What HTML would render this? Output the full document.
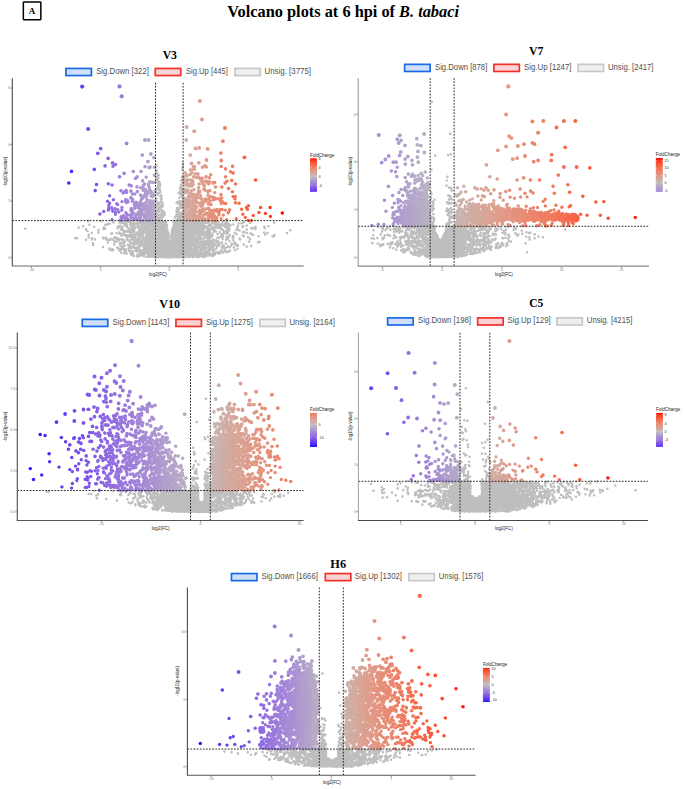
<!DOCTYPE html><html><head><meta charset="utf-8"><style>html,body{margin:0;padding:0;background:#fff;}svg{display:block}</style></head><body><svg width="685" height="789" viewBox="0 0 685 789"><rect width="685" height="789" fill="#fff"/><rect x="23.35" y="1.95" width="17.5" height="17.7" fill="none" stroke="#000" stroke-width="1.5" rx="0.6"/><text x="32" y="14" font-family="'Liberation Serif', serif" font-weight="bold" font-size="9.0" text-anchor="middle">A</text><text x="227.3" y="17.0" font-family="'Liberation Serif', serif" font-weight="bold" font-size="16.4" textLength="231.7" lengthAdjust="spacingAndGlyphs">Volcano plots at 6 hpi of <tspan font-style="italic">B. tabaci</tspan></text><g fill="none" stroke-linecap="round"><path stroke="#bebebe" stroke-width="2.6" d="M25.3 228.7h0M75.3 238.1h0M77.2 238.2h0M78.7 227.6h0M83 226.3h0M85.9 239.8h0M86 229.4h0M87.4 231h0M88.2 220.9h0M88.6 237.4h0M88.7 234.9h0M89.3 224.8h0M91.6 239.5h0M91.7 233h0M92.2 238.3h0M92.9 243.2h0M93.2 245h0M94.1 226.7h0M94.9 239.4h0M98.3 232.8h0M98.6 230.3h0M100.7 221h0M103 237.8h0M103 247.1h0M103.5 229h0M103.6 238.4h0M104 227.2h0M105.1 228.8h0M105.4 224.8h0M106 237.8h0M106.4 239.5h0M107.3 224.5h0M107.9 242.6h0M107.9 223.9h0M108.1 239.9h0M109.4 223.8h0M109.4 249.5h0M109.6 248.5h0M110.3 239.9h0M110.7 238.7h0M111.3 233.5h0M111.7 249.5h0M112 233.4h0M112.1 250.4h0M112.3 249.4h0M113 239.7h0M113.2 249.7h0M113.6 222.5h0M114.1 244.6h0M114.2 238h0M114.6 241.8h0M114.7 241.2h0M114.8 237.2h0M115.5 242h0M116.6 233.2h0M116.7 238.9h0M117 237.7h0M117.3 247.5h0M117.4 241.1h0M117.5 228.1h0M117.6 240.2h0M117.9 248.2h0M118.1 226.6h0M118.8 240.2h0M119.1 232.5h0M119.1 239.1h0M119.3 222.5h0M119.4 248.8h0M119.4 226.7h0M119.5 226.4h0M119.6 233.6h0M119.6 250.8h0M119.9 243.1h0M120.3 245.5h0M120.3 225.9h0M120.4 250.2h0M120.8 229.7h0M120.8 243.4h0M121.1 233.7h0M121.2 252.7h0M121.4 235.8h0M121.4 242.7h0M121.5 239.4h0M121.7 235.5h0M121.7 223.1h0M121.7 248.4h0M121.8 228.1h0M122.3 246.4h0M122.4 227h0M123 221h0M123.1 230h0M123.1 242.2h0M123.3 239.9h0M123.3 248.2h0M123.4 231.4h0M123.6 249.4h0M123.6 222.6h0M123.7 233.8h0M123.7 243.7h0M123.7 234.1h0M123.8 234.2h0M124.2 253.3h0M124.5 225.1h0M124.5 245.7h0M124.7 251.4h0M124.7 250.3h0M124.8 224.4h0M124.9 241.8h0M124.9 231.4h0M125.2 252.1h0M125.3 235.7h0M125.5 252.6h0M125.6 249.2h0M125.7 250.3h0M125.8 224.9h0M125.8 225.8h0M125.8 234.9h0M125.9 222.4h0M125.9 231.4h0M125.9 249.7h0M126 249.8h0M126.1 250.4h0M126.2 222.9h0M126.3 221.2h0M126.6 224.3h0M126.7 239.4h0M126.7 225.3h0M126.8 253.5h0M126.8 235.2h0M126.8 224.7h0M126.8 226.8h0M127.3 236.1h0M127.4 237.7h0M127.4 221h0M127.6 237.3h0M127.8 244.7h0M128 231.6h0M128.2 245.2h0M128.3 227.7h0M128.4 240.4h0M128.4 230.3h0M128.5 235.8h0M128.7 229.3h0M128.8 248.4h0M129.1 236.2h0M129.1 221.9h0M129.2 230.6h0M129.2 250.6h0M129.3 247h0M129.4 231.2h0M129.7 241.1h0M129.7 232h0M129.8 234.8h0M129.8 251.6h0M129.9 220.7h0M130 224.6h0M130.2 251.5h0M130.3 240.6h0M130.3 245.1h0M130.4 242.9h0M130.5 246.3h0M130.6 253.5h0M130.7 246.2h0M130.7 234.3h0M130.7 248.1h0M130.8 222.8h0M130.9 252h0M131 254.5h0M131 232.6h0M131 229.1h0M131.1 228.9h0M131.1 235.3h0M131.2 236.9h0M131.3 235.3h0M131.4 223h0M131.5 235.3h0M131.6 227.9h0M131.7 226.6h0M131.7 237.8h0M131.7 255.3h0M131.7 232.5h0M131.8 228.1h0M131.8 238.9h0M131.9 226.5h0M132 250.7h0M132.1 230.8h0M132.1 254.4h0M132.1 226.2h0M132.4 247.2h0M132.5 225.2h0M132.6 242.9h0M132.7 252.3h0M132.8 243.1h0M132.8 243.4h0M132.9 253.8h0M132.9 221.8h0M132.9 247.2h0M133 220.7h0M133.1 228.8h0M133.1 221.6h0M133.2 254.6h0M133.2 236.9h0M133.3 223.2h0M133.3 236.2h0M133.4 237.9h0M133.4 235h0M133.5 229.4h0M133.5 240.5h0M133.5 228.1h0M133.5 247.5h0M133.6 229h0M133.6 222.9h0M133.7 234.6h0M133.7 245.6h0M134 227.3h0M134 256h0M134.1 232h0M134.1 235.5h0M134.1 224.6h0M134.2 230.9h0M134.3 234.4h0M134.4 247.7h0M134.5 226.5h0M134.6 236.4h0M134.6 234.6h0M134.6 233.3h0M134.6 242.4h0M134.6 228.7h0M134.6 247.6h0M134.8 242.3h0M135 240.7h0M135 250.7h0M135.1 227.2h0M135.2 243.7h0M135.2 238h0M135.5 239.1h0M135.5 234.8h0M135.8 249.8h0M135.8 241.2h0M135.8 234.6h0M135.9 244.1h0M136 223.8h0M136.3 249.6h0M136.3 243.8h0M136.3 223.4h0M136.4 240.3h0M136.5 234.8h0M136.5 247.5h0M136.6 235.5h0M136.6 239.7h0M136.7 223.8h0M136.8 235.1h0M136.9 251h0M136.9 251.5h0M137 248.3h0M137 251h0M137 223.2h0M137.1 256.5h0M137.1 226.8h0M137.1 239.2h0M137.2 232.6h0M137.3 235h0M137.3 241.6h0M137.3 233h0M137.4 240.3h0M137.5 254.6h0M137.5 255.5h0M137.6 248.3h0M137.6 226.7h0M137.6 255.2h0M137.6 234.8h0M137.6 256h0M137.8 233.4h0M137.8 238.8h0M138.1 224.1h0M138.1 226.6h0M138.1 242.5h0M138.3 238h0M138.3 254.9h0M138.4 232.4h0M138.4 233h0M138.4 223.5h0M138.5 227.8h0M138.5 245.3h0M138.6 247.4h0M138.6 256.3h0M138.8 243.8h0M138.8 240.7h0M138.8 232.7h0M138.8 249.9h0M138.8 249.3h0M138.9 246h0M138.9 221.2h0M139 233.8h0M139.1 244.5h0M139.1 251.3h0M139.1 243.9h0M139.2 255.8h0M139.2 244.2h0M139.3 229.4h0M139.4 223.2h0M139.4 233.3h0M139.5 246.6h0M139.6 252.1h0M139.6 244.8h0M139.6 223h0M139.7 245.4h0M139.7 231.7h0M139.7 236.3h0M139.8 238.5h0M139.8 231.9h0M139.8 252.1h0M139.8 235.7h0M139.8 251.7h0M139.8 246.6h0M139.9 220.7h0M139.9 226.2h0M140 233.2h0M140 253.9h0M140 240.2h0M140 238.7h0M140 245.6h0M140.1 254.7h0M140.1 231.5h0M140.1 237.2h0M140.3 245.5h0M140.3 244.9h0M140.5 233.5h0M140.5 221.6h0M140.5 250.1h0M140.6 255h0M140.8 241.3h0M140.9 226h0M140.9 242.7h0M140.9 235.8h0M141 230.8h0M141 228.7h0M141.1 234.7h0M141.1 255.5h0M141.2 226.4h0M141.2 252h0M141.2 226.1h0M141.3 233.6h0M141.3 240.4h0M141.3 245.6h0M141.4 230.7h0M141.4 222.2h0M141.5 230.6h0M141.5 228.5h0M141.5 228.8h0M141.5 229.9h0M141.6 252h0M141.6 222.3h0M141.6 252.7h0M141.7 241.2h0M141.8 224.3h0M141.9 251.8h0M142 254.8h0M142 233.1h0M142.1 240.5h0M142.2 252.2h0M142.2 221.5h0M142.5 235.8h0M142.5 240.5h0M142.7 234.3h0M142.7 244.3h0M142.7 238.4h0M142.9 236.1h0M142.9 254.7h0M143 250.2h0M143 238.8h0M143 239.6h0M143.2 233.9h0M143.2 244h0M143.3 227.6h0M143.3 238h0M143.4 253.8h0M143.4 252h0M143.4 229.7h0M143.6 244.1h0M143.6 229.4h0M143.6 225.3h0M143.6 233.1h0M143.6 231.2h0M143.8 231.2h0M143.8 247.4h0M143.9 242.5h0M143.9 248.1h0M143.9 228.1h0M144 238.7h0M144 224.2h0M144 255.8h0M144.1 228.6h0M144.1 223.4h0M144.1 252.9h0M144.1 256.4h0M144.1 251.9h0M144.2 251.1h0M144.2 245.5h0M144.3 250.2h0M144.3 254h0M144.3 227h0M144.3 249.9h0M144.3 243.1h0M144.4 226.8h0M144.4 246.9h0M144.5 225.2h0M144.6 229.4h0M144.6 252.5h0M144.7 227.6h0M144.7 238.1h0M144.7 247.3h0M144.8 225.5h0M144.9 247.1h0M144.9 224.2h0M144.9 247.4h0M145 222.3h0M145 224.4h0M145.1 241.7h0M145.1 225.8h0M145.2 246.9h0M145.2 250.9h0M145.2 229.9h0M145.3 240.2h0M145.3 225.9h0M145.4 229.8h0M145.4 226.5h0M145.4 248.9h0M145.4 222.5h0M145.4 223.6h0M145.5 221h0M145.6 237.2h0M145.6 249.6h0M145.7 249h0M145.8 241h0M145.9 221.8h0M145.9 228.8h0M145.9 233h0M146 222.3h0M146 227.7h0M146.1 227.9h0M146.2 247.7h0M146.2 235.6h0M146.2 233.3h0M146.2 251.8h0M146.2 253.3h0M146.3 221.7h0M146.3 242.7h0M146.3 227.1h0M146.3 244.2h0M146.4 226.2h0M146.4 251.3h0M146.5 247.2h0M146.5 248.4h0M146.5 228h0M146.5 241.8h0M146.5 245h0M146.6 237.4h0M146.7 246.1h0M146.7 231.3h0M146.7 244.6h0M146.8 236.9h0M146.8 226.5h0M146.9 237.4h0M146.9 252.7h0M146.9 226.3h0M146.9 230.5h0M147 232.1h0M147 243.9h0M147 256.9h0M147.1 240.4h0M147.2 222.9h0M147.2 220.9h0M147.2 226.3h0M147.2 239.5h0M147.4 248.6h0M147.4 239.9h0M147.4 229.3h0M147.4 238.8h0M147.5 240.5h0M147.5 221.8h0M147.5 226.2h0M147.6 250h0M147.6 235.7h0M147.7 246.3h0M147.7 225.9h0M147.8 227.5h0M147.8 254.3h0M148 249.8h0M148 222.1h0M148 223.7h0M148.1 223.3h0M148.1 254.8h0M148.1 241.7h0M148.1 245.9h0M148.1 226.6h0M148.1 249.7h0M148.1 251.6h0M148.2 222.1h0M148.2 223.9h0M148.3 226.3h0M148.3 234h0M148.4 240.3h0M148.4 249.6h0M148.4 253.2h0M148.4 240.7h0M148.4 244.2h0M148.5 222.4h0M148.5 256.4h0M148.5 235.1h0M148.5 255.4h0M148.6 234h0M148.6 244.8h0M148.6 238.2h0M148.6 227.3h0M148.6 244.8h0M148.7 244.9h0M148.7 237.2h0M148.8 246.7h0M148.8 232.3h0M148.8 225h0M148.8 232.8h0M148.9 226h0M148.9 255.4h0M148.9 233.3h0M148.9 244.6h0M148.9 230.9h0M149 243.8h0M149 227.7h0M149.1 235h0M149.2 253.1h0M149.3 247.7h0M149.3 224.4h0M149.3 224.1h0M149.4 227.7h0M149.4 222.4h0M149.4 250.8h0M149.4 242.6h0M149.5 246.8h0M149.5 247.6h0M149.5 247.8h0M149.5 233h0M149.7 241.2h0M149.8 238.8h0M149.8 236.3h0M149.8 243.9h0M149.8 234.2h0M149.9 227.2h0M149.9 254.4h0M149.9 247.2h0M149.9 255.6h0M149.9 238.4h0M149.9 232.9h0M150 252h0M150 231.4h0M150 228h0M150.1 225.5h0M150.1 245.5h0M150.2 250.5h0M150.2 243.6h0M150.2 241h0M150.4 247.3h0M150.4 237.2h0M150.4 235.6h0M150.4 229.9h0M150.4 241.7h0M150.5 254.5h0M150.5 242.9h0M150.6 241h0M150.6 234.9h0M150.6 227h0M150.6 256.8h0M150.6 249h0M150.7 241.7h0M150.7 245.7h0M150.7 253.9h0M150.8 238.9h0M150.9 237.6h0M150.9 227.9h0M150.9 223h0M150.9 246.5h0M150.9 229.6h0M151 250.3h0M151 235.4h0M151 225.9h0M151 228.1h0M151 251.2h0M151 240.8h0M151.1 242.3h0M151.1 228.1h0M151.1 241.4h0M151.1 225.7h0M151.1 220.9h0M151.1 250.8h0M151.2 233.8h0M151.2 228.5h0M151.3 231.1h0M151.3 246.1h0M151.3 250.4h0M151.3 238h0M151.3 224.3h0M151.4 252.9h0M151.4 255.4h0M151.4 221.8h0M151.4 255.6h0M151.5 231.8h0M151.5 230.5h0M151.6 250.6h0M151.6 224.4h0M151.6 244.9h0M151.7 236.4h0M151.7 250.3h0M151.7 237.5h0M151.7 231.2h0M151.8 246.9h0M151.8 255.4h0M151.8 229.7h0M151.8 250.7h0M151.8 234.4h0M151.9 252.7h0M151.9 242h0M151.9 248.9h0M151.9 228.8h0M151.9 237.9h0M152 234.8h0M152 233.1h0M152 228h0M152.1 221h0M152.1 232.7h0M152.1 230.3h0M152.2 256.6h0M152.2 235.8h0M152.2 223.4h0M152.3 244.7h0M152.3 254.6h0M152.3 235.6h0M152.3 231.6h0M152.3 252.1h0M152.3 221.6h0M152.4 231.2h0M152.4 246.8h0M152.5 248.2h0M152.5 235.1h0M152.5 241.6h0M152.7 241.7h0M152.7 256.5h0M152.7 225.3h0M152.8 252.2h0M152.8 251.4h0M153 228.5h0M153 246.6h0M153 232.7h0M153 254.5h0M153.1 255.6h0M153.1 232.8h0M153.2 247.3h0M153.2 239.2h0M153.2 248.1h0M153.2 236.6h0M153.3 249.4h0M153.3 233.2h0M153.3 225.9h0M153.4 241.8h0M153.5 242.8h0M153.7 230.6h0M153.7 225.3h0M153.7 239h0M153.8 222.9h0M153.8 254.9h0M153.9 235.6h0M153.9 227.9h0M153.9 253.3h0M154 248h0M154 254.1h0M154.1 240.1h0M154.1 245.6h0M154.1 255.9h0M154.1 237h0M154.1 227.4h0M154.2 235.1h0M154.2 255.5h0M154.3 222.3h0M154.3 254.7h0M154.3 230.1h0M154.4 230h0M154.4 221.9h0M154.5 242.9h0M154.5 248.3h0M154.5 223.1h0M154.5 242h0M154.5 250.1h0M154.6 246h0M154.6 241.4h0M154.6 224.5h0M154.6 240.8h0M154.6 232.1h0M154.7 247.9h0M154.7 235.8h0M154.8 237.1h0M154.8 233.9h0M154.8 237h0M154.8 226.5h0M154.8 257.1h0M154.9 246.2h0M154.9 246.8h0M154.9 244.7h0M154.9 248.6h0M154.9 251.1h0M154.9 234.3h0M154.9 231.8h0M154.9 230.2h0M155 244.7h0M155 226.5h0M155 246h0M155 244.9h0M155 250.4h0M155.1 222.5h0M155.1 226h0M155.1 225.7h0M155.1 237.5h0M155.1 250.6h0M155.1 250.5h0M155.1 256.9h0M155.2 224.1h0M155.2 242.3h0M155.2 254.8h0M155.3 251.8h0M155.3 230.6h0M155.4 227.8h0M155.4 222.7h0M155.4 226.4h0M155.5 222.3h0M155.5 248.7h0M155.5 255.7h0M155.6 236.6h0M155.6 234.5h0M155.7 238.4h0M155.7 248.5h0M155.7 241.4h0M155.7 254.1h0M155.7 226.1h0M155.8 253.6h0M155.8 222.7h0M155.9 246.7h0M155.9 229h0M155.9 242.2h0M155.9 224.1h0M155.9 233.8h0M155.9 256.2h0M156 240.7h0M156.1 245.7h0M156.2 230.9h0M156.2 256.4h0M156.2 226.9h0M156.2 257h0M156.2 239.2h0M156.2 241.7h0M156.2 211.9h0M156.2 255.5h0M156.3 169.8h0M156.3 246.8h0M156.3 212.9h0M156.3 245.9h0M156.3 231h0M156.3 179.1h0M156.3 199.7h0M156.3 236.9h0M156.3 239.8h0M156.3 254.4h0M156.3 234.9h0M156.3 251.2h0M156.3 251.9h0M156.3 166.1h0M156.4 198.5h0M156.4 242.4h0M156.4 244.7h0M156.4 253.8h0M156.4 226.2h0M156.4 218.1h0M156.4 243.4h0M156.4 165.8h0M156.4 252.6h0M156.4 239.3h0M156.5 245.9h0M156.5 234.6h0M156.5 240.1h0M156.5 241.1h0M156.5 256.5h0M156.5 246h0M156.5 171.6h0M156.6 233.8h0M156.6 252.1h0M156.6 244.6h0M156.6 192.7h0M156.6 237.9h0M156.6 219h0M156.6 216.1h0M156.7 244.6h0M156.7 241.6h0M156.7 234.8h0M156.7 254h0M156.7 257.3h0M156.7 225.6h0M156.7 239.9h0M156.7 245h0M156.7 206.4h0M156.8 247.3h0M156.8 228.6h0M156.8 219.1h0M156.8 240.8h0M156.8 244.6h0M156.8 240.7h0M156.8 215.1h0M156.8 243.6h0M156.8 246h0M156.8 253.2h0M156.8 251.7h0M156.8 250.4h0M156.8 249.5h0M156.8 244.1h0M156.8 239.3h0M156.8 247.6h0M156.9 248h0M156.9 251.9h0M156.9 253.9h0M156.9 236.7h0M156.9 256.1h0M156.9 236.6h0M156.9 226.8h0M156.9 226.2h0M156.9 251.4h0M156.9 221.3h0M156.9 238.6h0M156.9 256.8h0M156.9 244.3h0M156.9 218.6h0M156.9 205.3h0M156.9 252.7h0M156.9 239.8h0M156.9 257.2h0M157 227h0M157 256.1h0M157 247h0M157 249.9h0M157 233.8h0M157 177.6h0M157 251.8h0M157 246.7h0M157 256.5h0M157.1 234.1h0M157.1 255.7h0M157.1 249.1h0M157.1 226.7h0M157.1 220.7h0M157.1 237.8h0M157.1 188.9h0M157.1 219.5h0M157.1 173.2h0M157.1 202.5h0M157.2 220.7h0M157.2 177.4h0M157.2 254.3h0M157.2 248.6h0M157.2 250.9h0M157.2 239.5h0M157.3 255.6h0M157.3 178.9h0M157.3 229.5h0M157.3 221.2h0M157.3 244.8h0M157.3 237.8h0M157.3 248.1h0M157.3 211.4h0M157.4 252.5h0M157.4 234h0M157.4 208.9h0M157.4 252.6h0M157.4 237.5h0M157.4 252.4h0M157.4 180.9h0M157.4 254.5h0M157.4 240.7h0M157.5 255.8h0M157.5 214.5h0M157.5 256.5h0M157.5 230.8h0M157.5 244h0M157.5 174.1h0M157.5 182h0M157.5 224.1h0M157.5 245.8h0M157.5 223.6h0M157.5 249.3h0M157.5 230.1h0M157.5 241.5h0M157.6 176.1h0M157.6 187.9h0M157.6 220.2h0M157.6 242.1h0M157.6 186.6h0M157.6 255.2h0M157.6 254.4h0M157.6 244.3h0M157.7 232.8h0M157.7 246.1h0M157.7 242.4h0M157.7 221h0M157.7 248.8h0M157.7 244.7h0M157.7 221.8h0M157.8 250.5h0M157.8 233.2h0M157.8 195h0M157.8 251.1h0M157.8 178.4h0M157.9 222h0M157.9 247.4h0M157.9 238.1h0M157.9 239.7h0M157.9 255.9h0M157.9 233.1h0M157.9 194.7h0M157.9 220.7h0M158 218.1h0M158 184.5h0M158 240h0M158 248.9h0M158.1 233.1h0M158.1 251.6h0M158.1 225.2h0M158.1 208.9h0M158.1 252.2h0M158.1 223.3h0M158.1 243.3h0M158.1 255.8h0M158.1 182.9h0M158.1 204.2h0M158.1 255.6h0M158.2 182.4h0M158.2 230h0M158.2 235.7h0M158.2 239.3h0M158.2 247.6h0M158.2 250.6h0M158.2 236.3h0M158.2 240.8h0M158.3 232.1h0M158.3 237.6h0M158.3 229.3h0M158.3 178.1h0M158.3 246.1h0M158.3 249.5h0M158.4 243.7h0M158.4 241h0M158.4 248.7h0M158.4 255.2h0M158.4 242.5h0M158.5 228.8h0M158.5 240.7h0M158.5 234.3h0M158.5 244.1h0M158.5 246.3h0M158.5 240.8h0M158.5 218h0M158.5 255.9h0M158.5 224.7h0M158.5 239.5h0M158.5 253.9h0M158.6 250.7h0M158.6 233.3h0M158.6 221.5h0M158.6 228.2h0M158.6 228.4h0M158.6 209.5h0M158.6 252.2h0M158.6 248.5h0M158.6 233.6h0M158.6 229h0M158.6 212h0M158.6 252.7h0M158.7 247.5h0M158.7 189.6h0M158.7 254.7h0M158.7 250.4h0M158.7 253.1h0M158.7 175.2h0M158.7 253h0M158.7 237.2h0M158.8 244.1h0M158.8 250h0M158.8 242.5h0M158.8 254.3h0M158.8 248.3h0M158.8 218.4h0M158.8 243.2h0M158.8 230.9h0M158.8 230.9h0M158.8 252.2h0M158.8 232.6h0M158.8 252.7h0M158.8 237.3h0M158.8 255.5h0M158.8 254.2h0M158.9 257.1h0M158.9 220.9h0M158.9 256.5h0M158.9 242.9h0M158.9 242h0M159 256.7h0M159 228.1h0M159 227.1h0M159 247h0M159 181.8h0M159 238h0M159 202.7h0M159 238.1h0M159 215h0M159 245.3h0M159.1 238.5h0M159.1 236.8h0M159.1 193h0M159.1 234.1h0M159.1 242.2h0M159.1 246.7h0M159.1 230.7h0M159.2 237.7h0M159.2 237.2h0M159.2 207.8h0M159.2 236.4h0M159.2 253.8h0M159.2 245.6h0M159.2 230h0M159.2 223.1h0M159.2 255.7h0M159.2 256.1h0M159.2 231.6h0M159.3 243h0M159.3 223.3h0M159.3 226.4h0M159.3 240.9h0M159.3 252.7h0M159.3 222.1h0M159.3 248.2h0M159.3 220.6h0M159.3 237.2h0M159.3 244.7h0M159.3 221.5h0M159.4 221.8h0M159.4 233h0M159.4 229.8h0M159.4 231.7h0M159.4 211h0M159.4 241.1h0M159.4 242.6h0M159.4 256h0M159.4 206.7h0M159.4 249.1h0M159.4 255.6h0M159.4 249.7h0M159.5 251.1h0M159.5 255h0M159.5 235.6h0M159.5 239h0M159.5 225.7h0M159.5 243.3h0M159.5 203.4h0M159.5 186.9h0M159.5 255.6h0M159.6 221.2h0M159.6 230.7h0M159.6 188.4h0M159.6 251.2h0M159.6 224.3h0M159.6 240.6h0M159.6 221.9h0M159.7 240.7h0M159.7 182.7h0M159.7 223.1h0M159.7 217.7h0M159.7 217.9h0M159.7 225.8h0M159.7 190.1h0M159.7 238.7h0M159.7 221.6h0M159.7 241.6h0M159.8 234.5h0M159.8 232.7h0M159.8 234.8h0M159.8 236.5h0M159.8 252.6h0M159.8 232.1h0M159.8 243.5h0M159.9 236.2h0M159.9 236.8h0M159.9 209.8h0M159.9 242.5h0M159.9 255.8h0M159.9 256h0M159.9 232h0M159.9 254h0M159.9 249.8h0M159.9 207.7h0M159.9 208.1h0M160 221.9h0M160 245.9h0M160 255h0M160 229.4h0M160.1 256.9h0M160.1 256.5h0M160.1 254.6h0M160.1 220.7h0M160.1 241.5h0M160.1 230.6h0M160.2 254.8h0M160.2 229.9h0M160.2 256h0M160.2 256.3h0M160.3 220.7h0M160.3 243.3h0M160.3 256.3h0M160.3 235.4h0M160.3 229.7h0M160.3 225h0M160.3 243.3h0M160.3 233.5h0M160.3 256.1h0M160.3 245.8h0M160.3 245h0M160.3 240.7h0M160.4 236h0M160.4 243.4h0M160.4 232.1h0M160.4 184.7h0M160.4 250.6h0M160.4 237.7h0M160.5 244.4h0M160.5 237.3h0M160.5 223.2h0M160.5 220.6h0M160.5 205.7h0M160.5 246.4h0M160.5 221.3h0M160.5 228.5h0M160.5 224h0M160.5 192.1h0M160.5 196.4h0M160.5 224.5h0M160.6 246.8h0M160.6 198.2h0M160.6 250.7h0M160.6 254.8h0M160.6 222.4h0M160.7 247.4h0M160.7 239.9h0M160.7 216.2h0M160.7 237h0M160.7 230.7h0M160.8 246.2h0M160.8 229h0M160.8 252.1h0M160.8 206.5h0M160.9 222h0M160.9 243.2h0M160.9 238.7h0M160.9 255.6h0M160.9 249.2h0M160.9 243.1h0M161 226.7h0M161 252.7h0M161 231.9h0M161 247.3h0M161 209.2h0M161 213.7h0M161 228.6h0M161 224.2h0M161.1 242h0M161.1 238.6h0M161.1 228.6h0M161.1 238.1h0M161.1 240.8h0M161.1 245.6h0M161.1 243.6h0M161.1 249.2h0M161.2 227.8h0M161.2 217.2h0M161.2 201.3h0M161.2 256.8h0M161.2 249.8h0M161.2 195.4h0M161.3 244.9h0M161.3 230.3h0M161.3 255.3h0M161.3 226.5h0M161.3 206.4h0M161.3 219.5h0M161.3 219h0M161.3 232.1h0M161.3 227.9h0M161.3 223.9h0M161.4 231.3h0M161.4 248.9h0M161.4 234.2h0M161.4 256.8h0M161.4 256.2h0M161.4 243.7h0M161.4 220.7h0M161.4 257h0M161.4 221.8h0M161.4 229.3h0M161.4 238.7h0M161.4 230.7h0M161.4 232.7h0M161.4 251.6h0M161.4 244.2h0M161.5 251.6h0M161.5 236.2h0M161.5 248.9h0M161.5 199.4h0M161.5 251.2h0M161.5 245.2h0M161.5 222.8h0M161.5 197.3h0M161.5 254.9h0M161.5 233.2h0M161.5 253.6h0M161.5 243.1h0M161.6 252.9h0M161.6 216.2h0M161.6 251.8h0M161.6 251.1h0M161.6 237.8h0M161.6 219.1h0M161.6 225.2h0M161.6 213.5h0M161.6 205.6h0M161.7 220.1h0M161.7 233h0M161.7 250.5h0M161.7 220.7h0M161.7 244.1h0M161.7 251.8h0M161.7 238.5h0M161.8 228.9h0M161.8 219.4h0M161.8 231.5h0M161.8 237.9h0M161.8 237.5h0M161.8 232.5h0M161.8 254h0M161.8 256.4h0M161.8 227.9h0M161.9 229.3h0M161.9 254.5h0M161.9 232.7h0M161.9 240.6h0M161.9 253h0M161.9 223.4h0M161.9 202.3h0M161.9 232.8h0M161.9 231.1h0M162 232.3h0M162 252.1h0M162 245.6h0M162 227.4h0M162 243.1h0M162 233.4h0M162 243.8h0M162 249.5h0M162 256.6h0M162.1 228.9h0M162.1 227.9h0M162.1 234.2h0M162.1 232.7h0M162.1 243.9h0M162.1 243.2h0M162.1 227.4h0M162.1 212.9h0M162.1 231.7h0M162.2 243.7h0M162.2 225.9h0M162.2 230.3h0M162.2 244.8h0M162.2 253.1h0M162.2 248.8h0M162.2 211.1h0M162.2 245.7h0M162.2 222.7h0M162.3 230.8h0M162.3 211.2h0M162.3 228h0M162.3 249.4h0M162.4 254.2h0M162.4 252.5h0M162.4 255.6h0M162.4 249.7h0M162.5 225h0M162.5 247.6h0M162.5 228.8h0M162.5 256.3h0M162.5 226.9h0M162.5 228.5h0M162.5 241.4h0M162.5 213.3h0M162.5 217h0M162.6 237.4h0M162.6 243h0M162.6 253.5h0M162.6 240.5h0M162.6 254.3h0M162.7 206.6h0M162.7 245.2h0M162.7 227.8h0M162.7 246.1h0M162.7 256.7h0M162.7 227.5h0M162.7 238.1h0M162.8 251.9h0M162.8 235.3h0M162.8 241.2h0M162.8 235.8h0M162.8 243.2h0M162.8 203.9h0M162.8 247.4h0M162.8 250.3h0M162.8 226.7h0M162.9 227.6h0M162.9 247.9h0M162.9 251.5h0M162.9 221.8h0M162.9 255.8h0M162.9 242h0M162.9 231.7h0M163 249.2h0M163 254.7h0M163 246.8h0M163 243.2h0M163 248.2h0M163 251h0M163 253.7h0M163 256.9h0M163 254.7h0M163.1 241.6h0M163.1 210.9h0M163.1 254h0M163.1 249.7h0M163.1 238.4h0M163.1 249.1h0M163.1 254.3h0M163.1 252.7h0M163.2 226h0M163.2 234h0M163.2 243.3h0M163.2 246.8h0M163.2 246.5h0M163.2 253.5h0M163.2 256.2h0M163.2 225.9h0M163.3 222.8h0M163.3 244h0M163.3 253.5h0M163.3 223.9h0M163.3 215.7h0M163.3 252.6h0M163.4 236.7h0M163.4 230.3h0M163.4 225.6h0M163.4 236.8h0M163.4 223.8h0M163.4 215.6h0M163.4 242.2h0M163.4 222.6h0M163.4 228.3h0M163.4 232.3h0M163.4 222.4h0M163.4 251.4h0M163.5 246.4h0M163.5 224.4h0M163.5 254.8h0M163.5 234.2h0M163.5 229.4h0M163.6 224.3h0M163.6 248.4h0M163.6 248.9h0M163.6 226.3h0M163.7 250.2h0M163.7 251.6h0M163.7 215.4h0M163.7 222.6h0M163.7 239.6h0M163.7 256.8h0M163.7 234.1h0M163.7 228.9h0M163.7 224h0M163.8 231.7h0M163.8 223.1h0M163.8 226.5h0M163.8 241.1h0M163.8 247.4h0M163.8 256.3h0M163.9 215.5h0M163.9 247.7h0M163.9 256.3h0M163.9 240.8h0M163.9 228.6h0M163.9 249.6h0M163.9 227h0M163.9 224.5h0M164 251.2h0M164 233.8h0M164 238.5h0M164 248.9h0M164 257.1h0M164 231.2h0M164.1 221.8h0M164.1 254.7h0M164.1 232.8h0M164.1 253h0M164.2 245.2h0M164.2 225.5h0M164.2 249.3h0M164.2 249.8h0M164.3 228.2h0M164.3 244.3h0M164.3 226.6h0M164.3 228.3h0M164.3 244.6h0M164.3 213.9h0M164.4 228.3h0M164.4 255.3h0M164.4 225.7h0M164.4 229.4h0M164.4 253.7h0M164.4 253.8h0M164.4 222.2h0M164.5 226.7h0M164.5 225.8h0M164.5 245.7h0M164.5 234.2h0M164.5 249.4h0M164.5 248.8h0M164.5 233.5h0M164.5 242.6h0M164.5 212.5h0M164.6 236.2h0M164.6 227.9h0M164.6 241.3h0M164.6 230.4h0M164.6 243.9h0M164.6 231.8h0M164.6 226.6h0M164.6 257h0M164.7 243.6h0M164.7 234.6h0M164.7 245.7h0M164.7 214.9h0M164.7 243.1h0M164.8 228.5h0M164.8 253h0M164.8 256.4h0M164.8 246.8h0M164.8 248.9h0M164.8 247.5h0M164.9 232.9h0M164.9 255.6h0M164.9 247.3h0M164.9 236.4h0M164.9 254.6h0M164.9 255.2h0M165 220.7h0M165 229.3h0M165 240.5h0M165 236.3h0M165 227.5h0M165.1 239.8h0M165.1 223.7h0M165.1 223.4h0M165.1 253.3h0M165.1 255.3h0M165.1 229.7h0M165.1 235.8h0M165.2 221.1h0M165.2 240h0M165.2 257.2h0M165.2 247.9h0M165.2 227.6h0M165.2 243.9h0M165.2 221.4h0M165.3 227.9h0M165.3 236.4h0M165.3 254.8h0M165.3 241.2h0M165.3 222.9h0M165.3 227.8h0M165.3 227.7h0M165.4 237.9h0M165.4 249.3h0M165.4 234.1h0M165.4 227.1h0M165.4 225.8h0M165.4 247.3h0M165.5 250.1h0M165.5 254.9h0M165.5 235.5h0M165.5 241.2h0M165.5 224h0M165.5 237.6h0M165.6 255.4h0M165.6 239.2h0M165.6 231.6h0M165.6 230.2h0M165.6 247.2h0M165.7 221.7h0M165.7 238h0M165.7 239.6h0M165.7 254.2h0M165.7 252.8h0M165.8 226.6h0M165.8 248.3h0M165.8 224.6h0M165.8 236.1h0M165.8 226.1h0M165.8 223.8h0M165.9 238.1h0M165.9 250.5h0M165.9 235.8h0M165.9 233.3h0M165.9 255.9h0M165.9 231.3h0M165.9 234.3h0M165.9 232.6h0M166 255.4h0M166 230.9h0M166 240.2h0M166.1 238.4h0M166.1 247.6h0M166.1 233.1h0M166.1 247.8h0M166.2 251.3h0M166.2 222.2h0M166.2 247.3h0M166.2 253.6h0M166.3 228.4h0M166.3 245.6h0M166.3 234.6h0M166.3 229h0M166.3 236h0M166.4 233.6h0M166.4 246h0M166.4 251h0M166.4 252.2h0M166.4 227h0M166.4 248h0M166.4 226.5h0M166.5 247.2h0M166.5 236h0M166.5 225.9h0M166.5 247.5h0M166.6 224.7h0M166.6 240h0M166.6 246.5h0M166.6 237.3h0M166.6 224.9h0M166.6 253.4h0M166.6 226h0M166.6 246.4h0M166.7 239.6h0M166.7 245.5h0M166.7 256.6h0M166.7 239.6h0M166.7 239.8h0M166.7 234.9h0M166.8 234.2h0M166.8 236.8h0M166.8 257.2h0M166.8 236h0M166.8 256.6h0M166.8 253.8h0M166.8 251.9h0M166.8 242.9h0M166.8 237.4h0M166.9 253.3h0M166.9 235.6h0M166.9 245.5h0M166.9 236h0M166.9 226.5h0M166.9 238.4h0M166.9 231.7h0M166.9 246h0M167 254.8h0M167 245.6h0M167 249.2h0M167 254.6h0M167 256.6h0M167 225.2h0M167.1 249.4h0M167.1 243h0M167.1 250.7h0M167.1 253h0M167.1 235.2h0M167.1 255.7h0M167.2 245.7h0M167.2 231.6h0M167.2 246.5h0M167.2 237.6h0M167.2 229.8h0M167.2 249.1h0M167.3 250.2h0M167.3 231.4h0M167.4 252.6h0M167.4 229.6h0M167.4 255.6h0M167.4 250.6h0M167.4 236.8h0M167.5 252.3h0M167.5 245h0M167.5 247.9h0M167.5 242.7h0M167.5 249.8h0M167.6 241h0M167.6 234.7h0M167.6 256.8h0M167.6 233.2h0M167.7 234.3h0M167.7 236.4h0M167.7 256.5h0M167.8 232.7h0M167.8 254.5h0M167.8 254.7h0M167.8 243.5h0M167.8 240.7h0M167.8 235h0M167.9 255h0M167.9 232.3h0M167.9 245h0M167.9 244h0M168 251.5h0M168 237.8h0M168 249.9h0M168 239.3h0M168.1 257.2h0M168.1 252.6h0M168.1 253.1h0M168.1 232.9h0M168.1 255.6h0M168.1 240.7h0M168.1 232.2h0M168.1 245.6h0M168.1 241.7h0M168.1 246.3h0M168.2 255.9h0M168.2 253.4h0M168.2 245.4h0M168.2 235.4h0M168.3 237.9h0M168.3 241.9h0M168.3 256.1h0M168.3 237.2h0M168.3 251.1h0M168.4 240.6h0M168.4 249.5h0M168.4 238h0M168.4 253.3h0M168.4 243h0M168.4 251.9h0M168.5 239.7h0M168.5 244.6h0M168.5 251.6h0M168.5 253.5h0M168.5 249.1h0M168.5 234.5h0M168.6 253.3h0M168.6 242h0M168.6 235.6h0M168.6 239.6h0M168.7 257h0M168.7 240.9h0M168.7 249.3h0M168.8 256.9h0M168.8 256.8h0M168.8 247.6h0M168.8 242.2h0M168.8 242.8h0M168.8 244.2h0M168.8 253.5h0M168.9 255.3h0M168.9 252.7h0M168.9 245.6h0M168.9 248.3h0M168.9 237.3h0M169 245.8h0M169 255.6h0M169 246.1h0M169 242.6h0M169.1 246h0M169.1 248.7h0M169.3 244.7h0M169.3 244.9h0M169.3 252.8h0M169.3 243.7h0M169.4 250.7h0M169.4 248.5h0M169.4 246.5h0M169.4 241.7h0M169.5 255h0M169.5 254h0M169.5 246.5h0M169.5 245.6h0M169.5 257.2h0M169.6 245.9h0M169.6 241.8h0M169.6 257h0M169.7 252.6h0M169.7 246.7h0M169.7 248.4h0M169.8 249.3h0M169.8 250.9h0M169.8 254.9h0M169.8 253.4h0M169.9 247h0M169.9 246.2h0M169.9 247.2h0M170 248.1h0M170.1 256.5h0M170.1 243.1h0M170.3 246.8h0M170.3 249.4h0M170.3 241.9h0M170.4 242.4h0M170.4 255h0M170.4 244h0M170.4 255h0M170.4 254.8h0M170.4 246.3h0M170.5 243.1h0M170.5 248.6h0M170.5 245.8h0M170.6 255.1h0M170.6 257h0M170.6 242.4h0M170.6 256h0M170.7 254.1h0M170.7 254.3h0M170.7 241.1h0M170.7 244h0M170.9 246.1h0M170.9 246.5h0M170.9 246.2h0M170.9 241.9h0M170.9 251.2h0M170.9 249h0M171 250.1h0M171 246.8h0M171.1 257.3h0M171.1 256.2h0M171.1 241.8h0M171.2 243h0M171.2 243.1h0M171.2 237.3h0M171.2 242.4h0M171.2 250.1h0M171.3 255.1h0M171.3 235.8h0M171.3 247.7h0M171.3 245.9h0M171.4 255.6h0M171.4 249.3h0M171.4 251.5h0M171.4 242.2h0M171.4 240.4h0M171.4 238.1h0M171.4 245.2h0M171.4 244.2h0M171.4 242.5h0M171.4 248.7h0M171.4 250.1h0M171.4 252.2h0M171.5 250.8h0M171.5 242.8h0M171.5 242.8h0M171.5 248.1h0M171.5 255.7h0M171.5 240.5h0M171.5 236.1h0M171.6 244.6h0M171.6 250.2h0M171.6 246.4h0M171.6 235.6h0M171.6 250.3h0M171.6 233.6h0M171.6 248.2h0M171.7 256.4h0M171.7 250.5h0M171.7 247.2h0M171.8 254.3h0M171.8 245.8h0M171.8 255.7h0M171.8 234.5h0M171.8 242h0M171.9 233.8h0M171.9 254.3h0M172 244.3h0M172 248.2h0M172 247h0M172 231.3h0M172 239.7h0M172.1 231.5h0M172.1 233.4h0M172.1 247.2h0M172.1 242h0M172.2 252.5h0M172.2 237.4h0M172.2 235.8h0M172.2 242.4h0M172.2 242.8h0M172.2 241.3h0M172.3 253.9h0M172.3 246h0M172.3 242.8h0M172.3 252.9h0M172.3 245.6h0M172.3 245.4h0M172.3 247.1h0M172.4 255.7h0M172.4 254.5h0M172.4 252.9h0M172.4 254.3h0M172.4 247.2h0M172.4 229.7h0M172.5 242.7h0M172.5 229.7h0M172.5 228.4h0M172.5 251.4h0M172.6 228.9h0M172.6 232.7h0M172.6 253.7h0M172.6 251h0M172.6 249.9h0M172.6 246.7h0M172.6 243.8h0M172.6 228.4h0M172.7 255.7h0M172.7 252.5h0M172.7 240.6h0M172.7 236.9h0M172.7 252h0M172.7 245.5h0M172.8 243.1h0M172.8 249.2h0M172.8 245.2h0M172.8 244.7h0M172.8 240.4h0M172.8 229.4h0M172.8 253.5h0M172.8 240.1h0M172.8 234.2h0M172.8 242.5h0M172.8 238.1h0M172.8 231.2h0M172.8 257.3h0M172.9 239.9h0M172.9 231.4h0M172.9 245.9h0M172.9 253.6h0M173 229h0M173 235.1h0M173 248.1h0M173 230.5h0M173 229.1h0M173 250.1h0M173 253.7h0M173.1 238.6h0M173.1 230.1h0M173.1 230.7h0M173.1 240.4h0M173.1 253.4h0M173.1 256.8h0M173.2 239.2h0M173.2 229.5h0M173.2 249.3h0M173.2 228.1h0M173.2 242.8h0M173.2 251.1h0M173.2 253.4h0M173.2 249.4h0M173.2 246.9h0M173.3 234.7h0M173.3 232.4h0M173.3 243.7h0M173.3 242.7h0M173.4 230.2h0M173.4 243.9h0M173.5 235h0M173.5 247.7h0M173.5 242h0M173.5 235.4h0M173.5 241.5h0M173.5 240.5h0M173.5 239.9h0M173.6 249.4h0M173.6 228.7h0M173.6 230.1h0M173.6 221h0M173.6 251.5h0M173.6 222h0M173.7 244.1h0M173.7 231.2h0M173.7 233.4h0M173.7 256.9h0M173.7 256.1h0M173.7 254.4h0M173.7 243.7h0M173.7 225.9h0M173.7 241.2h0M173.8 222.6h0M173.8 243.6h0M173.8 246.2h0M173.8 242.4h0M173.8 236h0M173.9 239.6h0M173.9 238.8h0M173.9 237.9h0M173.9 251.9h0M173.9 225.5h0M173.9 247h0M174 249.8h0M174 247h0M174 229.9h0M174 242.8h0M174.1 255.2h0M174.1 229.3h0M174.1 251.3h0M174.1 252.6h0M174.1 220.7h0M174.1 229.1h0M174.2 251.2h0M174.2 230.6h0M174.2 248h0M174.2 234.9h0M174.2 231.2h0M174.2 221.9h0M174.2 250.1h0M174.3 223.6h0M174.3 256.7h0M174.3 254.9h0M174.3 245.3h0M174.4 229.8h0M174.4 222.3h0M174.4 227.5h0M174.4 254.6h0M174.4 226.8h0M174.4 238.1h0M174.5 233.8h0M174.5 228.1h0M174.5 225.7h0M174.5 251.2h0M174.5 255.1h0M174.5 255.3h0M174.6 255.8h0M174.6 230.1h0M174.6 229.6h0M174.6 253.9h0M174.6 240.8h0M174.6 234h0M174.6 246.3h0M174.7 229.1h0M174.7 235.1h0M174.7 225.5h0M174.7 250.7h0M174.7 243.2h0M174.8 240.5h0M174.8 238.7h0M174.8 230.5h0M174.8 242.1h0M174.8 223.8h0M174.9 252.6h0M174.9 240.7h0M174.9 256.1h0M174.9 223.3h0M174.9 236h0M174.9 241.8h0M174.9 254.7h0M174.9 223.9h0M174.9 228.8h0M174.9 234.7h0M174.9 241.2h0M174.9 237.5h0M174.9 231.2h0M175 232.7h0M175 235.3h0M175 248.8h0M175 247.2h0M175 250.5h0M175 236.4h0M175 229.9h0M175 217.5h0M175 250.2h0M175.1 238.1h0M175.1 237.2h0M175.1 228.8h0M175.1 240.7h0M175.1 239.1h0M175.1 232.9h0M175.1 248.1h0M175.1 246h0M175.1 243.2h0M175.2 230h0M175.2 222.3h0M175.2 243.9h0M175.2 239.5h0M175.2 229.6h0M175.2 248.8h0M175.2 250.9h0M175.3 227.3h0M175.3 235.8h0M175.3 227.8h0M175.3 236h0M175.3 232.9h0M175.3 244.4h0M175.4 239.4h0M175.4 223.1h0M175.4 250.6h0M175.4 256.9h0M175.4 248.3h0M175.4 238.3h0M175.4 242.3h0M175.4 254.9h0M175.4 249.9h0M175.5 228.7h0M175.5 251.6h0M175.5 225.7h0M175.5 246.6h0M175.5 224.9h0M175.5 221.6h0M175.5 255.5h0M175.5 253.5h0M175.5 240.4h0M175.5 234.8h0M175.6 252.1h0M175.6 231.7h0M175.6 231.7h0M175.6 233.5h0M175.6 247.9h0M175.7 237.6h0M175.7 238.4h0M175.7 227.1h0M175.7 226.3h0M175.7 230.1h0M175.7 227.2h0M175.7 231.5h0M175.7 239.3h0M175.7 246.8h0M175.7 226.9h0M175.8 242.2h0M175.8 230.5h0M175.8 237.7h0M175.8 251.4h0M175.8 245.5h0M175.9 256.2h0M175.9 253h0M175.9 243.1h0M175.9 220.7h0M175.9 239h0M175.9 227.8h0M175.9 228.6h0M175.9 235.5h0M175.9 245.9h0M175.9 246.6h0M175.9 250.9h0M175.9 240.3h0M176 221.2h0M176 224.4h0M176 221.8h0M176 249.3h0M176 237.8h0M176 256.5h0M176 220.9h0M176 229.6h0M176 222.2h0M176 235.7h0M176 232.4h0M176 244.1h0M176.1 231.3h0M176.1 244.8h0M176.2 244.7h0M176.2 256.3h0M176.2 246.3h0M176.2 231.6h0M176.2 222.2h0M176.2 249.3h0M176.3 252.6h0M176.3 239.9h0M176.3 254h0M176.3 224.4h0M176.3 248.9h0M176.3 243.1h0M176.3 239.5h0M176.3 230.6h0M176.4 247.6h0M176.4 256.9h0M176.4 214.7h0M176.4 236.2h0M176.4 242.2h0M176.4 255.6h0M176.4 221.4h0M176.4 215.9h0M176.4 240.7h0M176.5 248h0M176.5 251h0M176.5 241.7h0M176.5 253.6h0M176.5 232.5h0M176.5 256.3h0M176.5 247.2h0M176.5 246.4h0M176.6 234.4h0M176.6 232.6h0M176.6 257.3h0M176.6 242.4h0M176.6 236.8h0M176.6 251.3h0M176.6 220.5h0M176.6 211.1h0M176.6 248.5h0M176.6 229.7h0M176.6 239.4h0M176.6 245.1h0M176.6 220.3h0M176.7 250.7h0M176.7 227.8h0M176.7 221.2h0M176.7 202.9h0M176.7 235.3h0M176.7 248.1h0M176.7 250.8h0M176.8 249.9h0M176.8 252.6h0M176.8 249.9h0M176.8 245h0M176.8 246.3h0M176.8 254.8h0M176.8 228.1h0M176.8 222.8h0M176.8 222h0M176.8 245.3h0M176.8 222.5h0M176.9 254.7h0M176.9 241.2h0M176.9 245.4h0M176.9 253.8h0M176.9 248.1h0M176.9 212.4h0M176.9 209.4h0M177 237h0M177 247.6h0M177 231.4h0M177 243.8h0M177 252.6h0M177 247h0M177 244.3h0M177 250.3h0M177 241.3h0M177 237.8h0M177.1 242.2h0M177.1 247.1h0M177.1 241.6h0M177.1 254.4h0M177.1 252.7h0M177.1 232.5h0M177.1 227.5h0M177.1 247.9h0M177.1 251.7h0M177.1 254.9h0M177.1 226h0M177.2 221.2h0M177.2 208.1h0M177.2 246.9h0M177.3 257h0M177.3 239.3h0M177.3 250.3h0M177.3 248.2h0M177.3 237.1h0M177.3 208.4h0M177.3 226.4h0M177.3 246.9h0M177.4 234.9h0M177.4 221.2h0M177.4 240.2h0M177.4 227h0M177.4 239.3h0M177.4 244.1h0M177.4 244h0M177.4 248.4h0M177.4 245.1h0M177.4 202.1h0M177.4 255.2h0M177.4 223.4h0M177.4 240.5h0M177.4 221.6h0M177.4 234.3h0M177.5 249.1h0M177.6 241.5h0M177.6 223.9h0M177.6 248.7h0M177.6 254.7h0M177.6 236.1h0M177.6 227.2h0M177.6 245.7h0M177.6 219.3h0M177.6 253.7h0M177.7 247.2h0M177.7 253.9h0M177.7 233.9h0M177.7 246.8h0M177.7 237.6h0M177.7 239.4h0M177.7 239.7h0M177.7 245.8h0M177.7 231.3h0M177.7 236.4h0M177.7 253.8h0M177.7 234.9h0M177.8 255.8h0M177.8 237.5h0M177.8 235.1h0M177.8 243.2h0M177.8 224.3h0M177.8 228.2h0M177.8 256.7h0M177.8 254.3h0M177.8 244.7h0M177.9 207.9h0M177.9 250.4h0M177.9 231h0M177.9 232.7h0M177.9 238.6h0M177.9 229.6h0M177.9 209.1h0M177.9 249.9h0M177.9 255.1h0M177.9 252.9h0M177.9 236.1h0M177.9 211.8h0M178 234.1h0M178 237.9h0M178 250.9h0M178 226.2h0M178 249.6h0M178 223.3h0M178 250.9h0M178 246.8h0M178.1 217.8h0M178.1 219h0M178.1 209.1h0M178.1 244.7h0M178.1 244.5h0M178.1 228.4h0M178.1 251.3h0M178.1 232.6h0M178.1 257.1h0M178.1 222.4h0M178.1 224.7h0M178.1 224.3h0M178.1 226.2h0M178.1 221.3h0M178.1 237h0M178.2 247.1h0M178.2 250.3h0M178.2 239h0M178.2 231.3h0M178.2 255.3h0M178.2 246.5h0M178.2 217.8h0M178.3 255.7h0M178.3 218.2h0M178.3 250.2h0M178.3 247.2h0M178.3 241.8h0M178.3 253.9h0M178.3 230.1h0M178.3 236.7h0M178.4 255.8h0M178.4 222h0M178.4 235.3h0M178.4 249.3h0M178.4 223h0M178.4 234.3h0M178.5 247.8h0M178.5 251.4h0M178.5 246.4h0M178.5 236.1h0M178.5 255.4h0M178.5 224.4h0M178.6 221.2h0M178.6 225.2h0M178.6 250.8h0M178.6 247.1h0M178.6 209.6h0M178.6 255.4h0M178.6 243.2h0M178.6 256.5h0M178.6 193.1h0M178.6 244.8h0M178.6 230.1h0M178.6 253.5h0M178.6 215.2h0M178.6 243.8h0M178.7 228.4h0M178.7 243.6h0M178.7 237h0M178.7 227.2h0M178.7 246.8h0M178.8 249.7h0M178.8 245h0M178.8 248.7h0M178.8 253.6h0M178.8 245h0M178.8 203.4h0M178.8 243.9h0M178.8 253.4h0M178.8 222.6h0M178.8 229h0M178.8 224h0M178.9 223.6h0M178.9 253.3h0M178.9 234.7h0M178.9 214.7h0M178.9 225.1h0M178.9 256.5h0M178.9 247.5h0M178.9 257.1h0M179 252.4h0M179 245.4h0M179 247.5h0M179 255.7h0M179 252.4h0M179 246.9h0M179 225h0M179 193.3h0M179 248.1h0M179 248.6h0M179 243h0M179 233h0M179.1 207.8h0M179.1 229.9h0M179.1 222.2h0M179.1 240.9h0M179.1 238.9h0M179.2 233.8h0M179.2 225.2h0M179.2 255h0M179.2 242.7h0M179.2 249.8h0M179.2 232.9h0M179.2 215.3h0M179.2 254.1h0M179.2 225.7h0M179.2 246h0M179.3 256.2h0M179.3 246.2h0M179.3 211.7h0M179.3 245.5h0M179.3 255.6h0M179.3 237.4h0M179.3 231.3h0M179.3 228.9h0M179.3 222.7h0M179.3 222h0M179.4 197.9h0M179.4 238.8h0M179.4 215.8h0M179.4 256.2h0M179.4 245.4h0M179.4 215.2h0M179.5 247.2h0M179.5 244.7h0M179.5 247.4h0M179.5 224.4h0M179.5 224.1h0M179.5 251.8h0M179.5 256.5h0M179.5 201.2h0M179.5 223h0M179.6 220.5h0M179.6 256.9h0M179.6 234.3h0M179.6 244.8h0M179.6 252.7h0M179.6 222.8h0M179.6 239.8h0M179.6 244.7h0M179.6 249.3h0M179.7 220.7h0M179.7 238.3h0M179.7 253h0M179.7 235.6h0M179.7 239.1h0M179.7 243h0M179.7 236.5h0M179.8 221.4h0M179.8 223.9h0M179.8 239.8h0M179.8 217h0M179.8 246.7h0M179.8 238.2h0M179.8 216.9h0M179.9 257.1h0M179.9 187.9h0M179.9 246.4h0M179.9 226.4h0M179.9 221.7h0M179.9 248h0M179.9 218.7h0M179.9 207.5h0M179.9 242.8h0M179.9 229.3h0M180 250.3h0M180 226.5h0M180 214.2h0M180 247.5h0M180 229.3h0M180 250.5h0M180 241.2h0M180 223.4h0M180 246.2h0M180 229.8h0M180 237.6h0M180 248.6h0M180.1 248.7h0M180.1 247.1h0M180.1 237.4h0M180.1 228.5h0M180.1 252.7h0M180.1 237.3h0M180.1 227.5h0M180.1 232.4h0M180.2 235h0M180.2 205.1h0M180.2 235.6h0M180.2 233.4h0M180.2 247.3h0M180.2 227.3h0M180.2 219.8h0M180.2 224.7h0M180.2 247.9h0M180.2 246.7h0M180.3 220.1h0M180.3 239.1h0M180.3 223.9h0M180.3 245.7h0M180.3 250.9h0M180.3 231.8h0M180.3 230.6h0M180.3 245.3h0M180.3 191.2h0M180.3 192.8h0M180.3 250.3h0M180.4 222.5h0M180.4 248.5h0M180.4 245.3h0M180.4 248.2h0M180.4 223.1h0M180.5 253.3h0M180.5 233.5h0M180.5 232.1h0M180.5 244.7h0M180.5 246.7h0M180.5 229.4h0M180.5 233.6h0M180.5 257h0M180.5 218.9h0M180.5 256.5h0M180.6 222.4h0M180.6 234.7h0M180.6 229.1h0M180.6 251.3h0M180.6 245.4h0M180.6 247.4h0M180.6 255.5h0M180.6 250.3h0M180.6 213.1h0M180.6 250.4h0M180.7 232.9h0M180.7 256.5h0M180.7 235.9h0M180.7 237.5h0M180.7 230.9h0M180.7 215.2h0M180.7 189.6h0M180.7 234.6h0M180.7 187.2h0M180.7 254.9h0M180.7 235.8h0M180.8 240.4h0M180.8 221.6h0M180.8 241.1h0M180.8 195.2h0M180.8 186.5h0M180.8 228h0M180.8 252.6h0M180.8 237.3h0M180.8 221.2h0M180.8 244.3h0M180.8 237.8h0M180.8 234.1h0M180.8 204.1h0M180.8 222.8h0M180.8 245.4h0M180.9 233.9h0M180.9 207.9h0M180.9 248.4h0M180.9 227.7h0M180.9 226.8h0M180.9 213.3h0M180.9 186.3h0M181 187.7h0M181 253.7h0M181 238.3h0M181 253.7h0M181 252.6h0M181 201.5h0M181 255.3h0M181 229.3h0M181.1 228.1h0M181.1 228.5h0M181.1 248h0M181.1 252.8h0M181.1 238.2h0M181.1 230.7h0M181.1 213.4h0M181.1 235h0M181.1 224h0M181.1 229.3h0M181.2 220.5h0M181.2 245h0M181.2 254.8h0M181.2 224.9h0M181.2 244.5h0M181.2 180.7h0M181.2 241h0M181.2 256.2h0M181.2 218.5h0M181.2 184.5h0M181.3 234.6h0M181.3 255.3h0M181.3 228.4h0M181.3 222.5h0M181.3 205.9h0M181.3 222.5h0M181.3 239.1h0M181.3 255.7h0M181.4 242.7h0M181.4 231.6h0M181.4 248.4h0M181.4 253.8h0M181.4 239.4h0M181.4 252.6h0M181.4 235.4h0M181.4 232.3h0M181.4 257.2h0M181.4 229.7h0M181.4 240.3h0M181.4 255.7h0M181.4 232.5h0M181.4 225.9h0M181.4 233.5h0M181.5 252.4h0M181.5 246.5h0M181.5 190.4h0M181.5 252.8h0M181.5 233.7h0M181.5 231.8h0M181.6 252.6h0M181.6 243.4h0M181.6 188.9h0M181.6 220.8h0M181.6 234.8h0M181.6 181.2h0M181.6 225.8h0M181.6 218.2h0M181.7 223.8h0M181.7 255.2h0M181.7 244.8h0M181.7 228.1h0M181.7 237.4h0M181.8 236.3h0M181.8 242.6h0M181.8 253.5h0M181.8 249.5h0M181.8 248.8h0M181.8 251.2h0M181.8 234.9h0M181.8 254.8h0M181.8 253.2h0M181.8 231.5h0M181.8 251.1h0M181.8 194.9h0M181.8 256.9h0M181.8 256.1h0M181.9 234.8h0M181.9 239.7h0M181.9 235h0M181.9 220.9h0M181.9 236.5h0M181.9 237.9h0M181.9 223.6h0M181.9 230h0M181.9 244.9h0M181.9 220.6h0M181.9 236.8h0M181.9 250.4h0M181.9 255.3h0M181.9 225.6h0M181.9 227.5h0M181.9 242.5h0M182 223.9h0M182 253.4h0M182 194.5h0M182 238.5h0M182 230.4h0M182 232h0M182 249.2h0M182 234.2h0M182 245.1h0M182 236.3h0M182.1 207.1h0M182.1 217.1h0M182.1 238.1h0M182.1 223.5h0M182.1 246.1h0M182.1 253.2h0M182.1 194.1h0M182.1 228.6h0M182.1 216.9h0M182.1 242.3h0M182.1 245.5h0M182.1 242.3h0M182.2 226.4h0M182.2 245.7h0M182.2 252.1h0M182.2 236.6h0M182.2 255.4h0M182.2 196.4h0M182.2 224.1h0M182.2 251.5h0M182.2 204.3h0M182.3 245.6h0M182.3 230.2h0M182.3 225.2h0M182.3 177.1h0M182.3 204.5h0M182.4 232.1h0M182.4 255.7h0M182.4 250.6h0M182.4 251.3h0M182.4 201.5h0M182.4 207.4h0M182.4 245.7h0M182.4 231.9h0M182.5 236.6h0M182.5 248.4h0M182.5 241h0M182.5 169.5h0M182.5 230.7h0M182.5 256.3h0M182.5 193.5h0M182.5 246.9h0M182.5 240.3h0M182.6 236.3h0M182.6 243.4h0M182.6 203.1h0M182.6 197.6h0M182.6 232.1h0M182.6 224.3h0M182.6 241.6h0M182.6 225.8h0M182.6 177.9h0M182.6 229.3h0M182.6 167.7h0M182.6 197.1h0M182.7 213h0M182.7 228.7h0M182.7 241.7h0M182.7 255h0M182.7 230.8h0M182.7 253.7h0M182.7 255.3h0M182.7 253.8h0M182.7 213.6h0M182.7 222.7h0M182.7 241.8h0M182.8 249.6h0M182.8 237.9h0M182.8 206.7h0M182.8 220.1h0M182.8 251.5h0M182.8 248h0M182.8 229h0M182.8 233.8h0M182.8 254h0M182.9 226h0M182.9 228.7h0M182.9 163.3h0M182.9 250.9h0M182.9 248.9h0M182.9 243.1h0M182.9 246.2h0M182.9 166h0M182.9 177.2h0M182.9 257.2h0M182.9 251.3h0M182.9 254.8h0M182.9 202.9h0M182.9 235.9h0M183 227.7h0M183 235.4h0M183 242.2h0M183 190.5h0M183.1 243h0M183.1 246.2h0M183.1 226.9h0M183.1 222.3h0M183.1 227.3h0M183.1 241.9h0M183.1 255.7h0M183.1 225.5h0M183.1 231.4h0M183.1 238.8h0M183.2 244.8h0M183.2 242.7h0M183.2 248.9h0M183.2 238.5h0M183.2 246.9h0M183.3 239.1h0M183.3 240.9h0M183.3 241.2h0M183.3 255.3h0M183.4 232.4h0M183.4 228.2h0M183.4 256.6h0M183.4 250.7h0M183.4 247.8h0M183.4 221.1h0M183.4 253.2h0M183.4 255.3h0M183.5 255.9h0M183.5 239.9h0M183.5 239.6h0M183.5 252.6h0M183.5 224.9h0M183.5 234.8h0M183.5 229.3h0M183.5 224.5h0M183.5 250.8h0M183.6 253.7h0M183.6 255.4h0M183.6 222.4h0M183.6 226.6h0M183.6 225.5h0M183.7 234.8h0M183.7 233.5h0M183.7 241.2h0M183.7 233.3h0M183.7 231.2h0M183.7 236.9h0M183.7 223.1h0M183.7 256h0M183.8 238.2h0M183.8 255.4h0M183.8 244.9h0M183.8 240h0M183.8 237.4h0M183.8 238.1h0M183.9 241.5h0M183.9 251.1h0M183.9 229.5h0M183.9 234.1h0M183.9 256h0M183.9 253.7h0M183.9 239.7h0M183.9 229.5h0M183.9 256.5h0M183.9 230.1h0M184 234.7h0M184 252.6h0M184 232.9h0M184.1 252.8h0M184.1 249h0M184.2 249.9h0M184.2 231.5h0M184.2 240.8h0M184.2 222.3h0M184.3 246.8h0M184.3 232.9h0M184.3 248.8h0M184.3 231.2h0M184.3 249.9h0M184.3 233.7h0M184.4 247.8h0M184.4 256.7h0M184.4 236.1h0M184.4 250.1h0M184.4 229.9h0M184.4 223.5h0M184.4 256.3h0M184.5 249.5h0M184.5 222.2h0M184.5 224.2h0M184.5 231.3h0M184.6 257.3h0M184.6 238.1h0M184.6 224.8h0M184.6 255.6h0M184.6 228h0M184.6 249.5h0M184.7 256.1h0M184.7 221.7h0M184.7 248.1h0M184.7 254.1h0M184.8 248.5h0M184.8 227.8h0M184.8 234h0M184.8 253.8h0M184.8 250.9h0M184.8 221.8h0M184.8 222.5h0M184.9 247.9h0M184.9 243.3h0M184.9 230.9h0M185 248.4h0M185 246.9h0M185.1 224.6h0M185.1 230.5h0M185.1 233.9h0M185.1 228.7h0M185.1 247.4h0M185.2 225.6h0M185.2 232h0M185.3 247.9h0M185.3 256.5h0M185.3 234.2h0M185.3 225.7h0M185.3 240.1h0M185.3 239.8h0M185.3 237.6h0M185.3 224.6h0M185.4 254.5h0M185.4 242.9h0M185.4 255.7h0M185.5 221.6h0M185.5 255.5h0M185.5 225.6h0M185.5 239.8h0M185.5 253.6h0M185.6 226h0M185.6 223h0M185.6 233.3h0M185.6 230.9h0M185.6 239.5h0M185.7 246.5h0M185.7 249.4h0M185.7 225.3h0M185.7 237.7h0M185.7 247.9h0M185.7 246.1h0M185.8 227.4h0M185.8 246.3h0M185.9 244.2h0M185.9 241.4h0M185.9 241.1h0M185.9 224h0M185.9 246.6h0M186 229.9h0M186 247.3h0M186 251.9h0M186 234.7h0M186 237.8h0M186 227.5h0M186 243.2h0M186.1 231.2h0M186.1 241.5h0M186.1 221.2h0M186.1 245.3h0M186.1 253.3h0M186.1 221.6h0M186.1 227.7h0M186.1 241.3h0M186.2 231.4h0M186.2 226.6h0M186.3 225.7h0M186.3 255.6h0M186.3 227.7h0M186.4 222.5h0M186.4 250.8h0M186.5 248.1h0M186.5 228.6h0M186.5 253.1h0M186.6 244.9h0M186.6 252.8h0M186.6 244.3h0M186.7 225.5h0M186.7 245.7h0M186.7 256.1h0M186.7 254.6h0M186.7 232.2h0M186.7 240.1h0M186.7 244.7h0M186.8 235.5h0M186.8 255.1h0M186.9 243.9h0M186.9 231.1h0M186.9 223h0M186.9 255.7h0M187 223.1h0M187 225h0M187.1 252.2h0M187.1 234.7h0M187.1 230h0M187.1 233.7h0M187.1 241h0M187.2 243.7h0M187.2 253.9h0M187.2 232.4h0M187.2 248.6h0M187.3 226.8h0M187.3 228.9h0M187.3 249.2h0M187.3 238.6h0M187.3 255.7h0M187.4 225h0M187.4 243.2h0M187.4 222.6h0M187.4 225.7h0M187.4 228.3h0M187.5 231.1h0M187.5 233.4h0M187.5 251h0M187.5 227.9h0M187.6 238.6h0M187.6 220.8h0M187.6 243.4h0M187.6 253.5h0M187.6 226.9h0M187.6 241.3h0M187.7 256.9h0M187.7 253.6h0M187.7 242.5h0M187.7 236.4h0M187.7 228h0M187.8 240.2h0M187.8 234.3h0M187.8 226.9h0M187.9 250.7h0M187.9 222h0M187.9 246.8h0M187.9 236.8h0M187.9 237.7h0M188 249.6h0M188 240.4h0M188 240.9h0M188 254.9h0M188 232.2h0M188 229.3h0M188 240.2h0M188.1 228.8h0M188.1 249.1h0M188.1 247.4h0M188.1 232h0M188.3 226h0M188.3 244.4h0M188.3 255.5h0M188.4 255.1h0M188.4 235.6h0M188.4 236.9h0M188.4 234.9h0M188.4 221.7h0M188.4 233.3h0M188.5 250.9h0M188.5 236.4h0M188.5 224.2h0M188.5 231.4h0M188.5 227.7h0M188.5 237.3h0M188.5 255.7h0M188.5 230h0M188.6 222.9h0M188.6 230.2h0M188.6 249h0M188.7 255.3h0M188.7 247.8h0M188.7 244.5h0M188.7 237h0M188.7 238.4h0M188.7 248.8h0M188.8 236.7h0M188.8 228.4h0M188.8 244.2h0M188.9 250h0M188.9 223.6h0M188.9 256.5h0M188.9 232.5h0M189 238h0M189.1 224.4h0M189.1 231.2h0M189.1 238.9h0M189.1 233h0M189.2 237.1h0M189.2 231.4h0M189.2 239.2h0M189.3 254.3h0M189.3 243.9h0M189.3 247.8h0M189.3 242.6h0M189.3 245.7h0M189.4 242.8h0M189.4 223.4h0M189.4 226.1h0M189.4 237h0M189.4 238.7h0M189.4 223.3h0M189.5 225.9h0M189.5 236.5h0M189.6 241.8h0M189.6 231.5h0M189.6 246.2h0M189.6 252.7h0M189.6 241.8h0M189.6 256.8h0M189.6 237.4h0M189.7 226.1h0M189.7 256.5h0M189.7 246.7h0M189.7 240.3h0M189.8 236.7h0M189.8 227h0M189.8 225.4h0M189.8 248.2h0M189.9 230.5h0M189.9 237.5h0M189.9 255.8h0M189.9 231.1h0M190 239.8h0M190 224.3h0M190.1 236.3h0M190.1 250.5h0M190.2 256.5h0M190.2 239.3h0M190.2 227.1h0M190.4 256.5h0M190.4 232.3h0M190.5 229.4h0M190.5 236.5h0M190.5 234.1h0M190.6 250.3h0M190.6 244.4h0M190.6 241.7h0M190.7 247.8h0M190.7 248.6h0M190.8 228.6h0M190.8 232.2h0M190.9 225h0M190.9 232.9h0M190.9 229.4h0M190.9 221.7h0M190.9 225.7h0M190.9 244.2h0M190.9 253.5h0M191 247.9h0M191 224.5h0M191.2 220.7h0M191.2 231.6h0M191.2 254.1h0M191.2 234.6h0M191.2 249.1h0M191.2 228h0M191.2 229.9h0M191.3 253.9h0M191.3 248.9h0M191.4 231.3h0M191.4 236.3h0M191.4 245.2h0M191.5 226.6h0M191.5 235.8h0M191.6 253.4h0M191.6 232h0M191.6 253.9h0M191.6 237.1h0M191.6 239.6h0M191.7 237.4h0M191.7 242.6h0M191.7 223.5h0M191.7 243.9h0M191.7 254.8h0M191.8 224.5h0M191.8 224.9h0M191.9 242.9h0M191.9 243.3h0M191.9 241h0M192 241.7h0M192.1 231.5h0M192.1 241.5h0M192.2 240.6h0M192.2 242.4h0M192.2 239.3h0M192.2 231.6h0M192.3 232.3h0M192.4 221.6h0M192.4 233.5h0M192.4 252.8h0M192.4 251.1h0M192.4 245.9h0M192.5 232.3h0M192.5 254h0M192.6 227h0M192.6 250.4h0M192.6 232.1h0M192.7 236.7h0M192.7 233.1h0M192.8 245.6h0M192.8 257.2h0M192.8 241.2h0M192.9 224.1h0M192.9 240h0M192.9 253.8h0M192.9 243.2h0M192.9 249.1h0M193 237.5h0M193 254.3h0M193 223.4h0M193.1 228.8h0M193.1 256.2h0M193.2 231.4h0M193.2 231.9h0M193.2 251.5h0M193.3 249.3h0M193.3 222.3h0M193.3 226.6h0M193.3 250.7h0M193.3 237.8h0M193.4 254.7h0M193.4 233h0M193.4 246.3h0M193.4 225.8h0M193.5 230.3h0M193.5 222.1h0M193.5 245.4h0M193.6 238.3h0M193.6 249.7h0M193.6 244.3h0M193.6 250.1h0M193.6 239.6h0M193.7 247.1h0M193.7 235.2h0M193.8 243.8h0M193.9 253.7h0M193.9 233.4h0M193.9 238.7h0M194 227.5h0M194.1 235.5h0M194.1 223.8h0M194.2 256.1h0M194.2 248.4h0M194.2 238.2h0M194.3 231.1h0M194.3 239.4h0M194.3 227.6h0M194.3 243.6h0M194.3 256.5h0M194.4 233.6h0M194.4 237.5h0M194.4 246.6h0M194.4 227.6h0M194.4 233.7h0M194.5 222.2h0M194.5 251.9h0M194.5 223.3h0M194.5 244.7h0M194.6 247.9h0M194.6 247.2h0M194.6 223.7h0M194.6 237.4h0M194.7 243.4h0M194.7 238.4h0M194.8 232.2h0M194.9 229.4h0M194.9 247.9h0M194.9 249.8h0M194.9 240.3h0M194.9 224.3h0M195 256h0M195.1 221.4h0M195.1 229h0M195.1 249.3h0M195.1 230.9h0M195.1 230.6h0M195.2 234.7h0M195.2 241.5h0M195.2 223.5h0M195.2 241.6h0M195.3 247.2h0M195.4 230.5h0M195.4 232.6h0M195.5 233h0M195.5 225.6h0M195.5 247h0M195.5 240.5h0M195.7 249.6h0M195.7 243.5h0M195.7 241.1h0M195.7 226.2h0M195.7 255.8h0M195.8 233.6h0M195.8 222.7h0M195.9 220.9h0M195.9 245h0M196 238.9h0M196 253.3h0M196.1 250.1h0M196.1 223.7h0M196.1 225.3h0M196.1 245.9h0M196.2 254.3h0M196.2 231.7h0M196.2 231.2h0M196.2 228.3h0M196.2 241.5h0M196.3 234.1h0M196.3 250.8h0M196.3 233.5h0M196.4 238.4h0M196.4 252.4h0M196.4 220.9h0M196.4 229.3h0M196.5 226.8h0M196.5 222.4h0M196.5 231.6h0M196.5 248h0M196.5 233.4h0M196.5 240.1h0M196.6 234.2h0M196.6 222.6h0M196.7 237.8h0M196.7 228.1h0M196.7 227.7h0M196.7 242.1h0M196.8 234.8h0M196.8 256.9h0M196.8 246.8h0M196.8 228.5h0M196.8 247.6h0M196.9 242.9h0M196.9 229.2h0M197 257h0M197 223.1h0M197.1 232h0M197.2 231.9h0M197.2 225.6h0M197.3 243h0M197.3 227.7h0M197.3 252.7h0M197.4 245.9h0M197.4 225.9h0M197.4 249.9h0M197.6 222.3h0M197.6 246.9h0M197.6 255.8h0M197.7 238.9h0M197.7 233.9h0M197.7 256.4h0M197.7 251.4h0M197.8 224h0M197.9 221.9h0M197.9 234.6h0M198 240.7h0M198 233.1h0M198 237.1h0M198 228.6h0M198 242.8h0M198.1 240.7h0M198.1 226h0M198.2 251.6h0M198.2 233h0M198.2 242.5h0M198.3 227.6h0M198.4 235.6h0M198.4 222.6h0M198.4 240.6h0M198.4 254.4h0M198.5 232.6h0M198.5 237.1h0M198.6 236.4h0M198.7 240.8h0M198.8 256.9h0M198.8 234.9h0M198.8 236.9h0M198.8 225.1h0M198.9 231.1h0M198.9 246.2h0M198.9 238.9h0M199 252.5h0M199.1 228h0M199.1 221.8h0M199.1 254.1h0M199.1 248.3h0M199.1 248.3h0M199.1 225.1h0M199.1 229.3h0M199.2 245.2h0M199.2 226.8h0M199.3 232.7h0M199.3 237.7h0M199.4 224.8h0M199.4 221.5h0M199.6 229.8h0M199.6 242.7h0M199.6 256.2h0M199.7 224.2h0M199.7 256.5h0M199.7 235.7h0M199.7 238.8h0M199.9 221.4h0M199.9 243.3h0M199.9 233.5h0M199.9 232h0M199.9 254.7h0M199.9 254.4h0M200 233.1h0M200 237.3h0M200 227.4h0M200.1 233h0M200.1 237.6h0M200.1 225.1h0M200.1 227.3h0M200.1 244.7h0M200.2 223.1h0M200.3 253.5h0M200.4 247.6h0M200.4 242.6h0M200.4 245.8h0M200.4 252.1h0M200.6 221.5h0M200.6 248.8h0M200.7 250.5h0M200.7 228.7h0M200.8 228.7h0M200.8 250.8h0M200.8 229h0M200.8 254h0M200.9 231.6h0M201 236.8h0M201 227.4h0M201.2 244.9h0M201.2 245.6h0M201.3 246.5h0M201.3 246.7h0M201.4 221.2h0M201.4 245.7h0M201.4 255.7h0M201.5 240.7h0M201.5 229h0M201.5 239.6h0M201.5 223.6h0M201.6 255.3h0M201.6 234.7h0M201.6 250.1h0M201.7 243.2h0M201.9 234.6h0M201.9 242.9h0M201.9 229.2h0M201.9 227.2h0M202 226.6h0M202 232h0M202.3 252.9h0M202.3 243.9h0M202.4 248h0M202.4 250h0M202.4 222.6h0M202.4 254.9h0M202.4 225.1h0M202.5 231.9h0M202.5 244.2h0M202.6 232h0M202.6 256.7h0M202.7 234.8h0M202.7 245.9h0M202.9 231.4h0M202.9 232.5h0M202.9 232.6h0M203.1 220.9h0M203.2 245.2h0M203.2 257.2h0M203.2 232.6h0M203.3 241.6h0M203.3 234.1h0M203.3 230.6h0M203.4 256.2h0M203.4 254.3h0M203.4 238.5h0M203.5 229.1h0M203.5 244.8h0M203.6 224.3h0M203.7 221.5h0M203.7 242.2h0M203.8 252.8h0M203.8 220.8h0M203.8 245.2h0M204 253h0M204.1 225.8h0M204.1 238h0M204.1 241.7h0M204.1 254.6h0M204.3 253.7h0M204.4 246.1h0M204.4 255.3h0M204.5 233h0M204.5 246.2h0M204.5 247.6h0M204.5 256.2h0M204.5 247.7h0M204.6 227.1h0M204.6 250.2h0M204.6 253.7h0M204.7 255.9h0M204.8 222h0M205 236.1h0M205 232.6h0M205 242.9h0M205 235.5h0M205.1 227.9h0M205.2 243.6h0M205.2 228.1h0M205.3 235.2h0M205.3 251.9h0M205.3 240.8h0M205.3 246h0M205.4 244.4h0M205.4 254h0M205.5 256.1h0M205.8 226.6h0M205.8 222.9h0M205.9 256h0M205.9 248.5h0M206 236.2h0M206 234.3h0M206 256.2h0M206.1 220.9h0M206.1 243.2h0M206.3 255.4h0M206.4 242.7h0M206.4 253h0M206.6 243.1h0M206.6 248h0M206.6 226.9h0M206.7 231.1h0M206.7 227.2h0M206.8 237.7h0M206.8 233h0M206.8 244.1h0M206.8 254.9h0M206.8 221.1h0M206.9 222.2h0M207.2 242.3h0M207.3 251h0M207.3 247.9h0M207.3 252.5h0M207.4 227.4h0M207.4 244.5h0M207.5 255.1h0M207.5 236.9h0M207.5 255.5h0M207.6 237.7h0M207.7 243.3h0M207.7 241.7h0M207.7 229.8h0M207.7 229.1h0M207.7 242.4h0M207.8 240.1h0M207.8 230h0M207.8 254.5h0M207.9 231h0M207.9 229.5h0M207.9 235.8h0M207.9 244h0M207.9 242.4h0M208 239.4h0M208.1 226h0M208.1 222.7h0M208.2 236.2h0M208.2 247.7h0M208.2 254h0M208.2 226.2h0M208.3 255.2h0M208.3 236h0M208.3 234.6h0M208.4 252.4h0M208.4 237.6h0M208.4 233.6h0M208.5 252.1h0M208.5 231.3h0M208.5 244.4h0M208.6 247.8h0M208.6 238.7h0M208.7 255.1h0M208.7 234.6h0M208.8 242.8h0M208.8 242h0M208.9 221.7h0M208.9 245.7h0M209 253.2h0M209 222.3h0M209.1 250.6h0M209.1 235.3h0M209.1 225h0M209.2 245.1h0M209.2 249.6h0M209.3 234.1h0M209.3 251.2h0M209.3 253.5h0M209.3 232.1h0M209.4 246.5h0M209.5 228.9h0M209.5 225.5h0M209.6 247.8h0M209.7 237.8h0M209.8 231h0M209.8 233.8h0M209.8 229.7h0M209.9 255.5h0M210 241.4h0M210 248.4h0M210 240.5h0M210.1 235.5h0M210.1 241.9h0M210.2 249.4h0M210.9 254h0M210.9 247.9h0M210.9 243.6h0M211 237.1h0M211 243h0M211 254.9h0M211.1 246.7h0M211.2 225.8h0M211.2 235.2h0M211.3 223.9h0M211.4 254.4h0M211.4 234.2h0M211.5 233.6h0M211.6 248h0M211.7 240.9h0M211.7 226.7h0M211.8 248.2h0M211.8 229.3h0M211.8 243.3h0M211.8 254.6h0M211.9 248h0M212 246.5h0M212.1 236.3h0M212.1 222.8h0M212.1 244.2h0M212.1 235.9h0M212.2 245.1h0M212.2 234.7h0M212.2 235.2h0M212.2 245.1h0M212.3 249h0M212.4 241.8h0M212.4 256h0M212.5 234.7h0M212.5 221.9h0M212.5 248.3h0M212.7 253.7h0M213 243.5h0M213 250.9h0M213.4 239.6h0M213.4 221.3h0M213.5 245h0M213.5 255.6h0M213.6 241.7h0M213.6 255.3h0M213.8 231.7h0M213.8 253.1h0M213.8 227.4h0M213.9 250.6h0M214 246.2h0M214 229.5h0M214 254.7h0M214.3 223.8h0M214.3 249.8h0M214.4 222.9h0M214.5 228.2h0M214.7 228.2h0M214.9 254.4h0M215 244.7h0M215.1 231.1h0M215.1 253.4h0M215.2 224.5h0M215.5 223.7h0M215.6 226.3h0M215.8 231.4h0M215.9 231.4h0M215.9 222.9h0M216 240.4h0M216.2 248.5h0M216.2 242.5h0M216.3 241.8h0M216.3 252.3h0M216.4 227.7h0M216.5 240.8h0M217 246.5h0M217 224.5h0M217.4 242.5h0M217.4 245.6h0M217.5 237.7h0M217.5 234.1h0M217.7 241.4h0M217.7 253.3h0M217.8 227.5h0M217.8 253.3h0M218.2 225.2h0M218.6 245.6h0M218.7 237.9h0M218.7 222.6h0M219.1 251.7h0M219.4 227.4h0M219.4 242.9h0M219.4 244.8h0M219.5 225h0M219.6 244.7h0M219.8 253.4h0M219.8 232.1h0M219.9 252.8h0M220.5 228.8h0M220.6 251.7h0M220.8 236.6h0M221 226.3h0M221.2 235.3h0M221.4 234.4h0M221.7 250.3h0M221.7 247.2h0M221.7 249.9h0M221.8 228.8h0M221.9 223.8h0M222 242.6h0M222.2 223.2h0M222.3 223.1h0M222.4 235.3h0M222.6 239.2h0M222.7 237h0M222.8 245.4h0M222.8 245.3h0M223 230.1h0M223 252.5h0M223 236.8h0M223.2 221h0M223.4 245.5h0M223.4 225.2h0M223.6 232.1h0M223.7 233.4h0M223.7 245.8h0M224.3 248.3h0M224.4 225h0M224.6 247.8h0M224.7 249.5h0M224.9 251.1h0M224.9 226.6h0M225.3 223.4h0M225.4 250.9h0M225.6 227.1h0M225.6 231.4h0M225.9 243.5h0M226.1 239.7h0M226.4 224.5h0M226.4 230.7h0M226.5 252.3h0M226.5 251.8h0M226.6 237h0M226.7 221.1h0M226.7 234h0M226.7 233.2h0M226.9 247.3h0M227.1 226h0M227.3 228.1h0M227.4 225.4h0M227.5 231.4h0M227.6 222.4h0M227.7 232.2h0M227.7 238.9h0M227.8 246.4h0M227.9 230.3h0M228.1 229.8h0M228.3 251.8h0M228.5 230.3h0M228.5 237.1h0M229.1 224.4h0M229.1 230.4h0M229.4 228.7h0M229.6 226.2h0M229.6 241.3h0M229.6 247.3h0M229.7 234.9h0M229.8 250.7h0M230.5 225.3h0M231.3 245.5h0M231.7 244.3h0M231.8 243.8h0M232.7 237.8h0M232.9 237.8h0M233 236h0M233.3 236.9h0M233.3 240h0M233.4 224.5h0M233.5 236.5h0M233.9 247.4h0M234.4 242.6h0M234.8 232.8h0M234.8 244.2h0M234.9 242.7h0M235 250.3h0M235.3 243.3h0M236.5 229.8h0M236.6 234.2h0M236.9 245.2h0M237.3 228.2h0M237.5 245h0M237.5 229.7h0M237.5 248.7h0M237.8 245.8h0M237.8 226h0M238.7 223.5h0M239.6 230.5h0M239.6 238.5h0M240.1 239.5h0M241.4 223.5h0M242.5 227.1h0M242.6 226.8h0M242.9 222.8h0M242.9 235.5h0M243 232.2h0M243.4 226.2h0M243.8 236.1h0M243.8 244.6h0M243.9 222.3h0M244.2 232.1h0M246.7 246.6h0M246.7 225.6h0M246.8 233h0M246.8 229.6h0M248.1 237h0M248.8 221h0M249.1 241.6h0M250 238.9h0M250.2 223h0M250.6 233.4h0M251.2 228.4h0M251.2 246.1h0M252.4 234.7h0M253 234.8h0M253 228.1h0M255 228.1h0M255.5 229.1h0M255.6 226.9h0M258 242.3h0M258.6 236.2h0M259.5 241.9h0M264.2 232.6h0M264.3 226.9h0M264.9 228.2h0M265.2 234.4h0M267.5 233h0M268.5 226.3h0M272.6 236.2h0M273.9 236.3h0M274.3 222.6h0M274.4 235h0M287.1 233.1h0M290.4 230.2h0"/><path stroke="#9571df" stroke-width="3.4" d="M115.2 208.7h0M115.4 214.2h0M115.5 211.9h0M116.8 203.7h0"/><path stroke="#ae9acf" stroke-width="3.4" d="M142.7 204.3h0M142.9 214.6h0M143.1 213.9h0M143.1 206.2h0M143.1 220.6h0M143.5 214.6h0M143.9 196.1h0M143.9 209.4h0M144.3 217.5h0M144.3 203.5h0M144.4 215.6h0M144.4 196.9h0M144.6 203.6h0M145 213.9h0M145 206.3h0M145.1 209.3h0M145.1 209.6h0M145.1 217h0"/><path stroke="#a386d7" stroke-width="3.4" d="M129.8 215.2h0M130.7 197.6h0M130.8 210.3h0M130.9 210.2h0M131.1 218.1h0"/><path stroke="#b4a6c9" stroke-width="3.4" d="M151 195.5h0M151.1 213.2h0M151.1 192.7h0M151.1 206.3h0M151.1 220.1h0M151.1 217.4h0M151.2 192.6h0M151.2 212.7h0M151.3 194.1h0M151.4 213.7h0M151.6 205.4h0M151.6 196.5h0M151.8 208.9h0M151.9 215.8h0M151.9 213.9h0M152 206.9h0M152.1 216.8h0M152.1 220.2h0M152.1 219.2h0M152.1 194.3h0M152.2 218.7h0M152.3 214.9h0M152.3 219.1h0M152.4 220.2h0M152.4 211.8h0M152.4 211.3h0M152.5 196.7h0M152.5 193.5h0M152.7 217.5h0M152.7 201.2h0M152.9 209.8h0M152.9 212.7h0M152.9 207.4h0M153 217.1h0M153.1 202.5h0M153.1 218.4h0M153.1 209.4h0M153.2 218.6h0M153.3 205h0M153.3 204.4h0M153.4 208.7h0M153.6 204.6h0M153.7 215.3h0"/><path stroke="#b2a2cb" stroke-width="3.6" d="M148.6 184h0M148.7 186.1h0M149 167.5h0M149.1 187.3h0M149.6 167.7h0M149.6 189.6h0M149.7 181.8h0M149.8 167.2h0M150 191h0M150.1 167.1h0M150.6 191.8h0M150.9 191h0M150.9 191.9h0"/><path stroke="#ac96d0" stroke-width="3.4" d="M140 216.1h0M140 203.7h0M140 215.5h0M140.2 209.2h0M140.3 202.4h0M140.3 214.5h0M140.3 219.5h0M140.4 195h0M140.5 217.6h0M140.5 203h0M140.6 206.3h0M140.9 200.6h0M141.4 213.9h0M141.5 198.6h0M141.5 209.4h0M141.5 204.8h0M141.7 195.8h0M141.8 220.5h0M142 211.2h0M142.1 214.7h0M142.2 198.8h0M142.2 198.1h0"/><path stroke="#a78ed4" stroke-width="3.4" d="M134 218.4h0M134.3 204.5h0M134.4 205.1h0M134.7 206.7h0M134.8 194h0M134.9 202.6h0M134.9 208.3h0M135 204.4h0M135 205.8h0M135.6 218.7h0M135.8 202.1h0M135.8 215.8h0M135.8 214.2h0M135.9 216.3h0M136.1 219.7h0M136.3 204.1h0"/><path stroke="#aa92d2" stroke-width="3.4" d="M137 202.7h0M137.2 205.2h0M137.8 207.4h0M137.8 214.4h0M138.3 218.2h0M138.4 212.3h0M138.6 219.5h0M138.7 218h0M138.8 208h0M138.9 207.9h0M139.1 205.3h0M139.1 218.6h0M139.4 208.1h0M139.4 212.1h0M139.5 219.7h0"/><path stroke="#a58ad5" stroke-width="3.4" d="M131.4 208.4h0M131.6 198.3h0M131.7 215.4h0M131.8 213.5h0M132.2 215.3h0M132.2 201.3h0M132.3 210.5h0M132.4 194h0M132.7 199.7h0M133 218.4h0M133.2 212.6h0M133.6 219.6h0M133.8 218.5h0"/><path stroke="#b09ecd" stroke-width="3.4" d="M145.3 193.9h0M145.5 213.6h0M145.5 204.4h0M145.5 203.1h0M145.5 209h0M145.5 209.6h0M145.6 213.8h0M145.7 217.4h0M145.8 217h0M145.8 218.6h0M145.9 210.7h0M145.9 196.3h0M146.1 218.4h0M146.3 218h0M146.4 202.3h0M146.6 211.4h0M146.7 209.9h0M146.7 216.9h0M146.7 215.1h0M146.8 196h0M146.9 199.8h0M146.9 211.9h0M147 199.4h0M147.1 205.7h0M147.3 217.7h0M147.3 215.8h0M147.3 211.8h0M147.5 193.6h0M147.5 207.4h0M147.7 212.1h0M147.9 220.4h0M147.9 211.5h0M147.9 216.7h0M148 211.3h0"/><path stroke="#b2a2cb" stroke-width="3.4" d="M148.3 207.5h0M148.4 215.5h0M148.5 218.8h0M148.5 212.5h0M148.5 217.3h0M148.6 192.6h0M148.7 219.6h0M148.9 220.5h0M148.9 215.1h0M149 200.8h0M149 208.9h0M149.2 217h0M149.3 211.2h0M149.6 203.5h0M149.6 205.9h0M149.8 207.4h0M150.1 206.3h0M150.1 218.3h0M150.2 202.6h0M150.3 200.6h0M150.3 204.3h0M150.4 210.4h0M150.6 219.1h0M150.7 214.4h0"/><path stroke="#b6aac7" stroke-width="3.6" d="M154.4 175.3h0M154.4 167.2h0M154.5 182.3h0M155.3 191.1h0"/><path stroke="#ae9acf" stroke-width="3.6" d="M142.6 180.9h0M142.9 187.5h0M143.1 190.3h0M143.3 185.4h0M144.6 184.1h0M144.9 191.2h0M145 166.6h0"/><path stroke="#aa92d2" stroke-width="3.6" d="M137 186.9h0M137.2 176.9h0M137.4 191.6h0"/><path stroke="#a082d9" stroke-width="3.4" d="M125.6 201.4h0M125.7 199.8h0M125.9 212.6h0M126.5 202.6h0M126.6 217.4h0M126.6 214.1h0M126.7 192.5h0M127.1 215.3h0M127.2 219.7h0M127.2 200.4h0M127.3 214.6h0M127.4 219.7h0M127.4 201.3h0M127.5 200.4h0M128 201.9h0M128.2 219.3h0"/><path stroke="#926de1" stroke-width="3.4" d="M111.8 207.7h0M112 219.8h0M112.2 209.4h0M112.8 211.2h0M113.4 199.7h0"/><path stroke="#b6aac7" stroke-width="3.4" d="M153.8 219.6h0M153.9 205.5h0M153.9 205.7h0M154.2 216h0M154.3 216.8h0M154.5 205.3h0M154.5 195.2h0M154.5 211.2h0M154.8 218.8h0M154.9 216.8h0M154.9 211.1h0M154.9 217.4h0M154.9 211.4h0M155.1 216.7h0M155.2 200.6h0M155.3 215.4h0"/><path stroke="#8f69e2" stroke-width="3.4" d="M108.7 205.6h0M108.9 208.3h0M109.4 203.9h0M109.6 195.8h0M109.7 203.1h0"/><path stroke="#b09ecd" stroke-width="3.6" d="M145.4 189.6h0M146.2 177.3h0M146.3 190.8h0M147.1 191.7h0"/><path stroke="#9b7adc" stroke-width="3.6" d="M121 190.8h0"/><path stroke="#8861e6" stroke-width="3.4" d="M103.7 211.4h0"/><path stroke="#9876de" stroke-width="3.4" d="M117.7 204.5h0M117.8 209.6h0M118.7 212h0"/><path stroke="#b09ecd" stroke-width="3.8" d="M147.9 161.6h0"/><path stroke="#9b7adc" stroke-width="3.4" d="M120.2 220.1h0M120.9 220.4h0M121.1 216.7h0M121.8 210.3h0M121.9 207.4h0M122 201.6h0M122.4 217.9h0"/><path stroke="#b4a6c9" stroke-width="3.6" d="M152.2 182.4h0"/><path stroke="#8159e9" stroke-width="3.4" d="M99.9 214h0"/><path stroke="#926de1" stroke-width="3.6" d="M112 185h0M113.1 166.2h0"/><path stroke="#9876de" stroke-width="3.6" d="M119.6 176.7h0"/><path stroke="#a58ad5" stroke-width="3.6" d="M131.2 185.9h0M133.3 171.5h0"/><path stroke="#a386d7" stroke-width="3.6" d="M129.2 185h0M130.9 191.1h0"/><path stroke="#8c65e4" stroke-width="3.4" d="M107.5 201.3h0M108.3 210.1h0"/><path stroke="#9e7eda" stroke-width="3.4" d="M123.2 193h0M123.5 215.7h0M124.9 218.5h0"/><path stroke="#9e7eda" stroke-width="3.6" d="M124.1 173.4h0M124.8 191.8h0"/><path stroke="#a082d9" stroke-width="3.6" d="M126.2 190.5h0"/><path stroke="#8159e9" stroke-width="3.8" d="M97.8 153.3h0"/><path stroke="#b2a2cb" stroke-width="3.8" d="M148.6 140h0M150.8 154h0"/><path stroke="#ac96d0" stroke-width="3.6" d="M140.8 187.8h0M141 171.5h0"/><path stroke="#b6aac7" stroke-width="3.8" d="M154 157.6h0"/><path stroke="#ac96d0" stroke-width="3.8" d="M142.3 155.1h0"/><path stroke="#a78ed4" stroke-width="3.6" d="M135.5 178.5h0"/><path stroke="#de9d8c" stroke-width="3.4" d="M199.1 211.8h0M199.1 193.7h0M199.5 210.3h0M199.6 203.1h0M199.7 214h0M199.8 216.4h0M200 211h0M200 205.6h0M200.1 218.8h0M200.2 216.9h0M200.3 204h0M200.6 195.6h0M200.7 213.7h0M201 198.7h0M201 204.6h0M201.1 206.2h0M201.2 205.5h0M201.4 218.7h0M201.4 210h0M201.4 211.3h0M201.4 198.5h0M201.4 203.3h0"/><path stroke="#d9a395" stroke-width="3.4" d="M193.4 209.8h0M193.4 206.3h0M193.6 210h0M193.7 213.2h0M193.7 220.2h0M193.7 206.6h0M193.8 208.1h0M193.8 197.9h0M193.8 194.2h0M193.9 195h0M194 210.8h0M194 200.1h0M194.1 216.6h0M194.2 200.5h0M194.3 198.8h0M194.4 205.1h0M194.5 218.4h0M194.5 202h0M194.6 205.9h0M194.6 198.5h0M194.8 213.6h0M194.9 214.1h0M195 209.1h0M195 198.7h0M195 213.6h0M195.1 195.7h0M195.2 219.1h0M195.3 215h0M195.3 205.6h0M195.3 210.2h0M195.4 218.7h0M195.5 196.6h0M195.5 219.4h0M195.5 211.6h0M195.7 207.3h0M195.7 219.4h0M195.7 219h0M195.8 195.3h0M195.9 218.1h0M196.1 219.8h0M196.1 200.4h0"/><path stroke="#d1aca2" stroke-width="3.4" d="M184.9 206.7h0M184.9 207h0M184.9 212.8h0M185 207.9h0M185 204.4h0M185.1 218h0M185.1 199.1h0M185.2 212.5h0M185.3 207.4h0M185.3 210.2h0M185.4 216.6h0M185.6 215.9h0M185.6 218.5h0M185.7 203.7h0M185.7 215.5h0M185.8 219.8h0M185.9 192.5h0M186 215.1h0M186 214.4h0M186.1 201.2h0M186.1 203.5h0M186.2 204.6h0M186.3 207.9h0M186.3 202h0M186.4 200.4h0M186.4 218.5h0M186.4 217.5h0M186.6 207.6h0M186.7 218.5h0M186.7 207.9h0M186.8 201.1h0M186.8 203.3h0M186.8 209h0M186.9 209.6h0M187.1 218.9h0M187.2 209.4h0M187.2 199.1h0M187.5 206.4h0"/><path stroke="#ef7b60" stroke-width="3.4" d="M228.2 212.7h0M228.7 212h0M229.7 209.6h0"/><path stroke="#d7a699" stroke-width="3.4" d="M190.5 208.1h0M190.7 217.5h0M190.7 206.6h0M190.7 220.3h0M190.7 214.9h0M190.8 200.6h0M190.9 218.3h0M190.9 196.5h0M190.9 193.2h0M191 213.5h0M191 219h0M191.3 193.9h0M191.3 206.2h0M191.4 211.8h0M191.4 218.1h0M191.6 218.8h0M191.8 211.6h0M191.9 217.4h0M192 201.3h0M192.2 215.8h0M192.3 194.8h0M192.3 216.7h0M192.4 209.1h0M192.4 196.9h0M192.5 220.2h0M192.5 220.4h0M192.6 214.9h0M192.7 204.5h0M192.7 201h0M192.7 216.2h0M192.8 200.7h0M192.8 208.2h0M193 203.8h0M193 197.2h0M193.1 216.3h0M193.1 214.4h0M193.1 213h0"/><path stroke="#ceafa7" stroke-width="3.6" d="M183.2 179h0M183.4 176.4h0M183.4 181.6h0M183.5 189.3h0M183.9 179.3h0M184.1 184.1h0M184.4 189.5h0M184.8 189h0"/><path stroke="#e78d76" stroke-width="3.6" d="M213.1 183.1h0M213.4 182.5h0M214.7 182.5h0M215.5 187h0"/><path stroke="#d4a99e" stroke-width="3.4" d="M187.7 206.7h0M187.8 213.9h0M187.9 215.2h0M188 212.5h0M188 214.9h0M188.1 216.9h0M188.1 196.5h0M188.3 202.8h0M188.3 212.1h0M188.5 220h0M188.5 211.8h0M188.7 200.6h0M188.7 217.9h0M188.9 214.3h0M188.9 205.9h0M189.1 199h0M189.2 194h0M189.3 217.6h0M189.3 214.9h0M189.4 217.1h0M189.4 204.7h0M189.5 197.2h0M189.6 196.2h0M189.7 203.3h0M189.8 214.9h0M189.8 220.6h0M189.9 207.8h0M190 219.8h0M190 213.3h0M190.1 216.3h0M190.1 199.9h0M190.2 211.3h0M190.2 199.6h0M190.3 206.9h0M190.5 220.1h0M190.5 208h0"/><path stroke="#ef7b60" stroke-width="3.6" d="M228.5 188.5h0"/><path stroke="#e78d76" stroke-width="3.4" d="M213.1 197.2h0M213.2 199.9h0M213.6 214.3h0M214.2 220.2h0M214.2 220.6h0M214.3 210h0M214.4 220.4h0M214.6 216.2h0M214.8 192.6h0M215 211h0M215.3 198.1h0M215.5 199h0"/><path stroke="#e29683" stroke-width="3.4" d="M204.9 218.7h0M205.1 198.9h0M205.6 213.8h0M206.1 201.3h0M206.6 212.9h0M206.7 199.6h0M206.9 208.6h0"/><path stroke="#e4937f" stroke-width="3.6" d="M207.8 191.4h0M208.7 183.8h0M209.4 177.7h0M209.6 181.9h0M209.9 190.7h0"/><path stroke="#d7a699" stroke-width="3.6" d="M190.9 183.7h0M191.1 190.9h0M191.2 180h0M191.2 191h0M191.3 183h0M191.7 186h0M191.8 172.9h0M192.8 182.9h0M192.9 181.1h0M193 184.7h0M193.3 166.7h0"/><path stroke="#dba090" stroke-width="3.4" d="M196.2 208.1h0M196.2 217.3h0M196.3 220.2h0M196.6 219.9h0M196.6 218.1h0M196.8 207.1h0M196.8 207h0M196.9 195.8h0M197.1 202.8h0M197.2 197.9h0M197.2 217.2h0M197.4 220.2h0M197.4 193.9h0M197.8 217.3h0M197.8 202.7h0M197.9 219.6h0M198.4 212.1h0M198.4 218.8h0M198.4 217.4h0M198.4 216h0M198.5 197.6h0M198.6 218.2h0M198.9 217.5h0"/><path stroke="#f46c4e" stroke-width="3.4" d="M239 203.2h0"/><path stroke="#e09a87" stroke-width="3.6" d="M202.1 181.6h0M202.4 178.3h0M202.5 167.3h0M202.9 184.1h0M203.9 188.9h0M204.4 185.4h0"/><path stroke="#f76041" stroke-width="3.4" d="M247.4 209.4h0M248.1 220.4h0M248.5 205.7h0"/><path stroke="#dba090" stroke-width="3.6" d="M196.7 177.6h0M197.9 173.9h0M198.1 176.9h0M198.5 191.2h0M198.6 187.8h0"/><path stroke="#e29683" stroke-width="3.6" d="M204.9 165.7h0M204.9 190h0M205.3 181.2h0M206.1 176.9h0M206.3 167h0M207.1 181.4h0M207.1 182.3h0"/><path stroke="#e09a87" stroke-width="3.4" d="M201.9 201.6h0M202.1 218.7h0M202.2 218.2h0M202.3 205.4h0M202.3 211.6h0M202.5 219.2h0M202.8 204.3h0M203.3 215.4h0M203.5 202.6h0M203.6 211h0M203.6 208.8h0M203.6 219.1h0M203.7 200.6h0M204 200.9h0M204 215.1h0M204.5 209.6h0"/><path stroke="#d9a395" stroke-width="3.6" d="M193.5 169.5h0M193.7 176.9h0M193.9 189.7h0M194 189.5h0M194.5 166.5h0M194.5 169.3h0M195.3 173.8h0"/><path stroke="#e4937f" stroke-width="3.4" d="M207.6 214.3h0M207.8 219.8h0M207.9 195.2h0M208 194.9h0M208 216h0M208.1 213.9h0M208.2 203.9h0M208.6 219.3h0M208.6 208.3h0M208.7 199.3h0M208.8 203h0M208.9 198.5h0M208.9 217.2h0M209 220.5h0M209.2 215.4h0M209.4 217.3h0M209.6 210.6h0M210.1 212.1h0M210.1 204.4h0M210.2 200.9h0"/><path stroke="#ed7f64" stroke-width="3.6" d="M225.1 183.1h0M225.6 176.8h0M225.6 168.9h0M227 181.3h0"/><path stroke="#e98971" stroke-width="3.4" d="M216.3 218.4h0M216.5 220.4h0M216.5 217.5h0M216.6 209.6h0M216.7 217.8h0M217 210.3h0M217.2 209.4h0M217.9 212.1h0M218 210.6h0M218.6 198.8h0M218.6 211.4h0"/><path stroke="#e5907a" stroke-width="3.4" d="M210.4 210.1h0M210.6 217.2h0M210.7 196.7h0M210.8 217.4h0M211.1 204.5h0M211.2 213.9h0M211.4 216.8h0M211.7 211h0M212.2 216.4h0M212.3 216.6h0M212.4 211.8h0M212.8 210.8h0M212.8 218.7h0M213.1 220h0"/><path stroke="#eb866d" stroke-width="3.4" d="M218.9 214.8h0M219.1 212h0M220.2 200.5h0M220.5 209.5h0M221 194.4h0M221 195h0M221.2 218.6h0M221.3 203.6h0M221.4 202.1h0"/><path stroke="#ceafa7" stroke-width="3.4" d="M183.4 200.3h0M183.5 212.8h0M183.5 217.9h0M183.6 217.7h0M183.7 206.4h0M183.7 215.5h0M183.9 216.4h0M183.9 201.6h0M183.9 208.3h0M183.9 219h0M184 216h0M184 198h0M184.3 210h0M184.3 218.3h0M184.3 216.9h0M184.4 192.5h0M184.6 201.2h0M184.6 208.5h0M184.6 219.9h0M184.6 193.1h0M184.6 218.7h0M184.8 218.1h0"/><path stroke="#d1aca2" stroke-width="3.6" d="M185.3 172.8h0M185.3 190.2h0M185.6 180.6h0M185.6 175.9h0M186.1 185.2h0M186.8 181.7h0M187.2 183.6h0M187.3 175.6h0M187.4 191.6h0M187.4 179.9h0"/><path stroke="#f5684a" stroke-width="3.4" d="M241.6 209.3h0M242.9 214.3h0"/><path stroke="#d4a99e" stroke-width="3.6" d="M187.7 190h0M188 184.6h0M188.3 180.1h0M189 186.3h0M190.1 174.6h0M190.4 169.9h0"/><path stroke="#ec8269" stroke-width="3.4" d="M221.7 198.1h0M222.2 209.6h0M222.4 201.7h0M223.3 215.1h0"/><path stroke="#ed7f64" stroke-width="3.4" d="M224.6 203.4h0M225.3 210.1h0M225.9 203.4h0M226.6 219.6h0"/><path stroke="#de9d8c" stroke-width="3.6" d="M199.2 184h0M199.5 178.1h0M199.7 191.4h0M201 179.8h0"/><path stroke="#e5907a" stroke-width="3.6" d="M210.7 174.8h0"/><path stroke="#f17457" stroke-width="3.4" d="M233.1 196.6h0M235 198.9h0M235.2 196.4h0M235.5 202.8h0"/><path stroke="#f0785b" stroke-width="3.6" d="M230.6 171.7h0M231.8 180.4h0M232.4 191.8h0M232.6 166.2h0"/><path stroke="#ec8269" stroke-width="3.6" d="M221.9 187.1h0"/><path stroke="#d7a699" stroke-width="3.8" d="M191.5 163.3h0"/><path stroke="#f37053" stroke-width="3.4" d="M236.3 218.8h0"/><path stroke="#673ef2" stroke-width="4.2" d="M82.2 86.6h0"/><path stroke="#9876de" stroke-width="4.2" d="M119.5 86.4h0"/><path stroke="#9b7adc" stroke-width="4.2" d="M121.7 96.3h0"/><path stroke="#7147ef" stroke-width="4.0" d="M88.1 128.9h0"/><path stroke="#a082d9" stroke-width="3.8" d="M126.6 143.4h0"/><path stroke="#ae9acf" stroke-width="3.8" d="M144.9 140h0"/><path stroke="#855de7" stroke-width="3.8" d="M100.7 148.6h0"/><path stroke="#8c65e4" stroke-width="3.8" d="M108.1 158.3h0"/><path stroke="#926de1" stroke-width="3.8" d="M112.5 163h0"/><path stroke="#9571df" stroke-width="3.6" d="M115.5 164.5h0"/><path stroke="#8861e6" stroke-width="3.6" d="M105.1 165.9h0"/><path stroke="#7950ec" stroke-width="3.6" d="M94.3 169.4h0"/><path stroke="#4e2af8" stroke-width="3.6" d="M71.5 171.4h0"/><path stroke="#4624f9" stroke-width="3.6" d="M68.8 183h0"/><path stroke="#7d54ea" stroke-width="3.6" d="M95.2 190.6h0M96.5 184.5h0"/><path stroke="#8c65e4" stroke-width="3.6" d="M108.3 183.7h0"/><path stroke="#de9d8c" stroke-width="4.2" d="M199.9 101h0"/><path stroke="#e09a87" stroke-width="4.0" d="M201.9 119.5h0"/><path stroke="#d1aca2" stroke-width="4.0" d="M186.6 127.1h0"/><path stroke="#d9a395" stroke-width="4.0" d="M194.2 131.3h0"/><path stroke="#ed7f64" stroke-width="4.0" d="M224.9 127.9h0"/><path stroke="#d1aca2" stroke-width="3.8" d="M186.3 140h0"/><path stroke="#ec8269" stroke-width="3.8" d="M222.9 141.2h0"/><path stroke="#d9a395" stroke-width="3.8" d="M195.5 148.4h0"/><path stroke="#de9d8c" stroke-width="3.8" d="M199.2 147.9h0"/><path stroke="#e4937f" stroke-width="3.8" d="M207.6 148.9h0"/><path stroke="#d4a99e" stroke-width="3.8" d="M190.3 155.1h0"/><path stroke="#eb866d" stroke-width="3.8" d="M220.9 153.1h0M221.2 160.5h0"/><path stroke="#f66446" stroke-width="3.8" d="M244.4 157.3h0"/><path stroke="#e29683" stroke-width="3.8" d="M206.6 160h0"/><path stroke="#dba090" stroke-width="3.8" d="M198.9 162.8h0"/><path stroke="#eb866d" stroke-width="3.6" d="M221.2 166.5h0"/><path stroke="#f17457" stroke-width="3.6" d="M233.1 173.1h0M235.5 184h0"/><path stroke="#f95234" stroke-width="3.6" d="M255.6 180h0"/><path stroke="#f66446" stroke-width="3.4" d="M245.2 217.4h0M246.4 207.5h0"/><path stroke="#fa4d2f" stroke-width="3.4" d="M259 212.4h0M260.5 207.5h0"/><path stroke="#fd351c" stroke-width="3.4" d="M270.1 207.5h0M270.4 216.4h0"/><path stroke="#fc4226" stroke-width="3.4" d="M265.4 213.4h0"/><path stroke="#ff0000" stroke-width="3.4" d="M282.3 213h0"/><path stroke="#f95738" stroke-width="3.4" d="M253.3 215.4h0"/><path stroke="#f85c3d" stroke-width="3.4" d="M251.4 220.4h0"/></g>
<g stroke="#262626" stroke-width="1.0" stroke-dasharray="1.7 1.4" fill="none">
<path d="M155.5 82.8V266"/>
<path d="M183.1 82.8V266"/>
<path d="M12.3 220.61H303.7"/>
</g>
<path d="M12.3 78.3V266.0" stroke="#4a4a4a" stroke-width="1.1" fill="none"/>
<path d="M11.8 266.0H303.7" stroke="#9a9a9a" stroke-width="1.6" fill="none"/>
<g font-family="'Liberation Sans', sans-serif" font-size="3.5" fill="#777"><path d="M31.5 266.6v1.3" stroke="#333" stroke-width="0.6"/><text x="31.5" y="270.6" text-anchor="middle">-10</text><path d="M100.4 266.6v1.3" stroke="#333" stroke-width="0.6"/><text x="100.4" y="270.6" text-anchor="middle">-5</text><path d="M169.3 266.6v1.3" stroke="#333" stroke-width="0.6"/><text x="169.3" y="270.6" text-anchor="middle">0</text><path d="M238.2 266.6v1.3" stroke="#333" stroke-width="0.6"/><text x="238.2" y="270.6" text-anchor="middle">5</text><path d="M11.8 257.3h-1.3" stroke="#333" stroke-width="0.6"/><text x="10.1" y="258.6" text-anchor="end">0</text><path d="M11.8 200.9h-1.3" stroke="#333" stroke-width="0.6"/><text x="10.1" y="202.2" text-anchor="end">2</text><path d="M11.8 144.5h-1.3" stroke="#333" stroke-width="0.6"/><text x="10.1" y="145.8" text-anchor="end">4</text><path d="M11.8 88.1h-1.3" stroke="#333" stroke-width="0.6"/><text x="10.1" y="89.4" text-anchor="end">6</text></g>
<text x="158.0" y="275.5" font-family="'Liberation Sans', sans-serif" font-size="4.6" fill="#222" text-anchor="middle" textLength="17.8" lengthAdjust="spacingAndGlyphs">log2(FC)</text>
<text transform="translate(4.9 171.7) rotate(-90)" font-family="'Liberation Sans', sans-serif" font-size="4.6" fill="#222" text-anchor="middle" x="0" y="1.6" textLength="29.7" lengthAdjust="spacingAndGlyphs">-log10(p-value)</text>
<text x="169.8" y="59.0" font-family="'Liberation Serif', serif" font-weight="bold" font-size="12.5" text-anchor="middle" textLength="14.3" lengthAdjust="spacingAndGlyphs">V3</text>
<rect x="65.95" y="68.45" width="25.5" height="7.1" fill="#cfe0f9" stroke="#1a6ae8" stroke-width="1.7"/>
<text x="96.2" y="73.8" font-family="'Liberation Sans', sans-serif" font-size="9" fill="#505050" textLength="52.7" lengthAdjust="spacingAndGlyphs">Sig.Down [322]</text>
<rect x="155.25" y="68.45" width="25.5" height="7.1" fill="#fcd3d4" stroke="#f0322a" stroke-width="1.7"/>
<text x="185.9" y="73.8" font-family="'Liberation Sans', sans-serif" font-size="9" fill="#505050" textLength="42.1" lengthAdjust="spacingAndGlyphs">Sig.Up [445]</text>
<rect x="234.85" y="68.45" width="25.5" height="7.1" fill="#efefef" stroke="#c8c8c8" stroke-width="1.7"/>
<text x="264.5" y="73.8" font-family="'Liberation Sans', sans-serif" font-size="9" fill="#505050" textLength="46.5" lengthAdjust="spacingAndGlyphs">Unsig. [3775]</text>
<defs><linearGradient id="gV3" x1="0" y1="0" x2="0" y2="1"><stop offset="0.000" stop-color="#ff0000"/><stop offset="0.050" stop-color="#fd331a"/><stop offset="0.100" stop-color="#fb4a2c"/><stop offset="0.150" stop-color="#f85c3d"/><stop offset="0.200" stop-color="#f46c4e"/><stop offset="0.250" stop-color="#ef7a5e"/><stop offset="0.300" stop-color="#ea876e"/><stop offset="0.350" stop-color="#e4937e"/><stop offset="0.400" stop-color="#dc9f8f"/><stop offset="0.450" stop-color="#d3aaa0"/><stop offset="0.500" stop-color="#c8b5b0"/><stop offset="0.550" stop-color="#bdbbc0"/><stop offset="0.600" stop-color="#b7acc6"/><stop offset="0.650" stop-color="#b09dcd"/><stop offset="0.700" stop-color="#a88ed4"/><stop offset="0.750" stop-color="#9f7fda"/><stop offset="0.800" stop-color="#9470e0"/><stop offset="0.850" stop-color="#8861e6"/><stop offset="0.900" stop-color="#7a51eb"/><stop offset="0.950" stop-color="#6a41f1"/><stop offset="1.000" stop-color="#542ff6"/></linearGradient></defs>
<rect x="310.0" y="158.3" width="7" height="33.5" fill="url(#gV3)"/>
<g font-family="'Liberation Sans', sans-serif" font-size="3.7" fill="#333"><path d="M310.0 158.74h1.3M315.7 158.74h1.3" stroke="#fff" stroke-width="0.4"/><text x="318.6" y="160.0">8</text><path d="M310.0 167.56h1.3M315.7 167.56h1.3" stroke="#fff" stroke-width="0.4"/><text x="318.6" y="168.9">4</text><path d="M310.0 176.37h1.3M315.7 176.37h1.3" stroke="#fff" stroke-width="0.4"/><text x="318.6" y="177.7">0</text><path d="M310.0 185.19h1.3M315.7 185.19h1.3" stroke="#fff" stroke-width="0.4"/><text x="318.6" y="186.5">-4</text></g>
<text x="310.0" y="156.5" font-family="'Liberation Sans', sans-serif" font-size="4.6" fill="#222" textLength="24.3" lengthAdjust="spacingAndGlyphs">FoldChange</text>
<g fill="none" stroke-linecap="round"><path stroke="#bebebe" stroke-width="2.6" d="M371.5 238.2h0M372.4 243.1h0M373.3 235.2h0M373.6 230.3h0M373.8 238.8h0M377.2 238.1h0M377.7 243.7h0M377.9 226.9h0M380.4 244.6h0M380.4 246.3h0M380.4 245.4h0M380.8 234.4h0M381.9 227.7h0M382.1 231.5h0M382.6 237.8h0M382.7 239.3h0M382.8 244.9h0M382.9 229.1h0M383.4 244.2h0M383.7 226.4h0M384.1 237.7h0M384.7 235.5h0M385.4 230.3h0M386.3 228.8h0M387.4 234.7h0M387.5 228.1h0M387.8 243.9h0M388.7 235.4h0M389.7 226.4h0M390 247.4h0M390.1 244.4h0M390.1 235.8h0M390.3 229.5h0M390.5 229.8h0M391 242.6h0M391.5 244.1h0M392.8 242.6h0M393.4 248.3h0M393.4 229.3h0M393.6 238.2h0M394 228.5h0M394 235.4h0M394.3 231.9h0M394.6 235.6h0M395.2 229.4h0M395.5 244.2h0M396.2 237.6h0M396.3 249.7h0M396.4 243.5h0M396.5 230.9h0M396.7 227.5h0M396.8 231.5h0M397 244.2h0M397.2 227.5h0M397.2 241.6h0M397.3 230.4h0M397.5 246.5h0M397.6 246.5h0M397.7 246.6h0M398.5 230h0M399 243.6h0M399 244.6h0M399.2 228.4h0M399.3 229.7h0M399.4 232.7h0M399.5 231.5h0M399.8 240.3h0M400 228.4h0M400.1 243.9h0M400.1 237.3h0M400.1 231.2h0M400.4 243.9h0M400.8 242.4h0M400.9 238.4h0M401 250.4h0M401.1 246.7h0M401.5 250.5h0M401.6 236.9h0M401.7 245.3h0M402.1 230.7h0M402.5 231.4h0M402.7 236.7h0M402.9 227.3h0M403.1 250.6h0M403.2 249.3h0M403.3 245.6h0M403.4 252.2h0M404.1 252.4h0M404.2 237.9h0M404.3 249.8h0M404.6 227.1h0M404.8 236.2h0M405.2 241.4h0M405.2 233.2h0M405.3 235.3h0M405.4 235h0M405.4 250.8h0M405.7 250.9h0M405.8 251h0M406 230.4h0M406.1 244.3h0M406.2 232.2h0M406.3 233.9h0M406.5 244.4h0M406.7 236h0M406.7 249.3h0M406.7 243.1h0M406.7 227h0M406.7 249.7h0M407 229.3h0M407.2 240.9h0M407.2 243.5h0M407.5 244.8h0M407.6 248.1h0M407.7 234.1h0M407.8 242.2h0M407.9 237h0M408 248h0M408.1 249.9h0M408.4 245.3h0M408.4 240.3h0M408.4 228.3h0M408.5 247.4h0M408.8 238.2h0M409.1 249h0M409.2 229.8h0M409.3 243.4h0M409.3 236.5h0M409.6 240.7h0M409.9 236.3h0M410 242.1h0M410.7 243h0M410.8 231.8h0M410.9 251.9h0M410.9 253h0M410.9 235.1h0M411 232.8h0M411.1 228h0M411.2 246.1h0M411.3 235.9h0M411.3 244.9h0M411.5 242.3h0M411.6 243.4h0M411.6 253.2h0M411.6 252.9h0M411.7 237.3h0M411.8 228h0M412 236.4h0M412 231h0M412.1 240.8h0M412.1 246h0M412.2 237.8h0M412.4 244.8h0M412.4 253.4h0M412.6 241.1h0M413 237h0M413.1 247.3h0M413.2 231.7h0M413.2 254.4h0M413.3 233.9h0M413.4 226.9h0M413.4 252.7h0M413.6 241.9h0M413.7 247.5h0M413.7 246.2h0M413.7 247.9h0M413.8 231.7h0M413.8 233h0M414 238.3h0M414 241h0M414.1 228.1h0M414.2 240.4h0M414.4 232.6h0M414.5 240.1h0M414.6 228.1h0M414.7 246.1h0M414.7 253h0M414.7 250.4h0M414.7 254.7h0M414.9 241.4h0M415.1 242.6h0M415.4 238.9h0M415.4 254.2h0M415.4 233.2h0M415.6 232.9h0M415.6 254.7h0M415.6 251.9h0M416 233.8h0M416.1 243.3h0M416.1 247.8h0M416.2 237.9h0M416.4 234.5h0M416.4 246.1h0M416.5 230.4h0M416.5 235.4h0M416.6 254.9h0M416.7 242h0M416.9 253h0M416.9 241.6h0M417.1 226.7h0M417.2 248.4h0M417.3 242.8h0M417.5 227.5h0M417.6 237.4h0M417.6 228.8h0M417.6 252h0M417.8 232h0M417.9 245.1h0M417.9 245.7h0M418 241.1h0M418 238.3h0M418.2 252.8h0M418.5 252.3h0M418.5 237h0M418.6 232h0M418.7 249.6h0M418.7 256h0M419.1 244h0M419.1 253.8h0M419.1 250.3h0M419.1 230.4h0M419.2 229.4h0M419.2 244.1h0M419.2 249.6h0M419.2 243.3h0M419.2 240.5h0M419.2 234.1h0M419.3 255.3h0M419.3 255.3h0M419.3 235.6h0M419.3 248.9h0M419.6 242.4h0M419.6 252.5h0M419.6 230.2h0M419.7 249.5h0M419.8 234.8h0M419.8 255.7h0M419.9 233h0M419.9 241h0M419.9 233.8h0M420 236.1h0M420.1 236.4h0M420.2 253.9h0M420.4 245.9h0M420.5 231.5h0M420.6 231.5h0M420.6 243.5h0M420.7 250.3h0M421 228.9h0M421 242.1h0M421 230.7h0M421 253.1h0M421.1 250.3h0M421.2 229.8h0M421.2 233.8h0M421.3 250.9h0M421.7 229.6h0M421.7 245.8h0M421.7 232.7h0M422 237.8h0M422.2 254.4h0M422.2 246.3h0M422.3 245.9h0M422.5 236.2h0M422.7 251.8h0M422.7 241h0M422.7 249h0M422.7 237.6h0M422.8 253.7h0M422.8 228.5h0M422.9 240.7h0M422.9 252.8h0M422.9 247.9h0M423 238.9h0M423 235.4h0M423 244.2h0M423 232.3h0M423.1 229.9h0M423.2 237.6h0M423.2 244.9h0M423.2 228.2h0M423.3 249.7h0M423.3 231.4h0M423.3 244.2h0M423.5 232.8h0M423.5 250.4h0M423.6 233.3h0M423.6 237.8h0M423.7 233.4h0M423.9 240.8h0M423.9 240h0M424 233.6h0M424.1 231.2h0M424.1 243.4h0M424.1 227h0M424.1 247.7h0M424.1 241.9h0M424.2 232.7h0M424.3 228h0M424.4 253.1h0M424.5 237.4h0M424.5 253.8h0M424.6 253.5h0M424.6 241.4h0M424.7 248.1h0M424.7 237.8h0M424.8 237.4h0M424.9 231.2h0M425 243.7h0M425 250.3h0M425 228.6h0M425 231.5h0M425 255.7h0M425.1 243.8h0M425.3 248.3h0M425.3 229.6h0M425.3 226.7h0M425.3 253.1h0M425.3 253.4h0M425.3 239.7h0M425.4 230.7h0M425.4 252.7h0M425.5 253.3h0M425.5 251.7h0M425.5 240.7h0M425.5 234.8h0M425.5 249.7h0M425.6 227h0M425.7 233.1h0M425.7 230.5h0M425.7 233.1h0M425.8 243.8h0M425.8 234.4h0M425.9 241.9h0M425.9 242.3h0M426 241.4h0M426 240.7h0M426 229.4h0M426 255h0M426.2 246.3h0M426.2 234h0M426.3 254.2h0M426.3 230h0M426.4 239.8h0M426.4 251.6h0M426.5 232.6h0M426.5 230.4h0M426.5 256.7h0M426.6 226.4h0M426.6 246.5h0M426.6 228.1h0M426.6 240.1h0M426.6 237.5h0M426.7 255.8h0M426.8 244.2h0M426.9 238.6h0M426.9 249.2h0M426.9 250.6h0M427 256.9h0M427 251.5h0M427 230.2h0M427 232.5h0M427 246.5h0M427 241.1h0M427 229.2h0M427.2 232.8h0M427.2 250.6h0M427.2 233.6h0M427.3 234.6h0M427.3 226.7h0M427.3 246.6h0M427.4 256.8h0M427.4 227.2h0M427.5 238.8h0M427.5 257.1h0M427.6 242.6h0M427.6 232.5h0M427.6 255.4h0M427.6 256.1h0M427.7 232.4h0M427.7 250.4h0M427.7 239.2h0M427.8 254.7h0M427.8 234.2h0M427.9 228.2h0M428 240.1h0M428 241.9h0M428.1 239.3h0M428.2 242.6h0M428.2 234.5h0M428.3 252.7h0M428.3 228.9h0M428.4 246.5h0M428.4 241.2h0M428.5 249.9h0M428.5 231.5h0M428.5 234.4h0M428.6 231.4h0M428.6 254.2h0M428.6 253.3h0M428.6 246.4h0M428.6 245.1h0M428.7 253.4h0M428.7 250.7h0M428.7 229.7h0M428.7 231.3h0M428.7 228.3h0M428.8 239h0M428.9 249.9h0M428.9 243h0M428.9 232.7h0M429 242.5h0M429 231.4h0M429 243.7h0M429 246.9h0M429 246.6h0M429 233.3h0M429 257h0M429 241.3h0M429.1 241.8h0M429.1 250.3h0M429.1 228.2h0M429.1 229.2h0M429.1 256.1h0M429.2 255.2h0M429.2 227.5h0M429.3 232.4h0M429.3 246h0M429.3 256.8h0M429.3 256.6h0M429.3 255.6h0M429.3 243.5h0M429.4 234.2h0M429.4 235.4h0M429.4 252.1h0M429.4 227.9h0M429.4 243.1h0M429.5 242.9h0M429.5 235.7h0M429.5 248.1h0M429.5 227.2h0M429.5 243.7h0M429.5 239.7h0M429.5 243.1h0M429.5 255.9h0M429.5 251.8h0M429.6 226.7h0M429.6 252.4h0M429.6 227.9h0M429.6 232.4h0M429.7 242.1h0M429.7 247.6h0M429.7 256.5h0M429.7 235h0M429.7 257h0M429.8 231.5h0M429.8 239.4h0M429.8 251.2h0M429.8 250.1h0M429.8 233.3h0M429.9 255.9h0M429.9 252.1h0M429.9 241.7h0M430 242.4h0M430 248.2h0M430 249.1h0M430 239.6h0M430 238.1h0M430 244.5h0M430 239.7h0M430.1 237.9h0M430.1 248.5h0M430.1 242.6h0M430.1 257h0M430.1 237.5h0M430.1 256.3h0M430.1 251.2h0M430.1 255.4h0M430.1 239.7h0M430.2 248.6h0M430.2 252.6h0M430.2 254.9h0M430.2 244.1h0M430.3 247.2h0M430.3 227.4h0M430.3 210.6h0M430.3 241h0M430.3 218.1h0M430.4 233.1h0M430.4 255.1h0M430.4 249h0M430.4 205.5h0M430.5 244.9h0M430.5 242.8h0M430.5 237.4h0M430.5 243.5h0M430.5 255.7h0M430.5 238.2h0M430.6 233.7h0M430.6 255.6h0M430.6 228.2h0M430.6 248.8h0M430.7 228.3h0M430.7 228h0M430.7 252.2h0M430.7 251.7h0M430.7 242.1h0M430.7 199h0M430.8 256.5h0M430.8 232.5h0M430.8 232.4h0M430.8 229.4h0M430.8 250h0M430.9 251.3h0M430.9 247.4h0M430.9 220.5h0M430.9 192h0M430.9 257h0M430.9 253h0M430.9 239.7h0M430.9 229.1h0M431 237h0M431 253.1h0M431 238.6h0M431 241.7h0M431 254.5h0M431.1 245.1h0M431.1 248.4h0M431.1 216.8h0M431.1 232.9h0M431.1 254h0M431.2 249.5h0M431.2 247.5h0M431.2 251.3h0M431.2 243h0M431.2 233.1h0M431.2 197.5h0M431.2 251.9h0M431.2 246.7h0M431.3 233.8h0M431.3 247.1h0M431.3 257.1h0M431.4 247.8h0M431.4 234.1h0M431.4 249.7h0M431.4 194.1h0M431.4 226.6h0M431.4 224.2h0M431.4 228.7h0M431.5 237.4h0M431.5 245h0M431.5 169.8h0M431.5 230.7h0M431.5 247.8h0M431.5 252.9h0M431.5 257.2h0M431.5 244.4h0M431.6 236.5h0M431.6 256.9h0M431.6 223.5h0M431.8 248h0M431.8 207.6h0M431.8 233.9h0M431.8 238.3h0M431.8 229.3h0M431.8 256.6h0M431.8 239.6h0M431.8 245.4h0M431.9 101.8h0M431.9 244.6h0M431.9 254.3h0M431.9 240.7h0M431.9 240.7h0M431.9 228h0M431.9 257.2h0M431.9 229.8h0M432 250.6h0M432 248.9h0M432 227.8h0M432 229.3h0M432 240.3h0M432 255.3h0M432 246.2h0M432 229.3h0M432.1 255.4h0M432.1 242.8h0M432.1 234.3h0M432.1 228.3h0M432.1 231.3h0M432.2 256.7h0M432.2 210.9h0M432.2 248.7h0M432.2 243h0M432.3 249.1h0M432.3 201.5h0M432.3 236.2h0M432.3 247.1h0M432.3 228.8h0M432.4 253.8h0M432.4 234.2h0M432.4 218.3h0M432.4 250h0M432.5 246h0M432.5 226.6h0M432.5 205.8h0M432.5 232h0M432.5 241.1h0M432.6 239.5h0M432.6 236.8h0M432.6 243.2h0M432.6 250.8h0M432.6 252h0M432.6 242.6h0M432.6 231.7h0M432.6 242.7h0M432.6 246.9h0M432.7 246.1h0M432.7 253.2h0M432.7 225.9h0M432.7 251.1h0M432.7 255.2h0M432.8 241.4h0M432.8 236.7h0M432.8 223.2h0M432.8 236.5h0M432.8 222.4h0M432.8 248.2h0M432.8 237.5h0M432.8 227.8h0M432.8 231.4h0M432.8 238.7h0M432.8 249.6h0M432.9 229.5h0M432.9 251h0M432.9 246.9h0M432.9 240.9h0M432.9 256.3h0M433 238.6h0M433 240h0M433 206.6h0M433 237h0M433 209.1h0M433 242.2h0M433 252.3h0M433 243.6h0M433 248.2h0M433 249.3h0M433 246.7h0M433.1 202.4h0M433.1 244.7h0M433.1 238.2h0M433.2 217.9h0M433.3 230.2h0M433.3 232.4h0M433.3 235.7h0M433.3 232.7h0M433.3 231.4h0M433.3 204h0M433.3 255.2h0M433.3 240.5h0M433.4 238.6h0M433.4 252.3h0M433.4 238.2h0M433.4 240.1h0M433.4 257.2h0M433.4 214.1h0M433.5 249.1h0M433.5 238.9h0M433.5 231.4h0M433.5 235.7h0M433.5 226.7h0M433.5 255.6h0M433.6 217.9h0M433.6 240.8h0M433.6 247h0M433.6 233.1h0M433.6 231h0M433.6 248h0M433.6 239.2h0M433.7 254.3h0M433.7 251.9h0M433.7 251.7h0M433.7 242h0M433.7 245.8h0M433.7 255.5h0M433.7 235.3h0M433.7 208.9h0M433.8 235.6h0M433.8 251.6h0M433.8 231.9h0M433.8 252.7h0M433.8 233.5h0M433.8 243.4h0M433.8 221.2h0M433.8 256.1h0M433.9 253.5h0M433.9 253.3h0M433.9 251.5h0M433.9 226.5h0M433.9 230.4h0M433.9 241h0M433.9 254.7h0M434 229.2h0M434 249.8h0M434 235.3h0M434 233.5h0M434 234.4h0M434 236.8h0M434.1 241.6h0M434.1 230h0M434.1 249.9h0M434.1 239.4h0M434.1 244.1h0M434.2 248.9h0M434.2 234.1h0M434.2 227.7h0M434.3 232h0M434.3 247.2h0M434.3 234.4h0M434.3 233.1h0M434.3 219.1h0M434.3 231.7h0M434.4 237.7h0M434.4 240.4h0M434.4 225.7h0M434.4 236.5h0M434.5 230.4h0M434.5 254.1h0M434.5 254.8h0M434.6 228.2h0M434.6 250.7h0M434.6 238.3h0M434.6 250h0M434.6 241.9h0M434.7 233.5h0M434.7 227.1h0M434.7 255.8h0M434.7 248.7h0M434.7 199.8h0M434.8 228.6h0M434.8 249h0M434.8 236.8h0M434.8 252.9h0M434.8 243.4h0M434.9 227.6h0M434.9 248.6h0M434.9 252.4h0M434.9 247.2h0M434.9 237.8h0M435 228.3h0M435 244.3h0M435 239.1h0M435.1 237.9h0M435.1 253.4h0M435.1 242.1h0M435.1 235.8h0M435.1 243.8h0M435.2 248.9h0M435.2 254.5h0M435.2 155.6h0M435.2 242.9h0M435.2 232.7h0M435.3 247.7h0M435.3 245.7h0M435.3 247.1h0M435.4 251.8h0M435.4 253h0M435.4 235.7h0M435.4 255.5h0M435.4 248.5h0M435.4 248.2h0M435.5 249.4h0M435.5 255.9h0M435.5 255.9h0M435.6 250.2h0M435.6 252.4h0M435.7 233.5h0M435.7 254.7h0M435.7 243.3h0M435.7 250.5h0M435.7 245.5h0M435.8 243.5h0M435.8 250h0M435.8 244.7h0M435.8 246.2h0M435.8 233.9h0M435.8 254.8h0M435.9 254h0M435.9 242.8h0M435.9 240.3h0M435.9 233.7h0M435.9 252.1h0M435.9 253.3h0M436 249.6h0M436 250.6h0M436 254.8h0M436 255.2h0M436.1 237.3h0M436.1 247h0M436.1 253.3h0M436.1 250.1h0M436.1 248.6h0M436.1 257.2h0M436.1 255.9h0M436.2 244.3h0M436.2 247.5h0M436.2 248.2h0M436.3 241.3h0M436.4 249.2h0M436.4 249.2h0M436.4 255h0M436.5 245.2h0M436.5 242.6h0M436.5 249h0M436.5 252.2h0M436.6 249h0M436.6 242.4h0M436.6 250.9h0M436.7 242.8h0M436.8 247h0M436.8 254.4h0M436.8 234.7h0M436.8 238h0M436.9 235.5h0M436.9 254.1h0M436.9 256.8h0M436.9 242.5h0M437 244.7h0M437 257h0M437 255.7h0M437 235.2h0M437.1 252.7h0M437.1 238.2h0M437.1 254h0M437.1 248.2h0M437.2 237.9h0M437.2 252.9h0M437.2 243.8h0M437.2 251.2h0M437.2 256.6h0M437.3 246.3h0M437.3 251h0M437.3 247.9h0M437.3 254.4h0M437.4 247.9h0M437.5 248.2h0M437.5 251.5h0M437.5 255.7h0M437.6 244.8h0M437.6 245.5h0M437.6 236.9h0M437.6 257.1h0M437.7 244.4h0M437.7 237.3h0M437.7 254.7h0M437.8 238.8h0M437.8 251.1h0M437.9 243h0M437.9 254.5h0M437.9 244.5h0M437.9 248.3h0M438 256h0M438 256h0M438 256.3h0M438 240.2h0M438 251.5h0M438.1 240.7h0M438.2 242.9h0M438.2 256.3h0M438.2 252.8h0M438.2 241.3h0M438.2 246.3h0M438.3 247.2h0M438.3 256.8h0M438.3 256.2h0M438.3 248.3h0M438.3 256.5h0M438.4 244.8h0M438.5 246.3h0M438.5 257h0M438.6 256.4h0M438.6 249.1h0M438.7 252.1h0M438.8 256.6h0M438.8 241.2h0M438.8 250.6h0M438.9 254.2h0M438.9 244.2h0M438.9 239.3h0M438.9 256.7h0M439 240.9h0M439 240.6h0M439 241.9h0M439 256.7h0M439 255.4h0M439 251.8h0M439.1 245.7h0M439.1 242.4h0M439.1 246.5h0M439.1 247.7h0M439.1 242h0M439.1 242.6h0M439.2 256.7h0M439.2 249.2h0M439.2 254.9h0M439.3 240h0M439.4 252h0M439.4 254h0M439.4 249.1h0M439.5 247.1h0M439.5 245.4h0M439.5 247.4h0M439.6 252.1h0M439.6 251.8h0M439.6 256.6h0M439.6 245.6h0M439.7 257.1h0M439.7 253.5h0M439.7 247.8h0M439.8 250.4h0M439.8 250.4h0M439.8 247.6h0M439.9 251.9h0M439.9 244.3h0M440 242.9h0M440 256.7h0M440.1 253.2h0M440.2 242.3h0M440.3 249.2h0M440.4 245.1h0M440.4 254h0M440.4 257h0M440.5 252.7h0M440.5 252.5h0M440.6 256.4h0M440.6 249.1h0M440.6 256.3h0M440.7 246.8h0M440.7 256.3h0M440.8 248.5h0M440.8 249.7h0M440.8 241.6h0M440.9 253.7h0M440.9 248.1h0M440.9 241.2h0M440.9 243.1h0M440.9 253.7h0M441 253.3h0M441 251.6h0M441 250.3h0M441 256.6h0M441 256.8h0M441.1 252.9h0M441.1 241.2h0M441.1 246.8h0M441.1 249.5h0M441.1 250.1h0M441.2 243.5h0M441.2 255.1h0M441.2 240.4h0M441.2 240.9h0M441.3 251.1h0M441.3 243.1h0M441.3 256.6h0M441.4 247.3h0M441.4 244.6h0M441.4 240.6h0M441.5 249h0M441.6 247.8h0M441.7 256.1h0M441.7 251.4h0M441.7 253.8h0M441.8 245.6h0M441.8 242.6h0M441.8 248.2h0M441.8 249.3h0M441.8 245.2h0M441.9 242.6h0M441.9 249.1h0M441.9 246.2h0M441.9 247.7h0M442 238.8h0M442 255.7h0M442 252.5h0M442.1 253.2h0M442.1 251h0M442.1 252.9h0M442.1 255.3h0M442.1 256.9h0M442.2 242.1h0M442.2 249.2h0M442.3 254.7h0M442.3 256h0M442.3 238.2h0M442.3 256.2h0M442.3 245.7h0M442.3 244.2h0M442.3 255.6h0M442.4 243.5h0M442.4 245.8h0M442.4 255.8h0M442.4 254.2h0M442.4 252.4h0M442.4 256.2h0M442.4 238.3h0M442.5 245.4h0M442.5 239.8h0M442.5 250.7h0M442.5 246.6h0M442.5 254.8h0M442.6 238.2h0M442.6 254.7h0M442.7 241.5h0M442.7 252h0M442.7 253.7h0M442.7 253.4h0M442.8 254.5h0M442.8 254.5h0M442.8 248.5h0M442.9 245.4h0M442.9 240.3h0M442.9 253.8h0M442.9 245.8h0M442.9 246.5h0M442.9 241.6h0M442.9 249.2h0M443 253.4h0M443 246.9h0M443.2 256.1h0M443.2 236.5h0M443.2 255.4h0M443.2 242h0M443.2 236.6h0M443.2 244.5h0M443.2 239.2h0M443.2 250.7h0M443.2 257h0M443.2 251.6h0M443.2 241.3h0M443.2 250.2h0M443.3 256.3h0M443.3 239.8h0M443.3 238.1h0M443.3 246.8h0M443.3 253.8h0M443.3 251.7h0M443.4 254.5h0M443.4 240.2h0M443.4 236.4h0M443.4 245.6h0M443.5 237.7h0M443.5 251.9h0M443.5 253.2h0M443.5 255.1h0M443.5 252.2h0M443.6 252.5h0M443.6 247.2h0M443.6 249.5h0M443.6 240h0M443.7 245.7h0M443.7 252.6h0M443.8 239.8h0M443.8 252h0M443.8 245.6h0M443.8 253.6h0M443.8 243.4h0M443.9 238.1h0M443.9 240.6h0M443.9 244.7h0M443.9 246.4h0M443.9 253.1h0M443.9 255.5h0M443.9 250.4h0M444 255.8h0M444 235.1h0M444 238.4h0M444 240.8h0M444 255.2h0M444.1 240.7h0M444.1 246.4h0M444.1 251.8h0M444.1 248.3h0M444.2 249.4h0M444.2 250.6h0M444.2 245.4h0M444.2 250.5h0M444.3 251.8h0M444.3 256.3h0M444.3 244.9h0M444.4 234.5h0M444.4 254.9h0M444.4 246.5h0M444.4 235.2h0M444.4 254.7h0M444.4 256.8h0M444.4 254.7h0M444.4 240.9h0M444.4 238.9h0M444.4 252.6h0M444.6 251.1h0M444.6 246.7h0M444.6 252.5h0M444.7 245.8h0M444.7 236.6h0M444.7 239.4h0M444.7 238.3h0M444.7 253.8h0M444.7 238.5h0M444.7 244.8h0M444.8 237.5h0M444.8 245.6h0M444.8 255.3h0M444.8 254.6h0M444.8 248.5h0M444.8 247.9h0M444.8 249.3h0M444.9 240.8h0M444.9 235h0M444.9 245.9h0M444.9 254.9h0M444.9 245.9h0M444.9 237h0M444.9 246.6h0M445 241.1h0M445 255.1h0M445 247.4h0M445 241.9h0M445.1 246.1h0M445.1 233.1h0M445.1 254.5h0M445.2 249.2h0M445.2 239.4h0M445.2 256.4h0M445.2 243h0M445.2 241.5h0M445.3 246.2h0M445.3 237.4h0M445.3 249.2h0M445.3 247.9h0M445.3 246.6h0M445.4 255.8h0M445.4 244.4h0M445.4 254.9h0M445.4 246.3h0M445.4 237.4h0M445.4 248.3h0M445.4 236.4h0M445.4 251h0M445.4 248.7h0M445.5 256.4h0M445.5 236h0M445.5 242h0M445.5 242.6h0M445.5 240.3h0M445.6 254.3h0M445.6 237.4h0M445.6 249.5h0M445.6 239.6h0M445.6 247.3h0M445.6 232.5h0M445.6 241h0M445.6 247.3h0M445.7 247.2h0M445.7 244.9h0M445.7 247h0M445.7 232.9h0M445.7 252h0M445.7 238.8h0M445.7 240.1h0M445.7 252.4h0M445.7 234h0M445.8 251.1h0M445.8 251.6h0M445.8 232.5h0M445.8 253h0M445.8 238.6h0M445.8 253.5h0M445.8 251.6h0M445.8 231.3h0M445.8 246.6h0M445.8 246h0M445.8 244h0M445.9 236.7h0M445.9 243.8h0M445.9 252.7h0M445.9 253.3h0M445.9 234.5h0M446 242.6h0M446 247.8h0M446 255.4h0M446 243.1h0M446 233.5h0M446 250.8h0M446 244.3h0M446.1 248.2h0M446.1 233.9h0M446.1 250.8h0M446.1 238.9h0M446.2 252.5h0M446.2 242.1h0M446.2 234h0M446.2 251.8h0M446.2 237.9h0M446.2 231.6h0M446.2 229.9h0M446.2 242.9h0M446.2 249.2h0M446.3 249.4h0M446.3 250.2h0M446.3 254.9h0M446.3 244.9h0M446.3 250.2h0M446.3 224.1h0M446.4 231h0M446.4 241.5h0M446.4 227.6h0M446.4 227.9h0M446.4 235.3h0M446.4 211h0M446.4 231.5h0M446.4 226.7h0M446.5 243.8h0M446.5 244.2h0M446.5 256.7h0M446.5 238.1h0M446.5 257.2h0M446.5 252.9h0M446.5 248.8h0M446.5 234.2h0M446.5 243.8h0M446.5 245.9h0M446.5 244.5h0M446.5 230.7h0M446.5 185.5h0M446.6 249h0M446.6 248.3h0M446.6 249.8h0M446.6 249.6h0M446.6 247.6h0M446.6 254.9h0M446.6 249.9h0M446.6 253h0M446.6 252.7h0M446.7 227.2h0M446.7 225.4h0M446.7 223.7h0M446.7 228.3h0M446.7 251.2h0M446.7 250.2h0M446.7 241.7h0M446.7 239.8h0M446.7 255.5h0M446.8 255.6h0M446.8 244.6h0M446.8 230.8h0M446.8 180.5h0M446.8 232.1h0M446.8 226.5h0M446.8 247.2h0M446.9 240.9h0M446.9 233.5h0M446.9 252.8h0M446.9 239h0M446.9 254.9h0M446.9 252.2h0M446.9 255.7h0M446.9 228h0M446.9 202.2h0M446.9 252.7h0M446.9 233h0M447 234.8h0M447 234.9h0M447 226.6h0M447 233.3h0M447 243.8h0M447.1 256.5h0M447.1 208.6h0M447.1 228.8h0M447.1 243.3h0M447.2 241.9h0M447.2 254.1h0M447.2 233.8h0M447.2 252.1h0M447.2 252.3h0M447.3 228.6h0M447.3 236.6h0M447.3 247.1h0M447.3 252.7h0M447.3 233.3h0M447.3 227.9h0M447.3 229.8h0M447.3 234.8h0M447.4 247h0M447.4 226.7h0M447.4 241h0M447.4 243.1h0M447.4 252.2h0M447.4 245.9h0M447.4 242.5h0M447.4 176.8h0M447.5 256.6h0M447.5 252.5h0M447.5 231.6h0M447.5 251h0M447.5 211.4h0M447.5 234.2h0M447.5 249.4h0M447.5 237.8h0M447.5 226.3h0M447.5 243.9h0M447.6 247.8h0M447.6 252.4h0M447.6 241.9h0M447.6 243h0M447.6 227.1h0M447.6 242.1h0M447.6 241.9h0M447.6 238.6h0M447.6 249.9h0M447.6 233.3h0M447.7 214.9h0M447.7 243.2h0M447.7 235.6h0M447.7 256.4h0M447.7 224.6h0M447.7 253.5h0M447.7 239.9h0M447.8 245.2h0M447.8 254.8h0M447.8 229.5h0M447.8 241.1h0M447.8 240.6h0M447.8 240.2h0M447.9 234.2h0M447.9 227h0M447.9 228h0M447.9 226.6h0M447.9 242.3h0M447.9 230.9h0M447.9 245.2h0M447.9 232.4h0M448 240.4h0M448 229.2h0M448 249.4h0M448 243.9h0M448 234h0M448 250.6h0M448 155.1h0M448 237.4h0M448 251.9h0M448 227.8h0M448.1 252.5h0M448.1 231.5h0M448.1 230.3h0M448.1 252.4h0M448.1 249.5h0M448.1 245.7h0M448.1 256.5h0M448.1 245.4h0M448.1 252.1h0M448.1 256.6h0M448.1 240.9h0M448.1 251.7h0M448.1 234.8h0M448.2 228.3h0M448.2 228.5h0M448.2 230.1h0M448.2 248.1h0M448.2 248.5h0M448.2 209.2h0M448.2 203.6h0M448.3 253.1h0M448.3 255.4h0M448.3 195.6h0M448.3 250.7h0M448.3 229.3h0M448.3 228.1h0M448.3 250h0M448.3 252.4h0M448.3 251.6h0M448.4 230h0M448.4 250.5h0M448.4 237.3h0M448.4 249.2h0M448.4 247.6h0M448.4 256.4h0M448.4 229.7h0M448.4 238.3h0M448.4 245.4h0M448.4 230.4h0M448.4 256.1h0M448.4 242h0M448.5 234.6h0M448.5 247.2h0M448.5 249.7h0M448.5 240.8h0M448.5 222.6h0M448.5 253.9h0M448.6 235.7h0M448.6 250h0M448.6 238.9h0M448.6 242.4h0M448.6 239.1h0M448.7 244.4h0M448.7 251.4h0M448.7 243.4h0M448.7 232.7h0M448.7 228.1h0M448.7 230.7h0M448.7 250.5h0M448.7 251h0M448.7 239.9h0M448.8 242.7h0M448.8 252.2h0M448.8 237.1h0M448.8 228.5h0M448.8 240.6h0M448.8 239.7h0M448.8 249.8h0M448.8 238.7h0M448.9 252.8h0M448.9 225.6h0M448.9 223.6h0M448.9 256.9h0M448.9 212.9h0M448.9 254.8h0M448.9 240.1h0M448.9 209.8h0M448.9 235.7h0M448.9 249.9h0M449 245h0M449 237.3h0M449 245h0M449 232.6h0M449 241.2h0M449 247.6h0M449 227.4h0M449 253.1h0M449 253.4h0M449 187.6h0M449.1 227.2h0M449.1 243.2h0M449.1 199.4h0M449.1 250.3h0M449.1 238.8h0M449.1 231h0M449.1 247.4h0M449.1 202.6h0M449.1 240.3h0M449.1 235.5h0M449.1 249.9h0M449.1 245.8h0M449.1 229.4h0M449.1 228.3h0M449.1 256.5h0M449.2 240.3h0M449.2 239.9h0M449.2 256.7h0M449.2 246.8h0M449.2 225.8h0M449.2 246.1h0M449.2 249.9h0M449.2 252.8h0M449.2 251.7h0M449.2 233h0M449.3 248.8h0M449.3 229.3h0M449.3 220.3h0M449.3 253.3h0M449.3 223.4h0M449.3 214.6h0M449.3 248h0M449.3 232.5h0M449.3 245.6h0M449.3 226.6h0M449.4 242.8h0M449.4 250.7h0M449.4 203.4h0M449.4 254.2h0M449.4 221h0M449.4 242h0M449.4 248.4h0M449.4 249.4h0M449.5 246.3h0M449.5 236.9h0M449.5 246.2h0M449.5 255.4h0M449.5 220.3h0M449.5 250.9h0M449.5 228.6h0M449.6 231.7h0M449.6 253.8h0M449.6 233.1h0M449.6 231.5h0M449.6 231.7h0M449.6 249.9h0M449.6 252.4h0M449.6 218.9h0M449.6 233.6h0M449.7 235.1h0M449.7 234.3h0M449.7 252.2h0M449.7 255.4h0M449.7 255.1h0M449.7 240.5h0M449.7 243.8h0M449.7 237.5h0M449.7 250.6h0M449.7 211.7h0M449.7 256.1h0M449.8 243.6h0M449.8 239.7h0M449.8 239.1h0M449.8 254.8h0M449.8 244.1h0M449.8 241.4h0M449.8 216.8h0M449.8 255.2h0M449.8 248.4h0M449.9 235.7h0M449.9 249.5h0M449.9 248.9h0M449.9 255.5h0M449.9 230.4h0M449.9 245.1h0M449.9 249.9h0M450 226.7h0M450 203.3h0M450 245.7h0M450 251.9h0M450 250.5h0M450 228.8h0M450 241.8h0M450 253.6h0M450 254.2h0M450 250.8h0M450.1 254.2h0M450.1 238.5h0M450.1 254.4h0M450.1 248.6h0M450.1 237.1h0M450.2 235.8h0M450.2 251.2h0M450.2 238.7h0M450.2 236.6h0M450.2 255.1h0M450.2 252.8h0M450.3 232.4h0M450.3 256.7h0M450.3 253.4h0M450.3 233.2h0M450.3 196.1h0M450.3 236.8h0M450.3 249.6h0M450.3 245.7h0M450.3 133.9h0M450.4 255.6h0M450.4 236h0M450.4 249.8h0M450.4 254.1h0M450.4 243.6h0M450.4 231.6h0M450.4 230.1h0M450.4 249.8h0M450.5 245.8h0M450.5 252.7h0M450.5 247.5h0M450.5 231.2h0M450.5 251.8h0M450.5 246.6h0M450.5 254.8h0M450.5 252.6h0M450.5 256h0M450.5 254.2h0M450.6 244.1h0M450.6 228.8h0M450.6 246.5h0M450.6 234.8h0M450.6 253h0M450.6 229.2h0M450.6 238.2h0M450.7 255.9h0M450.7 252.3h0M450.7 247.6h0M450.7 240.6h0M450.7 250.8h0M450.7 198.2h0M450.7 241.3h0M450.8 237.8h0M450.8 256.3h0M450.8 241.2h0M450.8 154.4h0M450.8 239h0M450.9 249.8h0M450.9 229.8h0M450.9 236.6h0M451 254.5h0M451 252.7h0M451 252.4h0M451 229.4h0M451 252.6h0M451 239.3h0M451 246h0M451 237.9h0M451.1 230.3h0M451.1 233.4h0M451.1 188h0M451.1 208.1h0M451.1 228.7h0M451.1 237.2h0M451.1 234h0M451.1 256.6h0M451.1 240.9h0M451.2 227.1h0M451.2 227.3h0M451.2 251.3h0M451.2 238.9h0M451.2 233.2h0M451.2 237h0M451.2 246.4h0M451.3 230.3h0M451.3 203.4h0M451.3 249.6h0M451.3 217.7h0M451.3 235.2h0M451.4 229.2h0M451.4 249.1h0M451.4 251.5h0M451.4 256.2h0M451.4 254.3h0M451.5 234.7h0M451.5 249.7h0M451.5 227.3h0M451.5 249.1h0M451.5 235.4h0M451.5 239.4h0M451.5 190h0M451.5 246.9h0M451.5 238.8h0M451.5 246.2h0M451.5 254.7h0M451.5 222.4h0M451.5 211.3h0M451.6 228.8h0M451.6 256.8h0M451.6 231.1h0M451.6 252.6h0M451.6 245h0M451.6 213h0M451.6 242.5h0M451.6 222.1h0M451.7 190.6h0M451.7 232.4h0M451.7 253.2h0M451.7 250h0M451.7 199.4h0M451.7 253.3h0M451.7 228.7h0M451.7 234.4h0M451.7 203.3h0M451.7 232.3h0M451.7 255h0M451.7 238.7h0M451.8 230.8h0M451.8 241.9h0M451.8 247.1h0M451.8 257h0M451.8 230h0M451.8 210.1h0M451.8 242.9h0M451.8 241.9h0M451.8 231.1h0M451.8 251.6h0M451.8 242.9h0M451.8 241.4h0M451.9 243.3h0M451.9 216.8h0M451.9 238.6h0M451.9 240.9h0M451.9 242h0M451.9 235.4h0M452 230.1h0M452 236.1h0M452 246.7h0M452 239.4h0M452 231.7h0M452 226.9h0M452 239.4h0M452.1 252.6h0M452.1 247.4h0M452.1 241.7h0M452.1 237.7h0M452.1 241.1h0M452.2 254.1h0M452.2 237.5h0M452.2 244.7h0M452.2 248.2h0M452.2 246.4h0M452.2 255.6h0M452.2 216.4h0M452.2 252.7h0M452.3 228h0M452.3 227.5h0M452.3 236.3h0M452.4 217.4h0M452.4 241.3h0M452.4 230.3h0M452.5 241.3h0M452.5 244.6h0M452.6 250.2h0M452.6 231.4h0M452.6 249.7h0M452.7 248h0M452.7 235.4h0M452.7 237.8h0M452.8 247.8h0M452.8 247.5h0M452.8 255.1h0M452.8 255.2h0M452.8 248.5h0M452.8 238.4h0M452.9 231.4h0M452.9 252.3h0M452.9 231.4h0M452.9 249h0M452.9 241h0M453 230h0M453 256h0M453.1 227.7h0M453.1 248h0M453.1 248.4h0M453.1 243.9h0M453.2 235.7h0M453.2 229.1h0M453.3 251.6h0M453.3 238.9h0M453.3 231.7h0M453.3 243.1h0M453.4 235.5h0M453.4 238.4h0M453.4 250.8h0M453.5 254.4h0M453.5 231h0M453.5 232.4h0M453.5 236.3h0M453.6 249.2h0M453.7 251.8h0M453.7 244.8h0M453.7 248.4h0M453.7 239.7h0M453.7 240.9h0M453.7 244.8h0M453.7 235.6h0M453.7 256.7h0M453.8 252.4h0M453.8 148.4h0M453.8 234.4h0M453.9 233.8h0M453.9 256h0M453.9 238h0M454 253.4h0M454 240.1h0M454.1 226.4h0M454.1 231.2h0M454.1 247h0M454.2 253.3h0M454.2 250.3h0M454.2 231.3h0M454.2 235.9h0M454.3 255.8h0M454.3 251.7h0M454.3 227.6h0M454.3 238h0M454.3 243.5h0M454.3 227.4h0M454.3 237.4h0M454.5 227.8h0M454.5 250.9h0M454.5 239.7h0M454.5 235.8h0M454.6 253.5h0M454.6 233.5h0M454.6 249.2h0M454.6 227.6h0M454.7 226.4h0M454.7 254.7h0M454.7 240.8h0M454.7 252.6h0M454.7 257h0M454.8 241h0M454.8 245.3h0M454.8 247.7h0M454.8 257.1h0M454.8 251.4h0M454.8 255.1h0M454.8 241.8h0M454.9 246.6h0M454.9 244.2h0M454.9 252.2h0M455 256.1h0M455 255.5h0M455 255.8h0M455 233.3h0M455.1 245.7h0M455.1 228.6h0M455.1 236.8h0M455.1 251.3h0M455.1 248.4h0M455.2 241.1h0M455.2 251h0M455.2 254.2h0M455.2 248.9h0M455.2 242.2h0M455.3 252.3h0M455.3 257h0M455.4 247.1h0M455.5 254.3h0M455.5 253.5h0M455.5 242.4h0M455.5 238h0M455.5 237.3h0M455.5 253.5h0M455.6 256.6h0M455.6 236.7h0M455.6 249.9h0M455.6 248.4h0M455.6 251.3h0M455.6 227.2h0M455.6 234.9h0M455.6 231.2h0M455.7 230.8h0M455.7 247.7h0M455.7 234.5h0M455.7 242.8h0M455.7 252.2h0M455.7 234.8h0M455.8 229.5h0M455.8 239.3h0M455.8 230.6h0M455.8 254.8h0M455.8 252.7h0M455.8 242.9h0M455.9 231.6h0M455.9 250.5h0M455.9 252.4h0M455.9 233h0M455.9 242.5h0M456 230.4h0M456 235.8h0M456 233.4h0M456.1 252.7h0M456.1 248.3h0M456.2 239.6h0M456.2 249.1h0M456.2 252.3h0M456.2 242.4h0M456.3 255.6h0M456.3 233.5h0M456.3 256.3h0M456.4 231.3h0M456.4 239.6h0M456.4 240.1h0M456.4 228.5h0M456.5 250.1h0M456.5 253.3h0M456.5 251.5h0M456.5 243.3h0M456.5 248.7h0M456.6 250.5h0M456.7 243.5h0M456.8 228.1h0M456.8 246.4h0M456.8 227.2h0M456.8 254.8h0M456.9 245.3h0M456.9 250h0M457 254.8h0M457 250.2h0M457.2 254.7h0M457.3 248.9h0M457.3 237.9h0M457.3 254h0M457.3 230.4h0M457.4 235.7h0M457.4 232h0M457.5 238.2h0M457.6 250h0M457.6 233h0M457.6 251.1h0M457.6 232.3h0M457.9 251.4h0M457.9 229.1h0M457.9 231.5h0M457.9 252h0M457.9 237.4h0M457.9 236.6h0M457.9 257.3h0M457.9 244.9h0M458 256.9h0M458 248h0M458 250.1h0M458.1 227h0M458.1 244h0M458.1 226.9h0M458.1 249.5h0M458.1 246.2h0M458.1 233.5h0M458.1 229.2h0M458.2 254.4h0M458.2 251.8h0M458.2 230.3h0M458.2 241.9h0M458.2 250.2h0M458.3 235.2h0M458.3 246.8h0M458.4 251.2h0M458.4 230.9h0M458.5 239.6h0M458.6 245.6h0M458.7 256.8h0M458.7 244.9h0M458.7 232.9h0M458.8 249.8h0M458.9 244.7h0M458.9 246.7h0M459 244.1h0M459 237.9h0M459 241h0M459 245h0M459.1 251.3h0M459.1 239.6h0M459.2 253.7h0M459.2 235.2h0M459.2 253.9h0M459.2 255h0M459.3 253.1h0M459.3 254.6h0M459.3 252.1h0M459.4 250.8h0M459.4 243.9h0M459.4 228.9h0M459.5 245.1h0M459.5 254.9h0M459.5 228.8h0M459.6 253.7h0M459.6 240.4h0M459.6 254.7h0M459.7 230.7h0M459.7 234.7h0M459.7 248.7h0M459.8 253.8h0M459.8 255.8h0M459.8 248.1h0M459.8 234h0M459.9 243.7h0M459.9 252.4h0M459.9 227.4h0M460 228.6h0M460 254.4h0M460 243.3h0M460 253h0M460.1 246.2h0M460.1 244.2h0M460.1 236.9h0M460.1 227h0M460.2 255.7h0M460.3 237h0M460.4 249.8h0M460.5 247h0M460.5 253.5h0M460.5 251.4h0M460.6 246.3h0M460.7 241.7h0M460.8 230.9h0M460.8 252.3h0M460.8 233.5h0M460.9 237.2h0M460.9 231.4h0M460.9 245.5h0M461 232.8h0M461 256.1h0M461 252.5h0M461 232.6h0M461.1 242.6h0M461.2 250.4h0M461.2 248.2h0M461.2 230.2h0M461.2 231.7h0M461.3 226.3h0M461.3 253.1h0M461.3 254.6h0M461.4 231.6h0M461.4 251.7h0M461.5 238.5h0M461.5 235.1h0M461.5 248.6h0M461.6 256.3h0M461.6 253.2h0M461.6 243.7h0M461.7 230.9h0M461.7 251.5h0M461.7 253.9h0M461.8 248h0M461.9 252.4h0M462 239.4h0M462 228.2h0M462 256.2h0M462 249.7h0M462 241.4h0M462.1 227.4h0M462.2 254.9h0M462.2 255.9h0M462.2 227.6h0M462.3 229.3h0M462.3 244.9h0M462.4 242.3h0M462.4 233h0M462.4 245.1h0M462.4 247h0M462.4 250.6h0M462.5 240.1h0M462.5 226.4h0M462.5 239.7h0M462.5 242.3h0M462.6 236.6h0M462.6 228.4h0M462.6 235h0M462.7 240.9h0M462.7 249.7h0M462.7 235.5h0M462.8 229.3h0M462.8 229.4h0M462.9 246.8h0M462.9 234.7h0M462.9 253.5h0M462.9 252h0M463.1 226.8h0M463.1 235.9h0M463.1 239.1h0M463.1 242.6h0M463.2 237.3h0M463.2 229.9h0M463.2 245h0M463.2 233.1h0M463.2 253.4h0M463.5 237.8h0M463.6 246.2h0M463.6 244.6h0M463.6 235.1h0M463.7 232h0M463.7 240.6h0M463.7 234.3h0M463.7 227.7h0M463.7 241.4h0M463.8 234.1h0M463.9 249.4h0M463.9 235.8h0M463.9 246.7h0M463.9 255.5h0M463.9 245.6h0M463.9 245.9h0M463.9 235.5h0M463.9 236.9h0M463.9 236.1h0M464 239.1h0M464 239.1h0M464.1 254.1h0M464.1 250.5h0M464.2 254.6h0M464.2 235.6h0M464.3 249.3h0M464.3 254.2h0M464.3 252.2h0M464.3 241h0M464.3 248.6h0M464.6 253.8h0M464.6 240.9h0M464.6 242.3h0M464.8 230.5h0M464.8 228h0M464.8 241h0M464.9 239.5h0M465 255.5h0M465.1 253h0M465.1 241.2h0M465.3 231.5h0M465.4 231.3h0M465.4 252.2h0M465.7 242.9h0M465.7 237.7h0M465.8 230.4h0M465.9 243.2h0M466 232h0M466.1 244h0M466.1 244.3h0M466.2 233.7h0M466.2 247h0M466.4 248.7h0M466.4 248.3h0M466.5 236.5h0M466.5 234.8h0M466.5 227.8h0M466.5 227.2h0M466.6 252.4h0M466.6 239.4h0M466.8 231.3h0M466.9 254.8h0M467 226.8h0M467 232.2h0M467.1 232.8h0M467.4 249.7h0M467.5 239.5h0M467.5 251.8h0M467.6 248.6h0M467.8 238.4h0M467.8 230.6h0M467.9 234.2h0M467.9 226.5h0M467.9 236.7h0M468.1 244.7h0M468.1 247.7h0M468.5 232.4h0M468.5 234.4h0M468.6 247h0M468.8 251.3h0M468.9 231.2h0M468.9 249.7h0M469.2 244.3h0M469.5 249.8h0M469.5 245.9h0M469.5 241h0M469.7 235.1h0M469.7 232.9h0M469.7 254h0M469.9 251.4h0M469.9 239.2h0M470 232.8h0M470.1 246.2h0M470.2 245.5h0M470.2 228.6h0M470.3 244.4h0M470.3 237.8h0M470.4 228.3h0M470.4 236.7h0M470.5 234h0M470.7 245.3h0M470.7 247.6h0M470.8 252.4h0M470.8 229.7h0M471 243.8h0M471 229.1h0M471.2 250.2h0M471.4 244.6h0M471.4 253.7h0M471.4 228.5h0M471.5 232.5h0M471.5 245.8h0M471.7 238.7h0M471.8 241.9h0M471.8 239.6h0M471.8 240.8h0M472 248.6h0M472.1 232.3h0M472.1 241.9h0M472.1 239.5h0M472.2 232.2h0M472.3 232.9h0M472.3 244.6h0M472.4 231.9h0M472.4 242.1h0M472.5 247.3h0M472.5 253.7h0M472.6 242.5h0M472.6 248.4h0M472.7 238.3h0M472.8 249.2h0M472.9 254h0M472.9 234.1h0M473 252.9h0M473.1 245.4h0M473.1 236.2h0M473.1 244.5h0M473.2 238h0M473.2 227.8h0M473.2 249.6h0M473.5 245h0M473.5 239.6h0M473.7 245h0M473.9 229.5h0M473.9 231.6h0M473.9 242.6h0M474 232.7h0M474 244.4h0M474.1 232.6h0M474.1 235.3h0M474.1 249.3h0M474.1 244.3h0M474.2 239.9h0M474.2 251.2h0M474.2 228.4h0M474.3 236.9h0M474.4 236.8h0M474.4 253.3h0M474.4 232.9h0M474.4 252.2h0M474.5 243.2h0M474.6 234.1h0M474.6 244.2h0M474.6 230.9h0M475 227.3h0M475.1 230.7h0M475.2 252.4h0M475.3 231h0M475.4 231.5h0M475.7 249.9h0M475.7 235.7h0M475.8 241.6h0M475.8 235.2h0M475.8 234.4h0M476.2 231.5h0M476.3 252.9h0M476.3 248.3h0M476.5 245.1h0M476.6 235.3h0M476.7 245.5h0M476.7 235.8h0M476.7 226.6h0M476.8 253.1h0M476.8 239.7h0M477 245.4h0M477.2 242.5h0M477.3 237.4h0M477.5 242.8h0M477.8 249.3h0M478.1 230.7h0M478.2 230.4h0M478.2 239.9h0M478.4 241.7h0M478.6 252h0M478.6 229.7h0M478.7 251.1h0M478.7 241h0M478.8 242.4h0M479 244.2h0M479.1 244.4h0M479.2 251.8h0M479.5 242.8h0M479.7 235h0M479.8 250.3h0M479.8 235.5h0M480 252.4h0M480 230.3h0M480 250.5h0M480.1 250.4h0M480.1 228.6h0M480.1 244.5h0M480.2 245.6h0M480.3 235.3h0M480.4 240.4h0M480.4 248.5h0M480.6 235.8h0M480.7 233h0M480.7 236.1h0M480.7 229.6h0M480.9 230h0M480.9 248.8h0M481.1 240.9h0M481.2 248.6h0M481.3 228.2h0M481.3 226.7h0M481.4 240.6h0M481.8 249.3h0M481.8 228.3h0M482.1 239.7h0M482.6 229.9h0M482.7 243.9h0M482.8 240.7h0M482.8 227.6h0M482.9 227.5h0M482.9 244.5h0M483.1 243.5h0M483.2 247.4h0M483.3 249.6h0M483.4 235.3h0M483.4 248.2h0M483.5 233.2h0M483.5 251.2h0M483.6 238.8h0M483.6 251h0M483.6 236h0M483.7 237.2h0M483.9 235.9h0M483.9 246.7h0M484.1 237.7h0M484.1 242.1h0M484.4 228.5h0M484.5 241.3h0M484.5 233.3h0M484.6 242.3h0M484.8 245.4h0M484.8 250.4h0M485.1 249.5h0M485.1 235.2h0M485.1 237.8h0M485.2 239.5h0M485.3 244.6h0M485.3 233.2h0M485.8 233.4h0M485.8 229.9h0M486 243h0M486.1 246.1h0M486.1 230.3h0M486.5 244.1h0M486.7 237.3h0M486.7 241.9h0M487 230.9h0M487.2 248.4h0M487.3 232.8h0M487.7 238.2h0M487.7 248.8h0M487.8 231.7h0M487.9 227.2h0M488.2 235.4h0M488.3 232.6h0M488.4 239.2h0M488.6 240.5h0M488.6 230.1h0M488.7 242.9h0M488.7 231.5h0M489.1 247.3h0M489.2 230h0M489.3 245.4h0M489.5 248h0M489.7 229.2h0M489.7 236.3h0M490.4 227.3h0M490.6 241.7h0M490.7 248.2h0M490.8 249.9h0M490.9 228.9h0M491.5 242.4h0M491.7 246.8h0M491.9 239.6h0M492.8 235.2h0M492.9 233.8h0M493.2 239.5h0M494.4 234.1h0M494.4 239.9h0M494.9 230.8h0M495.3 233.8h0M495.4 227.9h0M495.6 238.6h0M495.8 247.9h0M496 234.8h0M496.2 244.2h0M496.3 244.9h0M496.4 245.4h0M496.4 246h0M496.7 230.5h0M496.8 244h0M497.5 246.2h0M497.6 228.9h0M498.1 247.9h0M498.2 243h0M498.5 248h0M500.2 245.4h0M500.3 226.7h0M500.5 246.8h0M501.4 229.2h0M501.9 242.9h0M502.4 238.1h0M502.5 232.7h0M502.5 245.3h0M503 238.3h0M503.3 244.6h0M503.6 231.9h0M504 230.9h0M504.2 232.1h0M504.7 233.2h0M505.2 234.3h0M505.5 233.6h0M505.5 237.9h0M505.7 226.7h0M506.1 229.8h0M506.2 246.1h0M506.8 243.3h0M507.6 244.8h0M508.2 235.2h0M508.3 238.8h0M508.5 227h0M508.8 241.2h0M508.9 234.9h0M509.3 236.6h0M511.1 241.6h0M513.6 229.9h0M514.1 227.3h0M514.9 227.9h0M515.4 233.4h0M516.1 228.7h0M517.3 235.7h0M517.6 234.7h0M518.4 234.6h0M521.7 230.6h0M522.3 233.8h0M525.6 243.3h0M526.3 236.7h0M526.4 232.2h0M527.1 252.2h0M529 233.1h0M529.5 237.3h0M529.6 239.6h0M530.3 232.8h0M534.6 234.4h0M534.7 238.2h0M538.4 236.6h0M542.9 237.3h0M565.3 229.6h0"/><path stroke="#b9b2c4" stroke-width="3.4" d="M424.8 215h0M424.9 214.6h0M424.9 212.5h0M425 210.4h0M425 198h0M425 206.3h0M425 221.6h0M425.1 201.3h0M425.1 203.8h0M425.1 220.4h0M425.2 214h0M425.2 216.9h0M425.3 207.6h0M425.3 213.3h0M425.3 222h0M425.3 217.6h0M425.4 223.6h0M425.5 210.7h0M425.6 224.4h0M425.6 217.8h0M425.6 199.4h0M425.7 222.6h0M425.7 223.4h0M425.8 217.9h0M425.8 223.7h0M425.9 216.9h0M425.9 222.3h0M426 220.5h0M426 215.4h0M426 220.5h0M426 220.1h0M426.1 222.9h0M426.1 219.4h0M426.1 224h0M426.1 203.4h0M426.2 225.4h0M426.2 212.4h0M426.2 216.8h0M426.2 225.7h0M426.2 197.6h0M426.3 224.7h0M426.3 215.1h0M426.4 207.1h0M426.4 220.6h0M426.4 200.6h0M426.4 213.3h0M426.4 215.4h0M426.4 211.6h0M426.5 216.4h0M426.5 210.3h0M426.5 222.7h0M426.5 225h0M426.6 202.7h0M426.6 200.5h0M426.6 211.8h0M426.6 210.1h0M426.7 220.4h0M426.7 221.3h0M426.7 219.6h0M426.7 199.4h0M426.8 215.8h0M426.8 219.3h0M426.9 221.4h0M426.9 225.3h0M426.9 206.8h0M426.9 222.4h0M427 217.2h0M427.1 221.8h0M427.1 218.7h0M427.1 212.4h0M427.1 218.9h0M427.1 210.3h0M427.1 215.3h0M427.1 211.4h0M427.2 212.7h0M427.2 225.8h0M427.2 208.6h0M427.2 219.1h0M427.2 218.5h0M427.3 218.3h0M427.3 216.9h0M427.4 217.8h0M427.4 225.5h0M427.4 215.4h0M427.4 226h0M427.4 213.6h0M427.5 207.5h0M427.5 213h0M427.5 210.3h0M427.6 205.2h0M427.6 201.6h0M427.7 206.5h0M427.8 211.4h0M427.8 224.3h0M427.9 223.1h0M427.9 219.6h0M427.9 217h0M427.9 222.3h0M428 204.3h0M428 222.8h0M428 225h0M428.1 201.4h0M428.1 220.2h0M428.1 197h0M428.1 201.9h0M428.1 210.8h0M428.2 225h0M428.2 221.2h0M428.2 221.5h0M428.4 217.1h0M428.5 206.2h0M428.5 224.4h0M428.5 223.4h0M428.6 213.8h0M428.6 207.2h0M428.7 211h0M428.7 217.1h0M428.7 225.1h0M428.7 215.1h0M428.8 217.1h0M429 220.5h0M429.1 219.9h0M429.1 216.2h0M429.3 212.3h0M429.4 221.9h0M429.6 214.2h0M429.6 201.6h0"/><path stroke="#b7aec6" stroke-width="3.4" d="M419.8 220.5h0M419.9 198.9h0M419.9 224.7h0M419.9 223.7h0M419.9 213.7h0M420 208.8h0M420 205.5h0M420 222.4h0M420 206.4h0M420 210.9h0M420.1 205.5h0M420.1 222.5h0M420.1 214.1h0M420.1 222.3h0M420.1 221.9h0M420.1 207.2h0M420.1 216.8h0M420.2 213.6h0M420.3 203.6h0M420.3 203.2h0M420.3 201.4h0M420.3 221.1h0M420.3 207h0M420.4 221.3h0M420.5 217.2h0M420.5 205.3h0M420.5 218.2h0M420.5 219.2h0M420.6 208.5h0M420.6 219.2h0M420.6 211.4h0M420.7 207.7h0M420.7 212.1h0M420.7 214.7h0M420.8 201.5h0M420.8 199.8h0M420.8 215.7h0M420.9 217.7h0M421 214.8h0M421 204.4h0M421 224.1h0M421 206h0M421.1 216.8h0M421.1 209.7h0M421.1 209.6h0M421.2 225.4h0M421.2 223.2h0M421.2 212.6h0M421.3 219.5h0M421.4 220.7h0M421.5 222.9h0M421.5 201.9h0M421.5 225.4h0M421.5 225.6h0M421.6 225h0M421.6 206.2h0M421.6 225.1h0M421.7 211.3h0M421.7 221.1h0M421.7 219.5h0M421.7 225.6h0M421.7 203.1h0M421.7 203.9h0M421.8 211.3h0M421.8 208.7h0M421.8 222.7h0M421.8 203.9h0M421.8 224.5h0M421.8 210.3h0M421.9 226.1h0M421.9 209.4h0M421.9 220.4h0M421.9 216h0M421.9 211.9h0M421.9 224.5h0M421.9 221.3h0M422 217.7h0M422 202.5h0M422 214.7h0M422 211.8h0M422.1 220.4h0M422.1 215.7h0M422.1 225h0M422.2 218.9h0M422.2 218.2h0M422.2 218.5h0M422.2 214.6h0M422.2 225.9h0M422.3 215.5h0M422.3 217.2h0M422.3 220.3h0M422.3 216.2h0M422.4 223.9h0M422.5 209.7h0M422.5 222.3h0M422.5 203.2h0M422.5 220h0M422.7 221.9h0M422.7 199h0M422.7 219.8h0M422.7 224.8h0M422.7 215.7h0M422.8 207.7h0M422.8 224.8h0M422.8 217.4h0M422.9 212.4h0M422.9 220.8h0M422.9 223.5h0M422.9 220.2h0M423 209.9h0M423 202.3h0M423 216.9h0M423 216.3h0M423 215.4h0M423 223.5h0M423 225.6h0M423 224.8h0M423.1 216.9h0M423.1 208.4h0M423.1 204.7h0M423.2 198.9h0M423.2 220.1h0M423.2 214.4h0M423.2 220.2h0M423.3 219.8h0M423.3 225.4h0M423.3 209.2h0M423.3 222.4h0M423.3 215.9h0M423.4 218.6h0M423.4 217.5h0M423.4 221.3h0M423.4 221.4h0M423.4 202.9h0M423.4 218.3h0M423.4 218.6h0M423.4 221.7h0M423.4 207.9h0M423.5 205.7h0M423.5 205.5h0M423.5 219.2h0M423.5 225.3h0M423.5 212.1h0M423.6 208.2h0M423.6 222.1h0M423.6 215.3h0M423.6 223.4h0M423.6 217.1h0M423.7 217.5h0M423.7 222.7h0M423.7 201.6h0M423.7 221.6h0M423.7 214.3h0M423.8 221.2h0M423.8 218h0M423.9 211h0M423.9 222.2h0M424 197.5h0M424 213.8h0M424 200h0M424 222h0M424 214.9h0M424 224.1h0M424 219.7h0M424 221.5h0M424.1 222.8h0M424.1 208.3h0M424.1 216.2h0M424.2 225.4h0M424.2 210.7h0M424.2 205.4h0M424.2 205.3h0M424.2 223.8h0M424.2 224.6h0M424.3 215.8h0M424.3 221h0M424.3 214.9h0M424.4 201.1h0M424.4 222.2h0M424.4 202.8h0M424.4 217.6h0M424.4 215.5h0M424.4 218.6h0M424.4 222.3h0M424.5 218.3h0M424.5 220.7h0M424.5 201.1h0M424.5 210.8h0M424.5 218.1h0M424.6 222.9h0M424.6 216.6h0M424.6 220h0M424.6 207.4h0M424.7 209.4h0"/><path stroke="#b09ecd" stroke-width="3.4" d="M399.9 217.5h0M400.3 210h0M400.4 221.2h0M400.8 201.2h0M400.9 205.7h0M400.9 214.7h0M401 214.8h0M401.1 211.8h0M401.2 222.8h0M401.3 216.1h0M401.5 211.3h0M401.5 219.2h0M401.7 221h0M401.7 223.1h0M401.8 211.7h0M402 213.3h0M402.3 215h0M402.4 218.6h0M402.4 221.1h0M402.6 210.7h0M402.6 223.8h0M402.7 222h0M402.7 210.4h0M403.1 215.5h0M403.2 223.3h0M403.2 214.8h0M403.3 224.5h0M403.6 211.1h0M403.7 202.9h0M403.7 222.8h0M403.7 218h0M404.1 221.3h0M404.1 207.9h0M404.2 218.6h0M404.4 213.8h0M404.5 225.1h0M404.5 220.6h0M404.6 209.6h0M404.6 225.8h0M404.7 211.3h0M404.7 212.6h0"/><path stroke="#b7aec6" stroke-width="3.6" d="M419.8 178.5h0M419.8 195.4h0M419.9 188.4h0M420.6 192.2h0M421 196.3h0M421.1 173.4h0M421.1 194.2h0M421.2 193.5h0M421.3 179.3h0M421.3 194.1h0M421.3 192.2h0M421.5 184.5h0M421.5 192h0M421.6 187.6h0M421.6 180.4h0M422.2 195.8h0M422.3 192h0M422.4 192.4h0M422.5 195.7h0M422.6 175.6h0M422.7 182h0M422.9 188.1h0M423.6 194.8h0M423.7 185.5h0M424.1 192.3h0M424.4 188.8h0M424.5 193.2h0M424.6 193.5h0M424.7 194.7h0"/><path stroke="#b6aac7" stroke-width="3.4" d="M414.8 205h0M414.8 208.5h0M414.9 219.6h0M414.9 202h0M414.9 214.3h0M414.9 197.5h0M415 201.6h0M415 197.6h0M415.1 211.1h0M415.1 214.2h0M415.1 220.3h0M415.1 216.5h0M415.1 224.7h0M415.3 225.4h0M415.3 219.4h0M415.4 220.1h0M415.4 225.1h0M415.5 223.7h0M415.5 225h0M415.5 218.9h0M415.5 220.8h0M415.5 221h0M415.6 226h0M415.6 221.1h0M415.6 204h0M415.7 211.1h0M415.7 225.8h0M415.7 225.2h0M415.7 217h0M415.8 199.6h0M415.8 211.6h0M415.8 226h0M415.9 208.5h0M415.9 213.2h0M415.9 209.1h0M416 222.4h0M416 204.9h0M416.1 220.2h0M416.1 220.6h0M416.1 210h0M416.1 207.9h0M416.1 218.2h0M416.2 215.3h0M416.2 208.8h0M416.2 224h0M416.2 223h0M416.2 222.6h0M416.3 198.3h0M416.3 215h0M416.3 219.8h0M416.3 220.7h0M416.3 222.1h0M416.4 200.2h0M416.4 216.7h0M416.6 219.8h0M416.6 212.7h0M416.6 220.4h0M416.6 218.8h0M416.7 211.7h0M416.8 213h0M416.8 215.4h0M416.8 221.1h0M416.8 223.1h0M416.9 218.3h0M416.9 215.3h0M416.9 213h0M416.9 213.6h0M416.9 223.1h0M417 214.6h0M417 220.9h0M417 224.8h0M417 217.4h0M417.1 213.2h0M417.1 219.7h0M417.1 223.1h0M417.2 226h0M417.2 220.9h0M417.2 214.8h0M417.3 198.7h0M417.3 221.8h0M417.3 221.3h0M417.3 221.7h0M417.3 215h0M417.3 221.2h0M417.3 219.5h0M417.4 215h0M417.4 224.8h0M417.5 218.9h0M417.6 205.6h0M417.6 209.9h0M417.6 209.5h0M417.6 209h0M417.8 204.8h0M417.8 220.8h0M417.8 226h0M417.8 204.6h0M417.8 225.9h0M417.8 214.6h0M417.9 220.4h0M417.9 212.1h0M417.9 222.6h0M417.9 218.1h0M417.9 200.9h0M417.9 199.1h0M417.9 224.6h0M418 218.8h0M418 208.8h0M418.1 216.8h0M418.1 211.9h0M418.1 207.8h0M418.1 209.5h0M418.1 201.3h0M418.2 226h0M418.2 200.8h0M418.2 206.9h0M418.3 217h0M418.3 219.4h0M418.3 221.5h0M418.3 214.2h0M418.3 215.3h0M418.3 221.1h0M418.4 215.7h0M418.4 209.5h0M418.4 224.9h0M418.4 225.5h0M418.4 202h0M418.5 221.2h0M418.5 209.6h0M418.5 211.2h0M418.5 220.6h0M418.6 198.8h0M418.6 217.3h0M418.7 214.3h0M418.7 224.4h0M418.7 225.5h0M418.9 197.5h0M418.9 217h0M418.9 222.3h0M419 224.8h0M419.1 221.7h0M419.1 225.3h0M419.2 223.8h0M419.2 222.1h0M419.3 223.7h0M419.3 206.4h0M419.3 220.2h0M419.3 208.4h0M419.4 197.7h0M419.4 224.2h0M419.4 226h0M419.4 222.5h0M419.5 206.6h0M419.5 212.1h0M419.5 219.5h0M419.5 220.2h0M419.5 213.2h0M419.5 217.6h0M419.5 206.2h0M419.6 217.2h0M419.6 221.8h0M419.6 209.1h0M419.6 216.1h0M419.7 214.1h0M419.7 207.6h0M419.7 224.3h0M419.7 222h0M419.7 207h0M419.7 223.7h0M419.7 215.7h0M419.7 214.9h0"/><path stroke="#b6aac7" stroke-width="3.6" d="M415 179.8h0M415.2 179.8h0M415.2 188.3h0M415.5 191.3h0M415.7 190.9h0M415.9 194.6h0M416.6 179.4h0M416.9 190h0M416.9 181.3h0M417.2 194h0M418.1 175.5h0M418.6 195.1h0M418.8 180.3h0M418.9 195.4h0M419.3 193.7h0M419.4 192.3h0"/><path stroke="#b2a2cb" stroke-width="3.6" d="M405.2 177.6h0M405.3 187.6h0M406 190.3h0M406.5 191.4h0M406.6 181.8h0M407.5 192.3h0M407.5 195.1h0M408.2 184.3h0M408.3 174.1h0M408.5 196.3h0M408.6 187h0M409.5 195h0"/><path stroke="#ac96d0" stroke-width="3.4" d="M392.4 207.4h0M392.6 217.9h0M392.9 214.9h0M393.3 225.6h0M393.3 212.6h0M393.4 223.8h0M394.2 218.7h0M394.3 214.4h0M394.3 203.3h0M394.7 221.5h0"/><path stroke="#b4a6c9" stroke-width="3.4" d="M409.8 222.9h0M409.9 209.1h0M410 204.5h0M410.1 219.2h0M410.1 218.4h0M410.1 213.6h0M410.1 201.3h0M410.1 199.7h0M410.2 222.3h0M410.3 224.1h0M410.3 217.5h0M410.3 221.1h0M410.4 219.1h0M410.4 219.2h0M410.4 223.7h0M410.5 214.8h0M410.5 201.6h0M410.5 207.7h0M410.5 205h0M410.6 220.7h0M410.6 208.4h0M410.7 224.4h0M410.8 224.4h0M410.8 225.7h0M410.9 217.7h0M410.9 212.2h0M410.9 215.1h0M411 218.5h0M411 218.2h0M411.1 217.1h0M411.1 215.2h0M411.2 225.9h0M411.2 226h0M411.2 208.9h0M411.2 213.2h0M411.3 201.4h0M411.3 212.6h0M411.3 202.2h0M411.3 209.3h0M411.4 213.7h0M411.4 205.1h0M411.4 215.8h0M411.5 222h0M411.5 200.9h0M411.6 222.9h0M411.6 212.8h0M411.6 216.2h0M411.6 212.8h0M411.7 222.1h0M411.8 213.7h0M411.8 207.5h0M411.9 211.7h0M411.9 218.7h0M412 197.5h0M412 211.8h0M412 217.6h0M412.1 221.4h0M412.1 224.8h0M412.2 212.8h0M412.2 208.3h0M412.3 218.6h0M412.4 218.4h0M412.5 214.6h0M412.5 224.7h0M412.6 206.4h0M412.6 207.6h0M412.6 216.7h0M412.7 199.3h0M412.7 212.8h0M412.7 203.6h0M412.8 219.7h0M412.8 200.8h0M412.9 204.5h0M412.9 224.5h0M412.9 199.5h0M412.9 207.9h0M413 214.8h0M413 222.3h0M413 222.3h0M413 214.4h0M413.1 209.6h0M413.1 198.6h0M413.1 218.9h0M413.2 211.4h0M413.3 220.9h0M413.3 200h0M413.3 217.2h0M413.3 208.6h0M413.4 219.4h0M413.4 206h0M413.4 211.5h0M413.5 209.9h0M413.5 217.9h0M413.6 220.9h0M413.6 208.3h0M413.8 216.9h0M413.8 198.9h0M413.8 214.6h0M413.8 212.9h0M413.9 209.1h0M414 215.3h0M414.1 207.2h0M414.2 217.9h0M414.2 205.2h0M414.3 198.2h0M414.3 206.5h0M414.3 217h0M414.5 219h0M414.5 223.4h0M414.5 213.7h0M414.6 217.8h0M414.6 223.3h0M414.6 220.8h0M414.6 221.7h0M414.6 209h0M414.8 219.7h0"/><path stroke="#ae9acf" stroke-width="3.4" d="M395.3 218.5h0M396 211.5h0M396.3 221h0M396.5 219.9h0M397.3 217.5h0M397.5 217.3h0M397.6 221.1h0M397.9 199.5h0M398 219.7h0M398 202.8h0M398 223.5h0M398.2 211.6h0M398.6 207.5h0M398.7 220.2h0M399.3 209.8h0M399.5 200.3h0"/><path stroke="#b2a2cb" stroke-width="3.4" d="M404.9 217.7h0M405.1 206h0M405.1 206.9h0M405.2 207.2h0M405.2 210h0M405.2 214.9h0M405.3 206.4h0M405.5 209.2h0M405.7 201.1h0M405.8 217.4h0M405.8 218.3h0M405.9 220.3h0M406.1 219.4h0M406.3 225.3h0M406.3 215.3h0M406.5 208h0M406.7 218.5h0M406.7 221.5h0M406.8 218.8h0M406.9 214.2h0M406.9 223.3h0M407 219.4h0M407 217.6h0M407 202.8h0M407.1 213.5h0M407.2 208.6h0M407.2 201h0M407.4 211.7h0M407.5 203.3h0M407.6 221.6h0M407.6 220.6h0M407.7 214.6h0M407.8 225h0M407.8 226.1h0M407.9 222.9h0M407.9 203h0M408 224.6h0M408.1 214.1h0M408.1 224.5h0M408.2 220.5h0M408.2 220.9h0M408.2 197.2h0M408.3 223.7h0M408.3 211.3h0M408.4 225.2h0M408.4 211.7h0M408.4 220.1h0M408.5 206.8h0M408.5 209.5h0M408.6 216.7h0M408.7 224.2h0M408.7 219.1h0M408.7 222.3h0M408.8 222.4h0M409 221.2h0M409 207.6h0M409.1 205.8h0M409.3 217.2h0M409.3 209.5h0M409.4 212.6h0M409.4 197.6h0M409.5 225h0M409.5 221.8h0M409.6 203.7h0M409.7 206.8h0M409.8 217.9h0"/><path stroke="#b9b2c4" stroke-width="3.6" d="M425 196.4h0M425.2 172h0M425.3 188.2h0M425.4 189.6h0M425.5 192.4h0M425.6 193.5h0M425.6 184.7h0M425.9 193.7h0M425.9 187.5h0M426 195.1h0M426.1 191.7h0M426.2 184.7h0M426.2 192h0M426.4 193.7h0M426.5 193.1h0M426.7 185.5h0M426.8 194.9h0M427 195.6h0M427.2 183.7h0M427.3 178.1h0M427.8 182.7h0M428 186.7h0M428.1 189.4h0M428.5 184.7h0M429.4 184.3h0"/><path stroke="#b4a6c9" stroke-width="3.6" d="M409.9 183.7h0M410.3 191.3h0M410.6 196.4h0M411 195.6h0M411.5 176.4h0M412.5 174.2h0M413.1 195.7h0M413.2 190.9h0M413.9 193.6h0M414.2 191.4h0M414.3 189.5h0M414.5 176.1h0M414.5 192.7h0M414.5 188.6h0M414.7 183.1h0"/><path stroke="#b09ecd" stroke-width="3.6" d="M401.1 189.5h0M402.8 195.5h0M404.5 189.8h0"/><path stroke="#ae9acf" stroke-width="3.6" d="M395.6 171.8h0M396.8 176.6h0M397.2 167.2h0M399 192.6h0"/><path stroke="#ac96d0" stroke-width="3.6" d="M391.3 171h0M392.6 195.5h0"/><path stroke="#de9d8c" stroke-width="3.4" d="M494.6 217.2h0M494.7 218.4h0M494.9 209.8h0M494.9 207.4h0M495 215.1h0M495 218.7h0M495 214.7h0M495 210.1h0M495.3 208h0M495.3 219.5h0M495.4 208h0M495.6 207.4h0M495.6 220.7h0M495.6 219.6h0M495.7 216.3h0M495.7 211.1h0M495.8 210h0M495.8 211.2h0M495.9 209.6h0M495.9 207.4h0M496 207.3h0M496 220.6h0M496.1 212.4h0M496.3 213.6h0M496.3 210h0M496.4 210.9h0M496.6 217.3h0M496.8 213.2h0M496.8 216.2h0M496.8 212h0M496.9 210.4h0M497.1 213.7h0M497.1 213.9h0M497.2 224.5h0M497.2 212.3h0M497.3 221.8h0M497.4 209.7h0M497.4 222.8h0M497.6 212.5h0M497.6 221.6h0M497.6 209.3h0M497.7 208.8h0M498 216.7h0M498.1 221.3h0M498.1 220.4h0M498.1 219.8h0M498.3 206h0M498.3 219h0M498.3 210.2h0M498.3 216.3h0M498.4 218h0M498.4 219.6h0M498.4 213.4h0M498.5 212.4h0M498.5 213.5h0M498.5 213.8h0M498.6 216.8h0M498.7 208.5h0M498.8 217.3h0M498.9 220.3h0M499 217h0M499.1 214.4h0M499.3 213.6h0M499.3 217.4h0M499.4 214.1h0"/><path stroke="#ec8269" stroke-width="3.4" d="M534.5 220.5h0M534.5 221.3h0M534.8 220.2h0M534.8 212.9h0M534.9 219.9h0M535 217.5h0M535.4 219.1h0M535.4 212.2h0M535.6 218.5h0M535.9 216.3h0M535.9 218.1h0M536 212.8h0M536.1 216.9h0M536.2 216.7h0M536.3 217.8h0M536.4 217.6h0M536.5 214.5h0M536.8 225.8h0M536.9 217.4h0M536.9 219.9h0M537 216.6h0M537 219.1h0M537.2 219.4h0M537.3 215.5h0M537.5 213.9h0M537.5 207.4h0M537.6 214.7h0M537.6 212.8h0M537.7 214.7h0M537.9 216.1h0M538.2 215.6h0M538.3 215.4h0M538.4 214.8h0M538.6 216h0M538.6 214h0M538.7 213.4h0M538.9 214.9h0M539.2 214.3h0M539.3 219.7h0"/><path stroke="#e4937f" stroke-width="3.4" d="M509.6 214.4h0M509.7 212.8h0M509.7 214.2h0M509.8 215.8h0M509.9 225.5h0M510.1 197.3h0M510.5 210.8h0M510.5 218.5h0M510.8 219.6h0M510.9 213h0M511.3 213.5h0M511.3 215.8h0M511.5 216.3h0M511.6 214.9h0M511.8 219.9h0M512.1 211.9h0M512.2 213.8h0M512.2 212.3h0M512.4 216.6h0M512.4 211.3h0M512.4 213.4h0M512.6 218.6h0M512.6 214.3h0M512.6 216.1h0M512.6 220.5h0M512.7 211.1h0M512.7 215.9h0M513 209.7h0M513 209.1h0M513.1 221.8h0M513.2 217.5h0M513.3 219.4h0M513.3 214.5h0M513.3 217.9h0M513.4 212.5h0M513.6 213.1h0M513.9 213.5h0M513.9 215.1h0M514 219.1h0M514.3 211.9h0M514.5 216.5h0M514.5 198.3h0"/><path stroke="#d7a699" stroke-width="3.4" d="M479.7 213.7h0M479.8 214.8h0M479.9 217.6h0M479.9 213h0M480 218.2h0M480 225.6h0M480.1 214.9h0M480.1 215.6h0M480.1 221.7h0M480.1 212.7h0M480.1 217.1h0M480.2 206.6h0M480.3 221.3h0M480.3 218.1h0M480.6 223.4h0M480.7 225.9h0M480.8 221.3h0M481.2 213.7h0M481.3 200h0M481.4 222.1h0M481.4 219.9h0M481.5 223.4h0M481.6 211.9h0M481.7 225.3h0M481.8 210.7h0M481.9 220.4h0M482.1 209.6h0M482.2 213.3h0M482.3 210.2h0M482.4 217.1h0M482.4 212h0M482.4 209.7h0M482.4 211.2h0M482.5 220.3h0M482.6 205.7h0M482.6 206.7h0M482.6 219h0M482.6 210h0M482.6 220.1h0M482.8 218.4h0M482.8 216.5h0M482.9 205.1h0M483 205.4h0M483.1 208h0M483.2 219.1h0M483.2 220.7h0M483.3 215.4h0M483.4 211.3h0M483.5 209.3h0M483.5 214.4h0M483.6 211.4h0M483.6 214.6h0M483.6 222.3h0M483.7 208.9h0M483.8 214.7h0M483.9 210.8h0M484 213.1h0M484 209.4h0M484.2 206.7h0M484.2 214.5h0M484.4 216.7h0M484.4 216.6h0"/><path stroke="#eb866d" stroke-width="3.4" d="M529.6 215.8h0M529.8 215.9h0M529.8 215.4h0M530 219.5h0M530.1 211.1h0M530.2 212.4h0M530.4 208.6h0M530.5 217.6h0M530.8 217h0M531 219.4h0M531.1 216.8h0M531.1 216.6h0M531.3 213.4h0M531.4 215.7h0M531.5 218.2h0M531.6 217.6h0M531.8 218.6h0M532.3 214.9h0M532.6 215.3h0M532.6 216.6h0M532.6 214.5h0M532.7 216h0M532.7 213.3h0M532.9 220.5h0M533.1 215.6h0M533.1 213.9h0M533.2 211h0M533.4 220.7h0M533.4 214h0M533.4 212.9h0M533.5 207.6h0M533.5 215.9h0M533.6 214.4h0M533.6 219.6h0M533.7 214.6h0M533.7 211.1h0M533.7 212.3h0M533.8 217.3h0"/><path stroke="#e98971" stroke-width="3.4" d="M524.5 211.2h0M524.6 213.5h0M524.6 214.4h0M524.7 222.1h0M524.8 214.2h0M524.9 211.4h0M525 213.6h0M525 223.9h0M525.1 223.8h0M525.3 215.9h0M525.4 219h0M525.5 220.5h0M525.7 220.3h0M525.8 214.2h0M525.9 210.1h0M525.9 225.9h0M526.1 213.7h0M526.2 206.3h0M526.7 215.8h0M526.8 219.2h0M527 196.9h0M527 217.3h0M527.3 215.4h0M527.4 216.4h0M527.4 218.8h0M527.5 216.8h0M527.5 214.9h0M527.7 216.2h0M527.7 218.6h0M527.8 217.4h0M527.8 215.6h0M527.8 214.6h0M528 215.6h0M528.1 220.3h0M528.3 218.7h0M528.3 216.6h0M528.4 220.1h0M528.6 214.7h0M528.6 218.2h0M528.7 214.1h0M528.9 219.7h0M529.2 219.4h0M529.4 218h0M529.4 211.4h0M529.5 215.1h0"/><path stroke="#d1aca2" stroke-width="3.4" d="M469.8 214.1h0M469.8 209.4h0M469.9 213.5h0M470 216h0M470 203.6h0M470 219.5h0M470.1 219.8h0M470.1 215.5h0M470.2 225.5h0M470.4 218.4h0M470.5 214h0M470.7 214.8h0M470.9 214.7h0M470.9 214.3h0M470.9 214.4h0M471 211.3h0M471.1 211.7h0M471.1 210.5h0M471.2 207.7h0M471.3 211h0M471.4 210.5h0M471.4 206.7h0M471.4 220.5h0M471.4 221.4h0M471.5 207.9h0M471.5 211.9h0M471.6 222h0M471.6 205.4h0M471.6 210.1h0M471.6 206.4h0M471.6 224.7h0M471.7 213.8h0M471.7 224.3h0M471.8 215.6h0M471.8 214.1h0M472 224.5h0M472.1 209.9h0M472.1 215.9h0M472.1 224.6h0M472.1 214.7h0M472.3 198.9h0M472.3 213.9h0M472.4 213.9h0M472.6 216.9h0M472.6 220.1h0M472.8 213.7h0M472.8 218.7h0M472.8 226h0M472.8 209h0M472.8 212.4h0M472.8 205.3h0M472.9 218.9h0M473 207.9h0M473 206.4h0M473.1 212.4h0M473.2 203.6h0M473.3 213.4h0M473.3 218.1h0M473.4 218h0M473.5 215.5h0M473.6 215.4h0M473.6 214.7h0M473.8 214.3h0M473.8 209.9h0M473.9 214.6h0M473.9 211.6h0M474 215.2h0M474 212.8h0M474 221h0M474.1 222.3h0M474.1 215.5h0M474.2 211.3h0M474.2 212.4h0M474.3 217.9h0M474.4 214.6h0M474.4 205.7h0M474.5 221h0M474.5 216.4h0M474.6 208.9h0M474.6 205h0"/><path stroke="#f46c4e" stroke-width="3.4" d="M565 217h0M565.1 217.5h0M565.1 216.5h0M565.3 219.4h0M565.4 215.6h0M565.7 218.5h0M565.8 216.9h0M565.9 220h0M566.1 219.6h0M566.1 217.4h0M566.2 214h0M566.3 216.6h0M566.3 216.3h0M566.3 215.2h0M566.4 214.2h0M566.5 219.2h0M566.6 216.5h0M566.7 216.8h0M566.7 217.8h0M566.7 217.1h0M566.9 218.6h0M567 218.2h0M567 216.2h0M567.1 214.9h0M567.2 220h0M567.2 218.6h0M567.4 218.5h0M567.5 215h0M567.7 216.1h0M567.7 216.4h0M567.7 214.6h0M567.7 221.2h0M567.8 219.6h0M567.8 218.1h0M567.9 215.1h0M568 219h0M568.1 217.1h0M568.2 216.9h0M568.2 221h0M568.3 214.9h0M568.4 217.6h0M568.4 219.5h0M568.4 223.5h0M568.6 225.6h0M568.6 217h0M568.6 220.1h0M568.6 217.4h0M568.9 217.8h0M569 217.4h0M569.1 214.6h0M569.1 219.6h0M569.1 206.7h0M569.2 217.8h0M569.2 218.2h0M569.3 218.4h0"/><path stroke="#e29683" stroke-width="3.4" d="M504.7 214.7h0M504.9 220h0M504.9 212.6h0M505.1 218.3h0M505.1 219.8h0M505.3 218.6h0M505.4 210.5h0M505.5 219h0M505.6 211.1h0M506.1 214.1h0M506.2 216.3h0M506.4 214.9h0M506.5 212.3h0M506.5 214.3h0M506.6 216.2h0M506.6 214.1h0M506.7 205.6h0M506.9 212.9h0M506.9 211.6h0M507.1 211.8h0M507.2 216.2h0M507.2 204.3h0M507.3 215h0M507.3 214.6h0M507.4 211.5h0M507.6 208.5h0M507.8 216.8h0M507.8 218.8h0M507.8 219.3h0M507.9 215.1h0M507.9 217.7h0M508.2 213.8h0M508.2 224.4h0M508.3 216.9h0M508.4 215.8h0M508.7 210.8h0M508.8 213.5h0M508.8 215.3h0M508.9 209.9h0M509 219.4h0M509 211.2h0M509 215.7h0M509.5 212.6h0M509.5 217.5h0M509.5 208.2h0"/><path stroke="#ceafa7" stroke-width="3.4" d="M465.1 206h0M465.2 208.1h0M465.3 215.2h0M465.3 217.1h0M465.4 208.8h0M465.4 214.6h0M465.6 221h0M465.6 223.6h0M465.8 209.1h0M466.1 217.2h0M466.2 214.3h0M466.2 224.7h0M466.4 226.2h0M466.5 201.9h0M466.6 218.7h0M466.8 209.1h0M467.9 223.4h0M468.1 216.4h0M468.3 224.8h0M468.5 225.9h0M468.5 215.1h0M468.6 209.5h0M468.6 216.3h0M468.6 212.8h0M468.7 206.1h0M468.7 215h0M468.8 220.3h0M468.9 212.9h0M468.9 213h0M469 221.4h0M469 204.2h0M469 216.1h0M469.1 210.6h0M469.1 212.7h0M469.2 210.4h0M469.2 207.6h0M469.3 216.3h0M469.4 209.7h0M469.4 212.4h0M469.4 207.4h0M469.5 217.5h0M469.6 207.1h0M469.6 200.1h0"/><path stroke="#ed7f64" stroke-width="3.4" d="M539.5 213.7h0M539.6 215.3h0M539.7 214.4h0M539.8 224.6h0M539.8 218.2h0M540 215.6h0M540.1 214.2h0M540.1 212.5h0M540.1 219h0M540.2 218.3h0M540.4 217.9h0M540.5 215h0M540.6 213.9h0M540.6 213.1h0M540.7 217.2h0M540.8 219h0M540.8 213.8h0M540.9 216.1h0M540.9 215.1h0M540.9 216.6h0M541.1 214.4h0M541.2 214.5h0M541.3 221.6h0M541.4 213.7h0M541.5 212.4h0M541.9 216.4h0M542 217.5h0M542 215.6h0M542.1 220.9h0M542.4 218.7h0M542.7 218.8h0M542.8 217.5h0M542.8 215.5h0M542.8 213.5h0M542.9 217.4h0M543.2 201.4h0M543.2 215.1h0M543.6 219.5h0M543.7 214.7h0M543.9 214.2h0M544.1 217.7h0M544.2 223.5h0M544.4 217.3h0"/><path stroke="#d9a395" stroke-width="3.4" d="M484.7 219.8h0M484.7 223.8h0M484.8 215.8h0M484.9 216.2h0M485 217.1h0M485 219.8h0M485 217.9h0M485 213.8h0M485.2 208.4h0M485.3 205.3h0M485.3 215.6h0M485.3 221.7h0M485.6 215.8h0M485.6 226.1h0M485.8 211h0M485.8 221h0M485.8 221.4h0M485.9 213.7h0M485.9 217.8h0M486 218.3h0M486.1 209.4h0M486.1 210.8h0M486.2 217.1h0M486.3 213.4h0M486.4 208.5h0M486.6 220.1h0M486.6 213.1h0M486.7 225.8h0M486.7 209.5h0M486.9 221.4h0M487 212.3h0M487.2 211.2h0M487.3 217.4h0M487.3 219.5h0M487.4 219.6h0M487.4 211.5h0M487.4 215h0M487.4 213.6h0M487.6 216.2h0M487.7 222.9h0M487.8 210.1h0M488 211.4h0M488.1 212h0M488.2 213h0M488.3 217.7h0M488.4 212.9h0M488.5 211.4h0M488.6 217.9h0M488.6 207.4h0M488.7 212h0M488.8 216.5h0M488.9 204.8h0M489 207.5h0M489.1 213.6h0M489.1 222.7h0M489.2 218.8h0M489.3 209.8h0M489.3 218.5h0M489.5 213.1h0"/><path stroke="#dba090" stroke-width="3.4" d="M489.7 221.9h0M489.7 216.9h0M489.7 212.3h0M489.9 212.5h0M490 218.3h0M490.1 217.6h0M490.6 221.2h0M490.9 222.8h0M490.9 223h0M491.4 213h0M491.5 213h0M491.7 214h0M491.7 204.1h0M491.8 214.7h0M491.8 214.1h0M492.1 223.3h0M492.2 212.6h0M492.3 220.6h0M492.5 206h0M492.5 211.7h0M492.6 221.7h0M492.6 220.2h0M492.6 216.4h0M492.7 216.1h0M492.7 225.4h0M492.8 206h0M493 216.7h0M493.3 225.2h0M493.3 218.2h0M493.5 207.8h0M493.6 207.5h0M493.6 215.8h0M493.6 215.9h0M493.8 203.6h0M493.8 215.7h0M493.8 208.3h0M493.8 200.6h0M493.9 214.6h0M493.9 217.4h0M494.1 217.6h0M494.1 216.4h0M494.2 206.7h0M494.2 214.7h0"/><path stroke="#f17457" stroke-width="3.4" d="M554.5 217.8h0M554.6 215.7h0M554.6 214.1h0M555 217.1h0M555.1 218.1h0M555.3 213.4h0M555.3 217.1h0M555.4 217.7h0M555.5 219.3h0M555.6 220h0M555.7 216.4h0M555.7 218.8h0M555.8 214.9h0M555.9 205.2h0M556.1 214.7h0M556.3 214.7h0M556.4 219.4h0M556.5 216.2h0M556.7 218.6h0M556.8 218.7h0M557.4 217.1h0M557.6 218.7h0M557.9 215h0M557.9 218h0M558 213h0M558 211.9h0M558 216.4h0M558.1 216.6h0M558.1 216.5h0M558.2 218.4h0M558.4 217.2h0M558.4 215.5h0M558.4 213.9h0M558.8 215.1h0M558.9 213.3h0M558.9 211.2h0M558.9 218.5h0M559 216.7h0M559.2 217.7h0M559.4 217.8h0"/><path stroke="#e78d76" stroke-width="3.4" d="M519.6 217.2h0M519.6 220.2h0M519.6 213.2h0M519.7 209h0M519.7 210.4h0M519.9 212.2h0M519.9 217.4h0M520.1 211.9h0M520.1 221.5h0M520.1 217.8h0M520.1 214.4h0M520.3 212.8h0M520.4 219.8h0M520.5 211.7h0M520.6 197h0M520.7 214.3h0M520.7 215.4h0M520.8 218h0M520.9 218.2h0M521 219h0M521.1 214.2h0M521.2 214.8h0M521.2 214.9h0M521.3 209.5h0M521.3 210.4h0M521.4 212.9h0M521.5 217.6h0M521.7 214.4h0M521.9 214.1h0M522 212.1h0M522 211.3h0M522.2 225.9h0M522.3 217.8h0M522.3 215.2h0M522.4 219.4h0M522.4 220.9h0M522.5 218.6h0M522.6 217.3h0M522.7 216.9h0M522.9 214.2h0M523 215.9h0M523 215.1h0M523.1 210.7h0M523.5 217.5h0M523.7 217.2h0M524 218.3h0M524.1 216.3h0"/><path stroke="#f5684a" stroke-width="3.4" d="M569.6 217.5h0M569.6 219.8h0M569.7 218h0M569.8 218.1h0M569.9 218.4h0M569.9 219h0M570 218.4h0M570.2 218.2h0M570.2 217.5h0M570.5 217.6h0M570.6 205.7h0M571.1 215.2h0M571.2 216.5h0M571.3 219.3h0M571.4 218.8h0M571.5 221.1h0M571.6 217.4h0M571.9 217.8h0M571.9 218.3h0M571.9 215.5h0M572.1 216.2h0M572.1 219.4h0M572.2 215.9h0M572.3 215.9h0M572.4 214.3h0M572.4 222.8h0M572.4 218.1h0M572.4 216.7h0M572.7 218.7h0M572.9 215.9h0M572.9 217.4h0M573 214.9h0M573.1 215.6h0M573.2 223.7h0M573.5 217.6h0M573.7 218.3h0M573.7 215.1h0M573.7 217.8h0M573.8 216.8h0M573.8 218.3h0M574 219.5h0M574.1 216.6h0M574.2 218h0"/><path stroke="#f37053" stroke-width="3.4" d="M559.6 215h0M559.6 220h0M559.8 216.7h0M559.9 214.6h0M560 219h0M560.1 214.4h0M560.1 218.3h0M560.6 216.6h0M560.6 219.8h0M560.7 215.4h0M560.7 214.7h0M560.7 215.3h0M560.8 218.2h0M560.9 216.5h0M560.9 217.9h0M560.9 216.4h0M561 217.3h0M561.1 217.1h0M561.2 216.9h0M561.3 218.4h0M561.6 220.5h0M561.6 217.6h0M561.6 217.4h0M561.6 215.3h0M561.7 217.1h0M561.9 207.2h0M561.9 216.6h0M562 219.7h0M562 215.3h0M562.1 219.9h0M562.3 216.4h0M562.4 215.4h0M562.4 213.4h0M562.5 220.7h0M562.6 221.9h0M562.6 215.2h0M562.9 217.9h0M563 218.8h0M563.1 215.8h0M563.2 217.3h0M563.3 225.4h0M563.4 217.9h0M563.5 218.2h0M563.5 216.6h0M563.8 215h0M564 219h0M564 223.9h0M564.2 221.5h0M564.4 217.7h0"/><path stroke="#f0785b" stroke-width="3.4" d="M549.5 216.3h0M550 215.1h0M550 218.9h0M550 215.7h0M550.5 216.5h0M550.6 216.4h0M550.8 210.6h0M551 216.8h0M551 214.6h0M551.3 214.7h0M551.4 225.3h0M551.4 217.7h0M551.4 216.7h0M551.5 218.7h0M551.7 214.8h0M551.8 219.4h0M552 215.2h0M552.1 222.9h0M552.1 218h0M552.2 216.9h0M552.4 214.6h0M552.5 216.3h0M552.5 215.2h0M552.6 218h0M552.8 218.5h0M552.9 215.2h0M553 216.8h0M553.1 215.4h0M553.3 216.3h0M553.4 218.6h0M553.6 218.4h0M553.6 214h0M553.8 219.9h0M554 216.9h0M554.1 210h0"/><path stroke="#e09a87" stroke-width="3.4" d="M499.8 218.5h0M500 208.9h0M500 197.2h0M500.1 220.2h0M500.4 213.9h0M500.6 218.4h0M500.7 215.3h0M500.7 214.5h0M500.8 213.4h0M500.8 214.1h0M500.8 213.3h0M501.1 209h0M501.1 216.8h0M501.1 208.2h0M501.4 212h0M501.5 219.6h0M501.6 211.4h0M501.7 223.6h0M501.7 212.7h0M501.7 211.7h0M501.8 212.8h0M501.8 215.1h0M502.3 210.8h0M502.7 221.3h0M502.8 223.8h0M502.8 218.6h0M502.9 217.2h0M502.9 215.4h0M503.2 219.3h0M503.2 200.2h0M503.7 212.7h0M503.8 215.6h0M504 212.1h0M504 208.9h0M504.1 215.2h0M504.2 212.5h0M504.2 213.4h0M504.2 210.8h0M504.4 219.5h0M504.4 210.9h0M504.4 216.9h0"/><path stroke="#f66446" stroke-width="3.4" d="M574.5 218.3h0M574.7 218.4h0M574.7 217.1h0M575.1 214.5h0M575.1 220.7h0M575.6 217.1h0M575.7 218.2h0M575.7 216h0M576 216.3h0M576.1 220.9h0M576.1 215.2h0M576.1 219.1h0M576.2 220.4h0M576.3 218.6h0M576.4 218.2h0M576.7 218.9h0M576.8 218.4h0M576.9 219.2h0M576.9 218.7h0M577.5 216.5h0M577.5 217.8h0M577.6 218.9h0M577.8 219.1h0M577.8 220h0M577.8 219.5h0M577.8 217.4h0M577.9 219h0M578.2 217.4h0"/><path stroke="#ef7b60" stroke-width="3.4" d="M544.6 220h0M544.6 220h0M544.6 217.2h0M544.7 215.9h0M545 223.4h0M545.1 218.5h0M545.2 199.3h0M545.3 205.9h0M545.3 221.3h0M545.3 216.5h0M545.4 217.2h0M545.4 219.9h0M545.5 212.7h0M545.6 213h0M545.7 226.1h0M545.8 216.4h0M545.9 215.7h0M546 216.6h0M546.2 214.3h0M546.5 214.1h0M546.6 214.8h0M546.7 216.7h0M546.7 216.2h0M546.7 216.1h0M546.8 216.7h0M546.9 216.1h0M547 225.9h0M547.8 220h0M547.8 214.9h0M548 214.2h0M548.1 216.8h0M548.1 217.2h0M548.3 212h0M548.5 212.7h0M548.7 214.3h0M548.7 215.6h0M548.8 217.6h0M548.9 217.2h0"/><path stroke="#e5907a" stroke-width="3.4" d="M514.5 208.9h0M514.5 215.7h0M514.7 217.4h0M514.7 209.5h0M514.9 212.8h0M515.3 210.1h0M515.5 213.7h0M515.6 218.2h0M515.6 215.7h0M515.6 214.2h0M515.7 215.2h0M516 219.3h0M516.1 216.8h0M516.1 220.1h0M516.2 216.3h0M516.2 215h0M516.3 220.5h0M516.4 215.7h0M516.5 211.9h0M516.5 219.6h0M516.5 212.9h0M516.6 218.3h0M516.6 209.2h0M517 215.6h0M517.1 215.6h0M517.1 219.3h0M517.3 215h0M517.6 216.9h0M517.7 219.1h0M518.1 215.4h0M518.2 209.5h0M518.2 205.9h0M518.4 209.8h0M518.4 211.4h0M518.5 212.7h0M518.6 210.4h0M518.7 217.3h0M518.7 215.6h0M518.7 219.4h0M518.8 215.4h0M518.9 213h0M518.9 211h0M519 219.4h0M519 218.3h0M519.1 221.4h0M519.1 213.1h0M519.3 216.9h0M519.5 222.4h0M519.5 213h0"/><path stroke="#d4a99e" stroke-width="3.4" d="M474.7 212.8h0M474.8 215.7h0M474.8 213h0M475 213h0M475.1 216.4h0M475.2 205.4h0M475.3 213.6h0M475.3 220.1h0M475.4 223.3h0M475.5 212.4h0M475.7 220.1h0M475.8 207.7h0M475.8 208.9h0M475.8 216.3h0M475.8 219.2h0M475.8 211.7h0M475.9 215.1h0M475.9 213.9h0M476 217.5h0M476.3 224.8h0M476.3 216h0M476.3 219.5h0M476.4 214.1h0M476.5 223.3h0M476.5 219.9h0M476.6 211.9h0M476.7 219.6h0M476.8 215.5h0M476.8 204.6h0M476.8 221.9h0M476.8 216.5h0M476.9 212.7h0M476.9 221.6h0M477.3 213.2h0M477.3 217.5h0M477.3 225.2h0M477.4 206.7h0M477.4 212.6h0M477.4 217.7h0M477.4 204.9h0M477.5 208.1h0M477.5 224.1h0M477.8 205.4h0M478 213.6h0M478.1 218.4h0M478.1 207.8h0M478.1 224.8h0M478.4 209h0M478.4 219h0M478.4 217.7h0M478.4 226.2h0M478.8 221.6h0M478.8 211.1h0M478.8 204.1h0M478.9 213h0M479.1 214.1h0M479.1 218.1h0M479.2 217h0M479.4 224.4h0M479.4 219h0M479.5 215.9h0M479.6 215h0"/><path stroke="#ccb2ac" stroke-width="3.4" d="M459.8 222.2h0M459.8 209.7h0M459.8 222.5h0M460.1 204.9h0M460.3 221.8h0M460.4 212.1h0M460.4 225.3h0M460.4 219.4h0M460.5 224.8h0M460.6 200.4h0M460.6 221.5h0M460.8 221.7h0M461 220.1h0M461 219.7h0M461.3 223.4h0M461.4 217.5h0M461.4 223.5h0M461.5 202.8h0M461.6 223.4h0M461.7 215.6h0M461.8 219.4h0M461.9 221.5h0M462 200.6h0M462 209.2h0M462 223.9h0M462.1 221.7h0M462.2 220.8h0M462.3 221.1h0M462.3 218.3h0M462.4 220.6h0M462.5 226.2h0M462.5 214.7h0M462.6 226.1h0M462.7 222.1h0M462.8 222.1h0M462.9 225.3h0M463 223.8h0M463.2 221.4h0M463.3 199.5h0M463.3 220.5h0M463.4 212.6h0M463.6 211.4h0M463.7 220.3h0M464.3 217.8h0M464.6 212.4h0"/><path stroke="#c8b5b0" stroke-width="3.4" d="M455.1 202.9h0M456.1 223.9h0M456.2 215h0M456.3 217.8h0M456.3 205.2h0M456.3 225.6h0M456.3 222.5h0M456.6 222.3h0M456.8 222.8h0M456.9 212h0M456.9 225.7h0M456.9 223.6h0M457.1 217.5h0M457.3 222.5h0M457.5 223.5h0M457.5 220.1h0M457.6 222.5h0M457.7 212h0M457.7 225.9h0M457.8 210.6h0M457.9 217h0M457.9 215.2h0M458 224.8h0M458.6 222h0M458.6 200.9h0M458.8 225.7h0M458.8 225.5h0M458.9 213.4h0M458.9 218.9h0M459 222h0M459 207.7h0M459.2 222.2h0M459.2 217.1h0M459.2 225.5h0M459.3 215.2h0M459.4 216.6h0M459.5 226.1h0M459.5 221.2h0"/><path stroke="#c8b5b0" stroke-width="3.6" d="M455.7 195h0M457.2 195.9h0M457.4 187.7h0M459.3 194.2h0"/><path stroke="#ccb2ac" stroke-width="3.6" d="M461 192.3h0M463.8 186.2h0"/><path stroke="#d7a699" stroke-width="3.6" d="M481.3 188.8h0M482.5 195.9h0M484 190.3h0M484.4 196.6h0"/><path stroke="#e29683" stroke-width="3.6" d="M505.8 191.5h0"/><path stroke="#dba090" stroke-width="3.6" d="M489.8 176.8h0M490.7 193.8h0M494 189.9h0"/><path stroke="#c5b8b5" stroke-width="3.4" d="M454.3 216.6h0"/><path stroke="#d4a99e" stroke-width="3.6" d="M474.9 187.9h0M477.3 189h0M477.9 196.1h0"/><path stroke="#ceafa7" stroke-width="3.6" d="M465.7 191.7h0"/><path stroke="#eb866d" stroke-width="3.6" d="M530.4 180.1h0M530.6 191.1h0M533.1 193h0"/><path stroke="#f17457" stroke-width="3.6" d="M558.3 175.1h0"/><path stroke="#f46c4e" stroke-width="3.6" d="M567.9 184.7h0"/><path stroke="#e09a87" stroke-width="3.6" d="M500.2 193.5h0"/><path stroke="#de9d8c" stroke-width="3.6" d="M497.2 179h0"/><path stroke="#ed7f64" stroke-width="3.6" d="M539.6 180h0"/><path stroke="#f0785b" stroke-width="3.6" d="M553.1 186.3h0M554.3 193.3h0"/><path stroke="#f5684a" stroke-width="3.6" d="M569.6 192.3h0"/><path stroke="#e78d76" stroke-width="3.6" d="M520.1 189h0M523.6 177.9h0"/><path stroke="#d9a395" stroke-width="3.6" d="M486 187.9h0M488.3 190.2h0"/><path stroke="#e29683" stroke-width="4.2" d="M508.3 86.4h0"/><path stroke="#e29683" stroke-width="4.0" d="M506.1 114.4h0M509.2 136.3h0"/><path stroke="#eb866d" stroke-width="4.0" d="M532.4 121.4h0"/><path stroke="#ed7f64" stroke-width="4.0" d="M543.3 121h0"/><path stroke="#f37053" stroke-width="4.0" d="M563.9 121h0"/><path stroke="#f66446" stroke-width="4.0" d="M575.3 121h0"/><path stroke="#e4937f" stroke-width="3.8" d="M511.4 138.1h0M512.7 159.1h0"/><path stroke="#ec8269" stroke-width="4.0" d="M538.1 132.8h0"/><path stroke="#f17457" stroke-width="4.0" d="M556.5 127.6h0"/><path stroke="#e5907a" stroke-width="3.8" d="M517.1 158.2h0M517.9 146h0"/><path stroke="#e78d76" stroke-width="3.8" d="M524.1 144.2h0"/><path stroke="#eb866d" stroke-width="3.8" d="M532.4 142.9h0M533.7 161.7h0"/><path stroke="#ec8269" stroke-width="3.8" d="M534.6 144.2h0M538.1 160.4h0"/><path stroke="#f46c4e" stroke-width="3.8" d="M565.2 147.3h0"/><path stroke="#de9d8c" stroke-width="3.8" d="M497.8 150.3h0"/><path stroke="#e29683" stroke-width="3.8" d="M506.1 146.4h0"/><path stroke="#e98971" stroke-width="3.8" d="M525 156h0"/><path stroke="#f0785b" stroke-width="3.8" d="M551.2 160.4h0M551.7 154.7h0"/><path stroke="#d9a395" stroke-width="3.8" d="M486.4 164.8h0"/><path stroke="#f37053" stroke-width="3.8" d="M563.9 167h0"/><path stroke="#f66446" stroke-width="3.8" d="M576.6 167h0"/><path stroke="#f95738" stroke-width="3.6" d="M589.8 167.9h0"/><path stroke="#e5907a" stroke-width="3.6" d="M517.1 180.1h0"/><path stroke="#e4937f" stroke-width="3.6" d="M509.6 190.2h0"/><path stroke="#e98971" stroke-width="3.6" d="M525 193.3h0"/><path stroke="#f76041" stroke-width="3.6" d="M582.8 196.3h0"/><path stroke="#f95234" stroke-width="3.4" d="M595.9 202h0"/><path stroke="#fa4d2f" stroke-width="3.4" d="M600.3 215.2h0M603.8 201.6h0"/><path stroke="#ff1708" stroke-width="3.4" d="M635.3 217.4h0"/><path stroke="#fb482b" stroke-width="3.4" d="M608.2 218.2h0"/><path stroke="#f85c3d" stroke-width="3.4" d="M587.1 215.2h0"/><path stroke="#f76041" stroke-width="3.4" d="M580.6 214.3h0"/><path stroke="#a58ad5" stroke-width="4.0" d="M378.8 134.9h0"/><path stroke="#b09ecd" stroke-width="4.0" d="M399.8 135.3h0"/><path stroke="#ae9acf" stroke-width="3.8" d="M396.1 162.2h0M397.2 139.2h0M398.7 143h0M399.6 155.4h0"/><path stroke="#b09ecd" stroke-width="3.8" d="M400.7 151.9h0M401 140.4h0"/><path stroke="#b7aec6" stroke-width="4.0" d="M424.1 134.1h0"/><path stroke="#b6aac7" stroke-width="3.8" d="M416.8 138.7h0M417.4 144.8h0M417.4 157.2h0M418 151.4h0M418.3 162.2h0"/><path stroke="#b7aec6" stroke-width="3.8" d="M420.9 145.6h0M424.3 152.5h0"/><path stroke="#b2a2cb" stroke-width="3.8" d="M405 145.3h0M405.1 159.1h0M405.3 164.1h0M407.9 156.5h0"/><path stroke="#aa92d2" stroke-width="3.8" d="M385.3 159.5h0M388.7 156h0"/><path stroke="#a78ed4" stroke-width="3.8" d="M381.7 162.6h0"/><path stroke="#b4a6c9" stroke-width="3.8" d="M411.9 160.3h0M412.5 164.8h0"/><path stroke="#ac96d0" stroke-width="3.8" d="M393.3 162.2h0"/><path stroke="#aa92d2" stroke-width="3.6" d="M388.4 186.4h0"/><path stroke="#a78ed4" stroke-width="3.4" d="M384 224.5h0M384.4 200.2h0"/><path stroke="#aa92d2" stroke-width="3.4" d="M386 211.2h0"/><path stroke="#a386d7" stroke-width="3.4" d="M371.9 225.5h0"/><path stroke="#a58ad5" stroke-width="3.4" d="M378.3 224.2h0"/></g>
<g stroke="#262626" stroke-width="1.0" stroke-dasharray="1.7 1.4" fill="none">
<path d="M430.2 78.2V266.2"/>
<path d="M454.1 78.2V266.2"/>
<path d="M358.2 226.27H649"/>
</g>
<path d="M358.2 78.2V266.2" stroke="#9a9a9a" stroke-width="1.1" fill="none"/>
<path d="M357.7 266.2H649.0" stroke="#8a8a8a" stroke-width="1.3" fill="none"/>
<g font-family="'Liberation Sans', sans-serif" font-size="3.5" fill="#777"><path d="M382.4 266.8v1.3" stroke="#333" stroke-width="0.6"/><text x="382.4" y="270.8" text-anchor="middle">-5</text><path d="M442.2 266.8v1.3" stroke="#333" stroke-width="0.6"/><text x="442.2" y="270.8" text-anchor="middle">0</text><path d="M501.9 266.8v1.3" stroke="#333" stroke-width="0.6"/><text x="501.9" y="270.8" text-anchor="middle">5</text><path d="M561.7 266.8v1.3" stroke="#333" stroke-width="0.6"/><text x="561.7" y="270.8" text-anchor="middle">10</text><path d="M621.5 266.8v1.3" stroke="#333" stroke-width="0.6"/><text x="621.5" y="270.8" text-anchor="middle">15</text><path d="M357.7 257.3h-1.3" stroke="#333" stroke-width="0.6"/><text x="356.0" y="258.6" text-anchor="end">0</text><path d="M357.7 209.6h-1.3" stroke="#333" stroke-width="0.6"/><text x="356.0" y="210.9" text-anchor="end">2</text><path d="M357.7 161.9h-1.3" stroke="#333" stroke-width="0.6"/><text x="356.0" y="163.2" text-anchor="end">4</text><path d="M357.7 114.2h-1.3" stroke="#333" stroke-width="0.6"/><text x="356.0" y="115.5" text-anchor="end">6</text></g>
<text x="504.0" y="275.5" font-family="'Liberation Sans', sans-serif" font-size="4.6" fill="#222" text-anchor="middle" textLength="17.8" lengthAdjust="spacingAndGlyphs">log2(FC)</text>
<text transform="translate(350.5 171.7) rotate(-90)" font-family="'Liberation Sans', sans-serif" font-size="4.6" fill="#222" text-anchor="middle" x="0" y="1.6" textLength="29.7" lengthAdjust="spacingAndGlyphs">-log10(p-value)</text>
<text x="536.2" y="55.2" font-family="'Liberation Serif', serif" font-weight="bold" font-size="12.5" text-anchor="middle" textLength="14.5" lengthAdjust="spacingAndGlyphs">V7</text>
<rect x="404.65" y="64.35" width="25.5" height="7.1" fill="#cfe0f9" stroke="#1a6ae8" stroke-width="1.7"/>
<text x="435.0" y="69.7" font-family="'Liberation Sans', sans-serif" font-size="9" fill="#505050" textLength="52.3" lengthAdjust="spacingAndGlyphs">Sig.Down [878]</text>
<rect x="493.85" y="64.35" width="25.5" height="7.1" fill="#fcd3d4" stroke="#f0322a" stroke-width="1.7"/>
<text x="524.0" y="69.7" font-family="'Liberation Sans', sans-serif" font-size="9" fill="#505050" textLength="47.5" lengthAdjust="spacingAndGlyphs">Sig.Up [1247]</text>
<rect x="578.05" y="64.35" width="25.5" height="7.1" fill="#efefef" stroke="#c8c8c8" stroke-width="1.7"/>
<text x="608.0" y="69.7" font-family="'Liberation Sans', sans-serif" font-size="9" fill="#505050" textLength="45.5" lengthAdjust="spacingAndGlyphs">Unsig. [2417]</text>
<defs><linearGradient id="gV7" x1="0" y1="0" x2="0" y2="1"><stop offset="0.000" stop-color="#ff0000"/><stop offset="0.050" stop-color="#fe2b14"/><stop offset="0.100" stop-color="#fc3f23"/><stop offset="0.150" stop-color="#fa4e30"/><stop offset="0.200" stop-color="#f85b3c"/><stop offset="0.250" stop-color="#f56748"/><stop offset="0.300" stop-color="#f27154"/><stop offset="0.350" stop-color="#ef7b60"/><stop offset="0.400" stop-color="#eb856b"/><stop offset="0.450" stop-color="#e78e77"/><stop offset="0.500" stop-color="#e29783"/><stop offset="0.550" stop-color="#dc9f8f"/><stop offset="0.600" stop-color="#d5a89c"/><stop offset="0.650" stop-color="#ceb0a8"/><stop offset="0.700" stop-color="#c5b8b4"/><stop offset="0.750" stop-color="#bdbcbf"/><stop offset="0.800" stop-color="#b9b1c4"/><stop offset="0.850" stop-color="#b4a6c9"/><stop offset="0.900" stop-color="#af9bce"/><stop offset="0.950" stop-color="#a990d3"/><stop offset="1.000" stop-color="#a285d7"/></linearGradient></defs>
<rect x="655.8" y="158.0" width="7" height="33.9" fill="url(#gV7)"/>
<g font-family="'Liberation Sans', sans-serif" font-size="3.7" fill="#333"><path d="M655.8 160.55h1.3M661.5 160.55h1.3" stroke="#fff" stroke-width="0.4"/><text x="664.4" y="161.9">15</text><path d="M655.8 168.05h1.3M661.5 168.05h1.3" stroke="#fff" stroke-width="0.4"/><text x="664.4" y="169.4">10</text><path d="M655.8 175.55h1.3M661.5 175.55h1.3" stroke="#fff" stroke-width="0.4"/><text x="664.4" y="176.9">5</text><path d="M655.8 183.05h1.3M661.5 183.05h1.3" stroke="#fff" stroke-width="0.4"/><text x="664.4" y="184.4">0</text><path d="M655.8 190.55h1.3M661.5 190.55h1.3" stroke="#fff" stroke-width="0.4"/><text x="664.4" y="191.9">-5</text></g>
<text x="655.8" y="156.2" font-family="'Liberation Sans', sans-serif" font-size="4.6" fill="#222" textLength="24.3" lengthAdjust="spacingAndGlyphs">FoldChange</text>
<g fill="none" stroke-linecap="round"><path stroke="#bebebe" stroke-width="2.6" d="M46.9 491.6h0M48.7 491.5h0M88.7 494h0M91.3 493.9h0M94.1 490.7h0M96.2 495.6h0M97 498.2h0M98 494.4h0M106.3 499h0M112.9 490.9h0M116.9 500.5h0M118.1 490.7h0M119.9 494.7h0M120.8 492.9h0M121.2 495.3h0M125.9 492.3h0M127.4 499.3h0M128.4 495h0M128.7 502.6h0M129.1 494.3h0M130.4 493h0M130.9 503.2h0M131.7 503h0M132.5 501.9h0M133.4 498.4h0M133.6 493.7h0M133.8 493.8h0M134 498.5h0M134.8 494.1h0M135.1 494.4h0M135.4 505.2h0M135.4 496.9h0M135.5 504.3h0M137.5 499.4h0M137.8 501.3h0M138.3 493.3h0M138.4 502.7h0M138.9 504.2h0M139 505.1h0M139.2 495h0M139.5 492.3h0M139.6 497.6h0M139.7 505.7h0M140.2 503.8h0M140.2 503.1h0M140.8 495.5h0M140.8 496.2h0M140.8 496.9h0M141.4 493h0M141.6 490.9h0M141.7 496.8h0M141.8 506.5h0M142.8 500.6h0M142.9 502.8h0M143.4 496.3h0M143.7 506.3h0M143.8 502.2h0M144.2 501.5h0M144.7 505.5h0M144.9 507.5h0M146.2 492.9h0M146.2 491.1h0M146.3 492h0M146.3 502.8h0M146.4 506.5h0M146.7 497.2h0M147 498.2h0M147.3 494.8h0M147.7 492.4h0M147.9 499.9h0M148.7 493.6h0M148.9 493.2h0M149.2 501.9h0M149.5 491.1h0M149.6 502.3h0M149.7 502.4h0M150.2 497.5h0M150.3 498.2h0M150.4 492.1h0M150.4 494.2h0M150.7 494.8h0M150.7 494h0M150.9 497h0M151.2 498.1h0M151.8 496.4h0M151.9 498.1h0M152 499.7h0M152.3 496.1h0M152.5 502.7h0M152.6 507.9h0M152.8 499.2h0M152.8 500h0M152.8 495.5h0M152.8 495.6h0M152.8 509.3h0M152.9 501.7h0M153.3 493h0M153.5 491.4h0M153.6 492.3h0M153.7 502.1h0M153.8 505h0M153.9 491.5h0M154 496.4h0M154.1 498.1h0M154.2 494.2h0M154.5 508h0M154.6 492.4h0M154.6 509.1h0M154.9 497.8h0M155 509h0M155 504.1h0M155 502.9h0M155.2 502.1h0M155.2 498.3h0M155.4 501.8h0M155.5 493.3h0M155.7 501.9h0M155.8 505.9h0M155.8 501.9h0M155.9 507.7h0M156.1 501.4h0M156.4 497.1h0M156.5 506.4h0M156.6 502.5h0M156.7 508.1h0M156.8 492.7h0M156.9 495.2h0M157 496.2h0M157 499.6h0M157 504.9h0M157.1 492.4h0M157.2 495.7h0M157.2 510h0M157.3 490.6h0M157.4 503.3h0M157.7 509.8h0M157.7 506.8h0M157.8 499.3h0M157.8 506.3h0M157.8 493.9h0M157.9 502.9h0M158.1 493.9h0M158.4 490.7h0M158.4 506.9h0M158.5 498h0M158.5 501.6h0M158.5 497.8h0M158.6 499.5h0M158.7 508.7h0M159 500.9h0M159.2 500.1h0M159.3 504.6h0M159.4 499.7h0M159.5 496.2h0M159.5 498.7h0M160.2 502.9h0M160.4 495.2h0M160.7 503h0M160.7 507.3h0M160.8 494.2h0M160.8 504.4h0M160.8 500.6h0M160.9 499.4h0M161.1 497.9h0M161.2 496.7h0M161.2 501.5h0M161.5 506h0M161.5 500.5h0M161.5 493h0M161.6 496h0M161.6 506.1h0M161.6 496.9h0M161.6 498.8h0M161.7 498.3h0M161.7 492.5h0M162 510.4h0M162.2 493.3h0M162.2 502.4h0M162.4 500.1h0M162.5 497.8h0M162.6 494.2h0M163 494.3h0M163.1 503.9h0M163.4 504.1h0M163.5 496.6h0M163.5 501.4h0M163.6 491.1h0M163.7 493.7h0M164 492.6h0M164.1 492.7h0M164.2 498.2h0M164.2 495.1h0M164.3 510.3h0M164.5 495.4h0M164.6 497.4h0M164.7 501.8h0M164.7 505.3h0M164.7 490.8h0M164.8 491.6h0M165 504h0M165 494.7h0M165 494.6h0M165 500.2h0M165.1 507h0M165.2 508.9h0M165.2 492.5h0M165.3 498.2h0M165.4 501.6h0M165.5 507.2h0M165.5 503.8h0M165.7 506.2h0M165.7 494.5h0M165.7 506.5h0M165.8 493.3h0M165.9 497.8h0M166 497.5h0M166.1 510.5h0M166.1 497.5h0M166.1 505.8h0M166.2 492.9h0M166.2 507.9h0M166.3 506.4h0M166.4 496.7h0M166.4 509h0M166.6 505h0M166.7 495.4h0M166.7 510.4h0M166.7 498.7h0M166.7 496.6h0M166.8 503h0M167 492h0M167.1 490.7h0M167.2 510.2h0M167.2 500.2h0M167.3 501.3h0M167.4 505.3h0M167.6 504.3h0M167.6 503.7h0M167.7 508h0M167.7 495.4h0M167.8 502.5h0M167.9 490.8h0M168.2 502.3h0M168.2 506.8h0M168.4 510.7h0M168.6 509.7h0M168.7 509.8h0M168.7 506.4h0M168.7 500.7h0M168.9 497.5h0M168.9 494.1h0M168.9 504.4h0M168.9 506.4h0M168.9 509.2h0M169 500h0M169 500.5h0M169 505.3h0M169 493.8h0M169.1 510.8h0M169.2 491.5h0M169.2 505.6h0M169.2 493.5h0M169.3 507.5h0M169.4 493.5h0M169.4 510.1h0M169.6 506.4h0M169.6 493.8h0M169.6 497.5h0M169.7 495.8h0M169.7 501.4h0M169.8 497.5h0M169.8 495.5h0M169.9 507.1h0M169.9 492.1h0M170 510.8h0M170 506.2h0M170.2 494.1h0M170.2 501.9h0M170.3 494.6h0M170.3 507.5h0M170.3 497.4h0M170.4 500.9h0M170.5 498.8h0M170.6 496.3h0M170.6 505.1h0M170.7 490.7h0M170.9 510.9h0M170.9 500.8h0M170.9 508.4h0M171 495.2h0M171.1 508.5h0M171.3 507.5h0M171.5 498.5h0M171.5 491.6h0M171.5 497.3h0M171.5 504.2h0M171.7 492h0M171.8 506.5h0M171.9 499.7h0M171.9 502.2h0M171.9 493.3h0M172 490.7h0M172 511h0M172.2 503.9h0M172.2 491.6h0M172.2 500h0M172.2 505.3h0M172.3 497.2h0M172.3 490.9h0M172.3 511.7h0M172.3 494.9h0M172.5 506.1h0M172.5 504.3h0M172.6 499.1h0M172.7 492.1h0M172.7 503.8h0M172.8 492.6h0M172.9 507h0M173 511.3h0M173 505.9h0M173 494.7h0M173.1 495.5h0M173.1 502.4h0M173.2 505.5h0M173.2 491.4h0M173.3 494.2h0M173.4 491.9h0M173.5 495.3h0M173.5 506.5h0M173.6 501.7h0M173.6 508.7h0M173.6 503.7h0M173.7 505.1h0M173.7 500.4h0M173.8 507.1h0M173.9 510.1h0M174 500.8h0M174 505.9h0M174.1 501.9h0M174.1 504.1h0M174.1 500.4h0M174.2 493.9h0M174.2 491.3h0M174.2 502.1h0M174.2 502.1h0M174.2 495.8h0M174.3 499.7h0M174.3 493.8h0M174.3 498.5h0M174.6 494.4h0M174.6 497.9h0M174.6 509.6h0M174.7 501.6h0M174.7 506h0M174.7 494.1h0M174.9 492.9h0M175 507.8h0M175 494.3h0M175 500.9h0M175 505h0M175.1 493.4h0M175.1 507.2h0M175.2 501.9h0M175.2 511.3h0M175.2 496.1h0M175.2 494.8h0M175.2 500.9h0M175.3 500.2h0M175.3 509.5h0M175.3 505.4h0M175.5 491.8h0M175.5 510.8h0M175.5 508.8h0M175.5 498.6h0M175.6 508.5h0M175.7 503h0M175.8 491.3h0M175.8 504.1h0M175.8 493.3h0M175.9 508.7h0M176 493.5h0M176.1 508.9h0M176.1 494.9h0M176.1 508.8h0M176.1 491.2h0M176.1 495.3h0M176.2 506.2h0M176.3 511.5h0M176.3 500.3h0M176.3 504.8h0M176.4 503.9h0M176.4 494.8h0M176.4 496.5h0M176.5 491.5h0M176.6 490.6h0M176.7 504h0M176.7 510.1h0M176.8 494.1h0M176.9 500.1h0M176.9 493.7h0M176.9 499.5h0M177 510.7h0M177 500h0M177 506.9h0M177 495.9h0M177.1 493.1h0M177.1 511.4h0M177.1 493.3h0M177.2 506.9h0M177.2 505h0M177.3 493.9h0M177.3 504.2h0M177.4 496.8h0M177.4 510.6h0M177.5 503.4h0M177.5 508.4h0M177.5 494.1h0M177.6 502.8h0M177.6 491.5h0M177.8 497.9h0M177.8 506.7h0M177.8 492h0M177.8 495.8h0M177.8 497h0M177.9 497.8h0M177.9 505.8h0M177.9 492.6h0M178.1 504.4h0M178.1 499.9h0M178.1 492.1h0M178.1 499.6h0M178.2 499.3h0M178.2 499.8h0M178.2 509.3h0M178.3 504h0M178.4 496.5h0M178.4 507.7h0M178.4 496.6h0M178.4 508.3h0M178.5 493h0M178.5 501.2h0M178.5 497.2h0M178.6 506.1h0M178.6 502.1h0M178.6 493.1h0M178.6 504h0M178.7 499.3h0M178.8 491.2h0M178.8 497.6h0M178.9 502.3h0M178.9 491.5h0M179 510.2h0M179 503.1h0M179.1 509.2h0M179.1 510.9h0M179.1 511.8h0M179.1 501.9h0M179.2 507.5h0M179.3 505.7h0M179.3 505h0M179.3 510.1h0M179.4 495.4h0M179.4 494.5h0M179.5 491.5h0M179.5 500.7h0M179.5 502.1h0M179.5 498.4h0M179.5 501.2h0M179.6 502.9h0M179.6 499h0M179.6 501.3h0M179.6 505.6h0M179.6 510.5h0M179.6 499h0M179.8 492.8h0M179.9 506.8h0M179.9 503.4h0M179.9 503.4h0M180 490.7h0M180 498h0M180.1 500.7h0M180.1 508h0M180.1 509.2h0M180.1 492.8h0M180.2 491.8h0M180.3 503.9h0M180.4 509.2h0M180.4 511.2h0M180.6 496h0M180.6 506.3h0M180.6 492.6h0M180.7 496.6h0M180.7 505.4h0M180.8 491.9h0M180.9 495h0M180.9 494.9h0M180.9 502.9h0M180.9 496.5h0M181 508.3h0M181 499.8h0M181.1 507.2h0M181.1 507.5h0M181.1 511.6h0M181.1 505.8h0M181.2 501.7h0M181.2 506.5h0M181.2 510.8h0M181.2 511.8h0M181.3 506.9h0M181.3 510.2h0M181.3 493.2h0M181.3 499.2h0M181.3 505.1h0M181.4 494.8h0M181.5 505.2h0M181.5 506.3h0M181.5 509.5h0M181.6 490.6h0M181.7 507h0M181.7 498.1h0M181.7 503.5h0M181.8 500.1h0M181.8 511.2h0M181.8 491h0M181.9 494.3h0M181.9 498.3h0M181.9 508.5h0M182 497.5h0M182 490.9h0M182 510.3h0M182.1 491.7h0M182.2 495.5h0M182.3 509.4h0M182.4 507.4h0M182.4 502.3h0M182.4 509.2h0M182.4 494.4h0M182.5 505h0M182.5 506.2h0M182.5 504.4h0M182.5 502.6h0M182.5 506.5h0M182.6 496.2h0M182.6 495.6h0M182.6 504.8h0M182.6 510.1h0M182.6 503.2h0M182.6 506.9h0M182.7 505.1h0M182.7 508.6h0M182.8 493h0M182.8 498.1h0M182.8 494.1h0M182.8 490.6h0M182.9 507.5h0M183 493.3h0M183 499.5h0M183 492.9h0M183 507.3h0M183.1 497.5h0M183.2 502.4h0M183.2 495.1h0M183.2 501.4h0M183.2 496.6h0M183.3 497.5h0M183.3 503.8h0M183.3 495.1h0M183.3 503.1h0M183.3 507.7h0M183.4 491h0M183.5 508.1h0M183.5 503.5h0M183.5 498.4h0M183.5 495.5h0M183.5 498.1h0M183.5 508.6h0M183.6 504.1h0M183.6 502.4h0M183.6 499h0M183.6 499h0M183.7 509.2h0M183.7 503.4h0M183.7 501.4h0M183.7 506h0M183.8 505.8h0M183.8 504.1h0M183.9 497.5h0M183.9 501.9h0M183.9 491.3h0M183.9 499.4h0M184 511.7h0M184 505.7h0M184 507.6h0M184.1 511.5h0M184.1 504.9h0M184.1 496.4h0M184.1 491.5h0M184.1 492.2h0M184.2 507.7h0M184.2 492.3h0M184.2 490.8h0M184.2 511.3h0M184.2 498h0M184.3 503.4h0M184.3 511.8h0M184.4 494.7h0M184.4 508.5h0M184.5 499.8h0M184.5 506.4h0M184.5 509.5h0M184.5 498.8h0M184.6 505.1h0M184.7 496h0M184.7 506.5h0M184.7 496.7h0M184.7 505.9h0M184.7 500.7h0M184.9 510.8h0M184.9 498.1h0M185 505.5h0M185 493.8h0M185 504.9h0M185 510.9h0M185 501.3h0M185.1 493.1h0M185.1 497.6h0M185.1 508.5h0M185.1 508.5h0M185.1 501.8h0M185.1 493.7h0M185.2 507.5h0M185.2 500h0M185.2 500.2h0M185.2 499.8h0M185.3 503.4h0M185.3 509.4h0M185.3 492.6h0M185.4 505.8h0M185.4 492.2h0M185.4 495.6h0M185.5 510.4h0M185.5 499h0M185.5 494.3h0M185.5 510.1h0M185.5 499.1h0M185.5 507.7h0M185.5 502.4h0M185.5 500.3h0M185.6 508.8h0M185.6 506.8h0M185.7 506.3h0M185.7 500.2h0M185.7 502.5h0M185.7 505.5h0M185.8 510.1h0M185.8 503.1h0M185.8 510.3h0M185.9 511.3h0M185.9 510.4h0M185.9 490.7h0M185.9 501h0M185.9 502.5h0M186 508.7h0M186 496.8h0M186.1 496.9h0M186.1 510.5h0M186.1 508.2h0M186.1 497.2h0M186.1 499.8h0M186.2 495.7h0M186.2 509.7h0M186.2 495.1h0M186.3 499.6h0M186.3 505.2h0M186.3 491.6h0M186.4 511.5h0M186.4 496.5h0M186.4 493.2h0M186.4 505.7h0M186.4 491.6h0M186.4 491.7h0M186.5 499h0M186.5 504.1h0M186.5 501.9h0M186.6 509.4h0M186.6 509.2h0M186.6 500.6h0M186.7 510.9h0M186.7 511.5h0M186.7 493.3h0M186.8 493.3h0M186.8 500.1h0M186.8 496.2h0M186.8 508.8h0M186.8 495.3h0M186.8 507.2h0M186.9 494.1h0M186.9 499.9h0M186.9 510.4h0M186.9 497.8h0M187 505.8h0M187 491.9h0M187 501.3h0M187 509.1h0M187 492.7h0M187 509.9h0M187.1 500.6h0M187.1 504h0M187.1 498.4h0M187.2 509.7h0M187.2 506.7h0M187.2 493.9h0M187.2 509.7h0M187.3 509h0M187.5 501.6h0M187.5 494.9h0M187.5 498.7h0M187.5 494.9h0M187.5 499.8h0M187.6 507.5h0M187.6 496.4h0M187.6 501.5h0M187.6 505.8h0M187.6 493h0M187.7 497.3h0M187.7 510.5h0M187.7 500.4h0M187.7 510.3h0M187.8 494.4h0M187.8 507.9h0M187.8 510.7h0M187.9 494.6h0M187.9 499.5h0M187.9 506.4h0M187.9 508.6h0M187.9 508.7h0M187.9 508.5h0M187.9 506.9h0M188 502h0M188 501.6h0M188 506.9h0M188 503.2h0M188 508.4h0M188.1 495.4h0M188.1 506.8h0M188.1 504.4h0M188.1 492.3h0M188.1 499.2h0M188.2 494.6h0M188.2 505.9h0M188.2 493.9h0M188.2 499.6h0M188.2 491h0M188.3 492.1h0M188.3 502h0M188.3 491.4h0M188.3 493.4h0M188.3 491.8h0M188.4 495.4h0M188.4 510.5h0M188.4 494.4h0M188.4 499.7h0M188.4 498.3h0M188.5 500.5h0M188.5 501.9h0M188.6 495.9h0M188.6 494.9h0M188.6 506h0M188.6 501.1h0M188.6 511.9h0M188.6 502.2h0M188.6 500.9h0M188.6 494.3h0M188.7 506.3h0M188.7 497.6h0M188.7 504.1h0M188.7 503.2h0M188.7 500.7h0M188.8 507.8h0M188.8 509h0M188.8 511.9h0M188.8 508h0M188.8 505h0M188.9 511.4h0M189 495.3h0M189 493.6h0M189 504.2h0M189 491.5h0M189.1 511h0M189.1 500.8h0M189.1 491.1h0M189.1 500.2h0M189.1 511.7h0M189.3 496.4h0M189.3 508.5h0M189.3 501.9h0M189.4 497.1h0M189.4 492.6h0M189.4 508.2h0M189.4 502.3h0M189.4 490.8h0M189.5 506.9h0M189.5 508h0M189.5 501.4h0M189.5 494.4h0M189.5 501.7h0M189.5 510.7h0M189.5 504.7h0M189.7 501.3h0M189.7 495.9h0M189.7 506.3h0M189.7 499.6h0M189.7 493.5h0M189.7 506.1h0M189.8 508.8h0M189.8 502.1h0M189.8 499.5h0M189.8 507.4h0M189.8 498.2h0M189.8 495.1h0M189.8 499.9h0M189.8 500h0M189.8 500h0M189.8 502.6h0M189.9 507h0M189.9 502.8h0M189.9 497.2h0M189.9 503h0M189.9 511.8h0M190 510.7h0M190 503.4h0M190.1 501.4h0M190.1 501.9h0M190.1 511h0M190.1 498.3h0M190.1 503.7h0M190.1 496.4h0M190.1 500.8h0M190.2 495h0M190.3 494.7h0M190.3 497.2h0M190.3 490.8h0M190.3 498.5h0M190.4 499.3h0M190.4 504.3h0M190.5 511.1h0M190.5 502h0M190.5 504.3h0M190.5 490.7h0M190.5 494.2h0M190.6 510.4h0M190.6 505h0M190.7 511.6h0M190.7 502.2h0M190.7 495.9h0M190.7 509.5h0M190.7 491.1h0M190.8 497.4h0M190.8 497.3h0M190.9 509h0M190.9 505.6h0M190.9 495.8h0M190.9 511.9h0M190.9 504.7h0M191 498.7h0M191 502.4h0M191 498.6h0M191 498.8h0M191 493.3h0M191 501.7h0M191 496.2h0M191 510.8h0M191 508.4h0M191.1 497h0M191.1 507.8h0M191.1 507.2h0M191.1 492.5h0M191.1 499.1h0M191.1 496h0M191.1 507.5h0M191.1 508.4h0M191.2 502.8h0M191.2 506.9h0M191.2 501h0M191.2 498.6h0M191.2 492.8h0M191.2 497h0M191.3 500.2h0M191.3 492.4h0M191.3 508.6h0M191.3 499.3h0M191.3 491.4h0M191.4 502.8h0M191.4 510.2h0M191.5 498.3h0M191.5 502.4h0M191.5 508.7h0M191.5 487h0M191.5 503.4h0M191.5 483.3h0M191.5 494.6h0M191.5 511.3h0M191.5 501.5h0M191.6 479.1h0M191.6 505.5h0M191.6 510.3h0M191.6 511.1h0M191.6 492.4h0M191.6 492.4h0M191.6 491.8h0M191.7 502.5h0M191.7 501.6h0M191.7 489.5h0M191.7 508.5h0M191.7 506.7h0M191.7 502.4h0M191.8 492.5h0M191.8 498.8h0M191.8 506.2h0M191.8 495.1h0M191.8 506.5h0M191.8 498.2h0M191.8 501.5h0M191.9 500.3h0M191.9 493.1h0M191.9 509h0M191.9 492.8h0M191.9 511.8h0M192 496.1h0M192 505.3h0M192 495.9h0M192 505.7h0M192 500.5h0M192 499.7h0M192 493.8h0M192.1 486.3h0M192.1 500h0M192.1 499h0M192.1 493.4h0M192.1 489.7h0M192.1 477.6h0M192.2 510.8h0M192.2 506.5h0M192.2 494.4h0M192.2 509.9h0M192.2 509.2h0M192.2 505.2h0M192.3 509.7h0M192.3 501.8h0M192.3 503.9h0M192.3 507.1h0M192.3 507.8h0M192.4 508.9h0M192.4 499.5h0M192.4 501.4h0M192.4 504h0M192.4 496.6h0M192.4 511.5h0M192.4 507h0M192.4 492.5h0M192.4 508.2h0M192.4 502.2h0M192.4 510.5h0M192.4 499.4h0M192.4 496.7h0M192.4 495.4h0M192.4 507.9h0M192.5 500.4h0M192.5 494.7h0M192.5 493h0M192.5 490.7h0M192.5 506h0M192.5 504h0M192.5 506.6h0M192.5 497.9h0M192.5 494.4h0M192.6 486.4h0M192.6 509.9h0M192.6 493.3h0M192.6 505.8h0M192.6 510.6h0M192.6 495.3h0M192.6 502.7h0M192.6 496.9h0M192.6 486.7h0M192.6 506.6h0M192.6 493.2h0M192.6 509.1h0M192.7 511.5h0M192.7 506.1h0M192.7 486h0M192.7 501.6h0M192.7 492.8h0M192.7 492.9h0M192.7 496.5h0M192.7 506.8h0M192.7 503.4h0M192.7 510.2h0M192.7 493.8h0M192.7 492.3h0M192.7 502.9h0M192.8 505.9h0M192.8 499.2h0M192.8 492.9h0M192.8 497.3h0M192.8 510.4h0M192.8 504.8h0M192.8 504.2h0M192.8 503.9h0M192.8 501.6h0M192.8 510.7h0M192.9 507.4h0M192.9 497.9h0M192.9 496.7h0M192.9 508.4h0M192.9 509.1h0M192.9 491h0M192.9 506.6h0M192.9 468.5h0M193 498.8h0M193 507.2h0M193 502.6h0M193 506.7h0M193 501.3h0M193.1 508.7h0M193.1 500.9h0M193.1 496.4h0M193.1 467.7h0M193.1 497.7h0M193.1 494.2h0M193.1 494.7h0M193.2 500.2h0M193.2 507.2h0M193.2 498.4h0M193.2 447.8h0M193.2 508.3h0M193.2 495.7h0M193.2 492.9h0M193.3 504.9h0M193.3 501h0M193.3 506.7h0M193.3 489.9h0M193.3 503.4h0M193.3 510.1h0M193.3 480.5h0M193.3 496.9h0M193.3 506.6h0M193.3 510.5h0M193.4 508.1h0M193.4 507.7h0M193.4 493.2h0M193.4 491h0M193.4 510.9h0M193.4 506.1h0M193.4 492.2h0M193.5 500.1h0M193.5 509.1h0M193.5 496.9h0M193.5 510.2h0M193.5 491h0M193.5 498.8h0M193.6 497h0M193.6 507.3h0M193.6 494.1h0M193.6 510.8h0M193.7 498.1h0M193.7 485.6h0M193.7 496.6h0M193.7 508.1h0M193.7 498.8h0M193.7 499.8h0M193.8 493h0M193.8 496.3h0M193.8 497.6h0M193.8 495.9h0M193.8 507.7h0M193.8 507.5h0M193.8 505.5h0M193.9 490.9h0M193.9 496.8h0M193.9 492.7h0M193.9 490.6h0M193.9 465.4h0M194 510.1h0M194 501.2h0M194 511h0M194 490.7h0M194 500.1h0M194 505.1h0M194 454.4h0M194 478.4h0M194.1 496.6h0M194.1 507.5h0M194.1 491.4h0M194.1 504.7h0M194.1 505h0M194.1 507.9h0M194.1 509.2h0M194.1 503h0M194.1 487.1h0M194.1 492.8h0M194.1 489h0M194.1 451.9h0M194.1 493.5h0M194.2 496.6h0M194.2 499.7h0M194.2 493.6h0M194.2 490.7h0M194.2 493.8h0M194.2 489.3h0M194.2 504.2h0M194.2 508h0M194.2 506.3h0M194.3 494.7h0M194.3 509.7h0M194.3 509.2h0M194.3 502.5h0M194.3 510.4h0M194.3 500.5h0M194.3 507h0M194.3 511.8h0M194.3 497.8h0M194.4 491.5h0M194.4 495.3h0M194.4 501.4h0M194.4 501.5h0M194.4 496.6h0M194.4 507.1h0M194.5 510.9h0M194.5 503.1h0M194.5 506h0M194.5 511.5h0M194.5 498.6h0M194.5 500.8h0M194.5 494.3h0M194.5 508.2h0M194.5 507.2h0M194.6 477.9h0M194.6 508.1h0M194.6 509.4h0M194.6 497.5h0M194.6 495.8h0M194.6 510.7h0M194.7 509.4h0M194.7 510.1h0M194.7 473.2h0M194.7 490.3h0M194.7 491.4h0M194.7 498.1h0M194.8 511.1h0M194.8 504.1h0M194.8 494.7h0M194.8 453.7h0M194.8 506.6h0M194.8 495.3h0M194.8 507.2h0M194.9 504.5h0M194.9 492.3h0M194.9 496h0M194.9 493.7h0M194.9 501.3h0M194.9 495.1h0M195 491.6h0M195 507.7h0M195 508.3h0M195 504.3h0M195 500.4h0M195 511.5h0M195 511.2h0M195 499.5h0M195.1 471.3h0M195.1 490.6h0M195.1 508.4h0M195.1 492.4h0M195.1 510.3h0M195.2 496.7h0M195.2 507.7h0M195.2 497.5h0M195.2 505.8h0M195.2 508.3h0M195.2 508.4h0M195.2 488.9h0M195.2 509h0M195.2 472.4h0M195.3 495.8h0M195.3 505.8h0M195.3 492.6h0M195.3 497.3h0M195.3 495.8h0M195.3 502.4h0M195.3 479.1h0M195.4 505.4h0M195.4 507.3h0M195.4 504.6h0M195.4 493.7h0M195.4 510.4h0M195.4 499.3h0M195.4 497.7h0M195.5 491.7h0M195.5 491h0M195.5 506.5h0M195.5 511.1h0M195.5 494.7h0M195.5 502h0M195.5 507.4h0M195.5 493.7h0M195.6 482.7h0M195.6 498.9h0M195.6 508.4h0M195.6 502.1h0M195.6 508.9h0M195.6 506.6h0M195.6 492.3h0M195.7 461.3h0M195.7 506.3h0M195.7 506.3h0M195.7 502.5h0M195.8 496.3h0M195.8 498.3h0M195.8 488h0M195.8 489.6h0M195.8 502.7h0M195.9 486.6h0M195.9 491.4h0M195.9 508.9h0M195.9 510.2h0M195.9 505.5h0M196 492.7h0M196 506.4h0M196 498.4h0M196 503.9h0M196 508.6h0M196.1 504.3h0M196.1 509.6h0M196.1 493.3h0M196.1 499.8h0M196.1 508.9h0M196.1 511.5h0M196.2 500.7h0M196.2 510.8h0M196.2 496.4h0M196.2 498.5h0M196.2 501.7h0M196.2 502h0M196.2 507.6h0M196.2 492.8h0M196.2 501.9h0M196.3 504.9h0M196.3 511.1h0M196.3 502.3h0M196.3 496.4h0M196.3 510.1h0M196.3 499.1h0M196.3 503.5h0M196.4 493.1h0M196.4 469.4h0M196.5 496.2h0M196.5 500.3h0M196.5 494h0M196.5 511.7h0M196.6 472.1h0M196.6 474h0M196.6 508.3h0M196.6 509h0M196.6 501.7h0M196.6 491.6h0M196.6 498.8h0M196.6 506.2h0M196.6 509.8h0M196.6 495.3h0M196.7 422.1h0M196.7 511.5h0M196.7 507.2h0M196.7 500.5h0M196.8 497.2h0M196.8 492.9h0M196.8 495.1h0M196.8 511.6h0M196.8 496.5h0M196.8 478.1h0M196.8 492.5h0M196.8 507.5h0M196.9 485.8h0M196.9 511h0M196.9 486.3h0M196.9 495.2h0M196.9 494.6h0M196.9 484.9h0M196.9 503.7h0M196.9 510.7h0M196.9 490.6h0M197 499.5h0M197 504.6h0M197 489.5h0M197 492.2h0M197 510.3h0M197 498.6h0M197 505.5h0M197 500.6h0M197 502h0M197.1 502.2h0M197.1 497.1h0M197.1 500.2h0M197.1 506.3h0M197.1 493.8h0M197.1 500.7h0M197.1 508.7h0M197.2 494.1h0M197.2 501.4h0M197.3 504h0M197.3 510.9h0M197.3 492.4h0M197.3 502.5h0M197.3 502.2h0M197.3 505.3h0M197.3 511.1h0M197.4 477.9h0M197.4 496.5h0M197.4 492.6h0M197.4 490.2h0M197.4 505.7h0M197.4 506.3h0M197.4 492.8h0M197.4 491.6h0M197.4 503.3h0M197.4 500.2h0M197.4 510.3h0M197.4 506.5h0M197.5 506.8h0M197.5 506.1h0M197.5 501.4h0M197.5 494.2h0M197.5 495.5h0M197.5 503.4h0M197.6 504.4h0M197.6 511.2h0M197.6 503.1h0M197.6 508.6h0M197.6 499.2h0M197.7 478.4h0M197.7 496.7h0M197.7 494.9h0M197.7 491.8h0M197.7 511.9h0M197.7 496.4h0M197.7 502.7h0M197.7 499.6h0M197.7 498.4h0M197.8 504h0M197.8 506.5h0M197.8 504.6h0M197.8 509.2h0M197.8 494.6h0M197.9 494.3h0M197.9 501.6h0M197.9 510.5h0M197.9 496h0M197.9 510h0M198 508.2h0M198 498.1h0M198 502.6h0M198 511.2h0M198.1 504.2h0M198.1 504.9h0M198.1 494.3h0M198.1 507.7h0M198.1 511.4h0M198.1 490.3h0M198.1 497.2h0M198.1 493.2h0M198.1 492.8h0M198.1 505h0M198.1 500.2h0M198.1 498.1h0M198.2 495.7h0M198.2 500h0M198.2 487.8h0M198.2 498h0M198.3 507h0M198.3 501h0M198.3 506.7h0M198.4 510.3h0M198.4 500.4h0M198.4 491.8h0M198.4 506.5h0M198.4 509.6h0M198.4 464.4h0M198.4 508.8h0M198.5 500.9h0M198.5 509.2h0M198.6 506.4h0M198.7 511.3h0M198.8 504.1h0M198.8 500.8h0M198.8 510.4h0M198.8 502.6h0M199 504.2h0M199.1 503.2h0M199.1 510.3h0M199.1 501.4h0M199.1 505.3h0M199.1 510.7h0M199.2 508.1h0M199.3 503.9h0M199.3 509.3h0M199.3 505.3h0M199.3 511.9h0M199.4 507.4h0M199.4 501.9h0M199.4 505.8h0M199.4 509.5h0M199.5 508.3h0M199.5 503.6h0M199.6 511.6h0M199.6 507.5h0M199.7 510.1h0M199.7 508.1h0M199.7 504.3h0M199.7 507h0M199.8 509.2h0M199.8 509.5h0M199.9 509h0M199.9 501.9h0M200 505.3h0M200 511.3h0M200 507.8h0M200.1 509.2h0M200.1 502.2h0M200.2 506.2h0M200.2 505h0M200.2 511.3h0M200.2 508.7h0M200.2 509.7h0M200.2 510.2h0M200.3 508.2h0M200.3 510.8h0M200.3 508.7h0M200.4 510.2h0M200.5 511.4h0M200.6 505.9h0M200.6 510.5h0M200.6 504.7h0M200.7 508.7h0M200.7 505.1h0M200.7 505.6h0M200.8 505.5h0M200.8 506.5h0M200.8 505.6h0M200.8 511.4h0M200.9 509h0M201 510.5h0M201.1 508.5h0M201.2 504.2h0M201.2 510.9h0M201.3 511h0M201.3 507h0M201.3 508.5h0M201.3 503.5h0M201.4 507.3h0M201.5 503.2h0M201.5 503.6h0M201.5 510.9h0M201.6 507.9h0M201.6 511.4h0M201.7 505.1h0M201.7 504.8h0M201.7 510.3h0M201.7 503.8h0M201.8 508.7h0M201.8 502.6h0M201.8 508.9h0M201.9 503.7h0M202 511.8h0M202 510.6h0M202 507.4h0M202.1 510.5h0M202.1 510.7h0M202.2 511.8h0M202.2 511.6h0M202.2 511.9h0M202.2 511.3h0M202.3 506.2h0M202.4 510.8h0M202.4 506.7h0M202.4 505.3h0M202.5 502.2h0M202.6 503.1h0M202.7 508.1h0M202.8 511.1h0M202.9 505.9h0M202.9 510.5h0M202.9 504.8h0M203 502.2h0M203.1 508h0M203.1 506.5h0M203.1 501.6h0M203.2 506h0M203.2 509.6h0M203.3 511.7h0M203.3 504.3h0M203.4 507.7h0M203.4 507.8h0M203.4 511.1h0M203.5 503.9h0M203.5 501.7h0M203.5 511.8h0M203.6 507.7h0M203.7 501.9h0M203.7 510.3h0M203.7 502.2h0M203.7 504.1h0M203.8 510h0M203.9 504.8h0M203.9 501h0M203.9 502.2h0M204 510.3h0M204.1 502.9h0M204.1 503.8h0M204.2 509.3h0M204.2 508.3h0M204.2 504.4h0M204.4 505.4h0M204.4 498.2h0M204.4 508.5h0M204.4 494.2h0M204.4 490.4h0M204.5 504.7h0M204.5 510.6h0M204.5 510h0M204.5 498.7h0M204.5 500.8h0M204.5 494h0M204.6 509.9h0M204.6 497.4h0M204.6 479.1h0M204.6 501h0M204.6 437.5h0M204.7 484.3h0M204.7 483.9h0M204.7 459.6h0M204.7 510.7h0M204.7 492.6h0M204.8 493.1h0M204.8 509.3h0M204.8 495.2h0M204.8 492.9h0M204.9 497.5h0M204.9 476.8h0M204.9 495.7h0M205 506.9h0M205 496.8h0M205 496.2h0M205 491.9h0M205.1 509.3h0M205.1 490.7h0M205.1 508.7h0M205.1 497.5h0M205.1 509.1h0M205.1 495.1h0M205.1 491.9h0M205.1 486h0M205.2 496.5h0M205.2 439.3h0M205.2 507h0M205.2 471.9h0M205.2 503.5h0M205.2 511.2h0M205.3 495h0M205.3 491.2h0M205.3 495.8h0M205.3 506.5h0M205.3 500.3h0M205.4 491.7h0M205.4 506.9h0M205.4 497.6h0M205.4 495h0M205.4 510.8h0M205.4 511.9h0M205.5 498.6h0M205.5 511.5h0M205.5 503.7h0M205.5 492.3h0M205.5 506.4h0M205.5 499h0M205.5 500.8h0M205.5 509.6h0M205.5 508.8h0M205.5 497.1h0M205.5 508.3h0M205.5 493.4h0M205.5 475.2h0M205.6 494.1h0M205.6 502.7h0M205.6 497.1h0M205.6 510.9h0M205.6 501.5h0M205.7 491.7h0M205.7 510h0M205.7 500.5h0M205.7 497.1h0M205.7 495.8h0M205.7 497.9h0M205.7 478.2h0M205.8 501.1h0M205.8 507.6h0M205.8 511.1h0M205.8 500.7h0M205.8 494.3h0M205.9 493h0M205.9 499.1h0M205.9 510.7h0M205.9 488.1h0M205.9 501.4h0M206 494.2h0M206 398.7h0M206.1 500.9h0M206.1 493.9h0M206.1 510.7h0M206.1 497.5h0M206.1 503.2h0M206.1 498.3h0M206.2 496.4h0M206.2 500.2h0M206.3 498.8h0M206.3 485.8h0M206.3 481.4h0M206.3 509.4h0M206.4 510h0M206.4 491.7h0M206.4 510.6h0M206.5 501.4h0M206.5 496.7h0M206.5 493.4h0M206.5 505.3h0M206.5 511.5h0M206.5 497.2h0M206.5 511.8h0M206.5 498.9h0M206.6 501.5h0M206.6 498.5h0M206.6 496.7h0M206.6 497.9h0M206.6 507h0M206.6 505.8h0M206.6 510.8h0M206.7 508.7h0M206.7 502.5h0M206.8 510.8h0M206.8 507.8h0M206.8 506.5h0M206.8 511.8h0M206.8 494.2h0M206.8 501.5h0M206.8 473h0M206.8 505.5h0M206.9 499.6h0M206.9 508.2h0M206.9 498.9h0M206.9 508h0M206.9 492.4h0M206.9 478.1h0M207 495.1h0M207 495.4h0M207 495.9h0M207 485.7h0M207 499.7h0M207 511.4h0M207 505.9h0M207 506.2h0M207.1 503.5h0M207.1 509.5h0M207.1 489.6h0M207.2 495.6h0M207.2 501.1h0M207.2 497.4h0M207.2 511.8h0M207.2 506.1h0M207.3 503h0M207.3 496h0M207.3 484.2h0M207.3 510.1h0M207.3 496.8h0M207.3 506h0M207.3 499.9h0M207.4 496h0M207.4 493.7h0M207.4 509.3h0M207.4 502.5h0M207.5 495.6h0M207.5 508.6h0M207.5 511.7h0M207.5 485.6h0M207.5 507.1h0M207.5 501.2h0M207.5 475.7h0M207.6 469.1h0M207.6 480.2h0M207.6 503.9h0M207.6 501.9h0M207.6 503.2h0M207.7 492.6h0M207.7 500.1h0M207.7 506.7h0M207.8 510.8h0M207.8 488.2h0M207.8 496.7h0M207.8 495h0M207.8 500.7h0M207.8 494.1h0M207.8 501.3h0M207.8 478.2h0M207.8 499.9h0M207.9 487.4h0M207.9 499.4h0M207.9 492.9h0M208 483.8h0M208 473.3h0M208 489h0M208 436.7h0M208 500.8h0M208 504.4h0M208 491.9h0M208 494.6h0M208 476.7h0M208 502.7h0M208.1 494.6h0M208.1 498.9h0M208.1 510.8h0M208.1 498.5h0M208.2 490.7h0M208.2 501.2h0M208.2 510.7h0M208.2 498.2h0M208.3 509.6h0M208.3 491h0M208.3 497.7h0M208.3 497.8h0M208.3 495h0M208.3 500.6h0M208.4 508.1h0M208.4 496.6h0M208.4 511h0M208.4 503.4h0M208.4 504.1h0M208.5 511.9h0M208.5 495.2h0M208.5 453.3h0M208.6 476.7h0M208.6 511.4h0M208.6 498.3h0M208.7 510.7h0M208.7 511.6h0M208.7 509.7h0M208.7 507.2h0M208.8 503.2h0M208.8 499.5h0M208.8 499h0M208.9 506.2h0M209 505.3h0M209 509.7h0M209 504.9h0M209 491.4h0M209 511.4h0M209 504.4h0M209 511.6h0M209.1 498.5h0M209.1 505.3h0M209.1 500.8h0M209.1 511.4h0M209.2 419.7h0M209.2 504h0M209.4 501.4h0M209.4 507.1h0M209.5 507.5h0M209.5 499.3h0M209.5 495.4h0M209.5 499.3h0M209.5 495.9h0M209.5 492.3h0M209.5 501.9h0M209.6 494.7h0M209.6 510.1h0M209.6 492.7h0M209.6 506.4h0M209.6 504.6h0M209.6 505.3h0M209.7 510.1h0M209.7 508.2h0M209.7 511.8h0M209.7 497h0M209.7 491.8h0M209.7 498.9h0M209.7 495.8h0M209.7 493.3h0M209.7 500.6h0M209.7 496.3h0M209.7 440.7h0M209.8 509.5h0M209.8 500.6h0M209.8 499.3h0M209.8 499.6h0M209.8 494.1h0M209.8 510.5h0M209.8 505.1h0M209.8 508.4h0M209.8 503h0M209.9 510.5h0M209.9 504h0M209.9 486.6h0M209.9 482.4h0M209.9 497.7h0M210 510.1h0M210 494.8h0M210 506.6h0M210 497h0M210 498.8h0M210.1 504.3h0M210.1 492.3h0M210.1 500.1h0M210.1 510h0M210.2 509.1h0M210.2 502.4h0M210.2 509h0M210.2 484.1h0M210.4 498.6h0M210.4 498.2h0M210.4 511.5h0M210.4 500h0M210.4 498.7h0M210.4 496.1h0M210.4 495h0M210.4 497h0M210.5 511.3h0M210.5 504.2h0M210.7 497.6h0M210.7 491.9h0M210.7 505.8h0M210.8 500h0M210.8 498.9h0M210.8 510.9h0M210.8 493.5h0M210.9 502h0M210.9 490.7h0M210.9 501.9h0M210.9 500.4h0M210.9 506.6h0M211 503.8h0M211.1 510.7h0M211.1 506.1h0M211.1 511.3h0M211.1 507.5h0M211.1 496.7h0M211.2 504.4h0M211.2 503.7h0M211.2 494.2h0M211.2 498h0M211.4 491.7h0M211.6 506.9h0M211.8 494.6h0M211.9 503h0M212.1 506.3h0M212.2 511.2h0M212.3 508.6h0M212.3 510.1h0M212.3 501.7h0M212.4 502.9h0M212.4 503.3h0M212.5 491.3h0M212.6 511.7h0M212.6 503.8h0M212.7 503.9h0M212.7 509.5h0M212.8 505.4h0M212.8 502.7h0M212.9 503h0M212.9 510.2h0M212.9 502.6h0M213.2 491.5h0M213.2 509.5h0M213.2 503.1h0M213.3 493.5h0M213.3 494.6h0M213.4 497.2h0M213.4 503.3h0M213.6 509.8h0M213.6 505.6h0M213.7 494h0M213.7 497.5h0M213.7 505.7h0M213.8 510.4h0M213.8 502.4h0M214.2 506.3h0M214.3 501.4h0M214.4 492.2h0M214.4 492.4h0M214.5 505.6h0M214.8 506h0M215.1 506.5h0M215.2 495.8h0M215.2 500.2h0M215.3 501.7h0M215.3 491.6h0M215.3 496h0M215.4 506.1h0M215.5 509.2h0M215.5 506.3h0M215.5 506.3h0M215.5 507.4h0M215.7 500.7h0M215.8 505h0M215.8 507.9h0M215.9 511.7h0M215.9 493.7h0M216.1 495.7h0M216.1 508.7h0M216.1 506.1h0M216.2 510.2h0M216.2 502.7h0M216.2 494h0M216.3 492.1h0M216.6 499.3h0M216.7 503.1h0M216.7 510.6h0M216.7 491.5h0M216.7 505.1h0M217 491.7h0M217.1 505.9h0M217.2 502.4h0M217.2 503.5h0M217.3 511.2h0M217.4 499.2h0M217.4 495.4h0M217.5 498.1h0M217.5 507h0M217.5 500.9h0M217.7 498.8h0M217.7 506h0M217.8 498.2h0M217.9 493.5h0M217.9 492.3h0M217.9 497.9h0M217.9 496.9h0M218.1 492.4h0M218.2 502.7h0M218.3 496.9h0M218.4 496.3h0M218.4 491.9h0M218.4 509h0M218.5 508.5h0M218.6 503.4h0M218.6 503.5h0M218.7 497.5h0M218.8 496.7h0M218.9 495.6h0M219 509.7h0M219 502.8h0M219 502h0M219.2 496.3h0M219.3 507.6h0M219.5 509.3h0M219.5 497.3h0M219.7 500.2h0M219.7 499.6h0M219.8 508.7h0M219.8 507.2h0M219.9 508.1h0M219.9 490.8h0M220.1 498.8h0M220.2 501h0M220.2 492.9h0M220.3 501.9h0M220.4 492.8h0M220.4 504.6h0M220.4 498.8h0M220.4 496.1h0M220.5 500.9h0M220.7 505.2h0M220.8 508.4h0M220.9 510.7h0M221 495.9h0M221.1 498.4h0M221.1 493.8h0M221.3 495.6h0M221.3 510.5h0M221.4 493.8h0M221.4 493.7h0M221.5 492.1h0M221.5 497.8h0M221.5 495.7h0M221.6 505.8h0M221.6 504h0M221.9 502.1h0M222 501.8h0M222.4 504h0M222.4 503.5h0M222.5 506.8h0M222.5 508.3h0M222.5 507h0M222.7 492.4h0M223.1 491.1h0M223.2 508.9h0M223.3 509.6h0M223.5 509.6h0M223.8 503.1h0M223.8 502.6h0M223.8 492.9h0M223.9 490.9h0M223.9 494.4h0M224 493.2h0M224.1 497.1h0M224.3 507.5h0M224.3 502.1h0M224.5 495.6h0M224.9 500h0M224.9 504.7h0M225.1 494.7h0M225.2 494.8h0M225.3 497.7h0M225.6 501h0M225.8 496.6h0M225.8 507.9h0M225.8 501.4h0M225.9 494.7h0M225.9 504.6h0M226 497.2h0M226 503.9h0M226.1 497.6h0M226.1 502h0M226.2 493.3h0M226.3 505h0M226.4 508.9h0M226.6 502.5h0M226.6 499.3h0M226.8 490.9h0M227.1 493.5h0M227.2 494.1h0M228 500.9h0M228.2 505.9h0M228.4 498.3h0M228.4 501.4h0M228.5 491h0M228.7 508.3h0M228.7 499.3h0M228.9 494.9h0M229.1 505.3h0M229.1 498.7h0M229.1 503.5h0M229.2 500.2h0M229.4 495.8h0M229.6 503.6h0M229.7 492.6h0M229.7 493h0M230.2 501.8h0M230.2 497.8h0M230.3 493.2h0M230.3 508.3h0M230.4 493.8h0M230.5 501.8h0M230.8 498.8h0M230.8 495.9h0M230.8 507.4h0M230.9 497.1h0M231 494.7h0M231 505.6h0M231.1 499.8h0M231.8 491.3h0M232 496.4h0M232.1 494.8h0M232.1 503.9h0M232.3 492.9h0M232.5 508h0M232.6 497.5h0M232.7 504.7h0M232.9 507.3h0M232.9 492.5h0M233 492.8h0M233.8 497.2h0M234 499.4h0M234.2 495.2h0M234.3 498.2h0M234.3 494.1h0M234.8 502.1h0M234.9 503.5h0M235 495h0M235.1 499h0M235.4 505.8h0M235.5 497.1h0M235.7 496h0M235.8 494.4h0M235.9 503h0M236.1 491h0M236.2 500.3h0M236.3 503.5h0M236.5 502h0M236.7 501.8h0M236.8 492.8h0M237.1 504.9h0M237.3 498.5h0M237.5 491.6h0M238.2 504h0M238.4 494.8h0M238.7 503.5h0M239.2 504.9h0M239.7 498.3h0M239.9 495.4h0M240 500.8h0M240.5 500.9h0M240.5 493.5h0M240.7 497.1h0M240.8 502.8h0M241 498.1h0M241.1 495.6h0M241.2 500.8h0M241.4 505.1h0M241.6 498.1h0M242 502.4h0M242.3 504h0M242.4 497h0M242.7 498.9h0M243.1 494.4h0M243.2 490.8h0M243.8 492.3h0M244 497.1h0M244.6 492.2h0M244.7 503.1h0M245.2 492.2h0M245.2 492.3h0M245.5 490.9h0M245.8 492.2h0M245.8 501.2h0M245.9 500h0M246.8 494.3h0M247.7 497.1h0M248.6 494.1h0M248.6 499.1h0M249.2 493.4h0M250.2 495.7h0M250.5 491.6h0M251 501h0M251.2 502.4h0M251.7 495.6h0M252.5 501.3h0M253.2 498.5h0M253.9 503h0M254 490.9h0M254.1 492.3h0M254.2 502.6h0M261.6 496.9h0M261.6 501.5h0M262.8 496.9h0M263.1 493.8h0M263.9 494.5h0M265.7 498.2h0M269.9 500.6h0M271.2 498.3h0M272 494h0M274.4 496.5h0M274.9 492.1h0M278.1 496.2h0M279.6 496.6h0M280 497.1h0M280.2 494.6h0M283.8 495.8h0M288.3 492.7h0"/><path stroke="#a082d9" stroke-width="3.6" d="M132.6 458.7h0M133.2 454.5h0M133.6 448.5h0M133.7 447.4h0M134 436.1h0M134.2 456.3h0M134.2 446.4h0M134.2 454.3h0M134.8 436.3h0M135 457.8h0M135 454.4h0M135.3 442.7h0M135.4 432.1h0M135.4 458.7h0M135.5 448.5h0M135.9 434.7h0M136 437.5h0M136 430.4h0M136 441.6h0M136.4 457.8h0"/><path stroke="#8159e9" stroke-width="3.6" d="M89.7 432.6h0M90 441.4h0M91.6 441.4h0M92.7 432.6h0"/><path stroke="#ae9acf" stroke-width="3.4" d="M158.8 465.8h0M158.8 468.9h0M158.8 473.2h0M158.9 470.7h0M158.9 474.2h0M158.9 479.9h0M159 472.4h0M159 485.9h0M159.1 459.5h0M159.1 482.4h0M159.4 468.9h0M159.5 464.5h0M159.5 469.1h0M159.8 461.3h0M159.9 488.8h0M160.2 460.6h0M160.2 472.9h0M160.3 465.5h0M160.4 476.8h0M160.4 490.2h0M160.5 466.3h0M160.5 484.1h0M160.6 484.3h0M160.7 463.9h0M160.8 483.4h0M160.8 470.3h0M160.9 480.6h0M160.9 489.5h0M161 470h0M161.1 484h0M161.2 466.2h0M161.2 466h0M161.3 479.7h0M161.5 481.9h0M161.6 480.7h0M161.7 462.5h0M161.7 464h0M161.8 461.4h0M161.8 487.6h0M162 488.9h0M162.1 490.1h0M162.1 486.3h0M162.1 464.8h0M162.2 484.1h0M162.3 488.2h0M162.5 480.4h0M162.6 479.4h0M162.7 465.1h0M162.8 488.5h0M162.8 489.6h0M162.8 477.2h0M163 465.4h0"/><path stroke="#9b7adc" stroke-width="3.4" d="M124.4 468.2h0M124.5 477.9h0M124.6 460h0M124.7 488.2h0M125.6 482.2h0M125.7 490.4h0M126 459.2h0M126.2 470.9h0M126.2 462.9h0M126.3 466.8h0M126.3 468.4h0M126.4 465.1h0M126.4 469.9h0M126.4 468.4h0M127 473.1h0M127 475.1h0M127.2 484.9h0M127.2 464.1h0M127.5 468.9h0M127.6 490h0"/><path stroke="#b09ecd" stroke-width="3.4" d="M163.3 460.8h0M163.4 471.8h0M163.4 483.5h0M163.4 486.3h0M163.4 471.4h0M163.5 477.2h0M163.6 469.5h0M163.6 481.8h0M163.7 461.1h0M163.9 481.7h0M164 479.4h0M164.2 467.1h0M164.2 479.1h0M164.3 473.9h0M164.5 463h0M164.5 462.2h0M164.6 471.4h0M164.7 465.9h0M164.8 485.2h0M165 473.2h0M165.1 472.7h0M165.3 463.8h0M165.4 483.4h0M165.4 468.3h0M165.8 488.7h0M165.8 474.5h0M165.9 482.6h0M166 489.3h0M166.1 479.5h0M166.2 479.6h0M166.2 476.8h0M166.3 463.9h0M166.3 483.6h0M166.3 461.7h0M166.6 482.6h0M166.7 478.7h0M166.7 489.8h0M166.9 482.6h0M166.9 479.8h0M166.9 485.5h0M166.9 490.5h0M167.1 486.4h0M167.1 480h0M167.1 461.2h0M167.2 484h0M167.3 478.9h0"/><path stroke="#a78ed4" stroke-width="3.4" d="M145.9 471.5h0M145.9 463.9h0M145.9 469.1h0M146 471.5h0M146 461.4h0M146.1 479.9h0M146.1 467.7h0M146.2 486.8h0M146.7 468h0M146.7 478.8h0M146.7 470.1h0M146.8 466.6h0M146.9 485.7h0M147 465.4h0M147 489.4h0M147.1 467.8h0M147.4 469.4h0M147.7 468.2h0M147.8 483.2h0M147.9 462.6h0M148 484.8h0M148.2 488.4h0M148.3 483.3h0M148.3 481.5h0M148.3 487.7h0M148.4 489h0M148.5 463.5h0M148.8 487.9h0M149.3 467.7h0M149.3 486.7h0M149.3 490.5h0M149.6 460.5h0M149.7 467.1h0M149.7 475.7h0M149.8 480.1h0M149.8 490.3h0"/><path stroke="#8f69e2" stroke-width="3.4" d="M106.5 486.3h0M106.7 482.9h0M106.8 475.6h0M107 466h0M107.3 482.8h0M107.8 484.9h0M108.2 477.3h0M108.3 479.2h0M108.6 461.7h0M108.8 462.1h0M109.4 479.7h0M109.5 473.9h0M109.6 479.9h0M109.7 464.5h0M109.8 482h0M109.9 485.5h0"/><path stroke="#aa92d2" stroke-width="3.6" d="M150.1 438h0M150.3 449.6h0M150.4 457.1h0M150.5 456.8h0M150.6 443.6h0M151.1 450.1h0M151.1 450.2h0M151.2 452.5h0M151.2 442.5h0M151.3 450.5h0M151.4 449.5h0M151.4 435.9h0M151.4 447.5h0M151.6 452.2h0M151.7 450.1h0M151.7 435.6h0M152.1 433.1h0M152.4 440h0M152.7 451.7h0M152.8 433.8h0M153 453.8h0M153 457h0M153.1 445.3h0M153.1 447.8h0M153.2 455.8h0M153.8 452.7h0M154.1 455.7h0M154.4 431.6h0"/><path stroke="#ac96d0" stroke-width="3.4" d="M154.6 469.6h0M154.6 477.1h0M154.7 484h0M154.7 487.8h0M154.8 462.8h0M154.8 488.2h0M155 472.9h0M155.1 479.6h0M155.1 473.2h0M155.1 473.8h0M155.2 459.9h0M155.2 462.6h0M155.3 467.7h0M155.4 461.3h0M155.4 467.9h0M155.4 462.5h0M155.5 472.1h0M155.9 468.6h0M156.1 488h0M156.1 483h0M156.1 485.3h0M156.3 467.5h0M156.3 471.4h0M156.6 487.1h0M156.6 466.6h0M156.6 459.1h0M156.7 481.5h0M156.8 482.3h0M156.8 465.5h0M156.9 488.7h0M156.9 477h0M156.9 477.1h0M156.9 472.2h0M157.1 461.8h0M157.1 485h0M157.2 485.8h0M157.2 468.3h0M157.3 462.9h0M157.5 488.2h0M157.5 479.1h0M157.6 480.6h0M157.7 467.1h0M157.8 479.5h0M158 461.1h0M158 480.7h0M158.3 480.9h0M158.4 481.2h0M158.4 489.3h0M158.5 486.9h0M158.6 486.5h0M158.7 475.2h0M158.7 468.9h0M158.8 477.1h0"/><path stroke="#ac96d0" stroke-width="3.8" d="M154.9 405.3h0"/><path stroke="#8c65e4" stroke-width="3.4" d="M102.8 460.6h0M103 482.9h0M103.2 468.1h0M103.5 472.5h0M103.5 471.6h0M104.6 485.4h0M104.6 473.1h0M104.9 485.2h0M105.4 467.8h0M105.5 478.6h0M105.5 467.7h0M105.5 485.6h0M105.8 459.6h0M106.1 468.4h0"/><path stroke="#926de1" stroke-width="3.6" d="M111.4 447.2h0M112.1 435.9h0M112.2 452.5h0M112.7 449.9h0M112.8 439.1h0M112.9 458.4h0M113.3 455.4h0M113.6 443.7h0M113.9 457.8h0M114.3 444.2h0M114.7 427.7h0"/><path stroke="#9e7eda" stroke-width="3.6" d="M128.5 442.2h0M128.7 449.3h0M129 452.9h0M129 443.5h0M129.1 458.1h0M129.4 448.8h0M129.7 456.2h0M129.8 449h0M129.9 434.1h0M130.4 445.1h0M130.7 455.4h0M130.9 445.5h0M130.9 442.6h0M131.4 429.2h0M132.1 449.8h0M132.3 448.2h0M132.3 435.3h0"/><path stroke="#b4a6c9" stroke-width="3.4" d="M172 459.4h0M172.1 487.9h0M172.1 468h0M172.2 479h0M172.2 479.9h0M172.2 480.9h0M172.2 470.2h0M172.3 486h0M172.3 477.9h0M172.7 482.5h0M173 468.6h0M173 474.5h0M173.1 481.7h0M173.2 478.6h0M173.4 482.3h0M173.4 477h0M173.5 477.8h0M173.6 464.7h0M173.6 488.6h0M173.6 469.1h0M173.6 472.7h0M173.8 489.8h0M173.8 466.3h0M173.9 489.7h0M173.9 490.5h0M174 479.6h0M174.1 472.1h0M174.1 482.6h0M174.1 487.8h0M174.2 476.4h0M174.2 485.6h0M174.2 475.1h0M174.3 470.6h0M174.3 482h0M174.4 476.1h0M174.4 478h0M174.5 461.8h0M174.6 482.2h0M174.6 483.1h0M174.6 489.7h0M174.8 461.5h0M175 480.2h0M175 485h0M175.1 466.6h0M175.3 482h0M175.3 471.9h0M175.3 488.4h0M175.4 466.2h0M175.4 480.8h0M175.5 477.4h0M175.6 489.7h0M175.6 479h0M175.7 478.1h0M175.7 478.2h0M175.7 463.4h0M175.7 480.3h0M175.8 463.4h0M175.9 476.2h0M176 464.2h0M176.2 474.6h0"/><path stroke="#9e7eda" stroke-width="3.4" d="M128.1 461.9h0M129.1 469.7h0M129.2 465.8h0M129.3 461.1h0M129.4 482.1h0M129.9 460.5h0M130 469.7h0M130.2 483.2h0M130.4 490.1h0M130.5 488.3h0M130.5 464.3h0M130.5 474.3h0M130.8 486.8h0M130.9 460.2h0M130.9 480.6h0M131.1 463.2h0M131.4 487.7h0M131.5 480.5h0M131.8 489.7h0M131.9 467.9h0M132.2 465.5h0M132.2 482.4h0M132.5 465.6h0"/><path stroke="#a386d7" stroke-width="3.6" d="M137 449.2h0M137 451.5h0M137 451.1h0M137.3 448.6h0M137.6 451.9h0M137.6 457.4h0M137.9 450.5h0M137.9 458.6h0M138.5 449.7h0M138.5 458h0M138.7 433h0M138.8 453.8h0M138.8 441.2h0M139.2 432.8h0M139.3 454.9h0M139.4 449.7h0M139.5 448.3h0M139.5 444h0M139.7 444.3h0M140 438.6h0M140.2 430.9h0M140.4 440.1h0M140.8 454.6h0"/><path stroke="#8159e9" stroke-width="3.4" d="M88.9 486.5h0M89.4 483.2h0M89.9 470.8h0M90.8 476.5h0M91.5 471.3h0"/><path stroke="#b09ecd" stroke-width="3.6" d="M163.3 459h0M163.7 452.6h0M164 456.7h0M164.1 440.9h0M164.2 440.7h0M165.5 439.4h0M165.6 450.1h0M165.7 451.4h0M165.7 437.8h0M165.7 452.5h0M165.9 433.2h0M166 452.8h0M166.3 440.1h0M167 442.8h0M167.2 437.7h0M167.2 438.2h0M167.3 438.4h0"/><path stroke="#8c65e4" stroke-width="4.0" d="M103.9 390h0M106.1 391.4h0"/><path stroke="#9e7eda" stroke-width="3.8" d="M128.8 421.9h0M129.3 407.4h0M130 414.5h0M132 420.8h0M132.2 423.3h0M132.2 416.4h0M132.2 412.6h0M132.3 415.1h0M132.5 423.5h0"/><path stroke="#9876de" stroke-width="3.6" d="M119.5 450h0M120.6 446.4h0M120.9 452.4h0M120.9 440.4h0M122.2 431.6h0M122.9 445.5h0M123.2 430.1h0M123.2 429.7h0M123.4 430.4h0M123.5 455.7h0"/><path stroke="#ac96d0" stroke-width="3.6" d="M154.4 454.9h0M154.6 458.4h0M154.7 434.1h0M154.7 442.5h0M154.8 434.4h0M154.9 441.3h0M155.1 455.3h0M155.3 428.6h0M155.5 451.7h0M155.7 449.1h0M155.9 435.7h0M156 445.2h0M156 443h0M156.2 428.8h0M156.3 452.1h0M157 443.3h0M157 447.7h0M157.1 444.8h0M157.1 439.6h0M157.5 443.9h0M157.7 448.6h0M157.8 449.6h0M158 457.4h0M158.1 440.8h0M158.1 451.7h0M158.4 429.5h0M158.5 446.6h0M158.5 453.2h0"/><path stroke="#b9b2c4" stroke-width="3.4" d="M185.3 487h0M185.6 478.4h0M186.3 477.9h0"/><path stroke="#a78ed4" stroke-width="3.6" d="M145.9 447.6h0M146 449.5h0M146 444h0M146.1 447.5h0M146.1 432.6h0M146.2 448.4h0M146.3 443.7h0M146.5 450.7h0M146.5 443.9h0M147.7 441.7h0M148.3 437.7h0M148.3 454.8h0M148.4 450.7h0M148.6 448.9h0M148.6 448.4h0M148.9 458.8h0M149 446.8h0M149.2 454h0M149.2 442.2h0M149.3 457.3h0M149.5 438.6h0M149.6 440.9h0M149.7 455.6h0M149.8 458.9h0M150 454.4h0"/><path stroke="#a58ad5" stroke-width="3.4" d="M141.3 470.1h0M141.3 490.5h0M141.4 490.5h0M141.7 460.4h0M142.2 475h0M142.5 489.6h0M142.5 486.4h0M142.5 469.8h0M142.6 475.4h0M142.9 488h0M142.9 467.8h0M143.1 486.6h0M143.2 477.6h0M143.2 475.5h0M143.3 464h0M143.3 483.3h0M143.3 476.6h0M143.4 484.4h0M143.5 463.3h0M143.5 484.6h0M143.7 477.5h0M143.7 485.7h0M143.8 477.9h0M143.8 480.9h0M144.1 485.7h0M144.2 481.7h0M144.3 473.6h0M144.4 461.2h0M144.4 478h0M144.7 474.1h0M145 476.5h0M145.2 484.7h0M145.3 474.3h0M145.3 482.3h0M145.3 490.2h0M145.4 481.6h0M145.6 468.7h0M145.6 477.2h0"/><path stroke="#aa92d2" stroke-width="3.4" d="M150.2 460.2h0M150.4 489.7h0M150.5 467.8h0M150.6 483.5h0M150.6 462.1h0M150.7 489h0M150.8 488h0M150.9 478.1h0M150.9 466.6h0M151.1 474.2h0M151.4 489.1h0M151.4 470.1h0M151.6 469.8h0M151.6 469.4h0M151.8 470.3h0M151.9 480.2h0M151.9 473.5h0M151.9 464h0M151.9 478.9h0M152 473.4h0M152 489.8h0M152 480.5h0M152.1 483.3h0M152.3 480.4h0M152.3 479.5h0M152.7 463.6h0M153.2 474.5h0M153.3 474h0M153.6 478.6h0M153.7 467.9h0M153.7 461.1h0M153.7 485.3h0M153.7 481.7h0M153.8 484.4h0M153.8 459.8h0M153.8 461.2h0M153.9 483.1h0M154 477.5h0M154.2 467.5h0M154.3 482.5h0M154.3 489h0"/><path stroke="#a082d9" stroke-width="3.4" d="M132.7 460.6h0M133 474h0M133.1 459.9h0M133.4 481.4h0M133.6 468h0M133.7 481h0M134.1 476.5h0M134.4 465.5h0M134.8 484.3h0M135.3 482.1h0M135.3 489.4h0M135.4 481.1h0M135.4 475.7h0M135.5 490.3h0M135.9 467.6h0M135.9 486.8h0M136.1 464.8h0M136.2 461.7h0M136.3 474.6h0M136.4 484.9h0M136.7 481h0M136.8 473.9h0M136.8 489.4h0M136.8 485.1h0"/><path stroke="#9571df" stroke-width="3.8" d="M116 415.2h0M116.4 420h0M116.5 422.2h0M116.7 422.4h0M116.9 426.5h0M117 413.8h0M117.6 423.5h0M118.4 408.9h0M118.7 403.3h0"/><path stroke="#926de1" stroke-width="3.4" d="M110.6 459.2h0M110.8 487.5h0M110.8 462.6h0M110.9 462.6h0M111.1 473h0M111.2 470h0M111.4 467.2h0M111.8 485.5h0M112.7 463.8h0M112.9 470.9h0M113.1 459.6h0M113.1 486.7h0M113.3 486.6h0M113.3 486.5h0M113.3 462h0M113.8 485.3h0M114 487.3h0"/><path stroke="#7d54ea" stroke-width="3.4" d="M85.1 479.2h0M85.3 487.4h0M85.7 472h0M86 460.6h0M86.8 487.4h0M86.9 465h0M87.2 476.6h0M87.3 472.3h0M87.6 480h0M88.1 478.2h0M88.4 462.2h0"/><path stroke="#9571df" stroke-width="3.4" d="M115.1 477.1h0M115.2 463.9h0M115.8 474.6h0M115.9 485.6h0M116.5 487.6h0M116.7 472.1h0M116.8 466h0M116.9 465.5h0M117.3 469.3h0M117.5 485.9h0M117.5 479h0M117.9 479.3h0M117.9 487.6h0M118.1 461.2h0M118.1 462.3h0M118.4 482.1h0M118.4 476.7h0M118.5 469.4h0M118.5 475.7h0M118.6 469.7h0M118.8 482.8h0M118.8 479.8h0M119.1 472.7h0M119.3 490.1h0"/><path stroke="#9876de" stroke-width="3.8" d="M119.8 417.5h0M120.3 424.7h0M120.6 421.3h0M121.2 420.1h0M121.3 422.3h0M121.5 427.4h0M122.8 417.2h0M123.2 410.2h0"/><path stroke="#b2a2cb" stroke-width="3.4" d="M167.6 482.8h0M167.6 475.6h0M167.6 478.6h0M167.6 473.1h0M167.6 490.2h0M167.7 474.2h0M167.8 479.4h0M167.8 470.4h0M167.9 481h0M168 476.1h0M168.1 485.9h0M168.2 490h0M168.3 489.7h0M168.3 485.4h0M168.3 487.8h0M168.3 485h0M168.4 473.3h0M168.5 479.1h0M168.6 474.8h0M168.7 476.2h0M168.8 483.2h0M168.8 480.1h0M168.9 489.3h0M168.9 468.2h0M168.9 486.9h0M168.9 478.2h0M169 477.2h0M169.1 461.6h0M169.3 490.3h0M169.3 461.7h0M169.4 468.3h0M169.4 490.3h0M169.5 482.2h0M169.7 461.6h0M169.7 484h0M169.8 485.7h0M170 481.6h0M170.2 479.5h0M170.4 466.4h0M170.5 490.5h0M170.6 466.9h0M170.8 470.7h0M171 486.3h0M171 479.8h0M171.1 488.4h0M171.3 469.6h0M171.4 470.8h0M171.4 480.6h0M171.6 477.8h0M171.6 490.5h0M171.7 485.4h0M171.7 465.8h0M171.8 475.1h0"/><path stroke="#8f69e2" stroke-width="3.8" d="M106.3 402.1h0M107.2 406.6h0M107.5 416.9h0M108 425.1h0M109.2 419.5h0"/><path stroke="#855de7" stroke-width="3.4" d="M95.2 470.7h0M95.5 483.7h0M96.5 483.7h0M96.5 467.6h0M97.4 473.8h0"/><path stroke="#855de7" stroke-width="4.0" d="M94.5 376.4h0M94.8 389.6h0M95.8 390h0"/><path stroke="#9b7adc" stroke-width="3.6" d="M124.1 439.9h0M124.4 456.6h0M124.5 445.8h0M125.2 455.8h0M125.5 441.9h0M126.4 436h0M126.6 452.1h0M127 433.5h0M127.1 453.6h0M127.2 445.2h0M127.5 453.4h0M128 457.5h0"/><path stroke="#8159e9" stroke-width="3.8" d="M90.9 419.1h0M92.5 426.4h0"/><path stroke="#aa92d2" stroke-width="3.8" d="M150.7 426h0M151.9 417.3h0M152 406.5h0M153.5 418.9h0"/><path stroke="#8c65e4" stroke-width="3.8" d="M102 422.7h0M102 425.9h0M102.8 418.8h0M103.4 414.6h0M103.8 401.6h0M104.7 420.3h0M105 418h0M105.4 396.2h0M105.7 425h0M106 398.4h0"/><path stroke="#855de7" stroke-width="3.6" d="M93.1 449.2h0M95 456.4h0M95.7 434h0M96.6 427.5h0M96.9 451.1h0"/><path stroke="#b4a6c9" stroke-width="3.6" d="M173.1 459h0M173.7 458.9h0M175.3 455.8h0M175.7 446.3h0"/><path stroke="#ae9acf" stroke-width="3.6" d="M158.8 434.1h0M159.3 434.4h0M159.4 458.8h0M159.5 445.7h0M159.6 444.7h0M160.1 458.5h0M160.2 439.9h0M160.3 448.4h0M160.3 454.6h0M160.5 428.3h0M160.5 454h0M160.6 457.3h0M160.8 453.3h0M161 457h0M161.2 443h0M161.8 452.1h0M162 439h0M162.1 444.2h0M162.1 440.3h0M162.2 443.2h0M162.5 436.8h0M162.8 453.2h0M162.8 447.6h0M162.9 443.1h0M162.9 458.6h0"/><path stroke="#926de1" stroke-width="3.8" d="M110.7 401.4h0M111.4 422h0M112.9 427.3h0M113.6 415.8h0M114.4 418.6h0M114.4 421h0"/><path stroke="#9876de" stroke-width="3.4" d="M119.5 485.5h0M120.1 483.3h0M120.1 468.5h0M120.8 485.4h0M120.9 471.5h0M121.1 481.6h0M121.1 470.7h0M121.6 483.1h0M121.8 466.4h0M122.2 487.7h0M122.3 485h0M122.4 490.2h0M122.6 477.8h0M122.7 461.1h0M122.8 462h0M123.1 478.4h0M123.1 466.7h0M123.7 483.9h0"/><path stroke="#8861e6" stroke-width="4.0" d="M99.3 383.3h0M99.5 395.5h0M101.5 377.7h0"/><path stroke="#8861e6" stroke-width="3.6" d="M97.9 435.9h0M98.5 447.7h0M98.6 432.7h0M99.7 436.2h0M100 435.1h0M100.5 445.6h0M100.5 456.4h0M100.8 457.5h0M100.8 440.1h0M100.9 457.3h0M101.7 441.5h0"/><path stroke="#b7aec6" stroke-width="3.4" d="M180.7 473h0M180.8 465.2h0M181.1 490.3h0M181.2 466.8h0M181.4 483.9h0M181.5 478.9h0M181.6 473.9h0M181.7 482.6h0M181.8 475.7h0M182.1 474.9h0M182.4 470h0M182.5 474.9h0M182.5 473.5h0M182.6 483.5h0M183 475.7h0M183.1 480.6h0M183.2 485.1h0M183.7 486h0M183.9 482.3h0M184.1 485.9h0M184.4 484.6h0M185 489.9h0"/><path stroke="#b6aac7" stroke-width="3.4" d="M176.6 479.9h0M176.6 471.9h0M176.7 488h0M176.8 485.1h0M176.8 479.7h0M176.8 480.1h0M176.9 471.3h0M177.3 475.2h0M177.4 485.7h0M177.5 484.4h0M177.6 479.4h0M177.9 489h0M178.1 489.2h0M178.1 466.8h0M178.2 486.5h0M178.2 484.8h0M178.8 475h0M179 476.7h0M179.5 480.1h0M179.6 475.1h0M179.8 488.4h0M180.2 467.8h0M180.4 490.5h0M180.6 481.3h0M180.7 487.1h0"/><path stroke="#754ced" stroke-width="3.6" d="M76 450.9h0M78.5 452.8h0M78.5 442h0M79.5 438.6h0"/><path stroke="#a58ad5" stroke-width="3.6" d="M141.5 457.1h0M141.8 447.5h0M141.9 456.2h0M142.2 438.7h0M142.2 438.7h0M142.3 437.5h0M142.3 456.1h0M142.4 436.6h0M142.6 453.4h0M142.6 441.5h0M142.7 452h0M142.7 438.3h0M143 442.3h0M143.1 432h0M143.2 451.7h0M143.2 450.6h0M143.2 456.4h0M143.4 439.8h0M143.4 451.7h0M143.8 445.8h0M144.1 446.9h0M144.2 449.7h0M144.2 438.8h0M144.4 455.3h0M144.7 455.6h0M144.9 450.6h0M145.2 435.3h0M145.3 436.2h0M145.4 438.1h0M145.6 439.8h0"/><path stroke="#7147ef" stroke-width="3.4" d="M71.6 488.1h0M72.4 471.6h0M72.4 483.5h0M75.5 466.1h0"/><path stroke="#7950ec" stroke-width="3.6" d="M80.6 443.1h0M80.6 449.2h0M81 443.4h0M82.4 435.7h0M83.3 437.7h0M83.7 450.5h0"/><path stroke="#a082d9" stroke-width="3.8" d="M133.1 403.7h0M133.2 422.2h0M135 417.3h0"/><path stroke="#b2a2cb" stroke-width="3.6" d="M167.8 451.1h0M168 455.2h0M168.1 454h0M168.5 450.2h0M168.5 455.6h0M168.6 457.2h0M169 455.4h0M169.1 449.7h0M169.2 456.1h0M169.4 442.1h0M170.1 458.6h0M170.2 458.4h0M170.6 456.6h0M170.8 456.9h0M171.6 452.4h0"/><path stroke="#a58ad5" stroke-width="3.8" d="M141.3 409.6h0M141.5 415h0M141.6 413.5h0M142.2 425.5h0M142.2 406.9h0M142.7 422.9h0M144.7 409h0"/><path stroke="#754ced" stroke-width="3.4" d="M76.9 480.6h0M77.3 478.7h0M77.5 469.9h0M77.6 469.1h0M78.8 463.8h0"/><path stroke="#8f69e2" stroke-width="3.6" d="M106.3 450.2h0M106.6 454.1h0M107.3 441.3h0M107.3 443h0M107.4 456.9h0M107.6 442.7h0M108.3 449.4h0M108.4 433.4h0M109.5 453.1h0M109.5 446.4h0M109.5 435.4h0M109.7 447.2h0M109.7 447.2h0M109.9 429.7h0M110.2 456.2h0M110.3 449.9h0M110.4 456.7h0M110.4 432.8h0M110.5 445.9h0"/><path stroke="#a386d7" stroke-width="3.4" d="M136.9 459.7h0M137 464.1h0M137.5 481.2h0M137.8 474h0M138 480.3h0M138.1 488.7h0M138.6 462.7h0M138.6 484.1h0M138.7 488.1h0M138.8 481h0M139.2 476.7h0M139.2 483.4h0M139.2 462.1h0M139.7 472.2h0M139.8 489.8h0M140.1 471.4h0M140.3 472.3h0M140.5 489.4h0M140.6 485.3h0"/><path stroke="#a386d7" stroke-width="3.8" d="M137.3 421.6h0M137.4 423.6h0M137.6 420.7h0M137.7 420.2h0M137.9 415.1h0M138.1 427.2h0M138.1 423.1h0M138.4 414.6h0M138.5 409.1h0M139 417.7h0M139.2 423.5h0M140 419.1h0M140.2 414.5h0M140.4 421.6h0M140.6 397h0"/><path stroke="#8c65e4" stroke-width="3.6" d="M101.9 427.5h0M102.3 429.6h0M102.4 458.3h0M103.6 447.1h0M104.8 433.1h0M105.1 438.9h0M105.2 451.5h0M105.8 454.9h0M105.9 458.2h0"/><path stroke="#8861e6" stroke-width="3.4" d="M97.7 479.2h0M97.7 461.3h0M97.9 470.4h0M98.2 460.4h0M98.5 477.7h0M98.9 466.5h0M99.2 477.6h0M99.3 490.3h0M101 482.3h0"/><path stroke="#7147ef" stroke-width="3.6" d="M71.8 457.5h0M73.7 438.4h0M74.4 437.8h0"/><path stroke="#8861e6" stroke-width="3.8" d="M97.6 408.5h0M100.3 416.4h0"/><path stroke="#7d54ea" stroke-width="3.6" d="M86.2 455.9h0M88.5 436.4h0"/><path stroke="#a78ed4" stroke-width="3.8" d="M146.2 408.4h0M147.2 408.4h0M147.2 424.2h0M147.3 410.1h0M147.3 405.1h0M147.4 411.5h0M149.2 403.5h0M149.6 405.7h0M149.8 420.6h0"/><path stroke="#b6aac7" stroke-width="3.6" d="M178.2 456.1h0"/><path stroke="#9571df" stroke-width="3.6" d="M115 445h0M115 441h0M116 436.5h0M116.1 441.6h0M116.2 457.1h0M116.5 456.4h0M116.7 441.1h0M116.9 446.7h0M116.9 433.8h0M117.3 450.6h0M117.4 443.1h0M117.9 434.4h0M118.4 429h0M118.4 440.6h0M118.5 437.3h0M118.7 439.1h0"/><path stroke="#9876de" stroke-width="4.0" d="M119.8 395.7h0M120 376.2h0M120.5 386.9h0M122.8 390.5h0M123.7 380.9h0"/><path stroke="#7950ec" stroke-width="3.8" d="M83.5 409.5h0M83.5 422.9h0"/><path stroke="#7950ec" stroke-width="3.4" d="M81.3 459.8h0"/><path stroke="#926de1" stroke-width="4.0" d="M111 395.1h0M114.6 381.3h0M114.7 394h0"/><path stroke="#7d54ea" stroke-width="4.0" d="M87.7 394.5h0"/><path stroke="#9b7adc" stroke-width="3.8" d="M123.9 422.3h0M124.2 409.8h0M124.5 422.7h0M125.1 405.2h0M125.2 416.2h0M125.4 419.3h0M126 411h0M127.1 426.6h0M127.5 424.9h0M127.7 400.6h0"/><path stroke="#855de7" stroke-width="3.8" d="M94 407.1h0M94.5 416.7h0M96.9 411.6h0"/><path stroke="#ae9acf" stroke-width="3.8" d="M161.4 426.8h0"/><path stroke="#7d54ea" stroke-width="3.8" d="M88.4 409.3h0"/><path stroke="#7147ef" stroke-width="3.8" d="M74.3 421h0M74.5 410.8h0"/><path stroke="#b7aec6" stroke-width="3.6" d="M182.6 458.2h0"/><path stroke="#d1aca2" stroke-width="3.6" d="M224.7 455.8h0M224.7 454.9h0M224.7 457.6h0M224.7 453h0M224.7 458.5h0M224.7 442h0M224.8 447.6h0M224.8 448.9h0M224.9 443.7h0M224.9 439.4h0M224.9 454.7h0M224.9 441.4h0M225 457h0M225.1 446.9h0M225.1 439.8h0M225.3 448.1h0M225.4 450.9h0M225.4 455.7h0M225.5 453.7h0M225.5 459h0M225.6 452.6h0M225.7 443.6h0M225.8 435h0M225.8 434.4h0M225.8 455.7h0M225.9 445.4h0M225.9 445h0M226.3 449.2h0M226.5 439.9h0M226.5 427.9h0M226.6 457.1h0M226.7 449h0M226.7 444h0M226.8 430.1h0M226.9 452.1h0M226.9 437.8h0M227.2 445.2h0M227.4 455.9h0M227.5 450.6h0M227.7 454.2h0M227.9 452.6h0M227.9 431.5h0M227.9 455h0M228.1 432.9h0M228.1 435.3h0M228.1 458.1h0M228.2 456h0M228.2 456.2h0M228.4 442.6h0M228.4 444.4h0M228.6 450.5h0M228.6 438.6h0M228.6 442.5h0M228.6 457.7h0M228.7 449.1h0M228.8 448.8h0M228.8 446.5h0M228.9 437.7h0"/><path stroke="#ceafa7" stroke-width="3.4" d="M220.1 481h0M220.2 480.4h0M220.2 478.1h0M220.2 475.2h0M220.2 474.3h0M220.2 479.3h0M220.3 471.7h0M220.4 477.5h0M220.4 488.4h0M220.4 473.1h0M220.4 486.8h0M220.5 480.1h0M220.5 490h0M220.5 473.5h0M220.6 459.4h0M220.6 487.4h0M220.7 469.1h0M220.7 490.4h0M220.7 467.1h0M220.7 465.2h0M220.7 476.9h0M220.8 479.5h0M220.8 464h0M220.8 466.4h0M220.8 488.9h0M220.9 462.1h0M220.9 477.5h0M220.9 473.1h0M221 480.7h0M221 469.6h0M221.2 482h0M221.2 477h0M221.2 465.7h0M221.3 474.2h0M221.3 479.5h0M221.4 486.8h0M221.4 459.2h0M221.4 477.1h0M221.5 465.8h0M221.5 466.9h0M221.5 466.6h0M221.6 484.3h0M221.6 463.4h0M221.6 462.4h0M221.7 488.4h0M221.7 489h0M221.7 468.6h0M221.8 480.7h0M221.8 477.8h0M221.9 477.4h0M221.9 473.2h0M221.9 466.5h0M222 473.3h0M222 459.2h0M222.1 468.1h0M222.1 469.5h0M222.1 481.6h0M222.2 486.3h0M222.2 485.1h0M222.2 479.2h0M222.2 488.4h0M222.2 471.8h0M222.3 481.4h0M222.3 459.9h0M222.4 474.4h0M222.4 478.6h0M222.5 488.7h0M222.5 488.4h0M222.5 480.7h0M222.6 489.3h0M222.6 489.1h0M222.7 477.9h0M222.8 487.9h0M222.8 480.9h0M222.9 483.8h0M223 480.7h0M223 476h0M223 465.4h0M223 459.9h0M223 467.6h0M223 461.8h0M223.1 483.8h0M223.2 469.7h0M223.2 467.4h0M223.4 473h0M223.4 460.5h0M223.4 459.4h0M223.5 467.1h0M223.7 469.2h0M223.8 480.6h0M223.8 459.4h0M223.9 474h0M223.9 490.3h0M223.9 472h0M224 465.4h0M224 464.1h0M224 487.2h0M224 468.3h0M224.1 482.9h0M224.2 488.6h0M224.2 462.3h0M224.2 485.2h0M224.3 480.4h0M224.3 466.9h0M224.3 483.6h0M224.3 488.7h0M224.3 480.9h0M224.5 486.3h0M224.5 478.2h0"/><path stroke="#e09a87" stroke-width="3.4" d="M251.1 487h0M251.2 464.3h0M251.2 474.8h0M251.4 464h0M251.6 488.5h0M251.9 463.5h0M252.2 486.9h0M252.4 464.3h0M252.5 479.3h0M252.6 473.6h0M252.9 488h0M252.9 463.9h0M253.1 488.9h0M253.2 489.1h0M253.4 461.9h0M253.6 464.6h0M254.2 477.5h0M254.5 486h0M254.7 482.8h0M255 483.3h0M255.1 477.3h0"/><path stroke="#de9d8c" stroke-width="3.8" d="M247 419.6h0M248.7 404.6h0M249.6 421.3h0M249.6 400.5h0M250.7 404.6h0"/><path stroke="#c8b5b0" stroke-width="3.4" d="M211.7 490h0M211.7 464.1h0M211.7 489.6h0M212 473.9h0M212 469.3h0M212 483.8h0M212 472.2h0M212.1 471.1h0M212.2 463.8h0M212.2 488h0M212.3 459.9h0M212.4 467.4h0M212.4 460.2h0M212.5 460.3h0M212.6 481.7h0M212.7 470.3h0M212.7 478h0M212.8 489.3h0M213 482h0M213 486.9h0M213.2 481h0M213.2 460.5h0M213.3 464.3h0M213.4 473.9h0M213.4 466.8h0M213.5 485.9h0M213.5 470.8h0M213.6 481.8h0M213.6 462.1h0M213.6 460.4h0M213.6 469.2h0M213.7 468.2h0M213.9 470.3h0M214 466.3h0M214 463h0M214.1 482.8h0M214.1 482.5h0M214.1 476.1h0M214.1 459.6h0M214.2 470.1h0M214.2 481.1h0M214.3 478.9h0M214.3 464.9h0M214.3 468.8h0M214.3 470.5h0M214.4 488.9h0M214.4 472.1h0M214.4 462.7h0M214.4 472.6h0M214.4 477.7h0M214.5 481.5h0M214.6 471.2h0M214.7 463.5h0M214.8 469.1h0M214.8 488.4h0M214.8 489.6h0M214.8 490.2h0M214.9 463.2h0M214.9 467.6h0M215 461.5h0M215 477.6h0M215.1 465.2h0M215.1 474.9h0M215.2 490.5h0M215.2 489.2h0M215.2 489.2h0M215.3 476.5h0M215.3 471h0M215.4 474.6h0M215.4 485.1h0M215.6 469.8h0M215.6 461.5h0M215.6 478.2h0M215.7 488.5h0"/><path stroke="#d4a99e" stroke-width="3.6" d="M228.9 449.8h0M229 430h0M229.1 436.6h0M229.2 429h0M229.3 457h0M229.4 447.1h0M229.4 437.8h0M229.6 458.3h0M229.7 451.9h0M229.7 450.6h0M229.8 438.9h0M229.9 436.8h0M230 450.9h0M230 456.5h0M230.1 449.3h0M230.1 428.5h0M230.2 447.2h0M230.2 438.7h0M230.3 440.3h0M230.4 457.2h0M230.6 453.5h0M230.7 435.2h0M230.8 457.3h0M230.8 456.7h0M230.8 442.5h0M230.9 457.5h0M231 432.5h0M231 438.9h0M231 453.3h0M231 444.2h0M231.1 446.9h0M231.1 444.5h0M231.1 451.5h0M231.1 442.6h0M231.1 440.9h0M231.2 448.1h0M231.3 431.9h0M231.3 455.4h0M231.3 451.6h0M231.4 451.5h0M231.4 431.9h0M231.4 457.9h0M231.4 449.6h0M231.4 455.9h0M231.5 437.6h0M231.6 442.6h0M231.6 458.4h0M231.9 453.8h0M232.3 431h0M232.3 450.6h0M232.4 449.9h0M232.4 456.4h0M232.4 439.9h0M232.5 445.6h0M232.5 443h0M232.6 455.5h0M232.6 440.7h0M232.7 439.4h0M232.7 451.9h0M232.8 436.1h0M232.8 453.3h0M232.9 443.4h0M233 453.2h0M233 452.4h0M233.1 441.4h0M233.2 447.2h0M233.3 447.9h0"/><path stroke="#d1aca2" stroke-width="3.4" d="M224.5 470.2h0M224.5 472.2h0M224.5 468.6h0M224.5 464.3h0M224.6 472.6h0M224.6 474.7h0M224.7 477.1h0M224.8 468.3h0M224.8 478.3h0M224.8 489.3h0M224.9 460.4h0M224.9 481.9h0M224.9 472.2h0M224.9 480.3h0M225 466h0M225 489.8h0M225 464.7h0M225.2 474.6h0M225.3 480.5h0M225.3 473.5h0M225.3 489.7h0M225.3 468h0M225.4 484.6h0M225.5 483.6h0M225.5 473.1h0M225.6 472.6h0M225.6 478.3h0M225.6 486.7h0M225.7 472h0M225.8 465.9h0M225.9 488.9h0M226 479.9h0M226 487h0M226 464.5h0M226.2 489.8h0M226.2 478.4h0M226.3 470.6h0M226.3 463.4h0M226.3 481.6h0M226.4 462.9h0M226.4 467.1h0M226.4 483.7h0M226.5 479.6h0M226.5 479.3h0M226.5 482.7h0M226.5 461.7h0M226.5 472.5h0M226.7 470.8h0M226.8 474.6h0M226.9 464.4h0M227 478.8h0M227 479.9h0M227 462.8h0M227.1 484.9h0M227.2 463.2h0M227.2 473.9h0M227.3 469.3h0M227.3 465.4h0M227.3 461.1h0M227.3 471h0M227.4 464.9h0M227.4 481.3h0M227.5 470.5h0M227.5 467.6h0M227.5 480.5h0M227.6 462.8h0M227.7 465.3h0M227.8 467.2h0M227.8 460.6h0M227.9 470.5h0M227.9 484h0M227.9 475.7h0M228 485h0M228.1 461.9h0M228.2 490h0M228.4 468.8h0M228.5 484.4h0M228.5 474.4h0M228.5 467.7h0M228.6 465.5h0M228.6 481.5h0M228.6 488.1h0M228.6 488.7h0M228.6 472.3h0M228.7 474.2h0M228.7 477.4h0M228.7 479h0M228.7 473.6h0"/><path stroke="#ceafa7" stroke-width="3.6" d="M220.2 452.5h0M220.2 448h0M220.3 456.1h0M220.3 438.5h0M220.3 436.5h0M220.4 429.1h0M220.4 440.9h0M220.4 458.7h0M220.4 444.3h0M220.5 451h0M220.5 434.7h0M220.5 451.2h0M220.7 439.8h0M220.7 442.1h0M220.7 441.9h0M220.9 444.6h0M221.1 444.5h0M221.3 454.6h0M221.3 450.3h0M221.4 443.4h0M221.5 453.2h0M221.5 449.1h0M221.7 442h0M221.7 458.4h0M221.8 442.4h0M221.9 451.1h0M221.9 446.7h0M222 447h0M222.1 436.6h0M222.1 442.7h0M222.3 445.7h0M222.5 452.3h0M222.5 444.3h0M222.5 440.7h0M222.6 447.7h0M222.6 456.2h0M222.6 441.5h0M222.6 435.2h0M222.7 456.2h0M222.7 451.4h0M222.7 439.7h0M222.8 458.3h0M222.8 447.6h0M222.9 457.5h0M222.9 456.7h0M222.9 451.1h0M223.1 457.5h0M223.2 455.8h0M223.2 453.7h0M223.2 450.7h0M223.3 427.8h0M223.4 445.6h0M223.4 456.9h0M223.4 458.2h0M223.5 433.4h0M223.5 457.4h0M223.6 430.7h0M223.7 455.1h0M223.8 445.7h0M223.8 439.2h0M223.9 440.3h0M223.9 444.5h0M223.9 458h0M223.9 448.3h0M224 458.6h0M224.1 443.8h0M224.1 453.7h0M224.1 434.1h0M224.1 456.3h0M224.1 458.6h0M224.2 450.4h0M224.2 457.9h0M224.2 437.2h0M224.3 444.9h0M224.4 444.3h0M224.4 438.8h0"/><path stroke="#d7a699" stroke-width="3.4" d="M233.3 467.2h0M233.3 465.2h0M233.3 484.1h0M233.3 464.6h0M233.4 465.7h0M233.4 474.7h0M233.5 487.8h0M233.6 459h0M233.6 490.6h0M233.7 474.4h0M233.7 483.5h0M233.7 469h0M233.7 469.9h0M233.8 480.8h0M233.9 490.2h0M233.9 466.5h0M233.9 475.6h0M234 490.2h0M234 470.7h0M234 479.4h0M234 462.1h0M234.2 484.7h0M234.2 463.6h0M234.2 484.8h0M234.3 464.3h0M234.4 489.9h0M234.4 479h0M234.4 488.7h0M234.5 490h0M234.6 463.3h0M234.6 485.2h0M234.6 473.5h0M234.8 460.2h0M234.8 471.4h0M234.8 489.5h0M234.8 461.4h0M235 462.4h0M235 460.7h0M235 480.8h0M235 476.1h0M235.5 464.6h0M235.5 490h0M235.6 469.2h0M235.6 488.4h0M235.6 469.1h0M235.6 473.1h0M235.6 478.3h0M235.9 462.4h0M235.9 477.6h0M236.1 473.2h0M236.1 489.5h0M236.3 486.2h0M236.3 462.2h0M236.4 471.3h0M236.5 484.3h0M236.6 463.7h0M236.7 471.1h0M236.8 484.1h0M236.8 461h0M236.8 468.5h0M237 483.7h0M237 471.1h0M237.1 488h0M237.2 489.1h0M237.2 484.5h0M237.4 480.8h0M237.5 478.1h0M237.5 484.1h0"/><path stroke="#d7a699" stroke-width="3.6" d="M233.3 430.7h0M233.4 448.6h0M233.4 458.5h0M233.5 448h0M233.5 451.1h0M233.6 446h0M233.6 434.3h0M233.8 453.3h0M233.9 438.3h0M233.9 436.2h0M233.9 430.4h0M234 450.8h0M234.1 455.3h0M234.2 429.1h0M234.2 442.2h0M234.3 457.8h0M234.4 438h0M234.6 437.6h0M234.8 442h0M234.8 448.3h0M234.8 449.2h0M234.9 438.3h0M234.9 442.1h0M235.3 451.6h0M235.4 435.1h0M235.6 441.2h0M235.6 445.6h0M235.7 434.9h0M235.9 451.1h0M236 452.7h0M236 455.1h0M236.1 456.4h0M236.4 438.8h0M236.5 438.1h0M236.5 449h0M236.6 436.5h0M236.9 454.4h0M237.1 454.6h0M237.2 456.3h0M237.2 442.2h0M237.2 439.6h0M237.3 456.7h0M237.4 436.6h0"/><path stroke="#d1aca2" stroke-width="3.8" d="M225.1 426.8h0M225.2 418.4h0M225.5 418.9h0M226.1 424h0M226.3 415.3h0M226.7 421.4h0M226.8 423.3h0M226.8 420h0M226.9 418.7h0M226.9 422.7h0M227 427.1h0M227.2 407.3h0M227.3 425.4h0M227.7 409.5h0M228.4 415.4h0M228.7 408.8h0"/><path stroke="#e29683" stroke-width="3.6" d="M255.3 442.6h0M255.3 445.8h0M255.4 438.5h0M255.8 457.4h0M255.9 432.1h0M256.6 429.4h0M256.8 439.8h0M257 445.5h0M257.6 449.7h0M257.8 439h0M258 458.6h0M258.3 456.4h0M258.4 429.5h0M259.2 444h0"/><path stroke="#ccb2ac" stroke-width="3.6" d="M215.8 445.4h0M215.9 448.7h0M216 432.8h0M216.1 441.8h0M216.1 457.4h0M216.2 446.5h0M216.2 440.5h0M216.3 454h0M216.3 451.3h0M216.4 454.9h0M216.6 455h0M216.7 430.6h0M216.7 439.4h0M216.7 445.6h0M217 458.7h0M217 447.5h0M217 452.5h0M217.1 446.7h0M217.1 442.9h0M217.1 458.3h0M217.2 449.9h0M217.2 456.8h0M217.2 453.6h0M217.4 448.1h0M217.5 437.7h0M217.6 438.2h0M217.7 431h0M217.8 438.3h0M217.9 452.4h0M218.1 447.8h0M218.1 438.7h0M218.2 441.1h0M218.3 440.1h0M218.3 450.9h0M218.4 451.2h0M218.5 434h0M218.5 429.2h0M218.5 445.2h0M218.7 445.4h0M218.8 432.9h0M218.8 456.1h0M219 428.4h0M219.1 447h0M219.1 449.2h0M219.2 441h0M219.3 454.2h0M219.3 450.2h0M219.6 442.7h0M219.7 443.2h0M219.9 428.3h0M219.9 442.3h0M220 445.3h0M220 437.6h0M220.1 440.5h0M220.1 453.1h0"/><path stroke="#d4a99e" stroke-width="3.4" d="M228.9 483.3h0M228.9 486.9h0M228.9 486.4h0M229.1 462.1h0M229.1 478.5h0M229.2 479.3h0M229.3 472.7h0M229.3 477h0M229.4 463.7h0M229.4 473.8h0M229.4 475.7h0M229.4 467.2h0M229.5 489.1h0M229.6 461.8h0M229.7 478.7h0M229.8 479.4h0M229.8 463.4h0M229.9 488.5h0M229.9 472.4h0M230 481.2h0M230.1 487.6h0M230.1 461.5h0M230.2 466.4h0M230.5 490.4h0M230.5 485.7h0M230.6 488.3h0M230.6 490.5h0M230.6 475.4h0M230.7 477.4h0M230.8 460.2h0M230.8 480.3h0M230.9 474.7h0M231 489h0M231 459h0M231 464.4h0M231 484h0M231.3 487.1h0M231.4 476.7h0M231.5 471.7h0M231.5 461.8h0M231.6 479.1h0M231.8 464.1h0M231.9 469.4h0M231.9 478.3h0M231.9 463.3h0M232 480.2h0M232 489.6h0M232.1 466.6h0M232.1 481.1h0M232.1 465.6h0M232.1 482.8h0M232.1 482.4h0M232.2 480.9h0M232.2 481.4h0M232.3 474.2h0M232.3 477h0M232.4 468.9h0M232.5 484.6h0M232.5 460.1h0M232.6 465.4h0M232.6 485.1h0M232.7 485.7h0M232.7 483.3h0M232.7 468.1h0M232.7 475h0M232.8 473.2h0M232.8 481h0M232.9 486.8h0M233 471.7h0M233 464.8h0M233.2 464.8h0M233.2 470.8h0"/><path stroke="#d9a395" stroke-width="3.6" d="M237.8 427.9h0M237.9 430.2h0M238 436h0M238 442.4h0M238.1 449.7h0M238.1 446.2h0M238.1 451.3h0M238.2 432h0M238.3 457.8h0M238.3 446.5h0M238.4 456.4h0M238.4 432.7h0M238.5 455.7h0M238.8 438.5h0M238.9 446.4h0M239 450.9h0M239 453.5h0M239.2 439.9h0M239.2 435h0M239.4 429.4h0M239.5 449h0M239.5 438.1h0M239.7 439.5h0M240.3 434.8h0M240.3 452.7h0M240.5 433.5h0M240.8 449.6h0M240.8 440.2h0M240.9 453.4h0M240.9 436.2h0M241.2 441.4h0M241.5 443.8h0M241.5 442.9h0M241.5 440.7h0M241.6 443.1h0M241.6 456h0M241.8 452.8h0M242 450.7h0"/><path stroke="#dba090" stroke-width="3.6" d="M242.2 443.5h0M242.4 449.2h0M242.6 458.1h0M243 439.1h0M243.1 433.7h0M243.2 448h0M243.3 451.6h0M243.4 441.7h0M243.8 446.6h0M244.3 456.6h0M244.3 435.2h0M244.6 444.5h0M244.7 441.9h0M244.8 454.5h0M244.8 456h0M245.1 443.5h0M245.2 452.1h0M245.3 455h0M245.6 428.5h0M245.7 450h0M246 451h0M246 430.7h0M246.1 433.2h0M246.1 430.8h0"/><path stroke="#dba090" stroke-width="3.4" d="M242.1 463.5h0M242.2 472.4h0M242.2 483.8h0M242.3 472.9h0M242.5 485.7h0M242.6 459.6h0M242.7 471.9h0M242.7 479h0M242.7 480.9h0M242.8 460.4h0M242.8 479.3h0M242.8 487.8h0M242.9 490h0M242.9 485.6h0M243 463h0M243.2 465.7h0M243.2 476.2h0M243.3 475.4h0M243.4 464.8h0M243.6 483.4h0M243.6 476.5h0M243.8 481.1h0M244 490.1h0M244 476.5h0M244 484.8h0M244.2 465.9h0M244.5 478.9h0M244.5 478.6h0M244.6 461.1h0M244.8 490.6h0M245.1 486.3h0M245.3 467.4h0M245.4 461.1h0M245.6 483h0M245.7 466h0M245.8 467.4h0M246 478.9h0M246.1 484.6h0M246.2 479.7h0M246.3 465.8h0M246.3 480.9h0"/><path stroke="#c8b5b0" stroke-width="3.6" d="M211.9 458.4h0M211.9 453.2h0M212.1 449.5h0M212.2 452.7h0M212.2 455.8h0M212.3 441.4h0M212.3 444.6h0M212.3 452.1h0M212.3 455.7h0M212.4 451.6h0M212.6 438h0M212.9 438h0M213 454.7h0M213.4 450.3h0M213.7 451.5h0M214.2 443.4h0M214.4 455.8h0M214.4 439h0M214.5 444.1h0M214.5 444.8h0M214.6 456.3h0M214.7 438h0M214.9 437.1h0M215 457.1h0M215.2 448.5h0M215.3 432.8h0M215.3 455.8h0M215.5 444.3h0M215.5 451.9h0"/><path stroke="#de9d8c" stroke-width="3.4" d="M246.5 484.4h0M246.7 464.9h0M246.9 468.6h0M247 488.9h0M247.3 463.1h0M247.4 474.9h0M247.5 461.1h0M247.5 463.2h0M247.6 464.9h0M247.9 465.8h0M248.4 490.5h0M248.4 484.1h0M248.4 478.5h0M248.4 474.1h0M248.5 460.4h0M248.6 490h0M248.9 480.7h0M249.6 466.8h0M249.9 479.2h0M250 478.6h0M250.1 482.2h0M250.2 474.7h0M250.2 477.1h0M250.2 462.2h0"/><path stroke="#ccb2ac" stroke-width="3.4" d="M215.8 475.7h0M215.8 471.6h0M215.9 489.4h0M215.9 485.2h0M215.9 471.4h0M216 466.3h0M216 481.9h0M216.1 459.8h0M216.1 475.2h0M216.1 484.7h0M216.1 469.7h0M216.1 487.6h0M216.1 470.2h0M216.2 473.9h0M216.2 490.2h0M216.2 480.5h0M216.2 479.7h0M216.3 488.6h0M216.3 484.6h0M216.4 490.4h0M216.4 462h0M216.4 471.3h0M216.4 470.2h0M216.4 482.6h0M216.5 460.9h0M216.5 461h0M216.5 481.2h0M216.5 471.9h0M216.5 464.1h0M216.5 490.3h0M216.6 477.3h0M216.6 485.4h0M216.7 460.5h0M216.8 470.9h0M216.8 488.4h0M216.9 459.2h0M216.9 486.7h0M216.9 471h0M216.9 463.4h0M217.1 471.5h0M217.1 481h0M217.1 476.9h0M217.2 467.2h0M217.2 462.8h0M217.2 475.9h0M217.2 486.9h0M217.2 476.3h0M217.2 479.1h0M217.2 466h0M217.2 471.6h0M217.3 472.4h0M217.3 461.6h0M217.4 463.9h0M217.5 483h0M217.5 463.9h0M217.5 490.1h0M217.6 470.9h0M217.6 486.1h0M217.7 475.6h0M217.7 467.3h0M217.7 464.9h0M217.7 486.4h0M217.8 483.9h0M217.8 461.8h0M217.8 477.3h0M217.9 470.1h0M217.9 467.1h0M218 472.9h0M218 490.4h0M218.3 466.1h0M218.3 462.4h0M218.3 489.2h0M218.4 467h0M218.4 480.1h0M218.4 460.7h0M218.4 465h0M218.4 484.4h0M218.5 479.3h0M218.5 483.6h0M218.5 463.8h0M218.5 476.1h0M218.6 476.9h0M218.6 473.9h0M218.6 476.3h0M218.7 461.5h0M218.7 487.4h0M218.7 472.8h0M218.7 489.6h0M218.8 477.5h0M218.8 474.6h0M218.9 463h0M218.9 460.2h0M218.9 459.2h0M218.9 486.5h0M219.1 490.1h0M219.2 490.1h0M219.2 463.7h0M219.3 470.6h0M219.3 482.3h0M219.4 474.3h0M219.4 461.2h0M219.4 488.6h0M219.5 476.1h0M219.5 467.2h0M219.5 489h0M219.6 487.3h0M219.6 483.3h0M219.8 488.7h0M219.8 469.5h0M219.8 484.7h0M219.8 461.5h0M219.8 459.2h0M219.9 483.9h0M220 461.2h0M220 474.2h0M220 488.6h0M220.1 467h0M220.1 481.5h0M220.1 480.8h0M220.1 478.8h0"/><path stroke="#de9d8c" stroke-width="3.6" d="M246.4 438.3h0M246.5 446h0M246.6 442.3h0M246.7 458.2h0M246.9 451.5h0M247.5 443.7h0M247.6 448h0M247.8 445.8h0M248.2 449.6h0M248.2 441.1h0M248.3 457.3h0M248.3 450.7h0M248.4 455h0M248.5 435.9h0M248.9 450.4h0M249.7 446.5h0M250.1 439.1h0M250.1 447.8h0M250.5 450.1h0M250.7 444.4h0M250.7 456.3h0"/><path stroke="#ceafa7" stroke-width="3.8" d="M220.3 424.7h0M220.7 424.7h0M220.9 419.1h0M220.9 417.1h0M220.9 417.8h0M221.5 408.6h0M222 409.3h0M222 424h0M222.3 423h0M223.1 426h0M223.2 427.2h0M223.4 413.7h0M224.1 425.4h0M224.1 421.2h0"/><path stroke="#d9a395" stroke-width="3.8" d="M238.2 409.4h0M238.8 426.7h0M240.5 426.1h0M240.8 426.3h0M241.6 419.1h0M241.8 424.2h0"/><path stroke="#e4937f" stroke-width="3.6" d="M259.6 440.1h0M259.8 448h0M259.9 452.4h0M260.2 458h0M260.4 447.1h0M260.9 429.4h0M261.1 434.9h0M261.6 431.6h0M262.2 458.8h0M262.8 437h0"/><path stroke="#e98971" stroke-width="3.4" d="M274.3 490.4h0M274.9 460.1h0M275.1 472.5h0M275.2 466.1h0M275.8 459.7h0"/><path stroke="#e4937f" stroke-width="3.4" d="M259.7 467.1h0M259.8 471h0M260.2 468.8h0M260.4 475.2h0M260.4 474.9h0M260.5 478.9h0M260.6 462.8h0M260.7 469.1h0M260.8 487.6h0M260.8 475.7h0M261 480h0M261.1 487.2h0M261.1 489.6h0M261.5 473h0M261.6 468.7h0M261.8 485.5h0M262.2 486.5h0M262.5 479.7h0M263.4 470.3h0"/><path stroke="#d4a99e" stroke-width="3.8" d="M228.9 404.9h0M229.1 412.6h0M229.7 403.3h0M230.2 422.2h0M230.4 426.9h0M230.7 423.4h0M230.9 418.1h0M231.2 424.7h0M231.4 416.9h0M231.5 408.3h0M231.6 420.1h0M231.8 409.4h0M232.2 424.7h0M232.9 411.6h0M233.2 409.7h0"/><path stroke="#d9a395" stroke-width="3.4" d="M237.7 464.2h0M237.8 460.8h0M237.9 483.4h0M238 475.1h0M238 476h0M238.1 471h0M238.2 476.8h0M238.3 487.6h0M238.5 459.5h0M238.6 483.6h0M238.7 469.7h0M238.9 469.4h0M239 463.1h0M239 486.5h0M239.1 461.6h0M239.3 472.5h0M239.4 471.6h0M239.5 469.6h0M239.6 477.6h0M239.8 481.1h0M239.8 467.8h0M239.9 486h0M240 488.2h0M240.1 480.7h0M240.1 488.9h0M240.4 475.7h0M240.4 465.1h0M240.4 486h0M240.6 473.2h0M240.7 486.5h0M240.8 459.6h0M240.8 460.2h0M240.9 468.3h0M240.9 470.6h0M240.9 471.8h0M241.1 483h0M241.2 483.2h0M241.3 484.1h0M241.5 479.9h0M241.5 486.5h0M241.8 486.1h0"/><path stroke="#c5b8b5" stroke-width="3.4" d="M210.4 466.9h0M210.7 489.1h0M210.9 486h0M210.9 470.2h0M211.3 466.6h0M211.3 473h0"/><path stroke="#e29683" stroke-width="3.4" d="M255.4 478.5h0M255.4 485h0M255.8 483h0M256 461h0M256 462.9h0M256.6 464.9h0M256.8 462.2h0M258.1 485.8h0M258.2 472.6h0M258.3 478.5h0M258.8 478.2h0M258.9 481h0M259.1 470.2h0M259.5 481.6h0"/><path stroke="#e09a87" stroke-width="3.6" d="M252.2 448.2h0M252.7 434.8h0M253.2 438.4h0M253.7 452.6h0M253.8 447.8h0M254.4 434.3h0"/><path stroke="#d7a699" stroke-width="3.8" d="M233.9 416.7h0M233.9 408.6h0M234 426.9h0M234.4 404.5h0M234.7 418.2h0M234.8 427.2h0M236.3 424.5h0M236.6 417.6h0M236.7 424.7h0M237.4 423.9h0"/><path stroke="#dba090" stroke-width="3.8" d="M242.5 409.5h0M242.6 410.3h0M244.4 420.9h0M245.3 417.8h0M245.3 420.7h0"/><path stroke="#e5907a" stroke-width="3.4" d="M264.5 481.7h0M264.7 461.6h0M266.4 465.3h0M267.9 484.2h0M268 472.6h0M268 472.8h0"/><path stroke="#e78d76" stroke-width="3.6" d="M268.6 453.7h0M269 456.9h0M269.8 456.1h0M270.2 454.6h0M270.5 456.9h0M270.6 451.4h0M271.9 446.6h0"/><path stroke="#e98971" stroke-width="3.6" d="M272.8 429.9h0M274 439.3h0M274.5 457h0"/><path stroke="#e09a87" stroke-width="3.8" d="M251.5 422.3h0M254 404.6h0M254.2 412.8h0"/><path stroke="#e5907a" stroke-width="3.6" d="M264.1 447h0M264.8 438.2h0M267.4 452.4h0M267.5 429.3h0M267.6 443.1h0M267.8 450.5h0"/><path stroke="#e4937f" stroke-width="3.8" d="M259.8 404.4h0M261.1 414.6h0M262 408.1h0M263.8 420h0"/><path stroke="#ccb2ac" stroke-width="3.8" d="M216.3 424.2h0M217.8 423.5h0M218.3 409.6h0M220 424.6h0"/><path stroke="#eb866d" stroke-width="3.6" d="M277.4 456.4h0M277.4 446h0M279.1 458.7h0"/><path stroke="#c8b5b0" stroke-width="3.8" d="M213.9 411.8h0M214.5 423.8h0M215.1 426.8h0M215.6 399h0"/><path stroke="#eb866d" stroke-width="3.4" d="M278.9 490h0M280.1 467.4h0M281.3 479.5h0"/><path stroke="#e5907a" stroke-width="3.8" d="M265.1 408.7h0"/><path stroke="#e29683" stroke-width="3.8" d="M256.5 411.7h0M257.9 417.7h0"/><path stroke="#e78d76" stroke-width="3.4" d="M269.4 465.4h0M270.4 477.6h0M271.1 470.5h0"/><path stroke="#e78d76" stroke-width="3.8" d="M268.5 418.4h0M268.8 416.4h0M269.3 425.9h0"/><path stroke="#9e7eda" stroke-width="4.2" d="M131.6 341.1h0"/><path stroke="#a386d7" stroke-width="4.0" d="M138.5 365.8h0"/><path stroke="#9571df" stroke-width="4.0" d="M115 365.3h0M116.3 383.1h0"/><path stroke="#8f69e2" stroke-width="4.0" d="M106.9 373.2h0M106.9 386.8h0M110.1 370.8h0"/><path stroke="#8159e9" stroke-width="4.0" d="M89.1 395h0"/><path stroke="#9e7eda" stroke-width="4.0" d="M128.6 395.5h0M129.9 391.8h0"/><path stroke="#673ef2" stroke-width="3.8" d="M65.1 414h0"/><path stroke="#5b34f5" stroke-width="3.8" d="M56.5 422.1h0"/><path stroke="#3c1efb" stroke-width="3.6" d="M40.2 434.5h0"/><path stroke="#4e2af8" stroke-width="3.6" d="M45.1 435.5h0M49.1 453.8h0"/><path stroke="#6139f3" stroke-width="3.6" d="M61.4 437.5h0"/><path stroke="#673ef2" stroke-width="3.6" d="M65.6 441.7h0"/><path stroke="#6c43f0" stroke-width="3.6" d="M68.4 449.3h0M69.8 444.9h0"/><path stroke="#552ff6" stroke-width="3.4" d="M49.6 461.7h0"/><path stroke="#210dfe" stroke-width="3.4" d="M30.3 468.6h0"/><path stroke="#3116fc" stroke-width="3.4" d="M33.5 479.5h0"/><path stroke="#4624f9" stroke-width="3.4" d="M41.7 475h0"/><path stroke="#6139f3" stroke-width="3.4" d="M59 467.1h0M61.9 486.9h0"/><path stroke="#6c43f0" stroke-width="3.4" d="M69.8 469.6h0"/><path stroke="#d9a395" stroke-width="4.0" d="M238.1 375h0M240.5 383.6h0"/><path stroke="#ccb2ac" stroke-width="4.0" d="M218.8 385.3h0"/><path stroke="#e29683" stroke-width="4.0" d="M256.1 391.8h0"/><path stroke="#e78d76" stroke-width="4.0" d="M271.9 394.7h0"/><path stroke="#dba090" stroke-width="4.0" d="M245.7 393.7h0"/><path stroke="#eb866d" stroke-width="3.8" d="M277.8 408.1h0"/><path stroke="#ef7b60" stroke-width="3.4" d="M290.7 481.4h0"/><path stroke="#ec8269" stroke-width="3.4" d="M285.8 480.2h0"/><path stroke="#b7aec6" stroke-width="3.8" d="M184.7 414.2h0"/></g>
<g stroke="#262626" stroke-width="1.0" stroke-dasharray="1.7 1.4" fill="none">
<path d="M190.5 332.6V520.5"/>
<path d="M210.3 332.6V520.5"/>
<path d="M17.3 490.56H303.6"/>
</g>
<path d="M17.3 332.6V520.5" stroke="#4a4a4a" stroke-width="1.1" fill="none"/>
<path d="M16.8 520.5H303.6" stroke="#555555" stroke-width="1.15" fill="none"/>
<g font-family="'Liberation Sans', sans-serif" font-size="3.5" fill="#777"><path d="M101.4 521.1v1.3" stroke="#333" stroke-width="0.6"/><text x="101.4" y="525.1" text-anchor="middle">-10</text><path d="M200.4 521.1v1.3" stroke="#333" stroke-width="0.6"/><text x="200.4" y="525.1" text-anchor="middle">0</text><path d="M299.4 521.1v1.3" stroke="#333" stroke-width="0.6"/><text x="299.4" y="525.1" text-anchor="middle">10</text><path d="M16.8 511.9h-1.3" stroke="#333" stroke-width="0.6"/><text x="15.1" y="513.2" text-anchor="end">0.0</text><path d="M16.8 470.9h-1.3" stroke="#333" stroke-width="0.6"/><text x="15.1" y="472.2" text-anchor="end">2.5</text><path d="M16.8 429.9h-1.3" stroke="#333" stroke-width="0.6"/><text x="15.1" y="431.2" text-anchor="end">5.0</text><path d="M16.8 388.9h-1.3" stroke="#333" stroke-width="0.6"/><text x="15.1" y="390.2" text-anchor="end">7.5</text><path d="M16.8 347.9h-1.3" stroke="#333" stroke-width="0.6"/><text x="15.1" y="349.2" text-anchor="end">10.0</text></g>
<text x="160.7" y="530.1" font-family="'Liberation Sans', sans-serif" font-size="4.6" fill="#222" text-anchor="middle" textLength="17.8" lengthAdjust="spacingAndGlyphs">log2(FC)</text>
<text transform="translate(5.1 426.6) rotate(-90)" font-family="'Liberation Sans', sans-serif" font-size="4.6" fill="#222" text-anchor="middle" x="0" y="1.6" textLength="29.7" lengthAdjust="spacingAndGlyphs">-log10(p-value)</text>
<text x="169.6" y="308.3" font-family="'Liberation Serif', serif" font-weight="bold" font-size="12.5" text-anchor="middle" textLength="20.8" lengthAdjust="spacingAndGlyphs">V10</text>
<rect x="82.25" y="319.35" width="25.5" height="7.1" fill="#cfe0f9" stroke="#1a6ae8" stroke-width="1.7"/>
<text x="112.5" y="324.7" font-family="'Liberation Sans', sans-serif" font-size="9" fill="#505050" textLength="56.9" lengthAdjust="spacingAndGlyphs">Sig.Down [1143]</text>
<rect x="175.95" y="319.35" width="25.5" height="7.1" fill="#fcd3d4" stroke="#f0322a" stroke-width="1.7"/>
<text x="205.9" y="324.7" font-family="'Liberation Sans', sans-serif" font-size="9" fill="#505050" textLength="47.0" lengthAdjust="spacingAndGlyphs">Sig.Up [1275]</text>
<rect x="259.85" y="319.35" width="25.5" height="7.1" fill="#efefef" stroke="#c8c8c8" stroke-width="1.7"/>
<text x="289.4" y="324.7" font-family="'Liberation Sans', sans-serif" font-size="9" fill="#505050" textLength="45.5" lengthAdjust="spacingAndGlyphs">Unsig. [2164]</text>
<defs><linearGradient id="gV10" x1="0" y1="0" x2="0" y2="1"><stop offset="0.000" stop-color="#ef7b60"/><stop offset="0.050" stop-color="#ea866d"/><stop offset="0.100" stop-color="#e5907a"/><stop offset="0.150" stop-color="#df9a88"/><stop offset="0.200" stop-color="#d9a496"/><stop offset="0.250" stop-color="#d1ada4"/><stop offset="0.300" stop-color="#c7b6b1"/><stop offset="0.350" stop-color="#bdbdbf"/><stop offset="0.400" stop-color="#b9b0c4"/><stop offset="0.450" stop-color="#b3a4ca"/><stop offset="0.500" stop-color="#ad98cf"/><stop offset="0.550" stop-color="#a68cd5"/><stop offset="0.600" stop-color="#9f7fda"/><stop offset="0.650" stop-color="#9673df"/><stop offset="0.700" stop-color="#8d66e4"/><stop offset="0.750" stop-color="#825ae8"/><stop offset="0.800" stop-color="#764ded"/><stop offset="0.850" stop-color="#683ff2"/><stop offset="0.900" stop-color="#5630f6"/><stop offset="0.950" stop-color="#3d1efb"/><stop offset="1.000" stop-color="#0000ff"/></linearGradient></defs>
<rect x="310.0" y="412.9" width="7" height="34.0" fill="url(#gV10)"/>
<g font-family="'Liberation Sans', sans-serif" font-size="3.7" fill="#333"><path d="M310.0 424.61h1.3M315.7 424.61h1.3" stroke="#fff" stroke-width="0.4"/><text x="318.6" y="425.9">0</text><path d="M310.0 437.20h1.3M315.7 437.20h1.3" stroke="#fff" stroke-width="0.4"/><text x="318.6" y="438.5">-10</text></g>
<text x="310.0" y="411.1" font-family="'Liberation Sans', sans-serif" font-size="4.6" fill="#222" textLength="24.3" lengthAdjust="spacingAndGlyphs">FoldChange</text>
<g fill="none" stroke-linecap="round"><path stroke="#bebebe" stroke-width="2.6" d="M371 483.7h0M373.5 490.8h0M381.7 487.2h0M381.9 490.3h0M382.4 492.9h0M382.6 497.5h0M383.8 489h0M384.2 492.8h0M387.1 497.2h0M392 492.4h0M395.7 495.2h0M397.6 484.5h0M397.7 500.7h0M397.7 488.4h0M400.5 483.1h0M402.5 496.4h0M403.2 490.1h0M405.8 486.2h0M407.2 481.3h0M407.4 489.5h0M407.6 492.2h0M407.9 487.8h0M408.3 493.9h0M411.6 482.3h0M411.8 501.2h0M414.9 495.2h0M415.2 492.8h0M415.5 481.4h0M416.1 492.4h0M416.3 501.5h0M416.5 494.2h0M416.6 501h0M416.6 482.8h0M417.8 482.8h0M418.1 490.7h0M418.1 502h0M418.4 495.7h0M418.7 497.3h0M419.3 490.9h0M419.7 491.1h0M419.9 496.7h0M420.1 494.4h0M420.6 490h0M420.7 492.4h0M420.7 491.4h0M421 485.3h0M421.6 496.3h0M421.6 495.4h0M422.1 491.5h0M422.4 504.6h0M422.7 491.2h0M423.4 501h0M423.5 496h0M424.2 501.4h0M424.8 485.6h0M424.8 490h0M425.3 494.1h0M425.5 501.4h0M425.9 495.4h0M426.4 490.3h0M427.6 483.8h0M427.8 494.5h0M427.9 486.6h0M428 486.1h0M428 491h0M428.3 481.9h0M428.9 504.3h0M429.2 495.9h0M429.5 494.7h0M429.7 486.5h0M430 489.6h0M430.5 503.6h0M430.6 493.7h0M430.8 496.3h0M431 506.4h0M431.3 498.2h0M431.6 494.5h0M431.8 482.7h0M432.2 493.7h0M432.6 482.3h0M433 505.9h0M433 491h0M433.2 482.5h0M433.5 488.1h0M433.6 497.1h0M433.9 496.2h0M434 489.6h0M434 483.7h0M434.5 489.5h0M434.6 494h0M434.7 486.3h0M434.7 505.4h0M435 484.3h0M435.7 493.8h0M435.8 502.8h0M436 498.3h0M436 494.9h0M436.1 499.1h0M436.7 488.6h0M436.9 489h0M436.9 484.9h0M437.1 488h0M437.3 487.1h0M437.5 496.1h0M437.6 506.8h0M437.8 500.7h0M438.2 504.1h0M438.2 504.8h0M438.4 484.5h0M438.5 488.4h0M438.5 487.7h0M438.5 503.3h0M438.9 487.5h0M438.9 505.9h0M439 490h0M439.1 498.7h0M439.3 496.1h0M439.5 485.8h0M439.6 502h0M439.8 501.5h0M439.9 500.7h0M440 506.1h0M440 497.3h0M440.2 490.3h0M440.5 501.2h0M440.6 491.3h0M440.7 504.1h0M440.8 492.1h0M440.8 483.6h0M441 501h0M441.1 500.6h0M441.3 500.6h0M441.4 508.1h0M441.5 487.5h0M441.6 502.1h0M442.4 483.2h0M442.4 505.7h0M442.5 503h0M442.5 500.3h0M442.7 482.6h0M442.9 486h0M442.9 503.4h0M443.1 497.4h0M443.1 494.3h0M443.1 500.1h0M443.1 496.4h0M443.6 483.2h0M443.6 509h0M443.6 491.1h0M443.7 483.1h0M443.7 485h0M443.9 499.8h0M443.9 502.9h0M444 486.9h0M444 492.9h0M444.1 495.4h0M444.1 495h0M444.2 487.1h0M444.2 501.2h0M444.3 493.8h0M444.3 493.8h0M444.4 485.3h0M444.6 482.8h0M444.8 504.2h0M444.8 486h0M444.8 497.5h0M444.9 485.3h0M444.9 481.7h0M444.9 491.2h0M445 482.7h0M445.1 497.8h0M445.3 496.3h0M445.3 507.3h0M445.5 483.5h0M445.6 508.3h0M445.6 506.8h0M445.6 493.5h0M445.7 504.5h0M445.7 500h0M445.7 500.6h0M445.9 506.4h0M445.9 495.7h0M445.9 492h0M445.9 500.5h0M446.2 491.4h0M446.3 504.7h0M446.3 501.1h0M446.4 504.8h0M446.5 500.8h0M446.6 486.5h0M446.7 494.6h0M446.8 483.3h0M446.8 484.5h0M446.9 487.4h0M446.9 498.9h0M447 504h0M447.1 506.9h0M447.2 508.6h0M447.3 502.1h0M447.3 504h0M447.7 501.1h0M447.8 504.3h0M447.8 506h0M448 503.5h0M448.1 484.3h0M448.2 494.5h0M448.2 491.9h0M448.3 508.8h0M448.4 496.3h0M448.4 490.5h0M448.5 502.1h0M448.8 482h0M448.9 508.5h0M449.1 501.5h0M449.1 493h0M449.2 497.3h0M449.5 499.5h0M449.6 481.4h0M449.6 492.6h0M449.7 482.7h0M449.9 488.4h0M449.9 482.8h0M450 490.6h0M450 498h0M450.2 486.5h0M450.2 489.9h0M450.4 495.6h0M450.4 497.1h0M450.5 491h0M450.5 482h0M450.6 495.9h0M450.7 496.8h0M450.8 481.8h0M450.8 488.6h0M450.8 497.5h0M450.9 493.2h0M450.9 501.6h0M451 502.8h0M451 491h0M451 501.4h0M451.1 487.2h0M451.1 486.6h0M451.1 494.2h0M451.2 502h0M451.2 490.2h0M451.3 500.3h0M451.4 498.1h0M451.4 507h0M451.4 488.7h0M451.4 500h0M451.5 482h0M451.5 501.8h0M451.6 497.3h0M451.7 489.5h0M451.8 508.7h0M451.8 501.2h0M451.8 510.4h0M451.9 501.9h0M451.9 507.7h0M452 491.9h0M452.4 501.4h0M452.5 494.5h0M452.5 492h0M452.6 486h0M452.6 482.6h0M452.7 506h0M452.8 483.2h0M452.8 502.9h0M452.8 490.1h0M452.9 510.2h0M452.9 503h0M453 495.2h0M453 486.4h0M453 510.5h0M453.1 503.1h0M453.1 499.7h0M453.1 487.9h0M453.2 497.7h0M453.3 505.8h0M453.4 503.8h0M453.5 496.5h0M453.5 497.4h0M453.5 487.4h0M453.6 506.2h0M453.6 510.5h0M453.6 497.9h0M453.6 504.1h0M453.7 492.4h0M453.7 490h0M453.8 485.3h0M453.8 484.5h0M453.8 484.4h0M453.9 495.6h0M454 508.3h0M454 508.7h0M454.1 489h0M454.1 500.6h0M454.1 493.8h0M454.2 489.3h0M454.2 497.8h0M454.3 494.2h0M454.4 494.5h0M454.4 484.8h0M454.4 493.1h0M454.4 483.3h0M454.7 487.6h0M454.8 484.7h0M454.8 487h0M454.8 484.7h0M454.8 488.3h0M454.8 496h0M455 511.1h0M455 484.2h0M455 483.2h0M455.1 506.2h0M455.2 507.9h0M455.2 500.2h0M455.3 507.8h0M455.4 500.1h0M455.5 497.3h0M455.6 491.1h0M455.7 504h0M455.7 506.7h0M455.7 502.2h0M455.8 507.9h0M455.8 507.1h0M455.8 495.1h0M455.9 500.4h0M455.9 492.3h0M455.9 508h0M455.9 505.4h0M456 492.7h0M456.1 501h0M456.1 482.4h0M456.3 487.5h0M456.3 509.1h0M456.3 496.9h0M456.4 484.2h0M456.4 485h0M456.5 488.4h0M456.7 507.8h0M456.8 498.5h0M456.8 506.3h0M456.8 490.5h0M456.8 492.9h0M456.9 482.1h0M457 507.7h0M457 506.6h0M457.2 493.1h0M457.2 503h0M457.2 495.2h0M457.3 502.8h0M457.3 510.6h0M457.3 483.6h0M457.4 496.2h0M457.4 500h0M457.4 482.7h0M457.4 509.9h0M457.4 499.5h0M457.5 491.8h0M457.6 487.7h0M457.6 483.1h0M457.8 502.4h0M457.8 503.4h0M457.9 502.1h0M457.9 507.3h0M457.9 489.3h0M458 482.6h0M458.1 502h0M458.1 487.1h0M458.2 508.2h0M458.2 488.8h0M458.2 505.2h0M458.3 489.6h0M458.3 495.9h0M458.3 500.3h0M458.3 507.2h0M458.3 493h0M458.5 492.7h0M458.6 494.4h0M458.7 505.7h0M458.7 485.5h0M458.9 488.5h0M458.9 491.6h0M459 481.8h0M459 488.8h0M459.1 504.6h0M459.1 511.2h0M459.2 505.5h0M459.3 497.4h0M459.3 500.6h0M459.3 486.9h0M459.3 492.7h0M459.3 485.1h0M459.4 486.5h0M459.4 489.8h0M459.5 492.6h0M459.5 506.5h0M459.6 498.4h0M459.6 496.3h0M459.6 490.1h0M459.7 498.8h0M459.7 505.5h0M459.8 510.2h0M459.8 481.9h0M459.8 507.2h0M459.8 495.6h0M459.9 500.1h0M459.9 508.9h0M460 499.8h0M460 497.7h0M460 484.7h0M460 487.5h0M460.1 486.4h0M460.1 504.9h0M460.1 493.5h0M460.2 491.9h0M460.2 495.6h0M460.2 496.1h0M460.3 502.4h0M460.4 505h0M460.4 501.8h0M460.5 505h0M460.5 497.2h0M460.6 484.8h0M460.6 507.1h0M460.7 507.7h0M460.8 488.7h0M460.8 481.5h0M460.8 409h0M460.8 495.9h0M460.9 486.8h0M460.9 493h0M460.9 506.1h0M461 497.9h0M461 496.7h0M461 507.4h0M461.1 501.2h0M461.1 491h0M461.1 485.1h0M461.1 498.3h0M461.1 491.1h0M461.1 490.2h0M461.2 493.1h0M461.2 509.4h0M461.2 507.7h0M461.2 493.1h0M461.2 511.2h0M461.2 502.3h0M461.3 505.9h0M461.3 499.3h0M461.3 497.1h0M461.4 484.3h0M461.4 462h0M461.4 506h0M461.4 502.4h0M461.5 485.8h0M461.5 494.9h0M461.5 508.2h0M461.5 468.3h0M461.5 506h0M461.5 498.8h0M461.5 496.5h0M461.6 498.6h0M461.6 471h0M461.6 509h0M461.6 485.4h0M461.6 496.9h0M461.6 486.8h0M461.6 496.9h0M461.6 507.3h0M461.6 494.2h0M461.7 485.8h0M461.7 511.1h0M461.7 432.2h0M461.7 496.7h0M461.7 505.4h0M461.7 501.4h0M461.8 488.5h0M461.8 487.6h0M461.8 495.8h0M461.8 482.8h0M461.9 489.9h0M461.9 483.1h0M461.9 487.7h0M461.9 426.8h0M461.9 492.2h0M462 504.9h0M462 483.4h0M462.1 505.9h0M462.2 511h0M462.2 496.8h0M462.2 492.4h0M462.2 507.1h0M462.2 494.3h0M462.3 497.4h0M462.4 470.8h0M462.4 492h0M462.4 489.5h0M462.4 501.9h0M462.4 489.1h0M462.4 504.6h0M462.4 500.1h0M462.4 509h0M462.5 498.7h0M462.5 471h0M462.5 469.3h0M462.5 507.7h0M462.5 485.3h0M462.5 503.2h0M462.6 500.2h0M462.6 499.4h0M462.6 510.6h0M462.6 440h0M462.6 496.3h0M462.6 497.5h0M462.6 495.7h0M462.7 499.9h0M462.7 483.3h0M462.7 506.8h0M462.7 493.9h0M462.7 500.8h0M462.7 472.2h0M462.7 503.8h0M462.7 482.2h0M462.7 511h0M462.7 509.9h0M462.7 485h0M462.7 433.1h0M462.7 510.3h0M462.8 496.9h0M462.8 493.3h0M462.8 500.5h0M462.8 501.2h0M462.8 506.1h0M463 483.4h0M463 490.5h0M463 482.6h0M463 490h0M463.1 501.9h0M463.1 507.3h0M463.1 508.9h0M463.1 510.8h0M463.1 493.3h0M463.1 504h0M463.1 502.4h0M463.2 484.7h0M463.2 487.3h0M463.2 496.3h0M463.2 481.4h0M463.2 496.2h0M463.2 504.4h0M463.2 506.1h0M463.3 496.3h0M463.3 484.3h0M463.3 483h0M463.4 502.4h0M463.4 493.8h0M463.5 491.7h0M463.5 504.7h0M463.5 510.4h0M463.5 486h0M463.5 438.8h0M463.6 472.3h0M463.6 505.6h0M463.6 510.6h0M463.7 499.2h0M463.7 508.3h0M463.7 503.9h0M463.7 487.5h0M463.7 485.6h0M463.8 505.7h0M463.8 511.4h0M463.8 510.6h0M463.8 496.8h0M463.8 496.2h0M463.8 499.1h0M463.8 510.1h0M463.8 493.9h0M463.8 485.3h0M463.9 495.5h0M463.9 506.1h0M463.9 503.1h0M463.9 453.5h0M463.9 474.6h0M463.9 510.2h0M464 487h0M464 509.7h0M464 493.5h0M464 476h0M464 498h0M464 501.2h0M464 507.8h0M464 511.3h0M464 468.4h0M464 507.9h0M464.1 500.6h0M464.1 488.8h0M464.1 483.1h0M464.1 488.3h0M464.1 506.7h0M464.1 487.3h0M464.1 488.2h0M464.1 485h0M464.1 510h0M464.2 502.7h0M464.2 509.7h0M464.2 506h0M464.2 485.7h0M464.3 502h0M464.3 420.2h0M464.3 495.1h0M464.3 484h0M464.3 509.9h0M464.3 485.4h0M464.3 470.2h0M464.3 467.4h0M464.4 503.2h0M464.4 507.4h0M464.5 504.8h0M464.5 479.7h0M464.5 508.6h0M464.5 483.6h0M464.5 507.1h0M464.5 495.2h0M464.6 487.3h0M464.6 501.8h0M464.6 488.1h0M464.6 487h0M464.7 483.4h0M464.7 500.7h0M464.7 466.5h0M464.7 505.9h0M464.7 491.7h0M464.7 489.7h0M464.7 486.9h0M464.8 509.1h0M464.8 474.7h0M464.8 510.4h0M464.8 504.6h0M464.9 505.1h0M464.9 489.1h0M464.9 475.7h0M465 511.6h0M465 485.1h0M465 495.8h0M465.1 488.5h0M465.1 499.1h0M465.1 489.2h0M465.1 488.9h0M465.1 503.2h0M465.1 488.8h0M465.1 508.6h0M465.1 506.7h0M465.1 481.4h0M465.1 503.9h0M465.1 509.8h0M465.1 482.7h0M465.2 490.2h0M465.2 494.2h0M465.2 498.7h0M465.2 501.4h0M465.2 491.1h0M465.2 490.9h0M465.2 499.3h0M465.2 496.6h0M465.2 484.2h0M465.3 499.2h0M465.3 489.8h0M465.3 506.5h0M465.3 429.4h0M465.4 483.5h0M465.4 455.4h0M465.4 488.5h0M465.4 484h0M465.4 487.6h0M465.4 501.5h0M465.5 502.4h0M465.5 507.8h0M465.5 465.1h0M465.6 501.4h0M465.6 508.4h0M465.6 468.2h0M465.6 504.7h0M465.6 492.2h0M465.6 505.6h0M465.6 487.8h0M465.6 492.4h0M465.6 501.9h0M465.6 491.3h0M465.7 495.4h0M465.7 507.1h0M465.7 488.6h0M465.7 500.3h0M465.8 500.9h0M465.8 503.7h0M465.8 479.3h0M465.8 500.8h0M465.8 493.1h0M465.9 502.2h0M465.9 388.3h0M466 504.1h0M466 509.6h0M466 503.4h0M466 484.7h0M466 500.6h0M466 491.7h0M466 431.2h0M466 488.2h0M466.1 488.4h0M466.2 484.2h0M466.2 490.5h0M466.2 493.4h0M466.2 479.2h0M466.2 505.4h0M466.3 510.6h0M466.3 455h0M466.3 487.3h0M466.3 505.7h0M466.3 510.1h0M466.4 509.7h0M466.4 508h0M466.4 492.8h0M466.4 488.6h0M466.5 506h0M466.5 500.4h0M466.5 490.2h0M466.5 482h0M466.6 506h0M466.7 503.7h0M466.7 502.6h0M466.7 482.4h0M466.8 498.4h0M466.8 440.2h0M466.8 494.3h0M466.8 500h0M466.8 510.4h0M466.8 481.7h0M466.9 510.7h0M466.9 484.4h0M466.9 486.4h0M466.9 507.8h0M466.9 476.2h0M466.9 504.2h0M467 475.9h0M467 500.7h0M467 500.8h0M467 497.6h0M467 484h0M467 499.6h0M467.1 492.1h0M467.1 500.8h0M467.1 510.8h0M467.1 493.8h0M467.1 501.5h0M467.1 491.9h0M467.1 487h0M467.2 504h0M467.2 497.6h0M467.2 482.6h0M467.3 487.7h0M467.3 510.7h0M467.4 420.9h0M467.5 508.7h0M467.5 482.1h0M467.6 508.4h0M467.6 488.5h0M467.6 483.7h0M467.6 479.5h0M467.6 498.6h0M467.7 505.6h0M467.7 485.4h0M467.7 495.3h0M467.7 486.4h0M467.7 489.1h0M467.8 486.2h0M467.8 483.9h0M467.9 489.7h0M467.9 498.2h0M467.9 508.8h0M467.9 504.6h0M467.9 493.1h0M467.9 495.4h0M467.9 483.9h0M467.9 511.5h0M468 474h0M468 497h0M468 478.6h0M468 447.1h0M468 444.5h0M468.1 504.2h0M468.1 471.7h0M468.1 509.6h0M468.1 500.1h0M468.1 501.2h0M468.1 493.3h0M468.1 511.3h0M468.1 485.9h0M468.2 509.2h0M468.2 507.8h0M468.2 494.7h0M468.2 506.1h0M468.3 476.8h0M468.3 493.4h0M468.3 507.4h0M468.3 501.7h0M468.3 482h0M468.3 507.5h0M468.4 489.4h0M468.4 481.8h0M468.5 510.6h0M468.5 491.3h0M468.6 488.5h0M468.6 505.5h0M468.6 497.7h0M468.7 499.1h0M468.7 482.5h0M468.7 494.6h0M468.7 496.5h0M468.7 508.6h0M468.7 484.3h0M468.8 481.8h0M468.8 497.2h0M468.8 489.9h0M468.9 465.3h0M468.9 504.8h0M468.9 511.5h0M468.9 503.8h0M468.9 489.3h0M469 488.7h0M469 506.7h0M469.1 481.4h0M469.1 505.1h0M469.1 498.6h0M469.1 510.7h0M469.1 484.4h0M469.2 484.4h0M469.2 488.9h0M469.2 486.1h0M469.2 507.4h0M469.2 465.8h0M469.2 509.3h0M469.2 501.3h0M469.2 481.9h0M469.2 491.9h0M469.3 504.4h0M469.3 508.8h0M469.3 502.5h0M469.3 511h0M469.3 508.7h0M469.3 461.8h0M469.3 501.6h0M469.3 491h0M469.4 509.8h0M469.4 506.4h0M469.4 499.3h0M469.4 510.1h0M469.4 502.9h0M469.4 481.9h0M469.5 497.9h0M469.5 482.6h0M469.5 492.6h0M469.5 491.3h0M469.5 483.5h0M469.5 500.1h0M469.6 466.1h0M469.6 456.8h0M469.6 509.8h0M469.6 482.5h0M469.6 501.2h0M469.6 499.6h0M469.6 509.5h0M469.7 489.7h0M469.7 481.7h0M469.7 486.9h0M469.7 510.8h0M469.7 488.1h0M469.7 500.8h0M469.7 501.8h0M469.8 499.7h0M469.8 500.3h0M469.8 508.3h0M469.8 497.1h0M469.8 483.4h0M469.8 482.9h0M469.8 508.5h0M469.9 494.8h0M469.9 482h0M469.9 509.7h0M469.9 511.4h0M469.9 506h0M469.9 488.7h0M470 484.9h0M470 507.7h0M470 476.5h0M470.1 503.4h0M470.1 493.7h0M470.1 487.3h0M470.1 498.2h0M470.2 481.6h0M470.2 483.1h0M470.2 509.5h0M470.2 501.2h0M470.2 492.4h0M470.2 499.7h0M470.3 509.2h0M470.3 491.3h0M470.4 507.1h0M470.5 495.3h0M470.5 488.5h0M470.5 508.2h0M470.5 497.9h0M470.6 486.4h0M470.6 510.2h0M470.7 503.3h0M470.7 496.6h0M470.7 511.1h0M470.7 511.5h0M470.7 508.8h0M470.8 506.9h0M470.9 506.8h0M470.9 509h0M470.9 501h0M471 504.2h0M471 497.9h0M471 503.1h0M471 497.1h0M471.2 504h0M471.2 505.9h0M471.3 507.7h0M471.5 505.4h0M471.5 509.8h0M471.5 509.2h0M471.5 500.5h0M471.5 497.5h0M471.5 505.9h0M471.6 505.6h0M471.6 502.2h0M471.7 501.8h0M471.7 508.6h0M471.7 503.8h0M471.8 501.2h0M471.9 510.7h0M471.9 508.7h0M471.9 502.4h0M472 496.6h0M472 500.2h0M472 497.3h0M472 510.3h0M472.2 511h0M472.2 506.7h0M472.3 511.3h0M472.3 502.3h0M472.4 511h0M472.4 508.7h0M472.5 509.8h0M472.5 509.4h0M472.5 510.3h0M472.6 497.8h0M472.6 505.5h0M472.7 509.6h0M472.7 506.7h0M472.7 503.3h0M472.8 499.4h0M472.9 510.6h0M472.9 510.4h0M472.9 501.2h0M473 499h0M473 508.6h0M473 503.4h0M473 505.7h0M473.1 499.8h0M473.1 498.4h0M473.2 497h0M473.2 503.5h0M473.2 497.5h0M473.2 496.9h0M473.3 502.5h0M473.3 496.7h0M473.3 509.7h0M473.4 508h0M473.4 504.7h0M473.4 508h0M473.4 502.3h0M473.4 499.3h0M473.5 509.6h0M473.5 503.4h0M473.5 507.3h0M473.7 499.2h0M473.8 510.4h0M473.8 511.5h0M473.9 506.4h0M473.9 499.7h0M474 505.9h0M474 503.3h0M474 508.4h0M474.1 502.9h0M474.1 509.2h0M474.1 510.6h0M474.1 504.1h0M474.2 508.7h0M474.2 499.4h0M474.2 504.5h0M474.3 510.1h0M474.3 505.7h0M474.3 505h0M474.3 511.4h0M474.5 507.1h0M474.5 499.5h0M474.6 502.2h0M474.6 510.3h0M474.7 500h0M474.8 504.4h0M474.8 507.4h0M474.8 510.5h0M474.9 507.3h0M474.9 504.6h0M474.9 508.2h0M474.9 511h0M474.9 511.5h0M475 508.5h0M475 506.7h0M475 506.8h0M475.2 506.1h0M475.3 505.3h0M475.3 499.3h0M475.4 506.2h0M475.6 506.1h0M475.7 499.2h0M475.8 505.4h0M475.8 498.1h0M475.9 501.9h0M476 506.9h0M476.1 499.1h0M476.1 500.8h0M476.1 500.2h0M476.2 508.9h0M476.2 505.8h0M476.3 500.5h0M476.4 511.3h0M476.5 507h0M476.6 499.9h0M476.6 510.9h0M476.6 507.2h0M476.8 510.8h0M476.8 503.9h0M476.8 502.4h0M476.8 509.4h0M476.8 505.7h0M476.9 504.9h0M477 504.4h0M477 499.8h0M477 505.4h0M477 505.9h0M477.2 508.6h0M477.2 502.3h0M477.3 508.4h0M477.3 506h0M477.4 498.9h0M477.4 510.6h0M477.6 504.5h0M477.6 500.9h0M477.6 499.7h0M477.6 500.9h0M477.7 505.2h0M477.7 505.8h0M477.7 505.3h0M477.7 500.6h0M477.7 502h0M477.7 501.4h0M477.9 510h0M477.9 511.4h0M478 501.3h0M478.1 503.4h0M478.1 506h0M478.1 510h0M478.2 499h0M478.2 506.1h0M478.3 509.3h0M478.3 500.8h0M478.4 499.8h0M478.4 501.7h0M478.4 506.6h0M478.4 505.9h0M478.4 501.2h0M478.4 504.3h0M478.5 511.4h0M478.6 504.7h0M478.6 501.5h0M478.6 506.6h0M478.7 497.8h0M478.7 511.2h0M478.7 501.9h0M478.7 508.5h0M478.7 509.7h0M478.8 508.3h0M478.8 509.5h0M478.9 504.9h0M478.9 504.1h0M478.9 507.9h0M478.9 500.8h0M479 497.1h0M479 508h0M479.1 511h0M479.1 502.1h0M479.1 497.7h0M479.2 507.6h0M479.2 507.2h0M479.2 510.2h0M479.2 504.5h0M479.3 504.6h0M479.3 501.2h0M479.3 501.4h0M479.5 499.6h0M479.6 503.9h0M479.6 498.8h0M479.6 503h0M479.6 496.3h0M479.7 498.4h0M479.7 506.6h0M479.8 507.1h0M479.8 509.6h0M479.8 507.5h0M479.9 507.2h0M479.9 507.5h0M479.9 505.8h0M480 502.6h0M480 503.8h0M480 505.6h0M480.1 511.3h0M480.1 502.8h0M480.2 503.3h0M480.2 508.7h0M480.3 509.9h0M480.3 511h0M480.4 500.6h0M480.4 511.1h0M480.4 498.2h0M480.4 497.6h0M480.5 510.7h0M480.5 502h0M480.6 496.2h0M480.6 503.7h0M480.7 496.6h0M480.7 505.4h0M480.8 511.4h0M480.8 511.3h0M480.8 506.5h0M480.9 505.7h0M480.9 511.6h0M480.9 510.7h0M481 498.4h0M481 496h0M481 501.9h0M481 506.4h0M481 497.4h0M481.1 506.5h0M481.2 506h0M481.2 510.9h0M481.2 500.9h0M481.2 505.2h0M481.2 504.9h0M481.2 508.7h0M481.3 511.5h0M481.3 499.3h0M481.3 504.4h0M481.4 510.5h0M481.4 497.2h0M481.4 501.2h0M481.5 500h0M481.5 501.2h0M481.5 483.8h0M481.5 497.9h0M481.5 508.1h0M481.5 507.1h0M481.5 510.3h0M481.5 498.3h0M481.5 496h0M481.5 506.7h0M481.6 509.3h0M481.6 484.4h0M481.6 510.8h0M481.7 510.1h0M481.7 486.4h0M481.7 504.7h0M481.7 499.7h0M481.7 508.1h0M481.8 511.3h0M481.8 510.4h0M481.8 484.8h0M481.8 482h0M481.8 453.6h0M481.8 488.8h0M481.8 501.2h0M481.8 500h0M481.9 496.8h0M481.9 505.9h0M481.9 500.9h0M481.9 499.6h0M481.9 482.2h0M481.9 485.2h0M481.9 486.3h0M481.9 487.2h0M481.9 492.9h0M481.9 498.5h0M481.9 489.5h0M482 508.1h0M482 443.1h0M482 510h0M482 481.4h0M482 492.8h0M482.1 493.3h0M482.1 485.1h0M482.1 509.7h0M482.1 484.3h0M482.2 482.2h0M482.2 503.8h0M482.2 490.6h0M482.2 492.3h0M482.2 501.7h0M482.3 487h0M482.3 481.6h0M482.3 495h0M482.3 509.4h0M482.3 479.2h0M482.3 485.3h0M482.3 498.3h0M482.3 503.6h0M482.4 501.6h0M482.4 493.5h0M482.4 511h0M482.4 482.3h0M482.5 486.3h0M482.5 490.5h0M482.5 504.6h0M482.5 494.1h0M482.6 507.8h0M482.6 489h0M482.6 486.4h0M482.7 485.4h0M482.7 482.2h0M482.7 496.8h0M482.7 498.7h0M482.7 483.9h0M482.7 490h0M482.8 503.5h0M482.8 489.4h0M482.8 506.5h0M482.8 510.3h0M482.8 496.8h0M482.8 494.6h0M482.8 508.6h0M482.9 485.5h0M482.9 506.5h0M482.9 491.6h0M482.9 493.7h0M482.9 497.4h0M482.9 485.7h0M483 482.7h0M483 504.8h0M483 505h0M483 488.2h0M483.1 489.7h0M483.1 510.6h0M483.1 495.1h0M483.1 488.7h0M483.1 502.4h0M483.1 511h0M483.1 459.6h0M483.1 490.9h0M483.2 510.6h0M483.2 483.7h0M483.2 498.4h0M483.2 509.5h0M483.3 508.8h0M483.3 506.3h0M483.3 505.5h0M483.3 498.3h0M483.3 488.2h0M483.4 488h0M483.4 485.6h0M483.4 505.2h0M483.5 504.3h0M483.5 485.7h0M483.5 509.8h0M483.6 482.8h0M483.6 504.7h0M483.6 497.6h0M483.6 510.8h0M483.6 496h0M483.6 493.5h0M483.6 507.8h0M483.6 493.1h0M483.6 500.9h0M483.7 495.4h0M483.7 484.6h0M483.7 482.4h0M483.7 490.7h0M483.7 508.2h0M483.7 447.7h0M483.7 496.4h0M483.7 501.5h0M483.8 491h0M483.8 508.6h0M483.8 494.9h0M483.8 499.1h0M483.8 505.8h0M483.9 507.1h0M483.9 492.6h0M483.9 487.5h0M483.9 508h0M484 494.8h0M484 493.2h0M484 492.8h0M484 501.8h0M484 505h0M484 502.2h0M484 491h0M484 501.7h0M484 501.2h0M484 498.7h0M484 501.2h0M484 506.6h0M484 496.4h0M484.1 510.4h0M484.1 497.5h0M484.1 505.4h0M484.1 487.6h0M484.2 505.4h0M484.2 466.4h0M484.2 491.6h0M484.2 503.4h0M484.2 491.3h0M484.2 509.4h0M484.3 510.3h0M484.3 466.5h0M484.4 487.5h0M484.4 507.7h0M484.4 505.4h0M484.5 503.9h0M484.5 490.6h0M484.5 500.8h0M484.5 502.3h0M484.6 506.4h0M484.6 485.6h0M484.6 494.5h0M484.6 501h0M484.6 501.9h0M484.6 506.7h0M484.6 494.1h0M484.6 506.8h0M484.6 494.7h0M484.6 504.3h0M484.7 505.5h0M484.7 502.8h0M484.7 497.4h0M484.7 496h0M484.7 486.3h0M484.8 489.6h0M484.8 495.3h0M484.8 500.8h0M484.8 510.2h0M484.8 492.7h0M484.9 488.7h0M484.9 487.1h0M484.9 499.2h0M484.9 500.2h0M484.9 423.8h0M484.9 490.4h0M484.9 511.5h0M485 484.3h0M485 504.2h0M485 499.5h0M485 510h0M485 509.6h0M485 490.1h0M485 482.2h0M485 482.3h0M485.1 492.1h0M485.1 497.5h0M485.1 499.2h0M485.1 487.3h0M485.1 495.8h0M485.1 501.8h0M485.1 471.3h0M485.2 494.1h0M485.2 499.6h0M485.2 507.5h0M485.2 481.6h0M485.2 491.6h0M485.3 492.3h0M485.3 511.3h0M485.3 500.9h0M485.3 492.5h0M485.3 442.2h0M485.3 483.3h0M485.3 484h0M485.4 506h0M485.4 481.6h0M485.4 506.1h0M485.4 507.2h0M485.4 493.9h0M485.4 453.7h0M485.4 491.8h0M485.4 481.6h0M485.5 487.3h0M485.5 490.4h0M485.5 504.1h0M485.5 510.7h0M485.6 494.7h0M485.6 508.1h0M485.6 500.8h0M485.6 497.7h0M485.7 485h0M485.7 465.8h0M485.7 506.2h0M485.7 506.9h0M485.7 502.7h0M485.8 503.8h0M485.8 462.2h0M485.8 490.2h0M485.8 510.1h0M485.8 498.7h0M485.9 506.5h0M485.9 499.9h0M485.9 484.1h0M485.9 497.2h0M485.9 481.3h0M485.9 492h0M485.9 506.6h0M485.9 510.3h0M485.9 506.4h0M485.9 482.3h0M485.9 506.3h0M486 504.7h0M486 496.8h0M486 507.8h0M486.1 508.1h0M486.1 495.9h0M486.1 478.8h0M486.1 489.2h0M486.1 502.8h0M486.1 511.2h0M486.2 506.9h0M486.2 488.1h0M486.2 502.1h0M486.2 485h0M486.2 486.2h0M486.2 505.4h0M486.2 491.1h0M486.2 499.1h0M486.2 502.2h0M486.2 489.8h0M486.3 459.9h0M486.3 507h0M486.3 511.3h0M486.3 485.6h0M486.3 476h0M486.3 489.4h0M486.4 505.4h0M486.4 483h0M486.4 506.7h0M486.4 487h0M486.4 501h0M486.4 506.2h0M486.4 507.9h0M486.5 507.3h0M486.5 502.5h0M486.5 488.7h0M486.5 503.8h0M486.5 510.7h0M486.5 503.6h0M486.6 502.5h0M486.6 501.6h0M486.6 497.7h0M486.6 483.6h0M486.6 482.7h0M486.6 507.9h0M486.6 494.8h0M486.6 505.5h0M486.7 487.6h0M486.7 509.8h0M486.7 509.4h0M486.7 506.9h0M486.7 507.1h0M486.7 485.4h0M486.8 489.5h0M486.8 481.6h0M486.8 489.7h0M486.8 507.3h0M486.8 506.7h0M486.8 484.4h0M486.8 483.6h0M486.9 503.5h0M486.9 472.9h0M486.9 509.3h0M486.9 497.3h0M486.9 510.3h0M486.9 502h0M486.9 497.9h0M486.9 511.2h0M487 509.7h0M487 490.4h0M487 491.6h0M487 486.6h0M487 489.4h0M487 474.7h0M487 509.1h0M487 502.3h0M487.1 509.1h0M487.1 485.8h0M487.2 494.4h0M487.2 511h0M487.2 486.4h0M487.2 489.3h0M487.2 502.1h0M487.3 507.8h0M487.3 508.2h0M487.3 490.7h0M487.3 500.2h0M487.3 506.2h0M487.3 495.2h0M487.4 484.1h0M487.4 500.6h0M487.4 499.5h0M487.5 501.1h0M487.5 439.7h0M487.5 498.3h0M487.6 492.2h0M487.6 493h0M487.6 503.6h0M487.6 497.3h0M487.7 504.7h0M487.7 493.2h0M487.7 501.6h0M487.7 495.6h0M487.7 482.1h0M487.8 495.9h0M487.8 498.5h0M487.8 511h0M487.9 401.9h0M487.9 492.7h0M487.9 493.2h0M488 507.9h0M488 502.5h0M488 502.5h0M488 487.1h0M488 502.4h0M488.1 456.8h0M488.1 510h0M488.1 507.2h0M488.1 492.3h0M488.1 508.7h0M488.1 493.8h0M488.1 493.3h0M488.1 472.9h0M488.1 498.4h0M488.1 498.8h0M488.1 487.2h0M488.1 492.5h0M488.1 510.7h0M488.2 484h0M488.2 487.8h0M488.2 475.3h0M488.2 493.6h0M488.2 504.8h0M488.2 484.9h0M488.2 492.9h0M488.2 492.1h0M488.3 482.7h0M488.3 482h0M488.3 487.3h0M488.3 485.5h0M488.3 510.9h0M488.3 504.2h0M488.4 509.9h0M488.4 504.3h0M488.4 494.2h0M488.4 500.1h0M488.4 492.5h0M488.4 510.9h0M488.4 506h0M488.5 477.2h0M488.5 481.7h0M488.5 482.3h0M488.5 489.3h0M488.5 483.3h0M488.5 499h0M488.5 504h0M488.5 506.3h0M488.5 473.1h0M488.5 499.9h0M488.5 484.2h0M488.5 508.3h0M488.6 492.6h0M488.6 487.5h0M488.6 499.4h0M488.6 498h0M488.6 483.3h0M488.6 498.1h0M488.6 496.8h0M488.6 477.1h0M488.6 502.1h0M488.6 489.4h0M488.7 493.2h0M488.7 483.9h0M488.7 509h0M488.8 509.8h0M488.8 505.7h0M488.8 488h0M488.8 510.5h0M488.8 493.1h0M488.8 486.3h0M488.9 506.4h0M488.9 501.8h0M488.9 506.1h0M488.9 478.1h0M489 501.9h0M489 511.2h0M489 499.3h0M489 484h0M489 481.8h0M489 499.1h0M489 511.2h0M489.1 468.8h0M489.1 485h0M489.1 499.7h0M489.1 500.4h0M489.1 458.8h0M489.1 497.6h0M489.1 494.6h0M489.1 502h0M489.2 499.5h0M489.2 489.7h0M489.2 486.8h0M489.2 499.6h0M489.3 490.2h0M489.3 506.4h0M489.3 508.1h0M489.3 491.6h0M489.3 484.6h0M489.3 496.8h0M489.3 496.4h0M489.3 510.5h0M489.3 498.6h0M489.4 499.4h0M489.4 507.5h0M489.4 486.2h0M489.4 511h0M489.4 499.7h0M489.4 511h0M489.5 485.9h0M489.5 496.4h0M489.5 489.2h0M489.5 508.3h0M489.6 505.1h0M489.6 473.3h0M489.6 499.9h0M489.6 483.1h0M489.6 484.9h0M489.6 504.4h0M489.6 510.5h0M489.6 508.6h0M489.7 487.1h0M489.7 501.6h0M489.7 504.8h0M489.7 504.8h0M489.7 490.6h0M489.7 496h0M489.7 485.6h0M489.8 509h0M489.9 509.6h0M489.9 489.7h0M489.9 510h0M489.9 506.2h0M489.9 506.9h0M489.9 501.5h0M490 495.8h0M490 509.8h0M490 504.2h0M490 488h0M490.1 504.1h0M490.1 505.2h0M490.1 500.3h0M490.1 504.3h0M490.1 504.8h0M490.1 496.2h0M490.2 506.2h0M490.2 500.9h0M490.2 497.4h0M490.2 493.6h0M490.2 506.5h0M490.3 510.3h0M490.3 498.4h0M490.3 496.9h0M490.3 497.1h0M490.3 508.7h0M490.3 507.9h0M490.3 504.2h0M490.3 497.4h0M490.3 508.4h0M490.3 501.2h0M490.4 499.8h0M490.4 508.2h0M490.4 509.2h0M490.4 510.3h0M490.4 509.7h0M490.4 489.8h0M490.4 493.7h0M490.4 485.5h0M490.4 492.6h0M490.4 503h0M490.4 484.7h0M490.4 495.7h0M490.5 503.5h0M490.5 507.1h0M490.5 503.7h0M490.5 484.7h0M490.5 497.6h0M490.6 497.1h0M490.6 491.6h0M490.6 484.1h0M490.6 501.3h0M490.6 483h0M490.6 503.6h0M490.6 501.8h0M490.7 482.7h0M490.7 490h0M490.8 491.5h0M490.9 504.7h0M490.9 484.5h0M490.9 509.4h0M490.9 488.8h0M491 490.9h0M491 492.1h0M491 505.8h0M491 487.1h0M491.1 482.2h0M491.1 492.2h0M491.1 504.2h0M491.1 495.4h0M491.2 499h0M491.2 511.4h0M491.2 492.8h0M491.3 505.4h0M491.3 488.7h0M491.3 503.9h0M491.3 484.1h0M491.3 490.7h0M491.3 508.7h0M491.3 497.9h0M491.4 508.3h0M491.5 490.1h0M491.5 497.1h0M491.6 484.7h0M491.6 502.8h0M491.6 497.4h0M491.6 502.8h0M491.7 500.2h0M491.8 490h0M491.8 506.1h0M491.8 507.9h0M491.9 482h0M491.9 497.7h0M491.9 496.9h0M491.9 505.4h0M491.9 509.5h0M492 490.9h0M492 500.8h0M492.1 481.6h0M492.1 485.6h0M492.1 494.3h0M492.2 490.6h0M492.2 497.6h0M492.3 502.9h0M492.3 485.3h0M492.3 501.2h0M492.3 488.6h0M492.4 483.1h0M492.4 487.3h0M492.5 502.9h0M492.5 486.2h0M492.6 485.3h0M492.6 482h0M492.6 490.5h0M492.6 486.3h0M492.6 491.3h0M492.6 487.5h0M492.7 497.7h0M492.7 504.9h0M492.8 496h0M492.8 510.8h0M492.8 494.1h0M492.8 509.7h0M492.8 488.1h0M492.9 484.1h0M492.9 502.5h0M492.9 494.4h0M492.9 506.8h0M492.9 481.7h0M492.9 481.7h0M492.9 489h0M492.9 498.2h0M493 501.3h0M493 507.3h0M493 508.8h0M493.1 491.1h0M493.1 496.2h0M493.1 485.7h0M493.1 498.9h0M493.1 509.5h0M493.1 503.9h0M493.2 500.3h0M493.2 507.1h0M493.2 485h0M493.3 509.4h0M493.3 494.2h0M493.4 509.6h0M493.4 509.2h0M493.4 502.6h0M493.5 483.5h0M493.5 494.8h0M493.5 481.4h0M493.5 505.6h0M493.5 490.8h0M493.5 482.7h0M493.6 509.5h0M493.7 490.7h0M493.7 487.6h0M493.7 497.9h0M493.7 504.9h0M493.8 498.4h0M493.8 507h0M493.8 500.6h0M493.8 488.9h0M494 507.8h0M494 494.9h0M494 490.2h0M494 492.4h0M494 484.5h0M494 488.7h0M494 483.4h0M494.1 511.2h0M494.1 486.3h0M494.1 507.1h0M494.2 505h0M494.2 496.2h0M494.2 488.6h0M494.2 482.8h0M494.3 507.6h0M494.3 511h0M494.3 485.1h0M494.3 488.4h0M494.3 510.3h0M494.4 506.5h0M494.4 493.2h0M494.5 490.8h0M494.5 509.1h0M494.5 483.5h0M494.5 501h0M494.6 486.5h0M494.6 497.5h0M494.7 511.5h0M494.7 482h0M494.7 489.1h0M494.7 499.8h0M494.7 492.7h0M494.7 494.9h0M494.7 481.8h0M494.8 502.8h0M494.8 498.1h0M494.8 485h0M494.8 490.3h0M494.9 486.1h0M494.9 494.6h0M494.9 496.2h0M495 496.6h0M495 482.5h0M495 495h0M495 490.6h0M495.1 504h0M495.1 497.2h0M495.1 498h0M495.1 509.6h0M495.1 510.6h0M495.2 482.1h0M495.3 505.6h0M495.3 482.1h0M495.3 493.5h0M495.3 492.3h0M495.3 487.5h0M495.3 501.2h0M495.4 502.2h0M495.4 507.6h0M495.4 510.9h0M495.5 504.2h0M495.5 483.2h0M495.5 483.4h0M495.5 498.9h0M495.5 499.3h0M495.6 503h0M495.6 485.9h0M495.6 511.6h0M495.6 494.6h0M495.6 494.2h0M495.6 510.5h0M495.7 505.7h0M495.7 492.8h0M495.7 491.8h0M495.8 510.8h0M495.8 506.5h0M495.8 508.8h0M495.8 496h0M495.9 487.3h0M495.9 507h0M495.9 482.6h0M495.9 491.3h0M495.9 510.2h0M496 500.3h0M496 496.6h0M496.1 499.1h0M496.1 496.4h0M496.1 489.4h0M496.1 507.8h0M496.2 491.7h0M496.2 489h0M496.2 501.9h0M496.3 489.2h0M496.3 490.9h0M496.3 493.7h0M496.3 510.5h0M496.4 482.4h0M496.4 504.9h0M496.4 502.6h0M496.5 485.4h0M496.5 504.2h0M496.5 503.6h0M496.6 504.1h0M496.6 506.5h0M496.6 506.6h0M496.6 484h0M496.6 494.3h0M496.6 488.6h0M496.7 501.7h0M496.7 488.5h0M496.7 501.4h0M496.8 492.3h0M496.9 484h0M496.9 485.6h0M497 496.1h0M497 503.4h0M497 500.4h0M497 504.9h0M497.1 487.9h0M497.1 502.2h0M497.1 481.7h0M497.2 505.1h0M497.2 482.7h0M497.2 510.7h0M497.2 482.3h0M497.3 500.1h0M497.3 490.9h0M497.3 490.5h0M497.3 486.7h0M497.4 495.2h0M497.4 496.2h0M497.4 508h0M497.4 489.9h0M497.4 503.8h0M497.5 500.7h0M497.5 510.4h0M497.5 498.7h0M497.5 482.1h0M497.5 491.1h0M497.6 508.1h0M497.6 501.4h0M497.6 481.5h0M497.6 499.1h0M497.6 500.7h0M497.6 508.1h0M497.7 499.9h0M497.7 499.6h0M497.7 499.2h0M497.7 482.8h0M497.7 492.6h0M497.8 509.6h0M497.8 502.2h0M497.9 485.7h0M497.9 482.3h0M497.9 507h0M498 502.6h0M498 484.2h0M498 504.5h0M498 508h0M498 503.8h0M498.1 497.5h0M498.1 482.2h0M498.2 511.1h0M498.2 504.5h0M498.2 507.9h0M498.2 502.2h0M498.3 502.7h0M498.3 504.5h0M498.3 486.6h0M498.4 492.1h0M498.4 501.5h0M498.4 504.3h0M498.4 494.9h0M498.4 502.4h0M498.4 488.8h0M498.4 506.7h0M498.4 506.6h0M498.4 493.5h0M498.5 496.5h0M498.5 497.1h0M498.5 507.8h0M498.5 501h0M498.6 503.8h0M498.6 507.6h0M498.7 504h0M498.7 501.3h0M498.8 489.1h0M498.8 495h0M498.8 481.5h0M498.8 498.6h0M498.8 505.8h0M498.9 490.8h0M498.9 484.7h0M498.9 506.3h0M498.9 501.4h0M499 505.5h0M499 507.7h0M499 504.2h0M499 489.2h0M499 509.7h0M499 490h0M499 506h0M499.1 501h0M499.1 500.5h0M499.1 500.2h0M499.1 508h0M499.1 491h0M499.1 508.8h0M499.1 508.5h0M499.2 501.9h0M499.2 511h0M499.2 490.1h0M499.2 506.5h0M499.3 506.8h0M499.3 485.7h0M499.3 500.8h0M499.4 508.8h0M499.4 489.3h0M499.4 506.3h0M499.4 508.1h0M499.5 495.1h0M499.5 509.3h0M499.5 493.2h0M499.5 486.4h0M499.6 491.8h0M499.7 487.2h0M499.8 487h0M499.8 496.7h0M499.8 484.5h0M499.9 508.4h0M499.9 506.4h0M499.9 488.4h0M499.9 488.8h0M500 501.3h0M500 491.6h0M500 490.8h0M500 502.6h0M500 498.1h0M500 494.7h0M500 486.9h0M500 484.4h0M500.1 507.2h0M500.1 493.4h0M500.2 500.9h0M500.2 484.9h0M500.2 503.7h0M500.2 483.5h0M500.3 481.6h0M500.3 485.5h0M500.3 484.4h0M500.3 485.1h0M500.4 501.6h0M500.4 487.5h0M500.4 505.5h0M500.5 492.2h0M500.5 496.6h0M500.6 496.7h0M500.6 490h0M500.7 487.8h0M500.7 484.6h0M500.7 506.6h0M500.8 503.3h0M500.8 505.4h0M500.8 502.9h0M500.8 485.2h0M500.9 493.6h0M500.9 484.2h0M500.9 503.2h0M500.9 482.9h0M501 494.3h0M501 498.1h0M501 494h0M501.1 483.7h0M501.1 481.6h0M501.1 502.7h0M501.1 506.3h0M501.2 494.6h0M501.2 491.6h0M501.2 500.5h0M501.3 492h0M501.3 488.5h0M501.3 502.3h0M501.3 489.6h0M501.3 483.6h0M501.4 498.2h0M501.4 506.5h0M501.5 498.4h0M501.5 504.9h0M501.5 485.8h0M501.6 489.4h0M501.6 499.9h0M501.6 502.5h0M501.7 496h0M501.7 507.8h0M501.7 504.1h0M501.7 487.7h0M501.8 506.6h0M501.8 494.5h0M501.8 510.9h0M501.9 484h0M501.9 507.3h0M501.9 487.4h0M501.9 488.3h0M502 508.3h0M502 502.1h0M502 502.1h0M502 496.3h0M502.1 494.5h0M502.1 486.3h0M502.1 487.3h0M502.1 494h0M502.2 509.3h0M502.2 492.5h0M502.2 498.5h0M502.4 492.9h0M502.4 489.9h0M502.5 482.8h0M502.5 494.3h0M502.5 504h0M502.5 497.8h0M502.6 490.3h0M502.6 496h0M502.6 505.4h0M502.6 486.6h0M502.7 504h0M502.7 490.2h0M502.7 501.1h0M502.7 492.9h0M502.7 504.1h0M502.7 491.3h0M502.7 499.5h0M502.8 490.3h0M502.8 481.6h0M502.9 491.3h0M502.9 482h0M502.9 507.6h0M502.9 503.2h0M502.9 498.5h0M502.9 495.8h0M502.9 504.2h0M503 493.6h0M503 490.9h0M503 510.2h0M503.1 504.9h0M503.1 510.3h0M503.1 510.1h0M503.1 483.3h0M503.2 483.7h0M503.2 507.9h0M503.3 484.4h0M503.3 484.2h0M503.3 505.9h0M503.3 498.4h0M503.3 502.8h0M503.3 483.8h0M503.4 501.3h0M503.4 502.5h0M503.4 506.7h0M503.4 486.5h0M503.4 498.6h0M503.4 482.8h0M503.4 508.1h0M503.4 494.6h0M503.4 498.6h0M503.5 504.7h0M503.5 508.2h0M503.5 503.7h0M503.6 499.9h0M503.6 492h0M503.7 481.9h0M503.7 488h0M503.8 485.2h0M503.8 502.7h0M503.8 487.7h0M503.8 488.6h0M503.9 489.7h0M503.9 507.4h0M503.9 509.2h0M503.9 508.7h0M503.9 484.3h0M504 484.5h0M504 486.7h0M504.2 497.5h0M504.2 493.2h0M504.2 485.2h0M504.3 502.4h0M504.3 506.4h0M504.3 490.1h0M504.3 486.5h0M504.4 496.9h0M504.4 493.9h0M504.4 491.4h0M504.5 483.1h0M504.5 503.2h0M504.5 500.8h0M504.5 492h0M504.5 510.9h0M504.5 495h0M504.6 493.9h0M504.6 484.5h0M504.6 504.8h0M504.6 492.1h0M504.6 483.8h0M504.6 489.5h0M504.6 502.3h0M504.8 494.9h0M504.9 484h0M504.9 490h0M505 509.1h0M505 482.6h0M505 507.7h0M505.1 508.3h0M505.1 492.3h0M505.1 498.9h0M505.2 493.3h0M505.2 494.3h0M505.2 487.8h0M505.2 510.3h0M505.3 511.3h0M505.4 509.9h0M505.4 505.4h0M505.4 487h0M505.4 498.9h0M505.5 485.9h0M505.5 508.1h0M505.6 492.7h0M505.6 482h0M505.6 510.1h0M505.7 506.9h0M505.7 490.2h0M505.7 485.2h0M505.7 494.8h0M505.7 496h0M505.7 490.5h0M505.8 495.1h0M505.8 502.1h0M505.9 485.9h0M505.9 500.8h0M505.9 481.4h0M505.9 486.8h0M506 490.5h0M506 507.9h0M506 500h0M506 490.3h0M506 511.5h0M506.1 481.8h0M506.1 511.4h0M506.2 496.3h0M506.2 502.3h0M506.2 509.9h0M506.2 490.9h0M506.2 490.4h0M506.3 489h0M506.3 484.1h0M506.4 502.8h0M506.4 503h0M506.5 487h0M506.6 487h0M506.6 504.9h0M506.6 505.8h0M506.6 493.7h0M506.7 508.8h0M506.7 496.2h0M506.8 502.4h0M506.8 490.8h0M506.8 484.5h0M506.8 505.7h0M506.8 484.3h0M506.9 497.9h0M506.9 493.5h0M506.9 504.1h0M506.9 482.8h0M507 495h0M507 496.1h0M507 490.5h0M507 504h0M507.1 491.3h0M507.1 503.3h0M507.1 500.4h0M507.1 510.2h0M507.1 498h0M507.1 504.3h0M507.2 499.8h0M507.3 503.9h0M507.3 507.9h0M507.3 496.8h0M507.3 496.8h0M507.3 484.5h0M507.3 501.8h0M507.3 492h0M507.3 511.2h0M507.4 494h0M507.4 500.9h0M507.4 498h0M507.4 504.4h0M507.4 500.8h0M507.4 502.4h0M507.5 503h0M507.5 493.4h0M507.5 501.9h0M507.5 507h0M507.6 495.3h0M507.6 510.6h0M507.6 502.5h0M507.6 485.5h0M507.7 496.9h0M507.7 501.1h0M507.7 499.2h0M507.7 505.1h0M507.7 485.7h0M507.9 509.8h0M507.9 489.1h0M507.9 481.4h0M507.9 486.5h0M507.9 500.8h0M507.9 505h0M508 501.3h0M508.1 503h0M508.1 503.9h0M508.1 511.2h0M508.1 496.4h0M508.2 491.4h0M508.2 502.7h0M508.3 505.6h0M508.3 494.3h0M508.3 509.8h0M508.4 485.5h0M508.4 482.1h0M508.5 487.5h0M508.5 491.3h0M508.5 485.3h0M508.5 509.1h0M508.5 504.9h0M508.6 482.7h0M508.6 490.7h0M508.6 496.2h0M508.6 495h0M508.6 506.7h0M508.6 502.8h0M508.6 491.9h0M508.7 507.7h0M508.7 507h0M508.7 503.3h0M508.7 509.2h0M508.8 506.1h0M508.8 501.9h0M508.8 493.9h0M508.8 487.7h0M508.9 509.5h0M508.9 494.9h0M509 507.9h0M509 500.6h0M509 496h0M509 497.1h0M509.1 493.7h0M509.1 508.6h0M509.1 485.7h0M509.2 486.8h0M509.2 503h0M509.2 502.8h0M509.2 500.2h0M509.2 508.9h0M509.3 510.5h0M509.3 496.9h0M509.3 495.1h0M509.3 505h0M509.3 511.5h0M509.3 503.4h0M509.4 510.6h0M509.4 492.4h0M509.4 486h0M509.5 506h0M509.5 484.2h0M509.5 493.4h0M509.5 500.4h0M509.5 500.7h0M509.5 508.6h0M509.5 485.5h0M509.6 502.7h0M509.6 495h0M509.6 490.3h0M509.6 498.5h0M509.6 486.8h0M509.6 482.4h0M509.8 485.2h0M509.8 505.4h0M509.8 485.1h0M509.8 502.2h0M509.8 505.6h0M509.8 483.4h0M509.8 501.8h0M509.8 493.2h0M509.9 503.2h0M510 494.7h0M510.1 485.9h0M510.2 490h0M510.2 499.2h0M510.2 495h0M510.2 502.9h0M510.2 499.3h0M510.3 485.8h0M510.3 497.9h0M510.3 496.5h0M510.3 487.9h0M510.3 484.7h0M510.4 503.7h0M510.4 508h0M510.4 502.1h0M510.5 506.9h0M510.6 482.1h0M510.6 508.3h0M510.7 491.8h0M510.7 510.5h0M510.7 486.7h0M510.8 503.3h0M510.9 487.1h0M510.9 507.2h0M510.9 493.3h0M511 485.4h0M511 494.9h0M511 486.7h0M511.1 491.4h0M511.1 492.4h0M511.1 485.5h0M511.2 509.9h0M511.2 504.5h0M511.3 502.2h0M511.3 510h0M511.3 485.3h0M511.3 497.3h0M511.4 507.5h0M511.4 498.6h0M511.4 494.4h0M511.7 501h0M511.7 509.1h0M511.7 503.7h0M511.8 487.7h0M511.8 506.4h0M511.8 488.4h0M511.9 505.6h0M511.9 497.8h0M511.9 496.8h0M511.9 486.4h0M512 487.9h0M512 495.1h0M512 505.3h0M512.1 488.6h0M512.1 503.4h0M512.1 488.2h0M512.1 507.9h0M512.2 485.6h0M512.2 487.4h0M512.2 495.5h0M512.3 495.9h0M512.4 500.1h0M512.4 490.7h0M512.5 487.7h0M512.5 504h0M512.6 509.9h0M512.7 497h0M512.8 505.5h0M512.8 496.2h0M512.9 492.1h0M512.9 509.7h0M512.9 501.6h0M512.9 493.8h0M512.9 505.5h0M512.9 484.5h0M512.9 489.2h0M513 503.4h0M513 497.7h0M513 509.2h0M513 481.3h0M513.1 494.3h0M513.1 496.7h0M513.1 488.8h0M513.2 495.4h0M513.2 491.4h0M513.2 484.6h0M513.2 481.8h0M513.2 491.8h0M513.3 491.8h0M513.3 491h0M513.4 500.6h0M513.4 483h0M513.4 489.6h0M513.4 487.1h0M513.5 490h0M513.5 492.9h0M513.6 498.9h0M513.6 491.2h0M513.7 506.3h0M513.7 498.6h0M513.8 489.7h0M513.8 491.3h0M513.9 484.6h0M513.9 500.3h0M513.9 509.4h0M514 500.2h0M514.1 495.5h0M514.1 493.4h0M514.2 499.4h0M514.3 501.5h0M514.3 507.3h0M514.3 492.9h0M514.4 491.9h0M514.5 488.4h0M514.6 492.6h0M514.6 489.5h0M514.6 504.6h0M514.7 495.1h0M514.7 503.2h0M514.7 497.9h0M514.7 487.2h0M514.9 487h0M514.9 485.5h0M514.9 504.4h0M514.9 508.2h0M515 501.8h0M515 502.9h0M515.1 499.9h0M515.1 495.7h0M515.2 503h0M515.2 505.8h0M515.3 492.1h0M515.3 490.9h0M515.3 494.1h0M515.3 493.3h0M515.3 500.7h0M515.3 503.3h0M515.4 490.9h0M515.4 491.3h0M515.4 483.5h0M515.4 509.1h0M515.5 501.6h0M515.6 482.5h0M515.6 500.9h0M515.7 504.6h0M515.7 504.7h0M515.7 488h0M515.7 499.9h0M515.8 504.3h0M515.8 483.9h0M515.9 494.8h0M515.9 493.3h0M515.9 493.8h0M516 499.2h0M516 482.1h0M516.1 486.4h0M516.1 487.9h0M516.1 483.5h0M516.2 493.1h0M516.2 485.8h0M516.2 499.8h0M516.2 509.9h0M516.4 482h0M516.5 493.5h0M516.5 485.6h0M516.5 505.1h0M516.5 496.8h0M516.6 491.7h0M516.7 481.8h0M516.7 506.3h0M516.7 482.1h0M516.8 495.4h0M516.9 487.8h0M516.9 482.4h0M516.9 485.7h0M516.9 499.2h0M516.9 485.4h0M516.9 500h0M517 501.3h0M517.2 484.9h0M517.2 509.9h0M517.4 486.5h0M517.5 484.5h0M517.6 481.3h0M517.6 491.6h0M517.6 492.1h0M517.6 501.8h0M517.6 506.5h0M517.7 487.7h0M517.7 493.6h0M517.7 504h0M517.8 495.2h0M517.8 496.7h0M517.8 482.3h0M517.8 493.4h0M517.8 500.4h0M517.9 506.5h0M517.9 493h0M517.9 501.3h0M517.9 492.5h0M517.9 499.7h0M517.9 493h0M517.9 504.9h0M518 496.9h0M518 486.1h0M518.1 492.3h0M518.1 502.3h0M518.2 505.7h0M518.3 486.3h0M518.3 484.8h0M518.3 483.5h0M518.3 508.4h0M518.4 508.2h0M518.4 490.6h0M518.5 500.8h0M518.6 484.8h0M518.6 499.7h0M518.6 486.9h0M518.7 485.1h0M518.7 508.4h0M518.7 500.5h0M518.7 508.8h0M518.8 489.9h0M518.8 492.7h0M518.8 490.9h0M518.8 492.1h0M518.9 493h0M519 503.3h0M519 489.7h0M519 485.6h0M519 490.6h0M519.2 503.6h0M519.2 500.5h0M519.3 486.9h0M519.5 498.9h0M519.5 504.6h0M519.7 492.2h0M519.7 507.3h0M519.9 483.8h0M519.9 495.6h0M520 496.6h0M520 492.2h0M520.1 508.6h0M520.1 509h0M520.1 487.9h0M520.2 490.1h0M520.2 482.4h0M520.2 487.5h0M520.3 488.9h0M520.4 499.2h0M520.5 483.6h0M520.5 502.2h0M520.6 488.5h0M520.6 488.3h0M520.6 486.4h0M520.7 504.5h0M520.8 505.3h0M520.8 508.1h0M520.8 484.9h0M520.9 495.4h0M520.9 482.1h0M520.9 498h0M521 503.5h0M521 500.9h0M521.2 501.6h0M521.2 489.9h0M521.4 491.8h0M521.4 488.6h0M521.5 484.6h0M521.5 506.5h0M521.5 482.3h0M521.7 499.7h0M521.7 489.2h0M521.8 499h0M521.8 484.5h0M521.8 487.3h0M521.9 485.7h0M521.9 491.8h0M522 484.6h0M522.2 505.5h0M522.2 498.7h0M522.2 487.5h0M522.2 491.4h0M522.3 496.8h0M522.3 501.5h0M522.3 483h0M522.3 494.1h0M522.4 496.8h0M522.4 485h0M522.4 504.2h0M522.6 491.3h0M522.7 497.6h0M522.7 505.9h0M522.8 491.7h0M523 501.9h0M523.1 482.9h0M523.1 492.8h0M523.3 497.5h0M523.3 507.4h0M523.3 495.9h0M523.3 492.3h0M523.3 502.7h0M523.3 493h0M523.5 490.4h0M523.6 490.2h0M523.6 493.2h0M523.6 499.4h0M523.6 502.6h0M524 487.3h0M524 505.9h0M524 492.4h0M524.1 481.5h0M524.2 508.6h0M524.3 496h0M524.3 487.3h0M524.4 485.1h0M524.6 507.8h0M524.7 484.2h0M524.7 494.2h0M524.8 503.9h0M525 481.7h0M525.1 485.9h0M525.1 494.2h0M525.1 504.1h0M525.2 497.8h0M525.2 502.1h0M525.3 482.5h0M525.4 498.9h0M525.4 485.2h0M525.6 490.8h0M525.7 498.3h0M525.7 496.7h0M525.8 488.2h0M525.9 494.8h0M525.9 490.5h0M525.9 507.6h0M525.9 483.5h0M526 497.1h0M526.1 483.1h0M526.1 503.7h0M526.2 496.2h0M526.3 505h0M526.4 495.7h0M526.4 500.5h0M526.4 485.2h0M526.5 485.4h0M526.6 484.1h0M526.6 494h0M526.6 506.4h0M526.6 483.7h0M526.7 482.1h0M526.8 502.5h0M526.8 487.5h0M526.8 491.3h0M526.8 486.3h0M526.8 485.1h0M526.9 506h0M527 485.8h0M527.1 495.9h0M527.1 504.5h0M527.1 502.9h0M527.2 505.3h0M527.5 483.3h0M527.5 497.7h0M527.6 492h0M527.7 499.8h0M527.7 496.3h0M527.9 492.1h0M528 492.2h0M528.1 499.7h0M528.1 500.5h0M528.1 484.2h0M528.4 489.5h0M528.5 489.7h0M528.5 494.4h0M528.8 482.8h0M528.9 502.6h0M529 498.6h0M529 492.2h0M529.1 494.4h0M529.1 501.9h0M529.2 505.3h0M529.2 502.7h0M529.4 482.7h0M529.5 486.5h0M529.7 487.8h0M529.9 490.5h0M529.9 502h0M529.9 483.2h0M529.9 498.5h0M530.1 500.4h0M530.3 487.1h0M530.3 503.2h0M530.4 492.2h0M530.4 483.6h0M530.5 493h0M530.7 505.9h0M530.8 501.1h0M530.8 501.2h0M530.9 481.6h0M530.9 502.1h0M531 495.2h0M531.1 497.8h0M531.1 485.3h0M531.2 482h0M531.3 497.2h0M531.3 485.7h0M531.5 495.1h0M531.6 493.2h0M531.7 488.3h0M531.8 501.7h0M531.9 491.8h0M531.9 505.2h0M532 485.6h0M532.1 496.2h0M532.1 499.6h0M532.3 497.8h0M532.4 495.2h0M532.5 492.4h0M532.7 499.9h0M532.7 484.7h0M532.7 483.7h0M532.8 490.9h0M532.8 506.9h0M532.8 499.2h0M533.1 503.4h0M533.1 491.3h0M533.1 500.2h0M533.2 505h0M533.3 483.7h0M533.3 496.5h0M533.3 483.6h0M533.3 496h0M533.6 498.3h0M533.8 487.2h0M533.9 487.9h0M534.1 489h0M534.1 484h0M534.1 498.4h0M534.1 491.5h0M534.1 504.4h0M534.2 490.5h0M534.4 494.8h0M534.4 504.7h0M534.4 506.1h0M534.6 493.1h0M534.6 488.1h0M534.6 504.2h0M534.8 493.5h0M535.2 492.6h0M535.3 486.8h0M535.4 482.6h0M535.5 504.8h0M535.9 503.5h0M536 497.1h0M536.1 485.5h0M536.1 502.7h0M536.2 500.4h0M536.2 481.8h0M536.4 488.1h0M536.5 496.4h0M536.5 486h0M536.9 485.8h0M537 501.5h0M537.1 488.6h0M537.2 490.6h0M537.2 483.1h0M537.4 499.2h0M537.4 504.2h0M537.7 505h0M537.9 501.9h0M537.9 501.5h0M538.2 497.3h0M538.7 485.7h0M538.7 496.6h0M538.8 483.5h0M539 484.4h0M539.3 495h0M539.4 493.2h0M539.4 501.1h0M539.5 495.1h0M539.5 496.5h0M539.9 491.8h0M540.2 488.6h0M540.3 486.7h0M540.5 495.8h0M540.8 493.1h0M540.9 497.1h0M541.1 495.2h0M541.2 502.4h0M541.3 487.2h0M541.6 499.7h0M542 486h0M542.1 491.7h0M542.2 498.6h0M542.3 487.5h0M542.3 496.4h0M542.5 501.6h0M542.7 498.2h0M543.3 495.2h0M543.7 489.2h0M543.8 497.5h0M543.8 495.8h0M543.9 497.9h0M544.5 492h0M544.7 491.9h0M545.1 490.9h0M545.2 482.2h0M545.2 484.1h0M545.3 493.6h0M545.4 495h0M545.5 492.9h0M545.5 486.1h0M546.2 497.7h0M546.3 497h0M546.3 492.6h0M546.6 490.8h0M546.7 503.1h0M546.7 500.8h0M547.3 481.6h0M547.4 482h0M547.6 489h0M547.7 498.8h0M547.8 497.7h0M548 495.1h0M548.1 492.4h0M548.5 499.2h0M548.6 493.1h0M548.8 490.4h0M548.9 494.6h0M549.2 496.3h0M549.2 492.8h0M549.3 491.2h0M549.7 495.5h0M550.1 501.4h0M550.2 491.7h0M550.3 503.8h0M550.5 484.4h0M551.1 486.3h0M551.7 490.3h0M551.7 486.7h0M552.1 499.2h0M552.2 494.1h0M552.9 496.1h0M553 489.7h0M553.3 483.4h0M553.5 490.4h0M554.1 500.5h0M554.2 497.8h0M554.4 486.7h0M554.6 492.2h0M554.9 502.3h0M556.4 500.5h0M557.5 490.1h0M557.6 482.5h0M558.1 492.3h0M558.4 486.5h0M558.9 491.7h0M559.1 489.1h0M559.1 487.8h0M559.7 498h0M560.4 484.1h0M561.1 494.7h0M561.2 483.3h0M561.4 485.1h0M562.3 486h0M563.1 496.4h0M563.3 486.6h0M563.4 497.4h0M563.8 482.1h0M565 490.9h0M565.3 488.9h0M565.3 488.9h0M565.7 487.7h0M565.7 497.5h0M565.9 497.5h0M566.2 494.5h0M566.5 497.8h0M566.7 490.6h0M567.1 482.7h0M567.2 493.9h0M568 483.6h0M568.5 484.9h0M568.5 496.4h0M568.7 492.4h0M569.6 490h0M570.4 497.3h0M570.6 492.9h0M570.7 482.8h0M571.7 486.5h0M571.8 499.5h0M572.3 484.1h0M572.6 486.5h0M573.4 490h0M575.9 496.7h0M576.3 481.5h0M576.5 486.1h0M576.8 488.2h0M577.6 492.1h0M579.2 493.3h0M579.2 494.3h0M579.2 494.6h0M579.2 492.8h0M579.5 484.6h0M584.8 488.8h0M585.5 494.3h0M586.9 483.2h0M587.1 489.4h0M589.6 495.5h0M590.2 483.6h0M590.4 490.5h0M590.5 481.6h0M590.6 493.1h0M592.4 491.8h0M593.1 490.3h0M594.2 495.2h0M596.9 481.6h0M599.7 489.8h0M600.3 492.4h0M602.2 490.1h0M602.9 490.9h0M607.3 488.8h0M615.3 485.5h0M635.5 490.3h0"/><path stroke="#ac96d0" stroke-width="3.4" d="M441.3 476.3h0M441.3 479.6h0M441.4 477.9h0M441.9 479.9h0M442.7 470h0M442.8 463.8h0M443.1 454h0M443.3 477.6h0"/><path stroke="#b09ecd" stroke-width="3.4" d="M446.8 476.7h0M446.9 471h0M447.1 480.7h0M447.2 469.3h0M447.3 478.7h0M447.7 475.7h0M447.8 470.5h0M447.8 479.8h0M447.9 477.8h0M448 481h0M448.1 468h0M448.6 480.2h0M449 452.1h0M449.4 476.6h0M449.5 467.9h0M449.6 479.7h0M449.8 468.1h0M450 480.6h0"/><path stroke="#b6aac7" stroke-width="3.4" d="M456.8 480h0M456.8 480.3h0M456.9 480.5h0M457 476h0M457 461.4h0M457.1 468.4h0M457.1 474.6h0M457.3 479.7h0M457.3 474.6h0M457.5 479.5h0M457.5 478.5h0M457.7 466h0M458.2 469.5h0M458.4 466.8h0M458.5 465.1h0M458.7 480.6h0M459.1 480.8h0M459.2 474.7h0M459.2 469.7h0M459.3 479.1h0M459.3 478.7h0M459.5 470.6h0M459.5 467h0M459.6 462.8h0"/><path stroke="#b2a2cb" stroke-width="3.4" d="M450.4 467.5h0M450.4 480.8h0M450.4 466.2h0M450.4 459.8h0M450.6 470.1h0M450.6 473h0M450.7 464.2h0M450.8 460.4h0M450.9 475.5h0M451.2 468.1h0M451.4 479.4h0M451.9 476.4h0M452.1 478.7h0M452.2 481h0M452.2 479.1h0M452.4 455.6h0M452.6 478.5h0M452.6 475h0M452.7 478.7h0M453.3 479.8h0M453.3 471.4h0"/><path stroke="#a58ad5" stroke-width="3.4" d="M431.6 480.5h0M431.6 463.4h0M433.5 479.5h0"/><path stroke="#ae9acf" stroke-width="3.4" d="M443.8 478.6h0M443.9 478.5h0M443.9 474.2h0M445 480.5h0M445.1 469.2h0M445.2 460.4h0M445.4 474.3h0M445.6 479.7h0M445.7 474.5h0M446.4 480.1h0M446.5 470.3h0M446.6 471.1h0M446.6 480.9h0M446.7 457.7h0M446.7 465.7h0M446.7 467.7h0"/><path stroke="#b4a6c9" stroke-width="3.4" d="M453.4 479.3h0M453.5 476.7h0M453.5 470.7h0M453.9 455h0M453.9 475.3h0M453.9 474.8h0M453.9 455.8h0M454.4 475h0M454.4 467.5h0M454.5 478.4h0M454.6 480.9h0M454.6 468.1h0M454.7 459h0M454.8 478.5h0M455 476.9h0M455 481.3h0M455 474.3h0M455 468.7h0M455.1 478.4h0M455.1 477.4h0M455.1 461.2h0M455.1 470h0M455.2 470.8h0M455.2 480h0M455.5 477.5h0M455.6 473.1h0M455.9 469.7h0M456 473.7h0M456.2 479.7h0M456.5 479.6h0M456.6 472.5h0"/><path stroke="#aa92d2" stroke-width="3.4" d="M436.9 474.2h0M437.5 480.5h0M437.8 480.6h0M437.9 478.8h0M438 473.5h0M438.1 480.6h0M438.1 469.2h0M438.3 466.4h0M438.6 459.8h0M438.8 478.8h0M439.3 475h0M439.4 476.4h0M439.5 469.4h0M439.5 479.8h0M440.1 479.7h0M440.1 470.9h0"/><path stroke="#a78ed4" stroke-width="3.4" d="M434 481.1h0M435.2 461.4h0M435.2 471.4h0M436.2 479.3h0"/><path stroke="#a386d7" stroke-width="3.4" d="M427.4 468.1h0M427.9 461h0M428.9 457.5h0M429 476.6h0M429 472.4h0M429.6 480.1h0M429.6 464.4h0M429.9 480.1h0M430 480.9h0"/><path stroke="#a082d9" stroke-width="3.4" d="M425.7 462h0M425.8 476h0M426.1 467.9h0M426.2 456h0M426.7 477.3h0M426.7 467.1h0M426.7 466.6h0"/><path stroke="#b4a6c9" stroke-width="3.6" d="M455.6 445.9h0"/><path stroke="#ceafa7" stroke-width="3.4" d="M490.1 462.1h0M490.3 477.2h0M490.7 480.7h0M491.2 473.9h0M491.5 480.9h0M492 473.4h0M492 470.8h0M492.2 475.8h0M492.3 479.3h0M492.4 473h0M492.5 471.8h0M492.6 480h0M492.6 473.5h0M492.7 469.8h0M492.7 479h0M492.8 478.8h0M493 470.2h0"/><path stroke="#d7a699" stroke-width="3.4" d="M500.8 470.8h0M500.9 480.6h0M501 463.4h0M501.2 480.4h0M501.3 469.6h0M501.3 460.1h0M501.5 479.8h0M501.7 478.3h0M501.9 475.6h0M502.1 463h0M502.6 469.4h0M502.6 468.7h0M502.8 480.6h0"/><path stroke="#d4a99e" stroke-width="3.4" d="M496.5 480h0M497.2 477.8h0M497.2 481.3h0M497.3 465.7h0M497.5 478.9h0M497.7 469.2h0M497.9 480.9h0M498 477h0M498.1 480.2h0M499.1 475.2h0M499.3 473h0M499.4 480.9h0M499.4 481.2h0M499.4 479.8h0M499.5 465.2h0M499.6 477h0M499.6 473.1h0"/><path stroke="#dba090" stroke-width="3.4" d="M506.7 479.9h0M506.7 481.1h0M507.3 480.2h0M507.4 477.2h0M508.3 474.9h0M508.6 476.4h0M509 475.3h0M509.6 477h0"/><path stroke="#d1aca2" stroke-width="3.4" d="M493.5 478.4h0M493.7 478h0M493.7 472.9h0M494.2 468.8h0M494.3 479.5h0M494.4 481h0M494.6 479.6h0M494.6 465.8h0M494.7 476.9h0M494.7 467h0M494.7 461.3h0M495.3 472.6h0M495.3 473.2h0M495.7 476h0M495.9 472.5h0M496 478.1h0M496 456.9h0M496.1 475.8h0"/><path stroke="#d9a395" stroke-width="3.4" d="M503.1 468.6h0M503.1 477.7h0M503.3 475.3h0M503.4 475.5h0M503.4 476.4h0M504 463.9h0M504.2 480.5h0M504.4 477.4h0M504.9 475.5h0M505.7 481.2h0M505.8 477h0M506.3 465.7h0"/><path stroke="#e4937f" stroke-width="3.4" d="M520.8 480.4h0M521.3 480.7h0M521.7 480h0M522.5 471.1h0"/><path stroke="#de9d8c" stroke-width="3.4" d="M509.7 464.5h0M511.6 478.9h0M511.9 478.9h0M512.8 479.5h0M512.9 470.1h0"/><path stroke="#e09a87" stroke-width="3.4" d="M515.1 471.4h0M515.1 464.1h0M515.3 471.2h0M515.6 478.9h0M515.9 474.9h0"/><path stroke="#e5907a" stroke-width="3.4" d="M522.9 470.5h0"/><path stroke="#926de1" stroke-width="4.2" d="M408.6 353h0"/><path stroke="#a78ed4" stroke-width="4.0" d="M434.6 384.6h0M434.8 362.9h0"/><path stroke="#7d54ea" stroke-width="4.0" d="M387.6 373.2h0"/><path stroke="#9876de" stroke-width="4.0" d="M414.6 372.7h0"/><path stroke="#673ef2" stroke-width="4.0" d="M371.1 388.3h0"/><path stroke="#855de7" stroke-width="4.0" d="M396 388.1h0"/><path stroke="#8c65e4" stroke-width="3.8" d="M401.5 400.2h0"/><path stroke="#a78ed4" stroke-width="3.8" d="M433.6 396.7h0M434.1 419.7h0"/><path stroke="#b4a6c9" stroke-width="4.0" d="M454.8 385.1h0"/><path stroke="#b6aac7" stroke-width="3.8" d="M456.8 417.7h0M457.3 394.2h0"/><path stroke="#aa92d2" stroke-width="3.8" d="M438.5 412.5h0M440 402.9h0"/><path stroke="#ae9acf" stroke-width="3.8" d="M444 404.1h0"/><path stroke="#b09ecd" stroke-width="3.8" d="M448.2 403.1h0"/><path stroke="#926de1" stroke-width="3.8" d="M408.1 417.5h0"/><path stroke="#9b7adc" stroke-width="3.8" d="M417 418.5h0"/><path stroke="#8f69e2" stroke-width="3.6" d="M403.9 422.2h0"/><path stroke="#7d54ea" stroke-width="3.6" d="M387.4 433.8h0"/><path stroke="#ac96d0" stroke-width="3.8" d="M440.2 420.2h0"/><path stroke="#ae9acf" stroke-width="3.6" d="M445.2 423.4h0M445.2 438.7h0M445.7 438h0"/><path stroke="#9e7eda" stroke-width="3.6" d="M422.5 430.8h0"/><path stroke="#a082d9" stroke-width="3.6" d="M425.9 428.3h0"/><path stroke="#a58ad5" stroke-width="3.6" d="M431.1 432.1h0"/><path stroke="#aa92d2" stroke-width="3.6" d="M439 428.8h0"/><path stroke="#ac96d0" stroke-width="3.6" d="M440.2 435.5h0M442.7 446.1h0"/><path stroke="#9b7adc" stroke-width="3.6" d="M419 446.1h0"/><path stroke="#9876de" stroke-width="3.4" d="M416.3 455.5h0"/><path stroke="#9b7adc" stroke-width="3.4" d="M418.8 462.2h0"/><path stroke="#9571df" stroke-width="3.4" d="M411.3 479.5h0M413.3 475.8h0"/><path stroke="#9e7eda" stroke-width="3.4" d="M420.7 473.8h0"/><path stroke="#a78ed4" stroke-width="3.6" d="M434.8 442.4h0M436.5 448.6h0"/><path stroke="#b09ecd" stroke-width="3.6" d="M446.9 450.6h0"/><path stroke="#dba090" stroke-width="4.2" d="M509.4 341h0"/><path stroke="#d1aca2" stroke-width="3.8" d="M495 408h0"/><path stroke="#ceafa7" stroke-width="3.8" d="M492.9 418h0"/><path stroke="#de9d8c" stroke-width="3.6" d="M509.9 424.1h0"/><path stroke="#d7a699" stroke-width="3.6" d="M500.2 426.4h0M502.8 441.4h0"/><path stroke="#d9a395" stroke-width="3.6" d="M503.6 430.4h0"/><path stroke="#d4a99e" stroke-width="3.6" d="M497.1 445.6h0M499.7 438.2h0"/><path stroke="#e09a87" stroke-width="3.6" d="M513.4 445.1h0M515.2 428h0M516.2 431.7h0"/><path stroke="#dba090" stroke-width="3.6" d="M509.4 440.4h0"/><path stroke="#f5684a" stroke-width="3.6" d="M562 432.5h0"/><path stroke="#eb866d" stroke-width="3.6" d="M535.7 437.7h0"/><path stroke="#e78d76" stroke-width="3.4" d="M527.8 467.2h0M528.3 458.2h0"/><path stroke="#ed7f64" stroke-width="3.4" d="M541.5 459.5h0M541.5 476.6h0"/><path stroke="#e29683" stroke-width="3.4" d="M519.4 466.1h0"/><path stroke="#e98971" stroke-width="3.4" d="M531.2 466.1h0"/><path stroke="#eb866d" stroke-width="3.4" d="M535.7 469.3h0"/><path stroke="#ec8269" stroke-width="3.4" d="M537 471.9h0"/><path stroke="#ef7b60" stroke-width="3.4" d="M543 475h0"/><path stroke="#f37053" stroke-width="3.4" d="M554.6 476.1h0"/><path stroke="#f46c4e" stroke-width="3.4" d="M559.3 479.8h0"/><path stroke="#f95738" stroke-width="3.4" d="M575.6 465.3h0"/><path stroke="#fa4d2f" stroke-width="3.4" d="M579.8 479.8h0"/><path stroke="#ff0000" stroke-width="3.4" d="M607.9 477.9h0"/></g>
<g stroke="#262626" stroke-width="1.0" stroke-dasharray="1.7 1.4" fill="none">
<path d="M460 332.8V520.5"/>
<path d="M489.8 332.8V520.5"/>
<path d="M358.4 481.29H648"/>
</g>
<path d="M358.4 332.8V520.5" stroke="#a8a8a8" stroke-width="1.1" fill="none"/>
<path d="M357.9 520.5H648.0" stroke="#4a4a4a" stroke-width="1.15" fill="none"/>
<g font-family="'Liberation Sans', sans-serif" font-size="3.5" fill="#777"><path d="M400.5 521.1v1.3" stroke="#333" stroke-width="0.6"/><text x="400.5" y="525.1" text-anchor="middle">-5</text><path d="M474.9 521.1v1.3" stroke="#333" stroke-width="0.6"/><text x="474.9" y="525.1" text-anchor="middle">0</text><path d="M549.3 521.1v1.3" stroke="#333" stroke-width="0.6"/><text x="549.3" y="525.1" text-anchor="middle">5</text><path d="M623.7 521.1v1.3" stroke="#333" stroke-width="0.6"/><text x="623.7" y="525.1" text-anchor="middle">10</text><path d="M357.9 511.6h-1.3" stroke="#333" stroke-width="0.6"/><text x="356.2" y="512.9" text-anchor="end">0</text><path d="M357.9 465.0h-1.3" stroke="#333" stroke-width="0.6"/><text x="356.2" y="466.3" text-anchor="end">2</text><path d="M357.9 418.4h-1.3" stroke="#333" stroke-width="0.6"/><text x="356.2" y="419.7" text-anchor="end">4</text><path d="M357.9 371.8h-1.3" stroke="#333" stroke-width="0.6"/><text x="356.2" y="373.1" text-anchor="end">6</text></g>
<text x="503.8" y="529.9" font-family="'Liberation Sans', sans-serif" font-size="4.6" fill="#222" text-anchor="middle" textLength="17.8" lengthAdjust="spacingAndGlyphs">log2(FC)</text>
<text transform="translate(350.6 426.4) rotate(-90)" font-family="'Liberation Sans', sans-serif" font-size="4.6" fill="#222" text-anchor="middle" x="0" y="1.6" textLength="29.7" lengthAdjust="spacingAndGlyphs">-log10(p-value)</text>
<text x="536.2" y="307.1" font-family="'Liberation Serif', serif" font-weight="bold" font-size="12.5" text-anchor="middle" textLength="14.1" lengthAdjust="spacingAndGlyphs">C5</text>
<rect x="387.65" y="317.85" width="25.5" height="7.1" fill="#cfe0f9" stroke="#1a6ae8" stroke-width="1.7"/>
<text x="418.0" y="323.2" font-family="'Liberation Sans', sans-serif" font-size="9" fill="#505050" textLength="53.0" lengthAdjust="spacingAndGlyphs">Sig.Down [198]</text>
<rect x="477.65" y="317.85" width="25.5" height="7.1" fill="#fcd3d4" stroke="#f0322a" stroke-width="1.7"/>
<text x="507.5" y="323.2" font-family="'Liberation Sans', sans-serif" font-size="9" fill="#505050" textLength="43.3" lengthAdjust="spacingAndGlyphs">Sig.Up [129]</text>
<rect x="556.85" y="317.85" width="25.5" height="7.1" fill="#efefef" stroke="#c8c8c8" stroke-width="1.7"/>
<text x="586.8" y="323.2" font-family="'Liberation Sans', sans-serif" font-size="9" fill="#505050" textLength="45.6" lengthAdjust="spacingAndGlyphs">Unsig. [4215]</text>
<defs><linearGradient id="gC5" x1="0" y1="0" x2="0" y2="1"><stop offset="0.000" stop-color="#ff0000"/><stop offset="0.050" stop-color="#fd331a"/><stop offset="0.100" stop-color="#fb4a2c"/><stop offset="0.150" stop-color="#f85b3c"/><stop offset="0.200" stop-color="#f46b4c"/><stop offset="0.250" stop-color="#f0795c"/><stop offset="0.300" stop-color="#eb856c"/><stop offset="0.350" stop-color="#e5927c"/><stop offset="0.400" stop-color="#dd9d8c"/><stop offset="0.450" stop-color="#d5a89d"/><stop offset="0.500" stop-color="#cab3ad"/><stop offset="0.550" stop-color="#bebebe"/><stop offset="0.600" stop-color="#b8afc5"/><stop offset="0.650" stop-color="#b1a1cc"/><stop offset="0.700" stop-color="#aa92d2"/><stop offset="0.750" stop-color="#a183d8"/><stop offset="0.800" stop-color="#9775de"/><stop offset="0.850" stop-color="#8c66e4"/><stop offset="0.900" stop-color="#7f56ea"/><stop offset="0.950" stop-color="#7047ef"/><stop offset="1.000" stop-color="#5d35f4"/></linearGradient></defs>
<rect x="656.0" y="412.9" width="7" height="34.0" fill="url(#gC5)"/>
<g font-family="'Liberation Sans', sans-serif" font-size="3.7" fill="#333"><path d="M656.0 414.79h1.3M661.7 414.79h1.3" stroke="#fff" stroke-width="0.4"/><text x="664.6" y="416.1">8</text><path d="M656.0 423.18h1.3M661.7 423.18h1.3" stroke="#fff" stroke-width="0.4"/><text x="664.6" y="424.5">4</text><path d="M656.0 431.58h1.3M661.7 431.58h1.3" stroke="#fff" stroke-width="0.4"/><text x="664.6" y="432.9">0</text><path d="M656.0 439.97h1.3M661.7 439.97h1.3" stroke="#fff" stroke-width="0.4"/><text x="664.6" y="441.3">-4</text></g>
<text x="656.0" y="411.1" font-family="'Liberation Sans', sans-serif" font-size="4.6" fill="#222" textLength="24.3" lengthAdjust="spacingAndGlyphs">FoldChange</text>
<g fill="none" stroke-linecap="round"><path stroke="#bebebe" stroke-width="2.6" d="M224.5 751.6h0M231.6 752.3h0M237.9 753.4h0M247.7 752.3h0M250.9 754.8h0M255.2 754.4h0M256.2 753h0M262.6 752.1h0M264.4 755.5h0M266.5 756.8h0M267.1 752.7h0M267.9 749.2h0M268.9 759.6h0M269.8 759.4h0M270 750.2h0M270.2 749.6h0M270.5 751.4h0M271.2 754.1h0M271.6 750.7h0M272.1 754.4h0M273.3 754h0M274.5 759h0M275.1 751.6h0M275.7 754.9h0M275.8 757.3h0M276.4 751.7h0M277.1 751.5h0M277.1 752.5h0M277.7 754.7h0M277.8 757.5h0M278.4 759.9h0M278.8 757.7h0M279.9 760.1h0M280 752.1h0M280.6 749.2h0M280.7 751.5h0M280.9 751.7h0M281 756.8h0M281 758.4h0M282 759.4h0M282.2 758.1h0M282.5 749.2h0M283.5 758h0M283.6 755.9h0M283.6 753.1h0M284.1 753.8h0M284.4 751.8h0M284.7 754.2h0M285.2 758.7h0M285.2 752.5h0M285.4 761.1h0M286.3 761.8h0M286.4 753.2h0M287.2 752.2h0M287.3 759.5h0M287.9 761.6h0M288 749.8h0M288.1 760.5h0M288.4 752.7h0M288.4 757.5h0M289.3 754.6h0M289.6 762.7h0M290.1 755.3h0M290.3 753.4h0M290.5 752.8h0M290.6 756.2h0M290.7 751.7h0M290.7 749.6h0M290.7 753.6h0M290.7 750.9h0M291.2 763.1h0M291.7 758.7h0M291.7 749.3h0M291.9 753.3h0M292.2 754.1h0M292.5 756.7h0M292.6 755.3h0M293 753.8h0M293.3 750.2h0M293.3 761.2h0M293.4 751.8h0M293.8 762h0M294.3 752.3h0M294.9 763.6h0M295.1 754.7h0M295.2 753.9h0M295.2 764.2h0M295.2 749.3h0M295.2 756.3h0M295.4 757.1h0M295.5 749.9h0M295.5 751.7h0M295.6 749.1h0M296 761.8h0M296 760.5h0M296.1 761.1h0M296.1 752.2h0M296.4 753.4h0M296.7 759.8h0M296.8 752.4h0M296.8 758.9h0M297 756h0M297.6 761.9h0M297.7 760h0M297.8 753.1h0M297.9 764h0M298.3 757.8h0M298.6 756.6h0M298.9 764.7h0M299 752.6h0M299.2 761.2h0M299.3 754.1h0M299.3 759.8h0M299.3 756.9h0M299.5 753.2h0M299.8 756h0M300 758.2h0M300.1 755.5h0M300.1 758.5h0M300.2 751.2h0M300.2 753.6h0M300.2 749.2h0M300.3 758.3h0M300.8 751.2h0M300.8 761.8h0M301.2 753.4h0M301.7 753h0M301.8 763.5h0M302.1 757h0M302.3 752.1h0M302.4 757.4h0M302.7 751.2h0M302.8 761.8h0M303 751.7h0M303.4 760.3h0M303.5 750.3h0M303.6 758.5h0M303.8 750.3h0M303.9 752.7h0M303.9 760.3h0M304.1 754.1h0M304.1 760.5h0M304.1 759.1h0M304.2 765.7h0M304.2 762.8h0M304.3 765.8h0M304.6 753.7h0M304.6 758.3h0M304.7 761.7h0M304.8 753.3h0M304.9 755.3h0M305 752.6h0M305 753.4h0M305.1 763.5h0M305.3 755.8h0M305.3 754h0M305.5 749.2h0M305.6 753.3h0M305.6 759.4h0M305.6 749.9h0M305.8 758.4h0M306.2 750.2h0M306.2 764.7h0M306.4 758.6h0M306.6 756.2h0M306.8 764.8h0M306.9 756.1h0M307.3 765.6h0M307.7 761.1h0M307.8 763.2h0M308 760.5h0M308.1 757.4h0M308.1 756.8h0M308.1 758.8h0M308.2 749.5h0M308.2 754.6h0M308.2 754.1h0M308.4 758.3h0M308.4 760.9h0M308.5 761.4h0M308.5 756.5h0M308.6 758.9h0M308.7 753.8h0M308.8 755.6h0M308.9 765.1h0M308.9 764.9h0M309 764.6h0M309.2 762.2h0M309.2 755.4h0M309.3 761.2h0M309.4 760.4h0M309.5 757.3h0M309.7 750.8h0M309.7 760.6h0M310 764.9h0M310.2 761.6h0M310.2 760.4h0M310.2 765.6h0M310.3 756.9h0M310.4 756.8h0M310.6 756.8h0M310.7 751.2h0M310.8 755.7h0M310.8 764.5h0M311.1 754.6h0M311.2 753.5h0M311.3 749.5h0M311.3 763.4h0M311.4 753h0M311.4 753h0M311.6 761h0M311.6 751h0M311.7 764.6h0M311.7 764.7h0M311.9 765.8h0M311.9 766.2h0M312.1 761.4h0M312.1 756.4h0M312.3 756.4h0M312.3 757.4h0M312.4 753.3h0M312.4 761.7h0M312.5 749.9h0M312.5 765.4h0M312.7 749.9h0M312.7 750.5h0M312.7 751h0M312.8 758h0M312.9 758.9h0M313 756.1h0M313.1 761.5h0M313.1 751.2h0M313.1 764.1h0M313.2 762h0M313.3 751.3h0M313.5 765.8h0M313.5 752.2h0M313.6 754.3h0M313.7 762.7h0M313.7 763h0M313.7 753.9h0M313.8 750h0M313.8 759.7h0M313.8 757.8h0M313.9 759h0M313.9 760.5h0M314.2 749.6h0M314.2 750.3h0M314.2 766h0M314.3 765.1h0M314.5 759.2h0M314.6 750.3h0M314.6 764.3h0M314.6 762.7h0M314.7 757.3h0M314.7 756h0M314.8 758h0M314.8 752.1h0M314.8 751.7h0M314.9 756.6h0M315 749.9h0M315 758.4h0M315 763.2h0M315.1 763.2h0M315.1 760.8h0M315.1 763.6h0M315.1 763h0M315.2 750.7h0M315.3 757.7h0M315.4 758.3h0M315.4 762.9h0M315.5 754.3h0M315.6 749.6h0M315.7 766.2h0M315.7 754.8h0M315.7 760.6h0M315.8 762.9h0M315.8 757.8h0M315.8 759.7h0M315.9 750.2h0M316 766.3h0M316.1 756h0M316.2 749.5h0M316.3 763h0M316.4 762.5h0M316.4 750.9h0M316.5 762.3h0M316.5 764.2h0M316.6 757.2h0M316.7 757.8h0M316.8 759.8h0M316.9 756.3h0M317 749.9h0M317 755.1h0M317 765.2h0M317.1 755.5h0M317.2 762.8h0M317.3 750.4h0M317.3 766.2h0M317.4 762.6h0M317.6 756.8h0M317.6 763.1h0M317.6 757.7h0M317.6 758.7h0M317.7 751.3h0M317.7 761.8h0M317.7 752.9h0M317.9 754.9h0M317.9 751.5h0M318 759.9h0M318.1 762.8h0M318.2 752h0M318.2 757.8h0M318.3 752.2h0M318.3 755.2h0M318.4 760.9h0M318.4 762.5h0M318.4 762.1h0M318.5 753.2h0M318.5 755.7h0M318.5 757.9h0M318.7 761.4h0M318.8 751.1h0M318.8 764.8h0M318.9 753.7h0M318.9 763.3h0M318.9 757.1h0M319 752.3h0M319 753h0M319 758.1h0M319.2 755.7h0M319.2 752.1h0M319.3 763.8h0M319.3 756.5h0M319.4 753.5h0M319.4 760.6h0M319.4 756.9h0M319.5 759.1h0M319.5 754.4h0M319.5 760.8h0M319.6 750.5h0M319.6 760.9h0M319.6 764.7h0M319.6 753.6h0M319.6 765.1h0M319.8 764.6h0M319.9 753.9h0M319.9 750.5h0M319.9 755h0M320 754.6h0M320 757.3h0M320.1 755.5h0M320.1 754.7h0M320.1 750.2h0M320.2 734.3h0M320.2 745.8h0M320.2 752.6h0M320.2 755.6h0M320.2 756.5h0M320.3 763.1h0M320.3 752.5h0M320.4 758h0M320.4 765.1h0M320.4 754.4h0M320.4 708.1h0M320.4 761.1h0M320.5 747.8h0M320.6 752.2h0M320.6 761.8h0M320.7 762.2h0M320.7 758.7h0M320.7 759.9h0M320.7 743h0M320.7 765h0M320.7 753.1h0M320.7 754.1h0M320.7 766h0M320.8 760.5h0M320.8 765h0M320.8 750.8h0M320.8 738.4h0M320.8 764.8h0M320.8 726.7h0M320.9 757.2h0M320.9 752.6h0M321 758.1h0M321 760.6h0M321 754.1h0M321 746.4h0M321.1 760h0M321.1 755.8h0M321.1 733.8h0M321.2 766.1h0M321.2 764.6h0M321.2 764.8h0M321.2 757.2h0M321.2 743.1h0M321.2 762.1h0M321.2 748.3h0M321.3 763.8h0M321.3 755.6h0M321.3 730.9h0M321.3 765.5h0M321.3 755.4h0M321.3 757.4h0M321.3 761.8h0M321.3 759.1h0M321.4 763.6h0M321.4 763.1h0M321.4 762.2h0M321.4 755.6h0M321.4 760.4h0M321.4 754.7h0M321.4 761h0M321.4 757.2h0M321.4 764.7h0M321.4 764h0M321.5 766.6h0M321.5 748.2h0M321.5 751.2h0M321.5 751.7h0M321.6 766.3h0M321.6 752.7h0M321.6 751.3h0M321.6 755.8h0M321.6 756.3h0M321.6 741.1h0M321.6 758h0M321.6 734.3h0M321.6 764.3h0M321.7 766.2h0M321.8 753h0M321.8 753.2h0M321.8 758h0M321.8 754.4h0M321.8 761.6h0M321.9 749.1h0M321.9 757.6h0M321.9 766h0M321.9 754.7h0M321.9 742.7h0M321.9 745.3h0M321.9 748.4h0M321.9 750.3h0M321.9 763.1h0M321.9 757.1h0M322 753.5h0M322 719.3h0M322 751.9h0M322 756.9h0M322 751.3h0M322.1 764.3h0M322.1 756.6h0M322.1 758.9h0M322.1 758.4h0M322.1 763.6h0M322.1 762.3h0M322.1 757.3h0M322.1 757.7h0M322.1 738.7h0M322.1 718.4h0M322.2 763.7h0M322.2 748.6h0M322.2 763.9h0M322.2 761.5h0M322.2 746.5h0M322.2 764.4h0M322.3 757h0M322.3 763.9h0M322.3 736.9h0M322.3 756.7h0M322.4 758.2h0M322.4 760.2h0M322.4 740.1h0M322.5 673.5h0M322.5 764.2h0M322.5 742.3h0M322.5 756.7h0M322.5 762.9h0M322.6 763.6h0M322.6 763h0M322.6 758.6h0M322.6 763.2h0M322.7 765.8h0M322.7 761.5h0M322.7 751.1h0M322.7 761.6h0M322.7 762.4h0M322.7 765.9h0M322.8 749.2h0M322.8 760.5h0M322.8 751.1h0M322.8 758.1h0M322.8 758h0M322.8 749.5h0M322.8 748.7h0M322.9 749.8h0M322.9 751.6h0M322.9 755.2h0M323 752.7h0M323 764.3h0M323 757.2h0M323 766.2h0M323 754.7h0M323 755.4h0M323 762.2h0M323.1 761.8h0M323.1 740.6h0M323.2 757.7h0M323.2 739.1h0M323.2 757h0M323.3 760.7h0M323.3 734.3h0M323.3 765.5h0M323.3 729.7h0M323.3 748.2h0M323.4 762.8h0M323.4 752.9h0M323.4 766.3h0M323.4 753.3h0M323.5 765h0M323.5 759.9h0M323.5 743.6h0M323.5 764.2h0M323.5 724.2h0M323.5 760.2h0M323.5 754.1h0M323.5 756.2h0M323.5 750.2h0M323.6 752.9h0M323.6 757.9h0M323.6 754.5h0M323.6 764.7h0M323.6 754.6h0M323.6 730.8h0M323.7 754.2h0M323.7 747.2h0M323.7 763.6h0M323.7 758.3h0M323.7 757.9h0M323.8 754.1h0M323.8 766.6h0M323.8 750.4h0M323.8 743.7h0M323.9 764.3h0M323.9 756.5h0M323.9 764h0M323.9 746.9h0M323.9 742.3h0M323.9 761.1h0M323.9 752.4h0M323.9 763.4h0M324 741.2h0M324 749.7h0M324.1 750.3h0M324.1 746.8h0M324.1 727.9h0M324.2 763.2h0M324.2 748.3h0M324.2 746.3h0M324.2 753.8h0M324.3 753.6h0M324.3 753.9h0M324.3 744.4h0M324.3 761.2h0M324.3 755.6h0M324.3 757.5h0M324.4 757h0M324.4 718.8h0M324.4 755.2h0M324.4 757.4h0M324.4 759.5h0M324.4 725h0M324.5 735.4h0M324.5 763.4h0M324.5 759.5h0M324.5 756.3h0M324.5 754h0M324.5 753.2h0M324.6 765.4h0M324.6 760.4h0M324.6 759h0M324.6 760.2h0M324.6 754.5h0M324.6 740.8h0M324.6 752.1h0M324.7 758.2h0M324.7 749.5h0M324.7 761.7h0M324.8 758.1h0M324.8 757.9h0M324.8 758.3h0M324.8 756.2h0M324.8 751.7h0M324.9 734.7h0M324.9 748.8h0M324.9 752.7h0M324.9 765.7h0M325 750h0M325 749.7h0M325 759.7h0M325 758.1h0M325.1 758h0M325.1 760.9h0M325.1 760.3h0M325.1 760h0M325.1 757.2h0M325.3 750.5h0M325.3 761.3h0M325.3 765h0M325.3 765.4h0M325.3 761.8h0M325.4 720.6h0M325.4 755.7h0M325.4 765.6h0M325.4 761.1h0M325.4 753.2h0M325.4 754.8h0M325.4 754.5h0M325.4 734.7h0M325.4 758.9h0M325.5 754.7h0M325.5 760.7h0M325.5 758.2h0M325.5 760.4h0M325.5 749.3h0M325.5 757.8h0M325.5 756.1h0M325.6 764.9h0M325.7 748.2h0M325.7 753.3h0M325.7 748.7h0M325.7 749.7h0M325.7 762.1h0M325.7 752.5h0M325.7 759.8h0M325.8 751.2h0M325.8 751.4h0M325.8 755.9h0M325.8 745.3h0M325.8 753.7h0M325.9 749.1h0M325.9 765.7h0M325.9 743.9h0M325.9 761.4h0M325.9 765.7h0M325.9 752.8h0M325.9 751.4h0M325.9 754.9h0M326 761.5h0M326 766.1h0M326 759.6h0M326 757.4h0M326 752.1h0M326 764.5h0M326 748.7h0M326.1 752.4h0M326.2 766.1h0M326.3 765.3h0M326.3 764.4h0M326.3 764.6h0M326.3 764.9h0M326.4 758.2h0M326.4 761.9h0M326.5 761.7h0M326.5 760.8h0M326.5 765.1h0M326.5 766.6h0M326.5 765.7h0M326.6 762.3h0M326.6 761.4h0M326.7 763.9h0M326.8 758.2h0M327 762.2h0M327.1 761.5h0M327.1 762.4h0M327.1 763.6h0M327.2 758.2h0M327.2 765.3h0M327.3 765.6h0M327.4 758.5h0M327.4 764.9h0M327.5 763.7h0M327.5 763.7h0M327.5 759.5h0M327.5 761.5h0M327.5 760h0M327.6 759h0M327.6 764.9h0M327.7 758.4h0M327.7 762.6h0M327.7 761.8h0M327.9 763.5h0M328 764.6h0M328.1 765.7h0M328.1 765.6h0M328.1 766.1h0M328.2 759.9h0M328.2 761.4h0M328.2 763.7h0M328.2 765.8h0M328.2 761.8h0M328.3 763.5h0M328.3 766.3h0M328.3 764.2h0M328.3 762.6h0M328.3 760.6h0M328.4 759h0M328.5 762.2h0M328.5 760.7h0M328.6 764.6h0M328.6 762h0M328.6 758.6h0M328.6 762h0M328.6 761.2h0M328.6 763.2h0M328.7 763.6h0M328.7 761.2h0M328.7 761.7h0M328.7 766.1h0M328.8 766.3h0M328.8 765h0M328.8 765h0M328.9 762.6h0M328.9 765.8h0M328.9 766.1h0M328.9 765.5h0M328.9 765.6h0M329.1 762.7h0M329.2 764.4h0M329.2 765.8h0M329.2 764.2h0M329.3 765.6h0M329.3 766.1h0M329.3 762.3h0M329.4 763.7h0M329.4 764.7h0M329.4 763.4h0M329.4 765.9h0M329.5 764.3h0M329.5 764.5h0M329.5 762h0M329.6 763.7h0M329.7 763.5h0M329.7 763.3h0M329.8 759.4h0M329.8 763.1h0M330 761.7h0M330.1 761.9h0M330.1 761h0M330.1 761.5h0M330.1 762.6h0M330.1 760h0M330.2 765.2h0M330.2 766h0M330.2 763.2h0M330.3 764.1h0M330.4 763.8h0M330.5 760.8h0M330.5 765.7h0M330.6 764h0M330.6 761.5h0M330.7 765.1h0M330.7 764.5h0M330.7 762.3h0M330.7 766.1h0M330.8 766.2h0M330.8 765.4h0M330.9 762.9h0M330.9 762.5h0M330.9 766.3h0M330.9 765.9h0M331 760.9h0M331 763.7h0M331.1 765.5h0M331.1 762.7h0M331.2 766.1h0M331.2 764.7h0M331.3 763.8h0M331.3 761.2h0M331.4 764.1h0M331.4 763.8h0M331.5 765h0M331.5 764.9h0M331.5 765.8h0M331.6 763.3h0M331.6 762.6h0M331.7 765h0M331.8 764.5h0M331.8 765.2h0M331.9 766.4h0M332 761.2h0M332 760.8h0M332 762.8h0M332.1 764.1h0M332.1 765.7h0M332.2 764h0M332.3 762.6h0M332.4 761.2h0M332.4 764.8h0M332.4 766.4h0M332.4 761.7h0M332.5 766.2h0M332.5 764.3h0M332.6 763.7h0M332.6 763.4h0M332.6 766.1h0M332.6 765.9h0M332.7 765.3h0M332.7 765.1h0M332.7 761.4h0M332.8 766.1h0M332.9 762.8h0M333 763.8h0M333.1 766.2h0M333.2 761h0M333.3 762.2h0M333.3 763.9h0M333.3 762.3h0M333.3 762.1h0M333.4 765.9h0M333.4 764.6h0M333.4 761.4h0M333.4 764.7h0M333.4 760.7h0M333.5 759.9h0M333.5 765.7h0M333.5 766.2h0M333.5 766h0M333.5 761.3h0M333.6 762.9h0M333.6 760.6h0M333.6 761.3h0M333.7 766.5h0M333.7 761.7h0M333.7 760.7h0M333.8 762.3h0M333.8 761.8h0M333.8 762.2h0M334.1 766h0M334.1 762h0M334.1 764.7h0M334.2 764h0M334.2 761.7h0M334.3 766.3h0M334.4 765.3h0M334.5 766.4h0M334.5 759.8h0M334.5 765.4h0M334.6 766.5h0M334.6 766.5h0M334.8 761.2h0M334.8 760.3h0M334.8 766.3h0M334.8 763.1h0M334.8 760.8h0M334.8 761.6h0M334.9 759.7h0M334.9 765.6h0M335 762.6h0M335.1 766.5h0M335.1 765.1h0M335.1 763.6h0M335.2 761.4h0M335.2 765.6h0M335.2 760.6h0M335.2 763.7h0M335.3 761.7h0M335.3 763.5h0M335.3 765.8h0M335.4 764h0M335.4 763.2h0M335.4 765.3h0M335.4 762.3h0M335.4 765.3h0M335.5 763.3h0M335.5 766.5h0M335.5 761.1h0M335.6 761.7h0M335.6 758.9h0M335.6 765.4h0M335.6 758.7h0M335.6 765.8h0M335.7 764.3h0M335.7 762.2h0M335.7 760.3h0M335.7 764.3h0M335.8 760h0M335.8 763.7h0M335.8 759.5h0M335.8 760h0M335.9 765.2h0M335.9 765.5h0M335.9 760.5h0M335.9 766.3h0M336.1 764.3h0M336.1 765.1h0M336.2 762.6h0M336.2 766.5h0M336.2 764.7h0M336.2 758.7h0M336.3 762h0M336.4 760.1h0M336.4 762.5h0M336.5 766h0M336.5 766h0M336.6 761.5h0M336.7 759.6h0M336.7 765.5h0M336.7 759h0M336.7 766.6h0M336.8 758.1h0M336.8 765.4h0M336.8 759.8h0M336.9 762.7h0M336.9 765.3h0M337 761.5h0M337.1 764h0M337.1 762h0M337.1 765.3h0M337.1 760.7h0M337.3 758.8h0M337.3 763.1h0M337.3 764.2h0M337.4 758.2h0M337.4 765.1h0M337.5 760.6h0M337.5 761.2h0M337.5 760.8h0M337.6 765.7h0M337.6 757.7h0M337.7 760.7h0M337.8 759h0M337.9 758h0M337.9 762.5h0M337.9 763.1h0M338 765.5h0M338 765.9h0M338.1 757.3h0M338.1 752.1h0M338.1 761h0M338.2 750h0M338.2 752.8h0M338.2 766.4h0M338.2 750.1h0M338.2 765h0M338.2 758.7h0M338.2 759.9h0M338.3 724.9h0M338.3 755h0M338.3 754.2h0M338.3 762.6h0M338.3 761.4h0M338.3 761.7h0M338.4 746.2h0M338.4 750.5h0M338.4 755h0M338.4 763.4h0M338.5 760.8h0M338.5 755.8h0M338.6 751.2h0M338.6 763.9h0M338.6 765.5h0M338.6 766.1h0M338.6 759h0M338.6 761.9h0M338.6 726.3h0M338.7 761.5h0M338.7 753.3h0M338.7 761.2h0M338.7 750.4h0M338.7 755.1h0M338.7 758.9h0M338.7 754h0M338.8 761.5h0M338.8 761.9h0M338.8 755.1h0M338.8 762h0M338.8 757.1h0M338.9 731.7h0M338.9 742.1h0M338.9 764.1h0M338.9 755.2h0M338.9 754.3h0M338.9 763h0M338.9 765.6h0M338.9 759.5h0M339 760.9h0M339 692.8h0M339 752.7h0M339 756.8h0M339 750.1h0M339 760.9h0M339.1 748.9h0M339.1 756.9h0M339.1 750.8h0M339.1 760.9h0M339.1 755.3h0M339.1 744.5h0M339.1 755.9h0M339.2 756.1h0M339.2 752.8h0M339.2 764.4h0M339.2 754.4h0M339.2 754.2h0M339.2 731.2h0M339.2 761.3h0M339.3 752.2h0M339.3 766.1h0M339.3 755.2h0M339.3 754.3h0M339.4 757.6h0M339.4 765.3h0M339.4 764h0M339.4 754.5h0M339.4 764.9h0M339.4 755.2h0M339.5 764.3h0M339.5 752.8h0M339.5 737.7h0M339.5 756.2h0M339.5 757h0M339.5 765.3h0M339.5 755.2h0M339.6 761.3h0M339.7 751h0M339.8 760.5h0M339.8 761.6h0M339.8 762.8h0M339.8 739.6h0M339.9 733.9h0M340 757.7h0M340 750.4h0M340 762.7h0M340 751.7h0M340.1 753.4h0M340.1 748.6h0M340.1 756.5h0M340.1 761.6h0M340.1 763.2h0M340.1 756.8h0M340.2 737.8h0M340.2 766.5h0M340.2 750.6h0M340.2 752.1h0M340.2 730.3h0M340.2 754.4h0M340.2 765.5h0M340.2 756.4h0M340.3 705.5h0M340.3 754.6h0M340.3 763.9h0M340.4 737.5h0M340.4 750.5h0M340.4 743.3h0M340.4 742.9h0M340.4 755.3h0M340.4 754.7h0M340.4 757.3h0M340.5 765.7h0M340.5 757.5h0M340.5 750.8h0M340.5 763.9h0M340.6 757.1h0M340.6 766.2h0M340.6 753.7h0M340.6 749.9h0M340.6 754.8h0M340.6 751.2h0M340.6 760h0M340.7 757.1h0M340.7 760.5h0M340.7 738.9h0M340.7 756.8h0M340.7 756.1h0M340.7 753.2h0M340.7 759.7h0M340.8 757.3h0M340.8 727.5h0M340.8 764.9h0M340.9 749.6h0M340.9 757.2h0M340.9 763.6h0M340.9 765.2h0M340.9 730h0M340.9 761.3h0M340.9 764.9h0M341 765.1h0M341 758.2h0M341 762.2h0M341 757.6h0M341 760.7h0M341 765.2h0M341.1 764.1h0M341.1 754.6h0M341.1 763.3h0M341.1 761.1h0M341.1 760.7h0M341.1 755.7h0M341.2 754.1h0M341.2 755h0M341.3 754.8h0M341.4 750.3h0M341.4 762.3h0M341.4 745h0M341.4 764.2h0M341.5 753.4h0M341.5 713.9h0M341.5 763h0M341.5 766.2h0M341.5 756.9h0M341.5 758h0M341.5 754.3h0M341.6 723.6h0M341.6 750.7h0M341.6 760.8h0M341.6 755h0M341.6 754.3h0M341.6 745.2h0M341.6 748.9h0M341.6 754.8h0M341.6 754.8h0M341.7 755.5h0M341.7 765.6h0M341.7 754.7h0M341.7 756.8h0M341.7 759.6h0M341.7 753.4h0M341.7 763.9h0M341.8 766.5h0M341.8 762.1h0M341.9 763.6h0M341.9 738.8h0M341.9 755.8h0M341.9 756.4h0M341.9 764.7h0M341.9 759h0M342 756h0M342 758.6h0M342.1 753.8h0M342.2 761.2h0M342.2 717.3h0M342.2 747h0M342.2 759h0M342.2 760.7h0M342.2 753.6h0M342.2 751.4h0M342.3 754.1h0M342.3 755.9h0M342.3 754.2h0M342.3 739.1h0M342.3 737.7h0M342.3 762.9h0M342.4 750.7h0M342.4 761.7h0M342.4 756.7h0M342.4 754.5h0M342.4 766.1h0M342.4 761.8h0M342.5 756.8h0M342.5 750.5h0M342.5 760.2h0M342.5 753.4h0M342.6 745.3h0M342.6 753.3h0M342.6 762.1h0M342.7 759.7h0M342.7 735.6h0M342.7 750.4h0M342.7 755.9h0M342.7 745.8h0M342.7 753h0M342.8 733.2h0M342.8 745.5h0M342.8 742h0M342.8 764h0M342.9 757.6h0M342.9 743.9h0M342.9 757.2h0M342.9 766.4h0M342.9 750.5h0M343 751.2h0M343 758.1h0M343 752h0M343 754h0M343 756.8h0M343 760.5h0M343 766.2h0M343 758.8h0M343.1 760.6h0M343.1 751.3h0M343.1 751.7h0M343.1 763.2h0M343.1 759.3h0M343.1 750.6h0M343.1 746.4h0M343.2 764.2h0M343.2 760.2h0M343.2 756.5h0M343.2 743h0M343.2 766.1h0M343.2 753.5h0M343.3 752.2h0M343.3 759h0M343.3 749.4h0M343.3 765.7h0M343.3 749.6h0M343.3 756.2h0M343.3 754.4h0M343.4 749.5h0M343.4 761.4h0M343.4 751h0M343.4 752.5h0M343.4 749.6h0M343.4 765.9h0M343.5 757.5h0M343.5 762.7h0M343.5 763.9h0M343.5 754.4h0M343.5 754h0M343.5 754.4h0M343.5 751.1h0M343.5 753.9h0M343.5 757.4h0M343.6 754.5h0M343.6 756.4h0M343.7 752h0M343.7 758.6h0M343.7 757.8h0M343.7 759.8h0M343.8 755.2h0M343.9 754.1h0M343.9 757h0M343.9 756h0M344 754.3h0M344 761.4h0M344.1 752h0M344.1 755.6h0M344.2 760.1h0M344.2 757.1h0M344.2 764.1h0M344.3 751.9h0M344.3 757.1h0M344.4 752.1h0M344.4 758.4h0M344.4 763.8h0M344.9 763.5h0M345.2 755h0M345.3 766.2h0M345.3 751.5h0M345.5 751.2h0M345.5 750h0M345.5 754.5h0M345.6 754.2h0M345.6 751.3h0M345.7 761.2h0M345.8 756.5h0M345.8 765.2h0M345.8 752.5h0M345.8 749.6h0M345.8 754.2h0M345.9 761h0M345.9 758.4h0M346 766.5h0M346 757.5h0M346.1 760.1h0M346.2 755.6h0M346.4 759.1h0M346.4 750.2h0M346.4 750.1h0M346.6 749.4h0M346.7 764.3h0M346.7 765.5h0M346.7 760.7h0M346.8 762.6h0M346.8 751.2h0M346.8 754.6h0M346.9 752.6h0M347 763.9h0M347.2 752.2h0M347.2 766.6h0M347.3 764.1h0M347.3 755.2h0M347.3 754.9h0M347.3 750.1h0M347.4 751.4h0M347.4 755.9h0M347.5 764.7h0M347.5 757.6h0M347.6 763.3h0M347.6 757.8h0M347.6 762.8h0M347.6 759.9h0M347.7 753.1h0M347.7 754.2h0M347.8 749.4h0M347.9 749.9h0M348.1 751.3h0M348.1 750.2h0M348.3 752.1h0M348.5 764.2h0M348.5 757.5h0M348.5 758.6h0M348.6 758.2h0M348.7 754.9h0M348.7 763.9h0M348.8 753h0M348.8 759.3h0M348.8 765.1h0M348.9 755.1h0M348.9 757.2h0M349 765.1h0M349.1 753.4h0M349.1 763.5h0M349.2 764.9h0M349.4 754.9h0M349.5 763.9h0M349.5 760.4h0M349.6 756.4h0M349.7 760.8h0M349.8 754.1h0M349.9 766.6h0M349.9 762.3h0M349.9 763.1h0M349.9 765h0M350 758.1h0M350 750.4h0M350.2 762.6h0M350.2 757h0M350.2 762.6h0M350.4 758.1h0M350.4 758h0M350.5 755.1h0M350.5 758.2h0M350.6 755.5h0M350.9 756.2h0M350.9 766.1h0M351.1 760.1h0M351.2 766.6h0M351.2 749.8h0M351.3 756.8h0M351.6 764.6h0M351.7 765.9h0M351.8 763.6h0M351.9 749.9h0M351.9 757.2h0M351.9 759.4h0M351.9 753.3h0M352 764.7h0M352 750.6h0M352 762.4h0M352 761.7h0M352 759.5h0M352 750.3h0M352.1 759.5h0M352.1 759h0M352.1 758.3h0M352.2 757.6h0M352.3 749.6h0M352.4 764.5h0M352.4 752.1h0M352.4 752.7h0M352.5 762.4h0M352.7 759.9h0M352.8 759.2h0M353.1 766.1h0M353.1 757.6h0M353.2 755.7h0M353.2 766.2h0M353.2 762.1h0M353.5 753.8h0M354.3 756.1h0M354.4 754.2h0M354.8 765h0M354.8 758.7h0M355.1 762.9h0M355.3 755.1h0M355.4 762.2h0M355.5 754.2h0M355.5 758.5h0M355.7 752.9h0M355.8 756.6h0M355.8 754.2h0M355.9 756.7h0M356 764.2h0M356.2 761.4h0M356.2 764.4h0M356.3 752.8h0M356.3 761h0M356.4 762.6h0M356.5 758.1h0M356.9 756.9h0M357.2 750.6h0M357.4 762.5h0M357.9 750.8h0M357.9 765.7h0M358 764.5h0M358 755.3h0M358.2 758.1h0M358.3 765.9h0M358.5 758.5h0M358.5 755.8h0M358.6 753.6h0M358.7 757.6h0M358.7 759.5h0M358.8 762.8h0M358.9 758.4h0M358.9 751.6h0M359 762.1h0M359.1 756.8h0M359.2 759.9h0M359.3 764h0M359.4 752.7h0M359.5 750.8h0M359.5 755.9h0M359.5 750.3h0M360 758.3h0M360 759.1h0M360.1 765h0M360.4 749.2h0M360.6 752h0M360.6 759.5h0M360.7 758.5h0M360.8 757.4h0M360.9 752.2h0M361.1 759.9h0M361.2 762.3h0M361.3 758.1h0M361.3 761.2h0M361.3 751.9h0M361.3 759h0M361.4 749.6h0M361.6 764.4h0M361.6 759.7h0M361.7 752.6h0M361.8 752h0M361.9 750.3h0M361.9 762.5h0M362 757.5h0M362 751.2h0M362.3 760.3h0M362.4 755h0M362.5 760.2h0M362.5 760.5h0M362.7 754.5h0M362.8 756.4h0M363 750.9h0M363 751.2h0M363.2 759.2h0M363.4 760.5h0M363.5 763.2h0M363.5 756.9h0M363.5 757.3h0M363.6 755.8h0M363.6 753.2h0M363.8 758.8h0M364 749.3h0M364.2 750h0M364.3 754.7h0M364.5 759.9h0M364.6 755.7h0M364.6 763.4h0M364.7 749.4h0M364.7 756.2h0M364.7 759.1h0M364.8 758.2h0M364.8 752.4h0M365.1 762.4h0M365.3 753.8h0M365.6 757h0M365.7 755.3h0M365.8 754.2h0M366 759.2h0M366.6 750.2h0M367.2 754.2h0M367.3 760.4h0M367.7 764.2h0M367.9 763.1h0M368.7 758.8h0M368.8 749.2h0M369.3 751.7h0M369.3 754h0M369.3 754h0M369.5 755.5h0M369.7 758.5h0M369.7 754.4h0M369.9 754.8h0M370 760.7h0M370.2 762.8h0M370.2 750.9h0M370.7 753.5h0M371.2 749.7h0M371.2 759h0M372.3 761h0M372.7 760.4h0M372.9 763.3h0M372.9 762.3h0M372.9 751.9h0M373 762.3h0M373.1 752.1h0M373.2 752.6h0M373.4 761.1h0M373.5 757.4h0M374 751.1h0M374.2 754.1h0M374.2 759.2h0M374.3 754.5h0M374.7 756.9h0M374.7 750.6h0M374.8 751.3h0M374.9 761.3h0M374.9 750.8h0M375 757.7h0M375.8 751.3h0M376 751.3h0M376.1 753.2h0M376.2 759.7h0M376.4 756.2h0M376.5 754.1h0M376.7 762.2h0M376.9 749.2h0M377.1 757.8h0M378 749.8h0M378.1 758.5h0M378.4 751.5h0M378.4 753.7h0M378.5 749.9h0M379.1 752.1h0M379.4 756.5h0M380.2 750.4h0M380.4 760.2h0M380.5 756.5h0M380.7 757.5h0M380.8 757.1h0M381.5 749.2h0M382 756.4h0M383 752.2h0M383.3 761.7h0M384.7 761.1h0M385.2 760.1h0M385.2 756.5h0M385.4 756.2h0M385.8 758.6h0M386 759.3h0M386.1 755.3h0M386.4 757.1h0M386.8 751.7h0M387.1 749.6h0M387.2 758.2h0M387.5 760.4h0M388.8 750.7h0M388.9 757.1h0M390.5 755.7h0M390.9 759.8h0M391 750.6h0M393.9 757.6h0M394.6 755h0M395.7 753.1h0M396.5 751.1h0M396.7 756.6h0M397.2 749.7h0M399.6 750.4h0M399.8 753h0M399.9 757.6h0M407.9 750.3h0M407.9 749.8h0M409.2 755h0M409.5 750h0M410.4 750.8h0M418.2 752.7h0M421.7 755.3h0M422.2 755.1h0M425.7 754.6h0M427.8 751.2h0M431.8 750.4h0M436.6 749.4h0"/><path stroke="#b09ecd" stroke-width="3.4" d="M302.5 726.6h0M302.6 747.8h0M302.6 725.3h0M302.6 741.8h0M302.8 727.5h0M302.8 748.5h0M303 744.3h0M303 743.2h0M303.1 723.8h0M303.1 718.5h0M303.1 717.7h0M303.2 723.4h0M303.2 722h0M303.3 748.9h0M303.3 734.6h0M303.3 737.7h0M303.4 730.3h0M303.4 728.6h0M303.5 724.1h0M303.5 734.2h0M303.5 728.8h0M303.5 747.2h0M303.6 726.8h0M303.6 737.9h0M303.7 737.7h0M303.7 728.2h0M303.7 724h0M303.7 739.6h0M303.8 748.6h0M303.8 741.8h0M303.9 728.6h0M303.9 748.1h0M303.9 724.9h0M303.9 734.8h0M303.9 731.9h0M303.9 741.3h0M304 744.7h0M304 739.5h0M304.2 742.4h0M304.2 748.4h0M304.2 739h0M304.4 743.1h0M304.4 736.6h0M304.4 741.1h0M304.4 722h0M304.7 721.2h0M304.8 723.3h0M304.8 720h0M304.8 721.7h0M304.8 740.4h0M304.8 727h0M304.8 722h0M304.9 719.7h0M305 727.6h0M305.1 727.4h0M305.1 742h0M305.1 747.2h0M305.2 725.6h0M305.2 724.7h0M305.3 735.1h0M305.4 736.5h0M305.5 747.5h0M305.5 724.5h0M305.8 719.4h0M305.8 733.1h0M305.9 726.9h0M305.9 722.1h0"/><path stroke="#b4a6c9" stroke-width="3.6" d="M309.3 692.3h0M309.4 690.3h0M309.4 703h0M309.5 703.3h0M309.6 701.3h0M309.6 692.9h0M309.7 692.9h0M309.7 703.6h0M309.7 705.8h0M309.8 712.1h0M309.8 699.5h0M309.8 710.1h0M309.8 690.2h0M309.9 715.4h0M309.9 691.7h0M309.9 704.6h0M309.9 705.1h0M309.9 703.4h0M309.9 713.9h0M309.9 693.4h0M309.9 704.3h0M310 711.5h0M310 699.7h0M310 715.3h0M310.1 693.7h0M310.2 693h0M310.2 688.3h0M310.2 708h0M310.2 684.9h0M310.3 709.1h0M310.3 688.8h0M310.3 703.5h0M310.3 707.2h0M310.3 699.2h0M310.4 716h0M310.4 703.8h0M310.4 690h0M310.4 706.6h0M310.4 705h0M310.6 698.9h0M310.6 699.5h0M310.7 710.8h0M310.8 685h0M310.8 692.8h0M310.8 715h0M310.8 713.7h0M310.8 712.1h0M310.9 687.6h0M310.9 692.7h0M310.9 711.8h0M311 704.3h0M311 690.9h0M311.1 698.2h0M311.1 710.7h0M311.1 698.7h0M311.1 714.2h0M311.1 691.9h0M311.1 696.6h0M311.1 711.1h0M311.2 687.8h0M311.2 696.9h0M311.2 686h0M311.2 707.5h0M311.3 694.7h0M311.3 699.7h0M311.3 709.9h0M311.4 701h0M311.4 714.5h0M311.4 692.4h0M311.5 714.1h0M311.5 688.3h0M311.5 705.9h0M311.5 709h0M311.5 685.7h0M311.5 696.2h0M311.6 715.1h0M311.6 708h0M311.8 703.4h0M311.8 684.7h0M311.8 710.2h0M311.8 692.7h0M311.9 698.9h0M311.9 689.4h0M311.9 708.1h0M311.9 713.6h0M312 707h0M312 690.1h0M312.1 694.8h0M312.1 712.1h0M312.1 714.5h0M312.2 693.8h0M312.2 685.2h0M312.2 699.5h0M312.3 688.8h0M312.4 711.5h0M312.4 696.5h0M312.4 686.6h0M312.4 706.7h0M312.4 708.5h0M312.5 696.8h0M312.5 695.2h0M312.6 713.3h0M312.6 690.6h0"/><path stroke="#b6aac7" stroke-width="3.6" d="M312.7 696.9h0M312.7 715.2h0M312.8 708.4h0M312.8 712h0M312.8 701.3h0M312.9 688.5h0M313 695.3h0M313 694.2h0M313 702.5h0M313 697.6h0M313 698.6h0M313 716.1h0M313.1 708.9h0M313.1 699h0M313.1 713.2h0M313.1 704.7h0M313.2 687.7h0M313.2 709h0M313.2 694.6h0M313.3 690.8h0M313.4 715.3h0M313.4 701.2h0M313.4 685.9h0M313.4 703.1h0M313.4 716.6h0M313.5 708.5h0M313.6 689.6h0M313.8 706.7h0M313.8 706.6h0M313.8 697.4h0M313.9 685.9h0M314 685.5h0M314 708.9h0M314 700.1h0M314 697.5h0M314.1 702.1h0M314.1 698.1h0M314.1 702.9h0M314.2 696h0M314.2 703.1h0M314.3 701.2h0M314.3 685.8h0M314.3 705h0M314.5 714.8h0M314.5 692.8h0M314.6 699.1h0M314.6 697.8h0M314.7 699.3h0M314.8 686.8h0M314.8 686.1h0M314.8 707.4h0M314.9 704h0M314.9 710.7h0M315 710.7h0M315 699.8h0M315.1 693.1h0M315.2 703.9h0M315.2 706.2h0M315.2 712.1h0M315.3 700.6h0M315.4 688.8h0M315.4 709.3h0M315.4 691.2h0M315.5 701.1h0M315.5 714.8h0M315.6 690.1h0M315.7 685.2h0M315.8 693.8h0M315.8 715.2h0M315.8 692.9h0M315.9 710.1h0M315.9 694h0M315.9 693.2h0M315.9 713.9h0M316 705.2h0M316 711.7h0M316 692.7h0"/><path stroke="#ac96d0" stroke-width="3.6" d="M295.8 698.1h0M295.8 706.7h0M295.8 695.9h0M295.8 685.7h0M295.9 707.4h0M295.9 686.9h0M296 697.7h0M296 695.7h0M296 686.3h0M296 684.8h0M296.3 701.5h0M296.4 689.6h0M296.4 699.4h0M296.5 701.7h0M296.5 697.9h0M296.5 700.9h0M296.5 705.9h0M296.5 688.7h0M296.6 701.7h0M296.7 709.9h0M296.9 706.5h0M297 706.6h0M297 685.3h0M297.4 701h0M297.4 701.7h0M297.4 713.5h0M297.5 702.7h0M297.6 692.7h0M297.7 687.7h0M297.7 705.4h0M297.7 696.9h0M297.7 705.4h0M297.8 694.8h0M297.8 711.1h0M297.9 692.9h0M297.9 686.7h0M297.9 705.6h0M298.2 715.9h0M298.2 708.2h0M298.3 691.9h0M298.3 714h0M298.3 693.6h0M298.4 709.4h0M298.5 703.8h0M298.5 710.4h0M298.7 694.3h0M298.7 686.5h0M298.9 705.1h0M299 712.6h0M299 691.8h0M299 692.8h0M299 700.4h0"/><path stroke="#ae9acf" stroke-width="3.8" d="M299.2 667.5h0M299.3 684.4h0M299.3 679.4h0M299.4 682h0M299.6 669.5h0M299.7 658h0M299.8 676.1h0M300 684.2h0M300 683.8h0M300 678.9h0M300.1 683.2h0M300.1 677.7h0M300.1 678.6h0M300.4 678.8h0M300.4 677.6h0M300.4 680.9h0M300.5 661.4h0M300.5 678h0M300.5 673.2h0M300.8 674.7h0M300.8 680.2h0M300.9 679.1h0M300.9 681.8h0M301 673.8h0M301.3 673.8h0M301.3 678.5h0M301.5 673.8h0M301.6 679.9h0M301.6 676.7h0M301.6 676.1h0M301.7 679.7h0M301.8 682.9h0M302.1 682.2h0M302.2 682.6h0M302.3 673.4h0"/><path stroke="#aa92d2" stroke-width="3.6" d="M292.6 699.5h0M292.7 697.1h0M292.7 706.6h0M292.7 711.3h0M293 700.2h0M293 699.2h0M293.1 685.3h0M293.1 695.6h0M293.3 716h0M293.4 713.2h0M293.4 696h0M293.8 714.8h0M294.1 703.2h0M294.2 706.6h0M294.2 690.3h0M294.3 701.3h0M294.3 715.5h0M294.4 704.1h0M294.5 714.9h0M294.5 690.5h0M294.6 713.1h0M294.6 703.9h0M294.7 716h0M294.7 693.4h0M294.8 709h0M294.9 699.7h0M294.9 694.2h0M295 694.1h0M295.1 711.4h0M295.3 701.4h0M295.3 685.7h0M295.4 709h0M295.5 691.7h0M295.5 715.8h0M295.5 708.8h0M295.7 696.8h0"/><path stroke="#a58ad5" stroke-width="3.4" d="M285.7 747.8h0M285.8 720.2h0M286 733.9h0M286.1 735.1h0M286.1 718h0M286.1 736h0M286.2 730.1h0M286.2 748.5h0M286.3 733.7h0M286.4 746.9h0M286.4 742.6h0M286.8 730.7h0M286.9 721.4h0M287 725.9h0M287.1 721h0M287.3 717.9h0M287.4 722.6h0M287.4 723.6h0M287.5 742.9h0M287.5 726.6h0M287.5 748.7h0M287.6 729h0M287.6 726.6h0M287.6 723.1h0M287.6 721.9h0M287.6 730.3h0M287.7 732.8h0M287.7 735h0M287.8 729.9h0M288.1 734.3h0M288.2 722.5h0M288.5 733.9h0M288.5 723.6h0M288.5 747.8h0M288.5 719.6h0M288.5 746h0M288.6 723.5h0M288.6 745.7h0M288.6 729.3h0M288.7 726.8h0M288.8 735.4h0M288.9 736.7h0"/><path stroke="#9e7eda" stroke-width="3.4" d="M275.4 740.1h0M275.9 744.4h0M276 720.5h0M276.2 723.7h0M276.3 741.5h0M276.3 738.6h0M276.4 730.8h0M276.4 728.9h0M277 728.2h0M277 727.1h0M277.2 732.4h0M277.2 726.4h0M277.6 749h0M277.8 736.5h0M277.9 722.5h0M278.1 742.1h0M278.3 733.2h0M278.4 724.9h0M278.6 738.1h0M278.7 742.4h0"/><path stroke="#ae9acf" stroke-width="3.4" d="M299.1 722.8h0M299.2 729.3h0M299.2 747.9h0M299.3 724.5h0M299.3 724.7h0M299.3 717.4h0M299.3 721.3h0M299.3 731.2h0M299.3 723h0M299.4 742.2h0M299.4 747.4h0M299.5 745.5h0M299.5 727.8h0M299.6 744h0M299.6 721.8h0M299.6 719.9h0M299.8 722.6h0M299.9 719.7h0M299.9 738.4h0M300.1 731.9h0M300.1 723.1h0M300.3 732.2h0M300.3 739.4h0M300.3 722.7h0M300.4 735h0M300.5 738.2h0M300.6 733.9h0M300.6 744.9h0M300.7 746.3h0M300.7 741.8h0M300.8 720.8h0M300.9 730.1h0M300.9 735.2h0M300.9 739.6h0M300.9 717.1h0M301 724.8h0M301 745.2h0M301 725.6h0M301.1 726.8h0M301.2 724.2h0M301.2 728.8h0M301.3 735.3h0M301.3 735.9h0M301.3 731h0M301.3 736.5h0M301.3 732.2h0M301.4 717.9h0M301.5 721.6h0M301.5 732.1h0M301.7 724.3h0M301.8 742.1h0M301.8 730.9h0M301.9 743.6h0M301.9 729.2h0M301.9 728.2h0M302 739.9h0M302 719.1h0M302 735.9h0M302.1 729.3h0M302.1 743.1h0M302.1 737.9h0M302.2 747.6h0M302.2 747.3h0M302.3 716.8h0M302.3 725.8h0M302.4 719h0M302.4 727.1h0M302.4 749.1h0"/><path stroke="#a78ed4" stroke-width="3.6" d="M288.9 699.2h0M289.1 713h0M289.2 696.9h0M289.2 712.6h0M289.2 693.2h0M289.3 685.8h0M289.4 716.2h0M289.8 699.2h0M289.8 712.7h0M289.9 703.2h0M290.1 698.1h0M290.1 704.1h0M290.1 685.5h0M290.1 696.8h0M290.2 688.8h0M290.3 713h0M290.4 701.3h0M290.4 702.6h0M290.6 694.5h0M290.6 704.8h0M290.9 715.8h0M291.1 716h0M291.1 704.4h0M291.2 711.7h0M291.4 714.2h0M291.5 698.5h0M291.7 692.5h0M292 703.3h0M292 686.9h0M292.1 703h0"/><path stroke="#a58ad5" stroke-width="3.6" d="M285.6 692.7h0M285.6 692.1h0M285.6 707.5h0M285.7 692.2h0M285.8 716h0M285.8 705.7h0M285.8 715h0M286.1 716.5h0M286.5 709.7h0M286.5 704.8h0M286.6 685.6h0M287 687h0M287.3 699.8h0M287.3 689.2h0M287.4 694.5h0M287.5 698.5h0M287.6 712.4h0M287.7 704.2h0M287.9 688.5h0M288 697.5h0M288 701.1h0M288.1 688.8h0M288.2 688.4h0M288.3 705.4h0M288.3 708.9h0M288.3 702.1h0M288.4 695.4h0M288.4 704.5h0M288.6 698.3h0M288.7 696.9h0M288.8 689.8h0M288.8 705.4h0"/><path stroke="#b4a6c9" stroke-width="3.4" d="M309.4 724.3h0M309.4 727.6h0M309.4 717.4h0M309.4 722.6h0M309.5 741.6h0M309.5 736.5h0M309.6 736.6h0M309.6 726h0M309.7 717.3h0M309.8 722.7h0M309.9 727.8h0M310 739.3h0M310 748.3h0M310 735.1h0M310 746.3h0M310.1 727.1h0M310.1 721.1h0M310.2 729.7h0M310.2 746.5h0M310.2 745.8h0M310.2 721h0M310.2 740.7h0M310.3 717.4h0M310.3 734.3h0M310.3 744.4h0M310.3 719.2h0M310.3 743.3h0M310.4 723.4h0M310.5 732.7h0M310.5 731.3h0M310.5 720.8h0M310.5 725h0M310.6 745.1h0M310.7 718.7h0M310.8 719.8h0M310.8 729h0M310.8 746.9h0M310.8 745h0M310.8 730.1h0M310.9 720.3h0M310.9 728.8h0M310.9 724.8h0M311 722.4h0M311 723.9h0M311 727.8h0M311 738.8h0M311.1 719.5h0M311.2 748.6h0M311.2 723.6h0M311.2 724.2h0M311.2 746.9h0M311.2 723.7h0M311.2 725.9h0M311.3 721.4h0M311.4 732.7h0M311.5 720.7h0M311.5 720.4h0M311.5 741.2h0M311.5 739.4h0M311.6 720.6h0M311.7 732.3h0M311.7 738.3h0M311.8 718.7h0M311.8 744.3h0M311.8 740.7h0M311.8 721.2h0M311.8 748.3h0M311.8 718.9h0M311.8 720.7h0M311.9 728.6h0M312 746.3h0M312 730.9h0M312.1 730h0M312.2 721.1h0M312.2 725h0M312.2 723.2h0M312.2 738.7h0M312.2 717.5h0M312.2 739.6h0M312.3 718.2h0M312.3 721.2h0M312.3 727.8h0M312.3 726.3h0M312.3 737.1h0M312.3 735.3h0M312.3 726.9h0M312.3 719.1h0M312.4 720.9h0M312.4 728.4h0M312.4 728.4h0M312.4 721.4h0M312.5 726.3h0M312.5 737.1h0M312.5 723.6h0M312.6 738h0"/><path stroke="#ac96d0" stroke-width="3.4" d="M295.9 735h0M295.9 743.5h0M296 728.8h0M296.1 722.8h0M296.5 725.8h0M296.7 733.5h0M296.8 720.5h0M296.8 738.6h0M296.8 728.3h0M296.9 734.3h0M296.9 719.2h0M296.9 717.7h0M296.9 732.3h0M297 748.3h0M297 717.8h0M297.1 727.1h0M297.1 738.5h0M297.2 740.9h0M297.3 732.4h0M297.4 721.5h0M297.5 731.1h0M297.5 734.9h0M297.6 739.3h0M297.7 731h0M297.7 728.9h0M297.8 727h0M297.8 717.8h0M298 734.5h0M298.2 718.2h0M298.2 736.5h0M298.3 722.6h0M298.4 736.4h0M298.6 732.3h0M298.7 731.7h0M298.8 725.5h0M298.8 731.9h0M298.8 731.3h0M299 723.9h0M299.1 731h0"/><path stroke="#b7aec6" stroke-width="3.4" d="M316.3 725.8h0M316.3 728.5h0M316.4 741.7h0M316.4 728.9h0M316.5 728.5h0M316.6 743.1h0M316.6 730.1h0M316.6 744.7h0M316.8 720.5h0M316.9 733.3h0M316.9 726.9h0M317.1 724.1h0M317.2 728h0M317.2 727.9h0M317.2 732.2h0M317.3 748.7h0M317.4 744.3h0M317.4 730.5h0M317.6 719.9h0M317.6 723.3h0M317.7 723.6h0M317.9 748.4h0M317.9 721h0M318.3 721h0M318.3 732.9h0M318.5 729.4h0M319 733h0M319.1 726.2h0"/><path stroke="#ac96d0" stroke-width="3.8" d="M295.7 672.5h0M295.9 683h0M296.1 667.3h0M296.3 682.6h0M296.3 674.9h0M296.3 661.4h0M296.4 683.2h0M296.4 677.1h0M296.6 669.6h0M296.7 683h0M296.7 680.4h0M297 676.3h0M297.2 675.3h0M297.4 664.2h0M297.4 670.4h0M297.9 663.1h0M298.6 670.3h0M298.7 673.1h0M298.8 673.1h0M298.9 670.6h0M299 682.1h0M299.1 671.1h0M299.1 675.4h0"/><path stroke="#b2a2cb" stroke-width="3.6" d="M305.9 701.8h0M305.9 702.5h0M306 687.5h0M306 700.5h0M306 707.6h0M306.1 714.8h0M306.1 704.8h0M306.1 706h0M306.2 696.3h0M306.2 689.8h0M306.2 690.3h0M306.2 691.7h0M306.2 697.9h0M306.3 701.8h0M306.3 713.7h0M306.3 694.4h0M306.3 711.9h0M306.4 706.9h0M306.4 710.6h0M306.4 695.6h0M306.4 711.2h0M306.4 690.1h0M306.4 695.8h0M306.4 688.5h0M306.5 712.4h0M306.5 716.2h0M306.5 696.9h0M306.5 698.7h0M306.5 703.2h0M306.6 699h0M306.6 691.2h0M306.7 687.5h0M306.7 693.9h0M306.8 710.9h0M306.9 687.1h0M306.9 709h0M306.9 711.6h0M306.9 700.3h0M307 713.4h0M307 696.6h0M307.1 701.1h0M307.1 709.3h0M307.2 704.3h0M307.2 706.8h0M307.2 691h0M307.2 684.5h0M307.2 686.2h0M307.3 699.6h0M307.4 698.2h0M307.4 706.9h0M307.5 696.6h0M307.5 705.5h0M307.5 693.2h0M307.6 695.3h0M307.6 688.6h0M307.8 709.8h0M307.8 689.5h0M307.8 697.5h0M307.9 713.8h0M307.9 703.3h0M307.9 694.1h0M308 689.3h0M308 685.4h0M308.1 705.1h0M308.2 709.1h0M308.3 708.1h0M308.3 712.6h0M308.3 691.2h0M308.3 693.4h0M308.3 713.2h0M308.4 705.9h0M308.4 699.1h0M308.4 690.6h0M308.4 708.4h0M308.4 703.2h0M308.5 691.7h0M308.5 692h0M308.5 693.9h0M308.5 700.9h0M308.5 711.1h0M308.6 713.3h0M308.7 690.7h0M308.7 704.2h0M308.8 714.7h0M308.8 690.9h0M308.8 703.3h0M308.9 697.8h0M308.9 711.2h0M308.9 708.2h0M308.9 705.7h0M309 691h0M309 709.8h0M309.1 688.9h0M309.1 709.7h0M309.2 714.7h0M309.2 713.4h0M309.2 710.5h0M309.2 690.4h0"/><path stroke="#a082d9" stroke-width="3.4" d="M278.8 728.5h0M279 743.6h0M279.1 737.5h0M279.1 745.1h0M279.1 733.8h0M279.1 728.9h0M279.1 736.3h0M279.2 731.8h0M279.2 734.5h0M279.3 729.5h0M279.6 736.6h0M279.7 729h0M279.7 749.1h0M279.9 717.7h0M280 733h0M280.3 744.8h0M280.4 736.3h0M280.5 737h0M280.5 742.4h0M280.5 722.2h0M280.6 737.5h0M280.6 719.5h0M280.9 723.7h0M281 728.1h0M281 747.1h0M281.3 731.4h0M281.4 748.5h0M281.4 746.6h0M281.4 720.2h0M281.5 746.3h0M281.5 748.5h0M281.6 740.1h0M282 723.2h0"/><path stroke="#ae9acf" stroke-width="3.6" d="M299.2 703.6h0M299.2 700.9h0M299.3 699.7h0M299.3 689.7h0M299.3 701.2h0M299.4 691h0M299.4 704.6h0M299.4 715.2h0M299.5 710.4h0M299.6 694.1h0M299.7 715.2h0M299.7 694.9h0M299.7 713.8h0M299.7 716.5h0M299.8 700.3h0M299.8 693.6h0M299.9 684.8h0M299.9 688.3h0M299.9 703.1h0M299.9 709.8h0M299.9 690.6h0M300 698.6h0M300 697h0M300 714.6h0M300.2 691.4h0M300.3 709.8h0M300.3 703h0M300.3 706.5h0M300.3 695.8h0M300.3 708.1h0M300.4 715.5h0M300.4 713.9h0M300.5 686.6h0M300.6 698.7h0M300.6 685.5h0M300.6 687.4h0M300.8 699.9h0M300.8 715h0M300.8 698h0M300.8 707.4h0M300.9 688.5h0M300.9 715.4h0M301 688.9h0M301.1 696.9h0M301.2 704h0M301.2 697.1h0M301.3 685.6h0M301.3 698.8h0M301.3 698h0M301.5 706h0M301.6 685.6h0M301.6 690.2h0M301.6 685.4h0M301.8 705.2h0M301.8 684.5h0M301.8 685.9h0M301.8 711.8h0M302.1 697.2h0M302.1 700.3h0M302.1 716.1h0M302.1 708.2h0M302.2 686.7h0M302.2 709.9h0M302.2 706.1h0M302.3 684.5h0M302.3 697.2h0M302.4 704.5h0M302.4 701.7h0"/><path stroke="#a386d7" stroke-width="3.6" d="M282.1 690.3h0M283.1 687.8h0M283.1 698.1h0M283.2 713.5h0M283.3 689h0M283.4 711.1h0M283.4 704.9h0M283.5 698.5h0M283.6 687.6h0M283.8 689.2h0M283.9 691.4h0M283.9 709.2h0M284 693.7h0M285.2 714.2h0M285.3 707.1h0M285.5 696.5h0"/><path stroke="#b09ecd" stroke-width="3.6" d="M302.5 688.5h0M302.5 691.2h0M302.6 692.9h0M302.6 700.1h0M302.7 695.6h0M302.7 716.2h0M302.7 693.5h0M302.7 691.2h0M302.7 708.5h0M302.9 697.1h0M302.9 698.4h0M303 709.9h0M303 700.5h0M303 691h0M303.1 709.3h0M303.1 699.1h0M303.2 715.3h0M303.2 691.3h0M303.3 700.1h0M303.3 692.4h0M303.3 687.5h0M303.3 710.7h0M303.4 698.5h0M303.5 711.9h0M303.5 704.9h0M303.6 684.8h0M303.6 709.6h0M303.6 695.5h0M303.6 685.1h0M303.7 687.5h0M303.7 709.4h0M303.8 693.9h0M303.8 714.5h0M303.8 716.2h0M303.8 702.8h0M303.8 716.4h0M303.9 701h0M303.9 694.8h0M303.9 689.4h0M303.9 688.1h0M304 706.6h0M304 693.9h0M304 691.7h0M304 693.7h0M304.1 692.4h0M304.1 692.9h0M304.1 711.7h0M304.2 709.1h0M304.2 699.8h0M304.3 704h0M304.4 686.2h0M304.4 690h0M304.5 692.9h0M304.5 715.3h0M304.5 688h0M304.5 701.2h0M304.6 713.4h0M304.6 693.2h0M304.6 702.1h0M304.6 706.4h0M304.6 687.2h0M304.7 714.5h0M304.7 715.8h0M304.8 695.2h0M304.8 700.4h0M304.8 686h0M304.9 699.4h0M304.9 697.6h0M304.9 694.8h0M304.9 684.6h0M304.9 687.2h0M305.1 714.2h0M305.1 685.9h0M305.2 716.5h0M305.2 694.7h0M305.2 700.6h0M305.4 692.3h0M305.4 700.9h0M305.4 714.7h0M305.4 705.7h0M305.4 707.9h0M305.4 715.1h0M305.4 709.9h0M305.5 703.2h0M305.5 704.2h0M305.5 709.9h0M305.5 707.2h0M305.5 686.5h0M305.5 704.9h0M305.6 693.8h0M305.6 710.8h0M305.7 699.9h0M305.7 700.4h0M305.7 700.7h0M305.7 694.1h0M305.8 689h0M305.8 709.5h0M305.8 713h0M305.8 688.7h0"/><path stroke="#aa92d2" stroke-width="3.4" d="M292.4 733.9h0M292.5 720.7h0M292.5 718.3h0M292.5 746.5h0M292.6 717.2h0M292.6 740.6h0M293 740h0M293.1 725.6h0M293.1 739.5h0M293.3 741.1h0M293.5 723.1h0M293.6 723.9h0M293.7 725h0M293.8 726.4h0M294.2 747.6h0M294.3 732.8h0M294.4 718.9h0M294.5 744h0M294.6 720.4h0M294.7 731.9h0M294.7 727.6h0M294.8 723.4h0M294.8 725.4h0M294.8 734.7h0M294.9 740.8h0M295.1 741h0M295.1 718.1h0M295.1 745.2h0M295.2 744.4h0M295.2 732h0M295.2 744.6h0M295.3 732.2h0M295.4 734.1h0M295.4 743.6h0M295.4 744.2h0M295.7 743h0"/><path stroke="#a58ad5" stroke-width="3.8" d="M285.8 661.1h0M286 681.8h0M286.3 684.1h0M286.9 681.9h0M287.3 683.2h0M287.3 681.6h0M287.4 683.5h0M288.3 680.6h0M288.4 675.2h0M288.5 672.2h0"/><path stroke="#aa92d2" stroke-width="3.8" d="M292.4 657.1h0M292.6 684.1h0M293.1 667.3h0M293.6 680.5h0M293.7 674.2h0M293.8 679.3h0M293.9 664.3h0M294 684.1h0M294.2 671.1h0M294.3 671.5h0M294.8 678h0M294.8 674.5h0M294.8 674h0M294.9 679.1h0M295 665.8h0M295.3 674.1h0M295.7 672.1h0"/><path stroke="#b2a2cb" stroke-width="3.8" d="M306.1 681.7h0M306.1 671.4h0M306.1 678.3h0M306.2 683.1h0M306.4 676.3h0M306.7 681.3h0M306.7 676.8h0M307 673.9h0M307.1 668.2h0M307.1 678h0M307.2 663.9h0M307.3 683.5h0M307.4 679h0M307.5 683.3h0M307.7 668.5h0M308 682.9h0M308.2 675.6h0M308.2 679.7h0M308.6 678.4h0M308.7 676.6h0M308.9 670.6h0M309.2 672.8h0"/><path stroke="#b6aac7" stroke-width="3.4" d="M312.7 723.6h0M312.7 734.3h0M312.8 726.6h0M312.9 731h0M312.9 742.1h0M313 717.6h0M313.1 718h0M313.1 743.7h0M313.1 740h0M313.1 730h0M313.2 733.4h0M313.2 728h0M313.2 725h0M313.3 736.6h0M313.4 739.9h0M313.4 718.2h0M313.4 737.1h0M313.5 731h0M313.5 744.4h0M313.6 726.3h0M313.6 727.9h0M313.6 720h0M313.7 748.8h0M313.7 721.2h0M313.7 734.7h0M313.8 739h0M313.9 735.9h0M313.9 741.7h0M313.9 718.4h0M314 723.2h0M314 727.5h0M314.1 721h0M314.2 737.7h0M314.3 742.5h0M314.3 732.6h0M314.3 734.6h0M314.3 734.4h0M314.3 718.9h0M314.4 718.2h0M314.4 741.6h0M314.4 741.2h0M314.5 718.5h0M314.5 740.4h0M314.5 740.4h0M314.6 741.9h0M314.6 733.8h0M314.7 735.2h0M314.7 747.9h0M314.7 730.7h0M314.7 728.4h0M314.8 741.7h0M314.9 731h0M314.9 726.7h0M315 735.9h0M315.1 718.5h0M315.1 728.2h0M315.4 748.8h0M315.6 729.3h0M315.6 741.7h0M315.7 717.7h0M315.7 748.1h0M315.7 732.6h0M315.7 748.2h0M315.8 738.3h0M315.8 724h0M315.9 733.1h0M315.9 735.9h0"/><path stroke="#b09ecd" stroke-width="3.8" d="M302.6 683.9h0M302.8 662.2h0M302.9 679.7h0M302.9 666h0M303 656.3h0M303.1 683h0M303.3 683.9h0M303.8 672.6h0M303.9 661.3h0M303.9 668.3h0M304 667.5h0M304 674.7h0M304.2 675.7h0M304.2 683.2h0M304.6 665.1h0M304.7 675.1h0M304.9 677.6h0M305 673h0M305.4 683.5h0M305.4 677h0M305.6 674.6h0M305.6 681.3h0M305.6 683.7h0M305.8 675h0M305.8 675.7h0"/><path stroke="#9b7adc" stroke-width="3.4" d="M272 734.8h0M272.1 743.6h0M272.1 733.4h0M272.1 717.7h0M272.3 729.5h0M272.3 746.5h0M272.9 748.2h0M272.9 726.6h0M272.9 717.4h0M273 743.3h0M273.1 742.2h0M273.1 736.4h0M273.2 744h0M273.2 745h0M273.3 735h0M273.6 747h0M273.6 736.9h0M273.6 732.2h0M273.7 747.4h0M273.8 747.5h0M273.9 739.1h0M274 740.2h0M274 721.8h0M274.1 729.4h0M274.4 739h0M274.7 732h0M274.7 748.7h0M274.9 740.1h0M274.9 734.6h0M275.1 744.1h0M275.2 723h0"/><path stroke="#a78ed4" stroke-width="3.8" d="M289.6 672.9h0M290.3 669.5h0M290.3 684.4h0M290.3 671.6h0M290.9 683.1h0M291.1 682.4h0M291.3 659.7h0M291.3 684h0M291.4 681.8h0M291.9 680.9h0M291.9 672.8h0M292.3 678.5h0M292.3 681.6h0"/><path stroke="#b2a2cb" stroke-width="3.4" d="M305.9 738.1h0M305.9 744.5h0M305.9 721h0M306 732.2h0M306.1 730.4h0M306.1 718.6h0M306.1 726.7h0M306.2 717.3h0M306.2 735.4h0M306.3 729.8h0M306.3 722.7h0M306.3 740.6h0M306.3 747.6h0M306.3 745.6h0M306.4 737.2h0M306.4 745.8h0M306.5 744.7h0M306.5 740.7h0M306.5 718.5h0M306.5 738.7h0M306.5 738.8h0M306.6 746h0M306.6 743.3h0M306.6 736.7h0M306.6 740.8h0M306.7 742.9h0M306.7 739.8h0M306.7 731h0M306.8 731.6h0M306.8 717.3h0M306.8 739.6h0M306.8 721.6h0M306.9 724.8h0M306.9 723h0M306.9 733.2h0M307 725.8h0M307.1 746.8h0M307.2 748.8h0M307.3 720.9h0M307.3 728.5h0M307.4 728.9h0M307.5 721.3h0M307.5 740.3h0M307.6 744.2h0M307.7 744.9h0M307.8 727.3h0M307.8 743.2h0M307.8 726.7h0M307.9 732.4h0M307.9 736.2h0M307.9 741.8h0M308 732.5h0M308 737.2h0M308 719.7h0M308 741.2h0M308 726.9h0M308.2 729.1h0M308.3 730.1h0M308.3 731.6h0M308.4 721.9h0M308.4 723.2h0M308.4 745.1h0M308.4 719.3h0M308.5 726.7h0M308.7 735.1h0M308.7 733.4h0M308.7 722.2h0M308.7 733.6h0M308.8 724.9h0M308.8 744.6h0M308.8 727.5h0M308.8 720.9h0M308.8 721.8h0M308.9 725.6h0M308.9 735.3h0M308.9 727.5h0M308.9 741.8h0M308.9 720h0M308.9 735.7h0M309 722.2h0M309.1 727.3h0M309.1 745.7h0M309.2 732.9h0M309.3 745.1h0M309.3 717.6h0"/><path stroke="#b7aec6" stroke-width="3.6" d="M316.4 697.6h0M316.5 702.6h0M316.5 696.7h0M316.5 708.2h0M316.5 693.1h0M316.5 690.4h0M316.8 695.9h0M316.8 694.8h0M316.9 709.3h0M317.1 689.9h0M317.1 699h0M317.3 704.4h0M317.5 705.7h0M317.6 708.4h0M317.7 713.6h0M317.9 710.7h0M318.1 704.8h0M318.1 695.2h0M318.3 699.1h0M318.4 712.2h0M318.4 700.5h0"/><path stroke="#a082d9" stroke-width="3.6" d="M278.8 708.3h0M279 693.5h0M279 708.3h0M279.4 696.4h0M279.5 710.7h0M279.5 692.9h0M279.8 714.3h0M280.2 711.3h0M280.3 687.4h0M280.3 707.5h0M280.6 704.7h0M280.7 689.7h0M281.1 711.6h0M281.4 696.2h0M281.4 715.4h0M281.5 703.9h0M281.5 695.4h0M281.6 716.5h0M281.6 697.1h0M281.7 701.8h0M281.7 698.4h0M281.7 697.1h0M281.7 701.3h0M281.8 705.5h0M281.9 691.3h0M282.1 711.4h0"/><path stroke="#9876de" stroke-width="3.4" d="M268.8 732.9h0M269.4 739.5h0M269.8 726.8h0M269.8 742.6h0M269.9 722.8h0M270 718.9h0M270.1 718.3h0M270.4 747.9h0M270.5 735.4h0M270.5 747.8h0M270.6 743.5h0M270.9 739.3h0M271.2 721.1h0M271.4 740.8h0M271.5 740.9h0M271.5 722.5h0M271.5 735.7h0M271.5 717.3h0M271.8 739.9h0M271.8 745.4h0M271.8 740.5h0M271.9 739.9h0M272 735.3h0"/><path stroke="#a78ed4" stroke-width="3.4" d="M289.2 717.4h0M289.2 740.2h0M289.2 726.3h0M289.2 723.2h0M289.2 747.1h0M289.4 737.4h0M289.4 720.8h0M289.8 720.5h0M289.8 731.2h0M290.1 737.2h0M290.1 719.9h0M290.2 725.4h0M290.4 725.9h0M290.5 729.3h0M290.6 728.7h0M290.8 736.1h0M291 739.5h0M291.1 717.5h0M291.2 745.7h0M291.2 733.6h0M291.4 725.8h0M291.4 735.1h0M291.6 722.7h0M291.8 723.3h0M291.8 729.4h0M291.8 742.7h0M291.9 724.5h0M292 731.6h0M292 745.6h0M292 719.9h0M292.2 727.5h0M292.2 733.9h0M292.2 734h0M292.2 740.1h0M292.2 747.2h0"/><path stroke="#b4a6c9" stroke-width="3.8" d="M309.4 682.2h0M309.5 668.9h0M309.5 671.1h0M309.6 684.1h0M309.7 670.3h0M309.7 679.7h0M309.8 683.5h0M309.8 679.9h0M309.9 666.2h0M310 681.9h0M310 668.7h0M310 683.2h0M310 675.4h0M310.1 680.9h0M310.3 681.9h0M310.4 684.1h0M310.4 683.1h0M310.6 679.3h0M310.7 663.9h0M310.8 682.1h0M311.1 680.8h0M311.4 666.1h0M311.5 670.5h0M311.6 678.2h0M311.7 683.8h0M311.8 674.2h0M311.9 661h0M312.1 680.2h0M312.1 676.1h0M312.2 681.7h0"/><path stroke="#b6aac7" stroke-width="3.8" d="M312.8 680.3h0M313.1 682.3h0M313.2 683.9h0M313.3 683.7h0M313.3 679.1h0M314 675.2h0M314.1 680h0M314.3 683.4h0M314.9 683.2h0M315 684.3h0M315.4 681.9h0"/><path stroke="#a386d7" stroke-width="3.4" d="M282.3 740.7h0M282.3 748.9h0M282.4 732.8h0M282.5 725.7h0M282.6 740h0M282.7 717.9h0M282.8 741.1h0M283 723h0M283.1 728h0M283.3 725.3h0M283.6 748h0M283.6 721.4h0M283.7 722.4h0M283.7 740.7h0M283.8 717.2h0M283.8 744.5h0M283.9 726h0M283.9 724.6h0M284 724.4h0M284 746.8h0M284 741.1h0M284.1 718.9h0M284.1 739.4h0M284.1 741.4h0M284.3 729.3h0M284.3 742.3h0M284.4 745.7h0M284.4 745.4h0M284.6 733.6h0M284.6 742.1h0M284.7 723.6h0M284.7 745.7h0M284.9 729.3h0M285 727.9h0M285.1 719.9h0M285.2 720.7h0M285.2 748.5h0M285.3 728.7h0M285.4 732.2h0M285.4 748h0"/><path stroke="#9b7adc" stroke-width="3.6" d="M273.3 701.3h0M274 709.2h0M274.2 701.9h0M274.4 707.2h0M274.5 709.1h0M274.6 715.8h0M274.7 715h0M275.3 714.2h0M275.3 705h0"/><path stroke="#b7aec6" stroke-width="3.8" d="M316.2 676.3h0M318.3 681.6h0"/><path stroke="#a386d7" stroke-width="3.8" d="M282.2 681.5h0M283.1 682.5h0M283.8 684.3h0"/><path stroke="#9e7eda" stroke-width="3.6" d="M275.4 714.7h0M275.6 708.6h0M275.9 694.8h0M276.2 701.5h0M277.2 689.3h0M277.2 686h0M277.3 692.9h0M277.3 690.5h0M277.3 716.6h0M277.3 714.7h0M278 699.1h0M278 709.6h0M278.1 710.2h0M278.3 696.5h0M278.3 716h0M278.4 707.4h0"/><path stroke="#ac96d0" stroke-width="4.0" d="M298.5 650h0"/><path stroke="#a082d9" stroke-width="3.8" d="M280.9 682.9h0M281.7 676.8h0"/><path stroke="#8f69e2" stroke-width="3.4" d="M259.6 744.6h0M259.7 745h0M259.7 728.2h0M260 731h0M260.4 732.2h0M261 727.4h0M261 747.6h0M261.2 737.8h0M261.3 742.1h0M261.4 730.1h0M261.7 741.6h0M261.8 729.9h0"/><path stroke="#926de1" stroke-width="3.4" d="M262 742h0M262.6 744.7h0M262.7 722.6h0M262.7 741.2h0M262.7 732.3h0M262.8 729.9h0M262.9 717.6h0M263.2 732.2h0M263.4 727.8h0M263.5 730h0M263.6 743.5h0M263.6 717.9h0M263.8 731.7h0M263.8 748.4h0M264.1 717.2h0M264.2 739.1h0"/><path stroke="#9571df" stroke-width="3.4" d="M265.2 724.6h0M265.8 745.2h0M266 747h0M266.1 747.1h0M266.3 741.4h0M267.1 738.8h0M267.1 741.6h0M267.2 739.8h0M267.3 748.1h0M267.4 745.9h0M267.5 740.6h0M267.6 735.2h0M267.7 748.8h0M268 726.3h0M268.4 741.8h0M268.5 744.5h0"/><path stroke="#9876de" stroke-width="3.6" d="M269.2 703.6h0M269.5 684.6h0M270.4 696.3h0M271.3 693.4h0"/><path stroke="#9571df" stroke-width="3.6" d="M265.5 714.8h0M266.5 699.9h0M266.5 693.7h0M266.9 710.3h0M267.9 716.7h0"/><path stroke="#8f69e2" stroke-width="3.6" d="M260.1 715h0M261 704.7h0"/><path stroke="#926de1" stroke-width="3.6" d="M263.6 705.3h0M263.8 708.3h0M264.1 696.2h0"/><path stroke="#e09a87" stroke-width="3.8" d="M370.7 684.1h0M370.8 683.3h0M370.8 674.3h0M371 684.4h0M371.1 676h0M371.5 678.4h0M371.5 674.6h0M372 675.4h0M372.3 672.1h0M372.4 668.6h0M372.4 669.7h0M372.6 684h0M373.1 678.5h0M373.3 679.8h0M373.5 667.7h0"/><path stroke="#ccb2ac" stroke-width="3.4" d="M344.1 716.9h0M344.2 726.2h0M344.7 725.1h0M344.7 742.6h0M344.9 727.8h0M344.9 733.7h0M345 729.2h0M345 734.1h0M345.7 730.6h0M346.1 726.2h0M346.2 721.8h0M346.2 723.8h0M346.3 736.7h0M346.4 719.4h0M346.5 745.6h0M346.5 729.2h0"/><path stroke="#f0785b" stroke-width="3.6" d="M404.4 716.1h0M405.8 712.3h0M406.1 707.2h0M406.4 707.9h0M407.4 688.8h0M407.5 699.6h0"/><path stroke="#e09a87" stroke-width="3.6" d="M370.3 686.9h0M370.4 703h0M370.4 688.3h0M370.4 698.7h0M370.7 710.6h0M370.8 686.6h0M370.9 690.2h0M371 710.4h0M371.1 699.5h0M371.2 695.7h0M371.3 694.1h0M371.5 697.7h0M371.6 688h0M371.8 705.4h0M371.9 715.8h0M372 695.2h0M372.1 704.6h0M372.4 714.4h0M372.6 700.6h0M372.6 690.1h0M372.8 712.4h0M372.8 710.4h0M373.1 714h0M373.2 714.4h0M373.3 716.7h0M373.3 715.6h0M373.5 710.8h0M373.5 710.5h0M373.6 688.1h0"/><path stroke="#ef7b60" stroke-width="3.4" d="M400.8 725.5h0M401.6 718.8h0M401.8 743.2h0M402 721.5h0M402.2 744.6h0M402.9 733.4h0M403 728.9h0M403.1 726.4h0M403.7 748.4h0M403.7 720.4h0M403.8 744.2h0M404 723.7h0"/><path stroke="#f46c4e" stroke-width="3.6" d="M414.8 707.9h0M415.2 702.9h0M415.2 707.7h0M415.8 691.7h0M416.1 702.8h0M417 707.5h0"/><path stroke="#e29683" stroke-width="3.4" d="M373.8 744.2h0M373.8 748.1h0M373.9 722.3h0M374.2 744.2h0M374.2 719.5h0M374.4 717.8h0M374.4 719.9h0M374.5 742.5h0M374.5 722.8h0M374.5 725.2h0M374.5 724.3h0M374.7 717.2h0M375 743.8h0M375 743.9h0M375 716.8h0M375.2 745.6h0M375.4 745.7h0M375.5 734h0M375.5 730.9h0M375.7 743h0M375.9 735.5h0M375.9 745.3h0M375.9 718.1h0M375.9 734.4h0M376 732.2h0M376.2 738h0M376.3 719.1h0M376.4 746.8h0M376.4 735.7h0M376.5 738.4h0M376.5 730.7h0M376.6 737.3h0M376.7 744.4h0M376.8 719.8h0M376.9 721.5h0"/><path stroke="#d1aca2" stroke-width="3.6" d="M350 694.7h0M350 712.6h0M350.1 697.6h0M350.1 690.8h0M350.2 700.7h0M350.2 715.5h0M350.4 708h0M350.4 715.9h0M350.4 694.2h0M350.5 700.9h0M350.5 713.3h0M350.6 699.9h0M350.6 710.5h0M350.6 711.1h0M350.6 700.5h0M350.7 712.6h0M350.8 700.4h0M350.8 709.6h0M350.9 704h0M350.9 710.9h0M351.1 716h0M351.1 694.3h0M351.2 692.3h0M351.3 715h0M351.3 701.9h0M351.4 709h0M351.4 709.7h0M351.4 704.5h0M351.5 704.6h0M351.6 709.2h0M351.6 692.2h0M351.7 712.4h0M351.7 703.9h0M351.8 711.1h0M351.8 704.8h0M351.8 697h0M351.8 702.5h0M351.9 684.8h0M352.2 691.2h0M352.4 704.5h0M352.4 689.5h0M352.6 712.5h0M352.6 698.5h0M352.6 702.7h0M352.6 704.8h0M352.6 692.2h0M352.7 706.8h0M352.7 697.1h0M352.8 692h0M353 687.8h0M353 695h0M353.1 713.9h0M353.1 710.7h0M353.2 695.3h0M353.2 708.9h0M353.2 690.7h0M353.3 701h0M353.3 690h0"/><path stroke="#dba090" stroke-width="3.6" d="M363.7 691.5h0M363.8 696.8h0M363.9 699.8h0M363.9 697.9h0M364 685.9h0M364 711.8h0M364 709.8h0M364 694.6h0M364.1 697h0M364.1 702h0M364.2 686.9h0M364.3 686.4h0M364.3 706h0M364.3 695.3h0M364.3 712.1h0M364.4 716.1h0M364.4 705.8h0M364.4 711.6h0M364.4 710.1h0M364.5 691.2h0M364.6 689.2h0M364.6 694.6h0M364.6 698h0M364.7 699.9h0M364.7 705.6h0M364.8 688.9h0M364.8 701.5h0M365 689h0M365.1 711.7h0M365.2 709.5h0M365.3 692.5h0M365.5 687.1h0M365.6 686h0M365.6 700.8h0M365.7 699.5h0M366 711.8h0M366 713.4h0M366 699.4h0M366.1 712.6h0M366.2 714.1h0M366.4 716.7h0M366.5 690.2h0M366.6 693.2h0M366.7 698.2h0M366.7 698.8h0M366.7 707.4h0M366.7 713.7h0M366.7 706.9h0M366.8 708.4h0M366.9 695.6h0"/><path stroke="#de9d8c" stroke-width="3.6" d="M366.9 692.2h0M367 704.7h0M367 698.3h0M367 695.3h0M367 711h0M367.2 686.3h0M367.2 696.7h0M367.3 691.4h0M367.4 690.4h0M367.4 691.3h0M367.5 706.4h0M367.6 691.7h0M367.6 696.3h0M367.7 715.5h0M367.9 707.1h0M368 685.9h0M368 713.2h0M368 704.5h0M368.1 685.2h0M368.1 687h0M368.1 695.4h0M368.1 687.2h0M368.2 702.1h0M368.2 688.7h0M368.3 715h0M368.3 697.5h0M368.4 716.5h0M368.4 699.7h0M368.6 687.3h0M368.6 692.1h0M368.8 696.9h0M368.8 703.9h0M368.8 697.4h0M368.9 707.3h0M369 686.8h0M369.3 700.9h0M369.3 704.2h0M369.4 695.2h0M369.4 688.7h0M369.5 687.3h0M369.7 697.2h0M370 689.5h0"/><path stroke="#ed7f64" stroke-width="3.6" d="M397.6 716.7h0M397.7 687.6h0M397.8 686.1h0M398.3 698h0M398.4 715.4h0M398.5 702.4h0M398.5 716.7h0M398.5 685h0M398.5 685.5h0M398.6 699h0M399.5 692.1h0M399.7 686.2h0M400 686.9h0M400 688.7h0M400.2 715.9h0"/><path stroke="#d1aca2" stroke-width="3.4" d="M350 732.2h0M350.2 741.1h0M350.3 724.3h0M350.3 736.5h0M350.3 739.3h0M350.4 736.1h0M350.5 736.5h0M350.6 735h0M350.7 742.9h0M350.7 738h0M350.8 737.2h0M350.9 716.8h0M351 738.8h0M351.2 717.8h0M351.2 717.3h0M351.3 718.3h0M351.3 717.5h0M351.4 729.2h0M351.5 727.9h0M351.6 732.8h0M351.6 727.7h0M351.8 732.9h0M351.8 740.5h0M351.8 730h0M352 722.1h0M352.1 721.7h0M352.1 721.3h0M352.2 743.3h0M352.2 741h0M352.3 732.5h0M352.3 724.7h0M352.4 734.5h0M352.4 739.3h0M352.5 727.4h0M352.5 740.1h0M352.6 725.5h0M352.6 724.2h0M352.7 740.1h0M352.9 735.6h0M352.9 719.9h0M352.9 747.2h0M352.9 723.8h0M353 734h0M353.1 728.6h0M353.2 738.8h0M353.2 719.5h0M353.2 733.5h0M353.3 719.6h0M353.3 744.3h0M353.3 718.2h0"/><path stroke="#ceafa7" stroke-width="3.4" d="M346.6 723.4h0M346.8 743.5h0M346.9 723.5h0M346.9 727h0M347 724.5h0M347 737h0M347 724.4h0M347.1 739.1h0M347.2 741.2h0M347.3 727.6h0M347.3 733.1h0M347.4 745.4h0M347.4 748.2h0M347.4 737.2h0M347.5 722.8h0M347.5 717.7h0M347.5 738.1h0M347.5 737h0M347.7 747.2h0M348.1 748.9h0M348.1 740.1h0M348.2 733.3h0M348.2 722h0M348.2 741.1h0M348.2 728h0M348.4 729h0M348.4 745.4h0M348.5 746.2h0M348.7 735.4h0M348.8 736h0M348.9 747.3h0M349 737.2h0M349 725.3h0M349.1 722.1h0M349.1 723.8h0M349.2 730.3h0M349.2 732.9h0M349.3 717.4h0M349.3 717.9h0M349.4 734.7h0M349.4 717.7h0M349.6 733h0M349.8 728.5h0M349.8 727.8h0M349.9 736.4h0M349.9 717.3h0"/><path stroke="#eb866d" stroke-width="3.4" d="M391.2 735.9h0M391.3 733.3h0M391.3 726.9h0M391.3 719.3h0M391.3 736.4h0M391.8 718.9h0M391.9 738.5h0M392 733.8h0M392.3 717.1h0M392.4 726.9h0M392.9 731.2h0M392.9 724.8h0M392.9 723.8h0M393.2 737.8h0M393.4 724.7h0M393.5 720.6h0"/><path stroke="#d7a699" stroke-width="3.6" d="M356.8 715.8h0M356.9 716h0M357 702.8h0M357.1 706.1h0M357.1 715.2h0M357.2 701.4h0M357.2 691.4h0M357.5 706.8h0M357.5 698.9h0M357.6 710.3h0M357.7 703.3h0M357.7 697.7h0M357.8 698.6h0M357.9 702.4h0M357.9 684.6h0M358 687.7h0M358 687.1h0M358.2 708.6h0M358.2 710.1h0M358.2 709.6h0M358.2 705.9h0M358.3 695.7h0M358.3 705.3h0M358.3 696h0M358.4 711.8h0M358.5 699.3h0M358.6 705.9h0M358.7 712h0M358.7 715.6h0M358.7 706.4h0M358.7 714.9h0M358.8 708.3h0M358.9 696.2h0M358.9 701.6h0M358.9 697.6h0M358.9 701.8h0M359 700h0M359 699.1h0M359.1 700.3h0M359.2 691h0M359.2 714.3h0M359.4 685.5h0M359.4 703.6h0M359.4 711.7h0M359.5 708h0M359.5 703.5h0M359.6 700h0M359.9 696.1h0M359.9 685h0M359.9 710h0M359.9 707.7h0M359.9 713.9h0M360 715.7h0M360 714.1h0M360.1 704h0M360.1 712.4h0"/><path stroke="#d9a395" stroke-width="3.4" d="M360.2 725.9h0M360.2 747.9h0M360.3 747.2h0M360.3 720.4h0M360.3 723h0M360.4 748.2h0M360.5 731.1h0M360.5 745.9h0M360.6 728.6h0M360.6 738.8h0M360.6 743.1h0M360.7 730.5h0M360.8 739.3h0M360.9 747.1h0M360.9 739.9h0M360.9 727.5h0M360.9 718.6h0M361 737.8h0M361.1 737h0M361.1 732h0M361.2 743.3h0M361.5 717.7h0M361.5 716.9h0M361.5 738.7h0M361.5 744.6h0M361.8 743.4h0M361.9 717.8h0M362 717.8h0M362 739.8h0M362.1 731.1h0M362.2 720.4h0M362.2 739.5h0M362.3 724.1h0M362.3 717.5h0M362.4 736.2h0M362.5 742.5h0M362.6 740.1h0M362.6 729.1h0M362.6 742.3h0M362.7 717h0M362.7 724.4h0M362.7 727.7h0M362.8 724.2h0M362.9 734.2h0M363 744.9h0M363 736.3h0M363.1 724.9h0M363.1 737.4h0M363.2 739.5h0M363.2 717.8h0M363.2 717h0M363.3 738.2h0M363.4 726.7h0M363.4 717.7h0M363.5 717.8h0"/><path stroke="#e4937f" stroke-width="3.8" d="M377.3 677.6h0M377.6 673.2h0M377.8 681.9h0M377.9 674.6h0M378 682.8h0M378.5 655h0M378.6 678.7h0M378.8 672.8h0M379.1 676.2h0M379.2 672.5h0M379.7 683.5h0M379.8 681.1h0M379.8 678.9h0M379.9 678.4h0M380 666.2h0"/><path stroke="#ef7b60" stroke-width="3.6" d="M401.3 694.5h0M401.7 691.6h0M401.7 709.7h0M402.3 714.8h0M402.4 695.1h0M402.4 695.8h0M402.9 706.4h0M403.1 699.7h0M403.4 711h0M403.8 716.6h0"/><path stroke="#e98971" stroke-width="3.4" d="M387.7 737.4h0M387.8 720.1h0M387.9 744.6h0M388 719.5h0M388.8 729.3h0M389.8 723.1h0M390.6 721.6h0"/><path stroke="#e29683" stroke-width="3.6" d="M373.7 707.1h0M373.8 698.1h0M373.8 706.4h0M373.8 706.1h0M373.9 690.5h0M373.9 695.2h0M373.9 709.1h0M374.1 707.1h0M374.2 711.3h0M374.3 714.8h0M374.5 696.2h0M374.5 697.6h0M374.7 709.6h0M374.7 696.8h0M374.8 704.3h0M374.9 703.4h0M375.1 703.5h0M375.2 686h0M375.4 685.4h0M375.5 713.9h0M375.5 707.7h0M375.8 690.9h0M375.9 688h0M376.6 694.2h0M376.8 714.7h0M376.9 691.5h0M377 706.9h0M377 711.2h0"/><path stroke="#e4937f" stroke-width="3.6" d="M377.1 694.7h0M377.1 699.4h0M377.2 693.3h0M377.4 706.1h0M377.6 699.8h0M377.6 701.3h0M377.7 707.2h0M377.7 692.1h0M377.9 688.6h0M377.9 689.1h0M378 715.3h0M378 689.2h0M378.4 691.7h0M378.5 699.2h0M378.5 688.6h0M378.9 699.6h0M379.1 713.2h0M379.2 705h0M379.3 710.7h0M379.4 704.8h0M379.6 685.2h0M379.6 695.2h0M379.7 705.2h0M379.7 685.6h0M379.7 711h0M379.9 695h0M379.9 715.7h0M379.9 710.8h0M379.9 708.1h0M379.9 687.3h0M380 697.2h0M380.1 715.4h0M380.2 711.8h0"/><path stroke="#ed7f64" stroke-width="3.4" d="M397.4 742.4h0M397.9 743.1h0M398 726h0M398.1 737.2h0M399.2 725.7h0M399.2 742.8h0M399.5 725.4h0M400 721.6h0M400.5 729.6h0M400.7 739.9h0"/><path stroke="#e78d76" stroke-width="3.4" d="M384 742.2h0M384 742.3h0M384 721.4h0M384.1 727.6h0M384.8 741.4h0M385.4 727.1h0M385.5 742.3h0M385.7 739h0M385.7 724.1h0M385.8 741.5h0M385.9 718h0M386.2 722.2h0M386.2 727.4h0M386.2 717.9h0M386.2 737.6h0M386.5 742.1h0M387.2 721h0"/><path stroke="#dba090" stroke-width="3.8" d="M363.7 677h0M364 682h0M364.1 683.1h0M364.4 676.6h0M364.4 679.1h0M364.7 673.4h0M365 668.5h0M365.3 677.2h0M366 683.5h0M366.1 675.4h0M366.1 655.6h0M366.2 672.7h0M366.2 677.4h0M366.2 679.9h0M366.3 679.9h0M366.7 682.8h0M366.8 673.7h0M366.8 681.2h0"/><path stroke="#e09a87" stroke-width="3.4" d="M370.4 719.5h0M370.4 720.9h0M370.6 735.3h0M370.6 718.1h0M370.7 725.7h0M370.7 726.1h0M371 739.2h0M371 738.6h0M371.2 745.9h0M371.6 745.7h0M371.7 732h0M371.7 731.8h0M371.8 722.8h0M372 727.8h0M372.1 716.9h0M372.2 725.4h0M372.3 734.2h0M372.6 729.6h0M372.6 748.5h0M372.7 736.1h0M372.9 728.5h0M372.9 717.9h0M372.9 722.1h0M372.9 722.7h0M372.9 741.6h0M372.9 721h0M373.4 720.7h0M373.4 721.4h0M373.6 744.8h0"/><path stroke="#f37053" stroke-width="3.4" d="M411.7 742.4h0M411.8 737.1h0M412 727.1h0M412.3 733.9h0M412.4 744.5h0M412.9 734.3h0M414.1 731.6h0M414.2 731.9h0"/><path stroke="#f17457" stroke-width="3.6" d="M407.9 696.3h0M408.6 692.1h0M408.9 689.9h0M409.8 687.9h0M410.6 695.9h0M410.7 692.4h0"/><path stroke="#dba090" stroke-width="3.4" d="M363.5 731.2h0M363.6 736.2h0M363.9 740.6h0M364.2 730.6h0M364.4 731.8h0M364.5 724.5h0M364.6 729.7h0M364.6 743.7h0M365.1 732.6h0M365.1 737h0M365.1 721.4h0M365.2 721h0M365.2 739.5h0M365.3 720.9h0M365.3 726.9h0M365.5 733.7h0M365.6 720h0M365.6 739.1h0M365.6 744.1h0M365.7 732.6h0M365.7 723.9h0M365.7 730.5h0M366.1 723.6h0M366.3 717h0M366.3 745.1h0M366.3 740.1h0M366.4 734h0M366.6 741.4h0M366.6 733.6h0M366.7 742.9h0M366.8 745.6h0"/><path stroke="#d4a99e" stroke-width="3.6" d="M353.4 699.3h0M353.5 709.1h0M353.5 695.5h0M353.6 697.7h0M353.6 701.9h0M353.6 702.6h0M353.7 710.8h0M353.8 706.2h0M353.9 699.2h0M353.9 712.4h0M353.9 698.9h0M354 709.7h0M354.1 696.6h0M354.2 713.8h0M354.2 686.4h0M354.2 708.4h0M354.4 692.7h0M354.5 706.6h0M354.5 694.4h0M354.6 708.8h0M354.7 715.1h0M354.7 685.9h0M354.9 685.1h0M355 688.5h0M355.1 708.9h0M355.1 702.4h0M355.1 711.3h0M355.2 688.7h0M355.3 709.1h0M355.3 702.5h0M355.4 691.5h0M355.4 694.3h0M355.4 711.6h0M355.6 696.5h0M355.6 694.4h0M355.6 690.8h0M355.7 695.7h0M355.7 695.2h0M355.9 699.1h0M356.2 690.7h0M356.4 702.5h0M356.4 714.8h0M356.5 695.4h0M356.5 701.6h0M356.6 703.9h0"/><path stroke="#e5907a" stroke-width="3.6" d="M380.6 710.4h0M380.8 684.5h0M381 698.5h0M381.1 685.1h0M381.2 690.1h0M381.3 688.8h0M381.5 697.2h0M381.8 704.3h0M381.8 709.8h0M381.9 701.4h0M382.1 708.6h0M382.4 701.9h0M382.6 703.8h0M383 687.6h0M383.2 714.6h0M383.2 703.2h0M383.2 698.6h0M383.2 698.6h0M383.3 706.3h0M383.5 700.3h0M383.5 689.9h0M383.6 697.8h0M383.6 696h0M383.7 700.8h0M383.7 707.1h0M383.8 701.7h0"/><path stroke="#ec8269" stroke-width="3.6" d="M394.3 694.7h0M394.4 707.9h0M394.7 708.9h0M394.9 697.5h0M395 706.3h0M395.2 692.6h0M395.9 710h0M396.1 711.3h0M396.4 698h0M396.7 700.5h0M397.3 705.4h0"/><path stroke="#d9a395" stroke-width="3.6" d="M360.1 694.3h0M360.1 715.9h0M360.2 703.7h0M360.2 684.8h0M360.3 695.3h0M360.4 706.1h0M360.4 687.4h0M360.5 700.8h0M360.6 705.7h0M360.8 690.8h0M360.8 692h0M360.8 695.9h0M360.9 707.1h0M360.9 693.5h0M361.1 701.3h0M361.1 688h0M361.6 691.3h0M361.6 715.6h0M361.6 698.5h0M361.9 686.8h0M362 698.4h0M362 711.8h0M362.1 697.9h0M362.1 695h0M362.1 691.8h0M362.2 694.9h0M362.3 689.9h0M362.4 711.1h0M362.4 694.3h0M362.4 710.3h0M362.5 705.5h0M362.5 694.4h0M362.5 687.9h0M362.6 715h0M362.6 707.2h0M362.7 708.9h0M362.7 704.6h0M362.7 691.1h0M362.8 707.1h0M362.8 699.6h0M363.1 704.5h0M363.3 716.3h0M363.3 701.9h0M363.4 714.6h0M363.4 688.6h0M363.5 699.4h0M363.5 701.5h0"/><path stroke="#d7a699" stroke-width="3.4" d="M356.8 723.6h0M356.9 718.9h0M356.9 725.8h0M357 723.4h0M357.1 734.1h0M357.1 748.1h0M357.3 738.2h0M357.5 728h0M357.5 734.1h0M357.5 748.4h0M357.5 737.8h0M357.6 737.3h0M357.7 737.1h0M357.9 741.6h0M358 722.7h0M358 728.5h0M358.1 725.7h0M358.1 734.1h0M358.1 746.8h0M358.2 748.6h0M358.2 748.7h0M358.3 718.6h0M358.3 729.3h0M358.4 735.2h0M358.4 729.3h0M358.5 748h0M358.5 735.7h0M358.6 732.1h0M358.6 731.4h0M358.7 727h0M358.8 720.3h0M358.8 725.2h0M358.8 728.3h0M358.9 744.4h0M358.9 746.6h0M358.9 730.2h0M359 727.1h0M359.1 739.2h0M359.3 741.2h0M359.3 746.6h0M359.3 719.8h0M359.8 724.8h0M359.9 746h0M360 721.7h0M360 719.7h0M360 721.2h0"/><path stroke="#e4937f" stroke-width="3.4" d="M377.1 727.3h0M377.3 719.7h0M377.7 746.3h0M377.8 739.4h0M377.9 740h0M378 725.2h0M378.1 734.9h0M378.1 747.4h0M378.2 720.5h0M378.2 747.6h0M378.4 727h0M378.6 743.1h0M378.6 734.5h0M378.6 745.6h0M378.8 728.2h0M378.9 748.2h0M379.3 723h0M379.5 733.3h0M379.6 726.3h0M380.1 725.7h0M380.1 733.8h0"/><path stroke="#de9d8c" stroke-width="3.8" d="M367.2 684h0M367.7 679.8h0M367.7 683.1h0M367.9 680.9h0M368.1 683.7h0M368.1 683.6h0M368.3 676.7h0M368.4 684.1h0M368.9 659.4h0M369 670.6h0M369.5 680.5h0M369.5 665.3h0M369.9 681h0M370.2 667.9h0"/><path stroke="#e78d76" stroke-width="3.6" d="M383.9 706.6h0M383.9 691.5h0M384 685.9h0M384.2 711.8h0M384.4 689.6h0M384.4 709.1h0M384.6 707.7h0M384.7 698.9h0M384.9 715.6h0M385.1 691.4h0M385.4 711.4h0M385.6 712.2h0M386 693.4h0M386.1 685.3h0M386.2 697h0M386.3 698.4h0M386.5 690.3h0M386.6 697.3h0M386.7 689.6h0M387.1 709.7h0M387.1 714.4h0M387.2 687.8h0"/><path stroke="#ed7f64" stroke-width="3.8" d="M397.5 675.1h0M397.8 670.8h0M398.2 677.5h0M399.4 672.7h0"/><path stroke="#eb866d" stroke-width="3.6" d="M390.9 711.3h0M391.3 684.6h0M391.4 708.4h0M391.9 695.8h0M392.1 699.2h0M392.6 707.5h0M392.8 710.2h0M393.9 686.2h0"/><path stroke="#de9d8c" stroke-width="3.4" d="M367 725.7h0M367.2 743.1h0M367.4 731.1h0M367.6 720.2h0M367.7 724.8h0M367.7 740.8h0M367.9 736h0M368 728.2h0M368 719.5h0M368.2 720.6h0M368.3 728.6h0M368.4 725.3h0M368.4 718.8h0M368.5 726.5h0M368.6 736.1h0M368.6 742.1h0M368.9 732.4h0M368.9 717.5h0M369 735.2h0M369.2 719.9h0M369.3 733.7h0M369.3 734.9h0M369.3 722.4h0M369.4 726.5h0M369.5 733.2h0M369.7 716.9h0M369.9 746.9h0M370 737.2h0M370 734.4h0"/><path stroke="#d4a99e" stroke-width="3.4" d="M353.4 742h0M353.5 720.4h0M353.5 741.7h0M353.6 743.2h0M353.6 738.2h0M353.7 726.5h0M353.7 741.9h0M353.9 740h0M354 744.5h0M354.1 735.1h0M354.1 732.7h0M354.2 727.7h0M354.2 724.2h0M354.2 735.2h0M354.3 745.6h0M354.4 727.9h0M354.5 746.6h0M354.5 727.4h0M354.7 734.2h0M354.7 746.9h0M354.7 724.7h0M354.8 742.4h0M355 747.1h0M355.1 733h0M355.1 736.4h0M355.2 747.8h0M355.2 738.6h0M355.3 728.6h0M355.3 717.3h0M355.4 721.2h0M355.5 719.7h0M355.5 727.7h0M355.6 723.3h0M355.6 733.7h0M355.7 722.5h0M355.8 747.7h0M355.9 731.6h0M355.9 738.7h0M356 747.9h0M356.1 724.1h0M356.3 731.9h0M356.3 734.4h0M356.3 741.6h0M356.4 731.7h0M356.7 725.7h0M356.7 739.1h0"/><path stroke="#d4a99e" stroke-width="3.8" d="M354.1 676h0M354.4 677.7h0M354.6 682.3h0M355.2 681.5h0M355.7 684.3h0M356.3 671.1h0M356.4 680.8h0M356.4 678.4h0M356.5 678.3h0M356.7 671.3h0"/><path stroke="#d7a699" stroke-width="3.8" d="M356.8 682.2h0M357.1 681.9h0M357.6 680.5h0M358.1 679.2h0M358.2 683.5h0M358.4 679.8h0M358.9 679.5h0M359.4 672.7h0M359.5 683.9h0M359.5 676.1h0M359.5 678.6h0M359.8 668h0M359.9 679h0M360 668.8h0M360.1 676.2h0"/><path stroke="#ceafa7" stroke-width="3.6" d="M346.7 714.7h0M346.8 700h0M346.8 697.7h0M346.8 701.2h0M346.9 710.5h0M346.9 706.6h0M347.2 706.9h0M347.2 715.8h0M347.2 703.7h0M347.3 699.3h0M347.3 705.6h0M347.3 706.2h0M347.3 703.1h0M347.4 701.5h0M347.4 698.6h0M347.6 684.9h0M347.7 713.4h0M348 714h0M348.1 701.9h0M348.1 703.7h0M348.3 700.5h0M348.3 705.9h0M348.4 709.2h0M348.5 713.7h0M348.5 698.8h0M348.6 703.5h0M348.7 698.6h0M348.7 700.1h0M348.8 702.4h0M348.8 708.9h0M349.1 712.2h0M349.3 712.6h0M349.3 716h0M349.4 687.6h0M349.4 704.2h0M349.4 711.9h0M349.6 710.5h0M349.7 690.5h0M349.8 700.7h0M349.8 702.8h0M349.9 697.7h0M349.9 694.5h0"/><path stroke="#e5907a" stroke-width="3.4" d="M380.6 748.6h0M380.7 747.2h0M381.1 726.9h0M381.1 731.1h0M381.2 735.6h0M381.9 744.8h0M382.2 718.2h0M382.2 725.9h0M383.1 737.5h0M383.3 719.3h0M383.6 726.9h0M383.8 746.1h0"/><path stroke="#d9a395" stroke-width="3.8" d="M360.2 681h0M360.2 683.8h0M360.3 673.9h0M360.9 683h0M361 680.7h0M361.2 681.6h0M361.6 683.6h0M362.1 667.3h0M362.5 660h0M362.6 679.5h0M362.8 676.6h0M363.2 680.8h0"/><path stroke="#e98971" stroke-width="3.6" d="M387.5 712.4h0M387.8 696.2h0M388 697.5h0M388.1 692.9h0M388.2 716.5h0M388.6 688h0M388.8 687h0M388.8 691.9h0M388.9 689.5h0M389 694.4h0M389.1 709.9h0M389.5 713.4h0M389.5 689.4h0M389.6 709.2h0M389.9 692h0M390 689.5h0M390.3 701.1h0M390.3 691.5h0M390.5 695h0M390.6 707.6h0"/><path stroke="#f46c4e" stroke-width="3.4" d="M414.5 723h0M414.5 738.2h0M415.9 717.8h0M416 720.9h0M416.1 737.4h0M416.7 730.5h0M416.8 731.8h0M417 733.8h0M417.4 731h0"/><path stroke="#f5684a" stroke-width="3.4" d="M418 717.2h0M418.3 736.8h0M419.3 728.8h0M420.5 737h0"/><path stroke="#f66446" stroke-width="3.4" d="M422.8 739h0M423.2 723.8h0"/><path stroke="#e5907a" stroke-width="3.8" d="M380.6 675.6h0M380.7 680.6h0M381.1 678.9h0M381.2 683.3h0M381.3 679.2h0M381.3 668.2h0M381.5 678.5h0M381.7 673.7h0M382 673h0M382.5 683.3h0M383 667.9h0M383.2 676.2h0M383.2 659.3h0"/><path stroke="#f0785b" stroke-width="3.4" d="M404.8 738.8h0M404.9 720.5h0M405 719.1h0M405.1 742.7h0M405.4 732.8h0M406 724.9h0M406.7 733.4h0M407 741.4h0"/><path stroke="#e29683" stroke-width="3.8" d="M373.7 682.9h0M374.2 671.3h0M374.7 667.2h0M374.8 669h0M375.2 670.2h0M376.5 666.8h0M376.6 675.9h0M376.9 676.5h0"/><path stroke="#f17457" stroke-width="3.4" d="M407.8 741.4h0M408.3 721.2h0M408.5 723.3h0M409 724.1h0M409 746.1h0M409.9 740.4h0M410.4 742.3h0"/><path stroke="#ec8269" stroke-width="3.8" d="M394.3 678.5h0M395.8 677.1h0M396 668.4h0M396.6 683.8h0M397.1 678.1h0"/><path stroke="#ec8269" stroke-width="3.4" d="M394.4 748.6h0M394.9 748.7h0M395.1 723.9h0M395.4 743.8h0M395.6 727.8h0M396.7 737.3h0M397.3 726.6h0"/><path stroke="#e78d76" stroke-width="3.8" d="M384 673.7h0M384.8 682.7h0M385.5 672.6h0M385.9 662.2h0M386.3 669.5h0M387 658.6h0M387.2 671h0"/><path stroke="#f37053" stroke-width="3.8" d="M411.9 681h0"/><path stroke="#f85c3d" stroke-width="3.4" d="M428.1 727.4h0M428.2 730.5h0M428.7 732.6h0M430 737h0M430.1 728.7h0M430.4 742.6h0M430.5 734.1h0M431.2 734.8h0"/><path stroke="#ceafa7" stroke-width="3.8" d="M348.1 682.9h0"/><path stroke="#ccb2ac" stroke-width="3.6" d="M344.7 705.7h0M344.9 702.7h0M345.3 706.2h0M345.4 711.1h0M345.4 691.2h0M345.6 704.5h0M345.7 714.7h0M345.8 698.9h0M345.9 703.9h0M346.4 711.4h0"/><path stroke="#e98971" stroke-width="3.8" d="M387.8 668.5h0M388 675.3h0M388.7 667.5h0M389.7 671.5h0M390 677.3h0M390.1 664.6h0M390.1 681.9h0"/><path stroke="#eb866d" stroke-width="3.8" d="M391.1 657.4h0M391.2 684.1h0M391.4 675h0M391.9 664.2h0M392.1 665.5h0M392.6 683.2h0M392.7 680.3h0M392.9 683.3h0M393.5 670.6h0"/><path stroke="#f76041" stroke-width="3.4" d="M424.7 735.1h0M424.8 739h0M425 738.8h0M425.3 739.8h0M425.5 737.1h0M426 740.2h0M426.9 720.9h0"/><path stroke="#f95738" stroke-width="3.4" d="M431.6 733.2h0M432 746.6h0"/><path stroke="#f37053" stroke-width="3.6" d="M411.6 695.9h0M411.6 701.8h0M411.7 710.8h0M411.8 701.4h0M413 716h0M413.1 700.4h0M413.1 695.6h0M413.2 707.1h0"/><path stroke="#d1aca2" stroke-width="3.8" d="M351.1 683.8h0M351.3 682.2h0M351.4 681.4h0M351.5 681.3h0M352.3 682.1h0M353.3 668h0"/><path stroke="#f5684a" stroke-width="3.6" d="M420.3 707.9h0M420.5 707.8h0M421 713.5h0"/><path stroke="#ef7b60" stroke-width="3.8" d="M401.9 682.6h0"/><path stroke="#f17457" stroke-width="3.8" d="M408.4 683.8h0"/><path stroke="#9b7adc" stroke-width="4.0" d="M274.7 626.5h0"/><path stroke="#a78ed4" stroke-width="4.0" d="M291 635.4h0"/><path stroke="#9b7adc" stroke-width="3.8" d="M274.9 660.9h0M274.9 673h0"/><path stroke="#7950ec" stroke-width="3.8" d="M238.6 672h0"/><path stroke="#6139f3" stroke-width="3.6" d="M222.3 690h0"/><path stroke="#9876de" stroke-width="3.8" d="M271 676.4h0"/><path stroke="#8c65e4" stroke-width="3.6" d="M256.4 698.2h0M257.9 694h0"/><path stroke="#6c43f0" stroke-width="3.4" d="M229 718.4h0M230.2 737.7h0"/><path stroke="#855de7" stroke-width="3.6" d="M250.7 716.5h0"/><path stroke="#210dfe" stroke-width="3.4" d="M200.3 743.4h0"/><path stroke="#5b34f5" stroke-width="3.4" d="M219.6 744.4h0"/><path stroke="#673ef2" stroke-width="3.4" d="M227 745.1h0"/><path stroke="#754ced" stroke-width="3.4" d="M234.7 744.4h0"/><path stroke="#7147ef" stroke-width="3.4" d="M233.2 736.5h0"/><path stroke="#855de7" stroke-width="3.4" d="M248.3 730.8h0M249.2 741.9h0"/><path stroke="#8c65e4" stroke-width="3.4" d="M255.2 728.3h0"/><path stroke="#7950ec" stroke-width="3.4" d="M241.3 746.8h0"/><path stroke="#7d54ea" stroke-width="3.4" d="M244.3 745.6h0"/><path stroke="#f5684a" stroke-width="4.2" d="M419.7 595.9h0"/><path stroke="#e29683" stroke-width="4.0" d="M374.5 621.1h0"/><path stroke="#e4937f" stroke-width="4.0" d="M379.2 638.4h0"/><path stroke="#ef7b60" stroke-width="4.0" d="M403.9 637.4h0"/><path stroke="#f37053" stroke-width="4.0" d="M411.6 650.5h0"/><path stroke="#de9d8c" stroke-width="4.0" d="M366.9 649.7h0"/><path stroke="#f76041" stroke-width="3.8" d="M427.9 674.4h0"/><path stroke="#f95234" stroke-width="3.8" d="M435.3 675.4h0"/><path stroke="#fd2d16" stroke-width="3.6" d="M456 688.8h0"/><path stroke="#ff1708" stroke-width="3.6" d="M463 706.8h0"/><path stroke="#fb482b" stroke-width="3.6" d="M442.2 698.6h0"/><path stroke="#fc4226" stroke-width="3.4" d="M445.4 717.9h0"/><path stroke="#fb482b" stroke-width="3.4" d="M444 735.7h0"/><path stroke="#f85c3d" stroke-width="3.6" d="M429.9 685.8h0"/><path stroke="#f66446" stroke-width="3.8" d="M421.7 683.8h0"/><path stroke="#f95234" stroke-width="3.4" d="M435.3 725.3h0M437.8 731.5h0"/><path stroke="#f66446" stroke-width="3.6" d="M421.2 694.9h0"/><path stroke="#f5684a" stroke-width="3.8" d="M419.2 667.3h0"/></g>
<g stroke="#262626" stroke-width="1.0" stroke-dasharray="1.7 1.4" fill="none">
<path d="M319.3 587.5V775.2"/>
<path d="M343.3 587.5V775.2"/>
<path d="M187.4 749.06H475.5"/>
</g>
<path d="M187.4 587.5V775.2" stroke="#4a4a4a" stroke-width="1.1" fill="none"/>
<path d="M186.9 775.2H475.5" stroke="#555555" stroke-width="1.15" fill="none"/>
<g font-family="'Liberation Sans', sans-serif" font-size="3.5" fill="#777"><path d="M211.3 775.8v1.3" stroke="#333" stroke-width="0.6"/><text x="211.3" y="779.8" text-anchor="middle">-10</text><path d="M271.3 775.8v1.3" stroke="#333" stroke-width="0.6"/><text x="271.3" y="779.8" text-anchor="middle">-5</text><path d="M331.3 775.8v1.3" stroke="#333" stroke-width="0.6"/><text x="331.3" y="779.8" text-anchor="middle">0</text><path d="M391.3 775.8v1.3" stroke="#333" stroke-width="0.6"/><text x="391.3" y="779.8" text-anchor="middle">5</text><path d="M451.3 775.8v1.3" stroke="#333" stroke-width="0.6"/><text x="451.3" y="779.8" text-anchor="middle">10</text><path d="M186.9 766.6h-1.3" stroke="#333" stroke-width="0.6"/><text x="185.2" y="767.9" text-anchor="end">0</text><path d="M186.9 699.2h-1.3" stroke="#333" stroke-width="0.6"/><text x="185.2" y="700.5" text-anchor="end">5</text><path d="M186.9 631.8h-1.3" stroke="#333" stroke-width="0.6"/><text x="185.2" y="633.1" text-anchor="end">10</text></g>
<text x="332.0" y="784.0" font-family="'Liberation Sans', sans-serif" font-size="4.6" fill="#222" text-anchor="middle" textLength="17.8" lengthAdjust="spacingAndGlyphs">log2(FC)</text>
<text transform="translate(177.8 680.9) rotate(-90)" font-family="'Liberation Sans', sans-serif" font-size="4.6" fill="#222" text-anchor="middle" x="0" y="1.6" textLength="29.7" lengthAdjust="spacingAndGlyphs">-log10(p-value)</text>
<text x="338.2" y="568.0" font-family="'Liberation Serif', serif" font-weight="bold" font-size="12.5" text-anchor="middle" textLength="15.7" lengthAdjust="spacingAndGlyphs">H6</text>
<rect x="231.45" y="573.55" width="25.5" height="7.1" fill="#cfe0f9" stroke="#1a6ae8" stroke-width="1.7"/>
<text x="261.4" y="578.9" font-family="'Liberation Sans', sans-serif" font-size="9" fill="#505050" textLength="56.4" lengthAdjust="spacingAndGlyphs">Sig.Down [1666]</text>
<rect x="325.35" y="573.55" width="25.5" height="7.1" fill="#fcd3d4" stroke="#f0322a" stroke-width="1.7"/>
<text x="354.8" y="578.9" font-family="'Liberation Sans', sans-serif" font-size="9" fill="#505050" textLength="47.2" lengthAdjust="spacingAndGlyphs">Sig.Up [1302]</text>
<rect x="408.85" y="573.55" width="25.5" height="7.1" fill="#efefef" stroke="#c8c8c8" stroke-width="1.7"/>
<text x="438.8" y="578.9" font-family="'Liberation Sans', sans-serif" font-size="9" fill="#505050" textLength="44.5" lengthAdjust="spacingAndGlyphs">Unsig. [1576]</text>
<defs><linearGradient id="gH6" x1="0" y1="0" x2="0" y2="1"><stop offset="0.000" stop-color="#fe210e"/><stop offset="0.050" stop-color="#fc4024"/><stop offset="0.100" stop-color="#f95536"/><stop offset="0.150" stop-color="#f56648"/><stop offset="0.200" stop-color="#f17659"/><stop offset="0.250" stop-color="#ec846a"/><stop offset="0.300" stop-color="#e5917b"/><stop offset="0.350" stop-color="#dd9d8d"/><stop offset="0.400" stop-color="#d4a99e"/><stop offset="0.450" stop-color="#c8b5b0"/><stop offset="0.500" stop-color="#bdbac0"/><stop offset="0.550" stop-color="#b6abc7"/><stop offset="0.600" stop-color="#af9bce"/><stop offset="0.650" stop-color="#a68bd5"/><stop offset="0.700" stop-color="#9c7cdb"/><stop offset="0.750" stop-color="#916ce2"/><stop offset="0.800" stop-color="#845be8"/><stop offset="0.850" stop-color="#744bee"/><stop offset="0.900" stop-color="#6039f4"/><stop offset="0.950" stop-color="#4524f9"/><stop offset="1.000" stop-color="#0000ff"/></linearGradient></defs>
<rect x="482.9" y="667.9" width="7" height="34.0" fill="url(#gH6)"/>
<g font-family="'Liberation Sans', sans-serif" font-size="3.7" fill="#333"><path d="M482.9 669.13h1.3M488.6 669.13h1.3" stroke="#fff" stroke-width="0.4"/><text x="491.5" y="670.4">10</text><path d="M482.9 676.82h1.3M488.6 676.82h1.3" stroke="#fff" stroke-width="0.4"/><text x="491.5" y="678.1">5</text><path d="M482.9 684.52h1.3M488.6 684.52h1.3" stroke="#fff" stroke-width="0.4"/><text x="491.5" y="685.8">0</text><path d="M482.9 692.21h1.3M488.6 692.21h1.3" stroke="#fff" stroke-width="0.4"/><text x="491.5" y="693.5">-5</text><path d="M482.9 699.90h1.3M488.6 699.90h1.3" stroke="#fff" stroke-width="0.4"/><text x="491.5" y="701.2">-10</text></g>
<text x="482.9" y="666.1" font-family="'Liberation Sans', sans-serif" font-size="4.6" fill="#222" textLength="24.3" lengthAdjust="spacingAndGlyphs">FoldChange</text></svg></body></html>
